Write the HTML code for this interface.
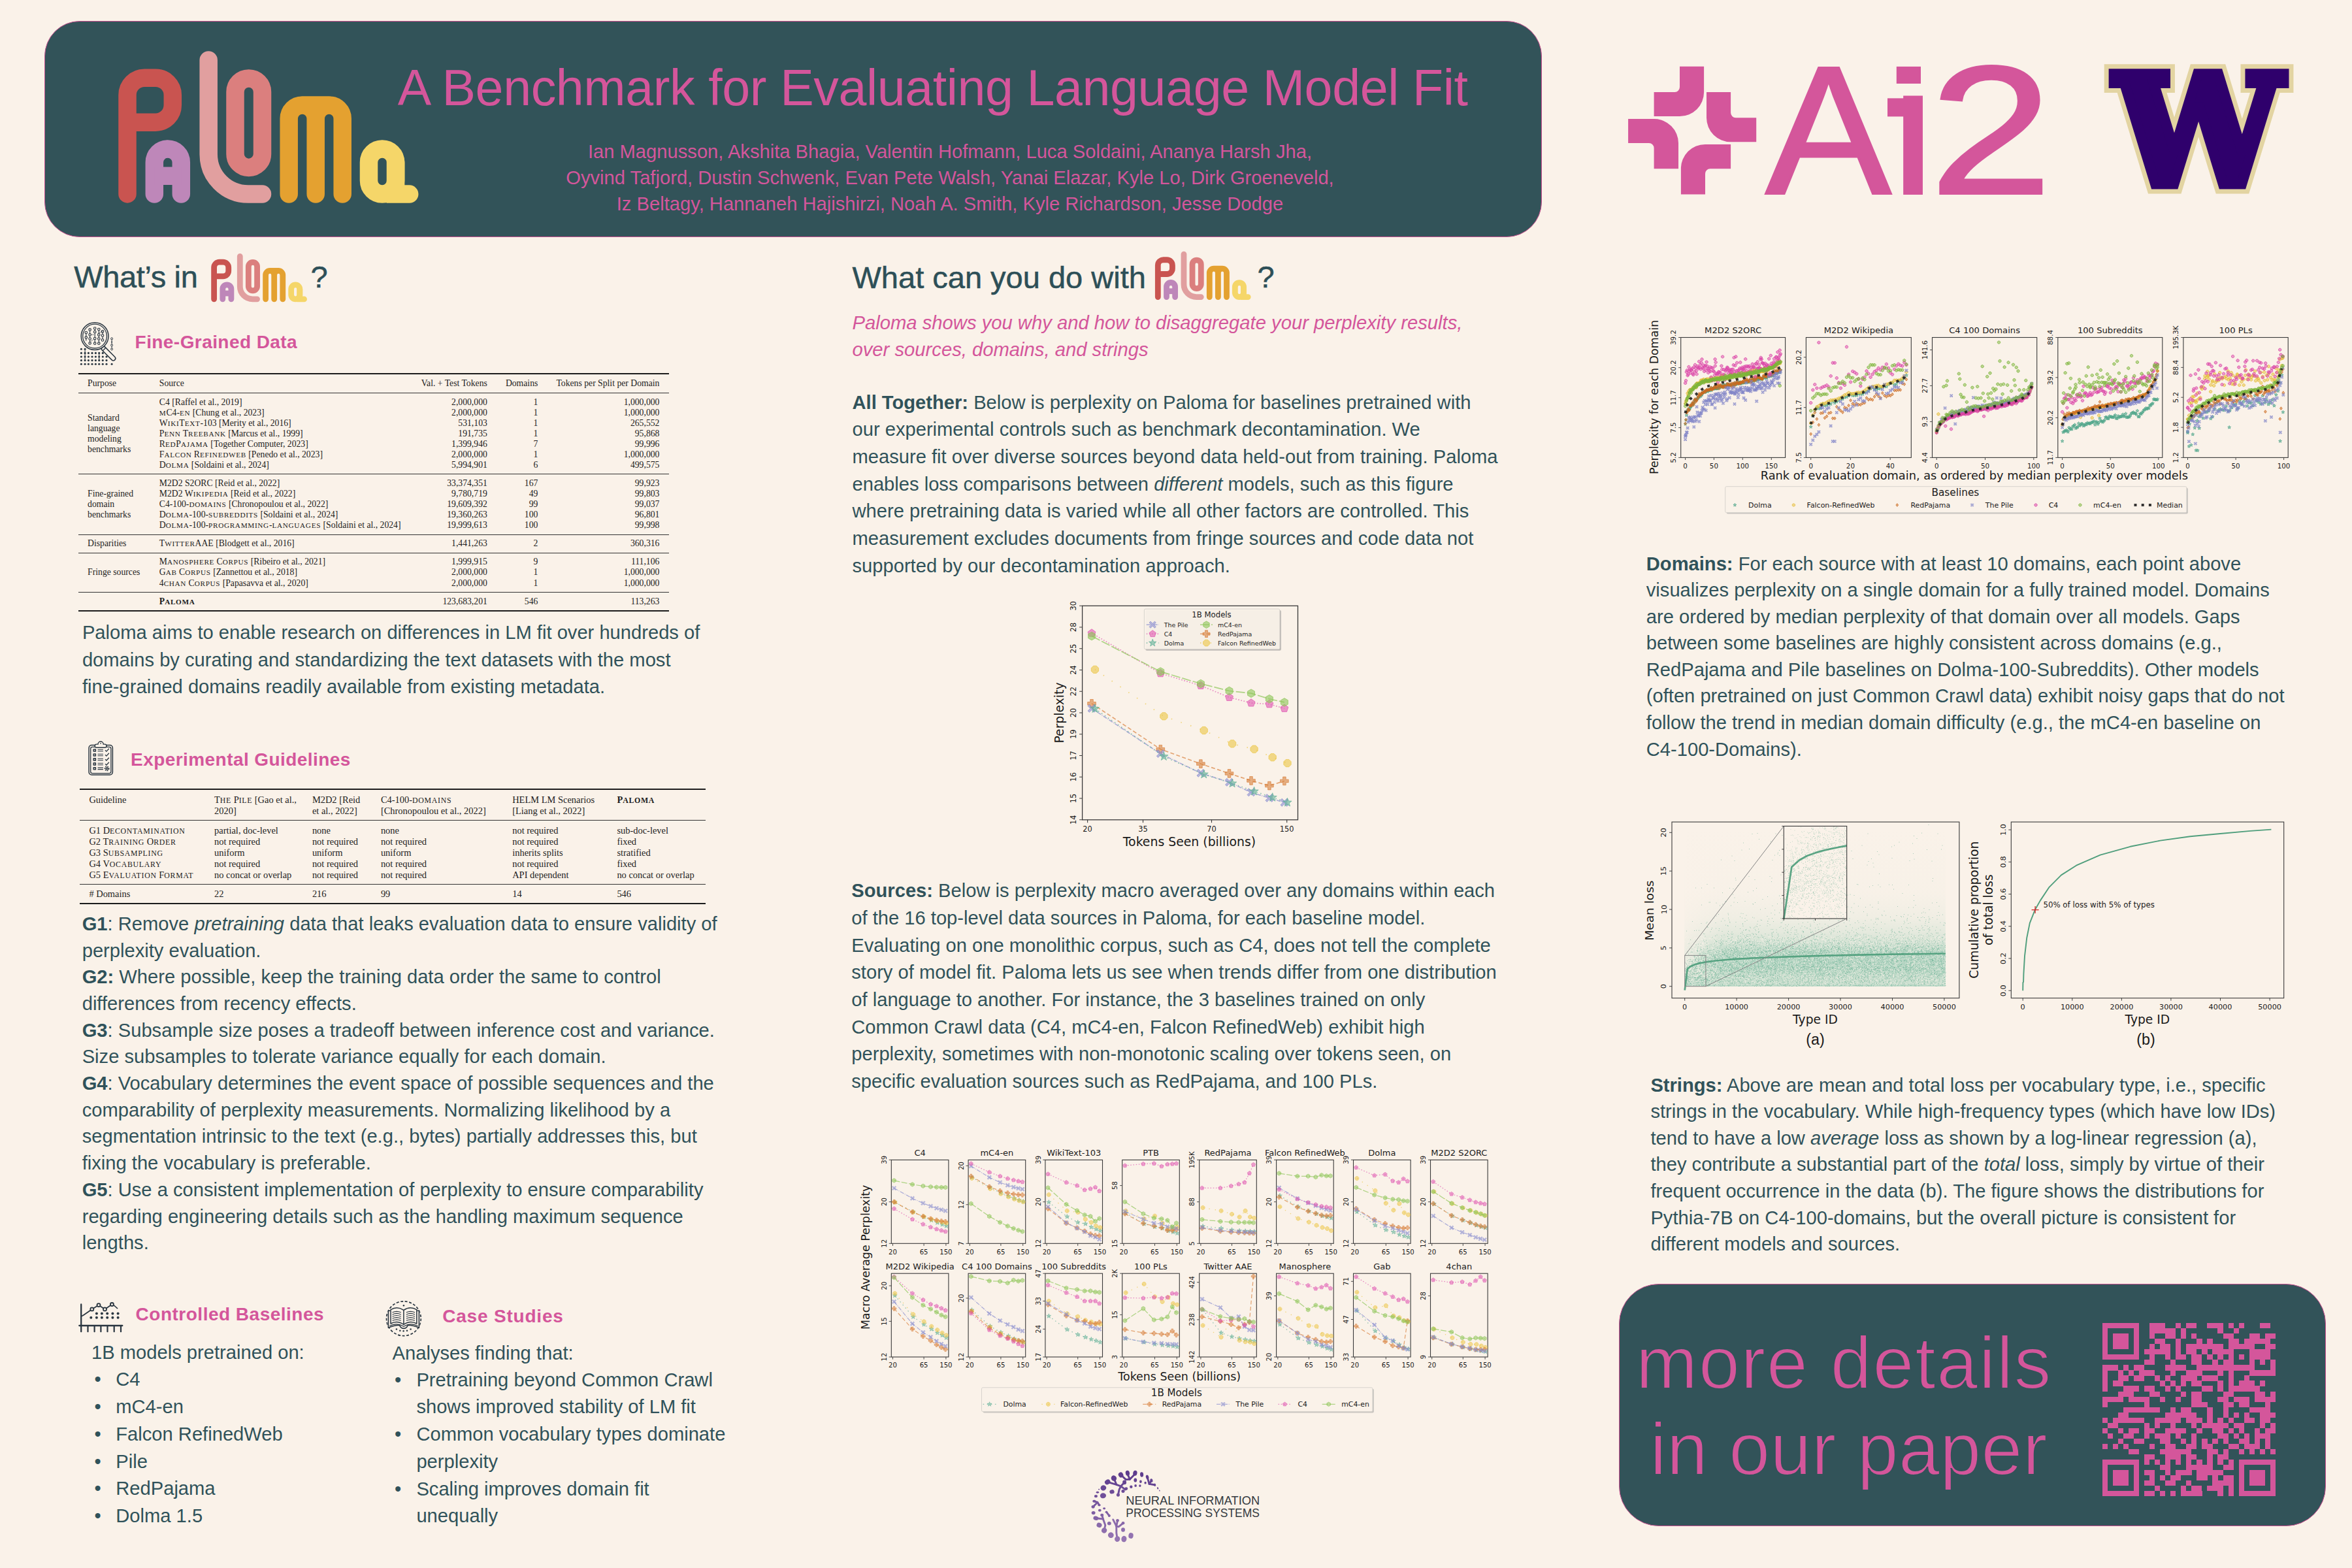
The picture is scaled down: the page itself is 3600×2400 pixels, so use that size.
<!DOCTYPE html>
<html lang="en">
<head>
<meta charset="utf-8">
<title>Paloma: A Benchmark for Evaluating Language Model Fit</title>
<style>
html,body{margin:0;padding:0;}
body{width:3600px;height:2400px;background:#faf2e9;position:relative;overflow:hidden;font-family:"Liberation Sans",Arial,sans-serif;color:#2f4f57;}
.abs{position:absolute;white-space:nowrap;}
.hdr{position:absolute;left:68px;top:32px;width:2290px;height:329px;background:#325359;border:1px solid #c9508f;border-radius:54px;}
.title{left:608.7px;top:79.15px;font-size:77.2px;letter-spacing:-0.41px;line-height:110px;color:#d4569b;}
.authors{left:854px;width:1200px;top:0;text-align:center;font-size:29.17px;line-height:40.4px;color:#d4569b;}
.h1{font-size:47px;line-height:60px;color:#2d4f57;letter-spacing:-0.35px;-webkit-text-stroke:0.5px #2d4f57;}
.h2{font-size:28px;font-weight:bold;letter-spacing:0.43px;line-height:40px;color:#d4569b;}
.p{font-size:29.15px;line-height:41.67px;color:#30525a;}
.p b{font-weight:bold;}
.pi{font-size:29.22px;line-height:40.8px;color:#d4569b;font-style:italic;}
.rule{position:absolute;background:#222;height:2px;}
.t{position:absolute;white-space:nowrap;font-family:"Liberation Serif","Times New Roman",serif;color:#1c1c1c;font-size:13.6px;line-height:16px;}
.sc{font-variant:small-caps;}
.ftr{position:absolute;left:2478.2px;top:1964.8px;width:1080px;height:369.5px;background:#325359;border:1px solid #c9508f;border-radius:61px;}
.big{font-size:113px;line-height:132px;color:#d4569b;-webkit-text-stroke:2px #325359;}
</style>
</head>
<body>
<!-- HEADER -->
<div class="hdr"></div>
<div class="abs title" id="title">A Benchmark for Evaluating Language Model Fit</div>
<div class="abs authors" id="authors" style="top:211.5px">Ian Magnusson, Akshita Bhagia, Valentin Hofmann, Luca Soldaini, Ananya Harsh Jha,<br>Oyvind Tafjord, Dustin Schwenk, Evan Pete Walsh, Yanai Elazar, Kyle Lo, Dirk Groeneveld,<br>Iz Beltagy, Hannaneh Hajishirzi, Noah A. Smith, Kyle Richardson, Jesse Dodge</div>
<svg style="position:absolute;left:170px;top:60px;overflow:visible" width="490" height="270" viewBox="170 60 490 270" ><g fill="none" stroke-width="27.5" stroke-linecap="round" stroke-linejoin="round"><path stroke="#c95450" d="M195,296.9V145.4A26.2,26.2 0 0 1 221.2,119.2H238.1A26.2,26.2 0 0 1 264.3,145.4V161A26.2,26.2 0 0 1 238.1,187.2H195"/><path stroke="#be87b9" d="M236.3,297V248.4A20.5,20.5 0 0 1 277.3,248.4V297"/><path stroke="#be87b9" stroke-linecap="butt" d="M236.3,269.3H277.3"/><path stroke="#e19f9f" d="M319.2,92V236.3A60.7,60.7 0 0 0 379.9,297H401.5"/><rect stroke="#db7f7e" x="360" y="120" width="41.5" height="136.4" rx="20.75"/><path stroke="#e4a130" d="M442.2,297V181.5A20.5,20.5 0 0 1 483.2,181.5V297M483.2,181.5A20.5,20.5 0 0 1 524.2,181.5V297M462.7,161H503.7"/><rect stroke="#f5d669" x="564.5" y="228" width="41.1" height="69.1" rx="20.5"/><path stroke="#f5d669" stroke-linejoin="miter" d="M605.6,248.5V297.1H626.7"/></g></svg>
<svg style="position:absolute;left:2480px;top:60px;overflow:visible" width="680" height="260" viewBox="2480 60 680 260"><path fill="#d4569b" d="M2571,101.8H2608.1V141A37,37 0 0 1 2571.1,178H2531.6V140.9H2563.4A7.6,7.6 0 0 0 2571,133.3ZM2612,140.9H2649.1V172.6A7.6,7.6 0 0 0 2656.7,180.2H2688.2V217.3H2649A37,37 0 0 1 2612,180.3ZM2492.1,182.1H2532A37,37 0 0 1 2569,219.1V258.3H2531.6V226.7A7.6,7.6 0 0 0 2524.0,219.1H2492.1ZM2572.9,297.6V258A37,37 0 0 1 2609.9,221H2649.1V258.3H2617.6A7.6,7.6 0 0 0 2610,265.90000000000003V297.6Z"/><g font-family="Liberation Sans, Arial, sans-serif" font-size="279.8" fill="#d4569b" stroke="#d4569b" stroke-width="3.5" stroke-linejoin="miter"><text id="ai2A" transform="translate(2702.4,296.15) scale(1.03,1)">A</text><text id="ai2i" transform="translate(2895.2,296.15) scale(1.06,1)">i</text><text id="ai22" transform="translate(2953.5,296.15) scale(1.205,1.0)">2</text></g><rect x="2885" y="80" width="66" height="62" fill="#faf2e9"/><rect x="2902.8" y="101.9" width="37.2" height="26.1" fill="#d4569b"/><rect x="2889" y="150.4" width="30" height="28" fill="#d4569b"/></svg>
<svg style="position:absolute;left:3200px;top:70px;overflow:visible" width="340" height="260" viewBox="3200 70 340 260"><text transform="translate(3237.5,282.2) scale(0.985,1.0)" font-family="DejaVu Serif, Liberation Serif, serif" font-weight="bold" font-size="231" fill="#e3d4a2" stroke="#e3d4a2" stroke-width="30" stroke-linejoin="miter" stroke-miterlimit="2.5">W</text><text transform="translate(3237.5,282.2) scale(0.985,1.0)" font-family="DejaVu Serif, Liberation Serif, serif" font-weight="bold" font-size="231" fill="#2f006c" stroke="#2f006c" stroke-width="16" stroke-linejoin="miter" stroke-miterlimit="2.5">W</text></svg>

<!-- LEFT COLUMN -->
<div class="abs h1" id="h1a" style="left:113.2px;top:394px">What’s in</div>
<div class="abs h1" id="h1aq" style="left:475.5px;top:394px">?</div>
<svg style="position:absolute;left:315px;top:380px;overflow:visible" width="165" height="90" viewBox="315 380 165 90" ><g fill="none" stroke-width="27.5" stroke-linecap="round" stroke-linejoin="round" transform="translate(265.31,362.98) scale(0.3195)"><path stroke="#c95450" d="M195,296.9V145.4A26.2,26.2 0 0 1 221.2,119.2H238.1A26.2,26.2 0 0 1 264.3,145.4V161A26.2,26.2 0 0 1 238.1,187.2H195"/><path stroke="#be87b9" d="M236.3,297V248.4A20.5,20.5 0 0 1 277.3,248.4V297"/><path stroke="#be87b9" stroke-linecap="butt" d="M236.3,269.3H277.3"/><path stroke="#e19f9f" d="M319.2,92V236.3A60.7,60.7 0 0 0 379.9,297H401.5"/><rect stroke="#db7f7e" x="360" y="120" width="41.5" height="136.4" rx="20.75"/><path stroke="#e4a130" d="M442.2,297V181.5A20.5,20.5 0 0 1 483.2,181.5V297M483.2,181.5A20.5,20.5 0 0 1 524.2,181.5V297M462.7,161H503.7"/><rect stroke="#f5d669" x="564.5" y="228" width="41.1" height="69.1" rx="20.5"/><path stroke="#f5d669" stroke-linejoin="miter" d="M605.6,248.5V297.1H626.7"/></g></svg>
<svg style="position:absolute;left:118px;top:490px;overflow:visible" width="64" height="72" viewBox="118 490 64 72"><circle cx="124.4" cy="534.2" r="1.55" fill="#2a3640"/><circle cx="130.1" cy="534.2" r="1.55" fill="#2a3640"/><circle cx="124.4" cy="540.4" r="1.55" fill="#2a3640"/><circle cx="130.1" cy="540.4" r="1.55" fill="#2a3640"/><circle cx="135.4" cy="540.4" r="1.55" fill="#2a3640"/><circle cx="141" cy="540.4" r="1.55" fill="#2a3640"/><circle cx="146.4" cy="540.4" r="1.55" fill="#2a3640"/><circle cx="151.7" cy="540.4" r="1.55" fill="#2a3640"/><circle cx="157.3" cy="540.4" r="1.55" fill="#2a3640"/><circle cx="124.4" cy="546" r="1.55" fill="#2a3640"/><circle cx="130.1" cy="546" r="1.55" fill="#2a3640"/><circle cx="135.4" cy="546" r="1.55" fill="#2a3640"/><circle cx="141" cy="546" r="1.55" fill="#2a3640"/><circle cx="146.4" cy="546" r="1.55" fill="#2a3640"/><circle cx="151.7" cy="546" r="1.55" fill="#2a3640"/><circle cx="157.3" cy="546" r="1.55" fill="#2a3640"/><circle cx="163" cy="546" r="1.55" fill="#2a3640"/><circle cx="124.4" cy="551.6" r="1.55" fill="#2a3640"/><circle cx="130.1" cy="551.6" r="1.55" fill="#2a3640"/><circle cx="135.4" cy="551.6" r="1.55" fill="#2a3640"/><circle cx="141" cy="551.6" r="1.55" fill="#2a3640"/><circle cx="146.4" cy="551.6" r="1.55" fill="#2a3640"/><circle cx="151.7" cy="551.6" r="1.55" fill="#2a3640"/><circle cx="157.3" cy="551.6" r="1.55" fill="#2a3640"/><circle cx="163" cy="551.6" r="1.55" fill="#2a3640"/><circle cx="124.4" cy="557.2" r="1.55" fill="#2a3640"/><circle cx="130.1" cy="557.2" r="1.55" fill="#2a3640"/><circle cx="135.4" cy="557.2" r="1.55" fill="#2a3640"/><circle cx="141" cy="557.2" r="1.55" fill="#2a3640"/><circle cx="146.4" cy="557.2" r="1.55" fill="#2a3640"/><circle cx="151.7" cy="557.2" r="1.55" fill="#2a3640"/><circle cx="157.3" cy="557.2" r="1.55" fill="#2a3640"/><circle cx="163" cy="557.2" r="1.55" fill="#2a3640"/><circle cx="171.1" cy="557.2" r="1.5" fill="#2a3640"/><path d="M130.1,534.2V551.6M151.7,540.4V551.6" stroke="#2a3640" stroke-width="1" fill="none"/><path d="M171.1,518.4V534.4" stroke="#2a3640" stroke-width="0.9" fill="none"/><circle cx="171.1" cy="518.4" r="1.5" fill="#faf2e9" stroke="#2a3640" stroke-width="1"/><circle cx="171.1" cy="528.4" r="1.5" fill="#faf2e9" stroke="#2a3640" stroke-width="1"/><circle cx="171.1" cy="534.4" r="1.5" fill="#faf2e9" stroke="#2a3640" stroke-width="1"/><circle cx="171.1" cy="523.5" r="1" fill="#2a3640"/><g transform="rotate(45 156.3 531.4)"><rect x="156.3" y="528.1" width="27.5" height="6.6" rx="3.3" fill="#faf2e9" stroke="#2a3640" stroke-width="1.5"/><path d="M160.8,528.1V534.7" stroke="#2a3640" stroke-width="1.3"/></g><circle cx="145.1" cy="514.6" r="20.9" fill="#faf2e9" stroke="#2a3640" stroke-width="1.5"/><circle cx="145.1" cy="514.6" r="18.4" fill="none" stroke="#2a3640" stroke-width="1.3"/><path d="M131.8,509V521.5" stroke="#2a3640" stroke-width="1.1"/><circle cx="131.8" cy="509" r="1.75" fill="#faf2e9" stroke="#2a3640" stroke-width="1.15"/><circle cx="131.8" cy="516.6" r="1.75" fill="#faf2e9" stroke="#2a3640" stroke-width="1.15"/><path d="M137.6,504.6V525.3" stroke="#2a3640" stroke-width="1.1"/><circle cx="137.6" cy="504.6" r="1.75" fill="#faf2e9" stroke="#2a3640" stroke-width="1.15"/><circle cx="137.6" cy="512.3" r="1.75" fill="#faf2e9" stroke="#2a3640" stroke-width="1.15"/><circle cx="137.6" cy="518.5" r="1.75" fill="#faf2e9" stroke="#2a3640" stroke-width="1.15"/><circle cx="137.6" cy="525.3" r="1.75" fill="#faf2e9" stroke="#2a3640" stroke-width="1.15"/><path d="M145.2,502.5V525.6" stroke="#2a3640" stroke-width="1.1"/><circle cx="145.2" cy="502.5" r="1.75" fill="#faf2e9" stroke="#2a3640" stroke-width="1.15"/><circle cx="145.2" cy="508" r="1.75" fill="#faf2e9" stroke="#2a3640" stroke-width="1.15"/><circle cx="145.2" cy="518" r="1.75" fill="#faf2e9" stroke="#2a3640" stroke-width="1.15"/><circle cx="145.2" cy="525.6" r="1.75" fill="#faf2e9" stroke="#2a3640" stroke-width="1.15"/><path d="M151.3,504V525.6" stroke="#2a3640" stroke-width="1.1"/><circle cx="151.3" cy="504" r="1.75" fill="#faf2e9" stroke="#2a3640" stroke-width="1.15"/><circle cx="151.3" cy="512.4" r="1.75" fill="#faf2e9" stroke="#2a3640" stroke-width="1.15"/><circle cx="151.3" cy="518.5" r="1.75" fill="#faf2e9" stroke="#2a3640" stroke-width="1.15"/><circle cx="151.3" cy="525.6" r="1.75" fill="#faf2e9" stroke="#2a3640" stroke-width="1.15"/><path d="M157,507.3V520.5" stroke="#2a3640" stroke-width="1.1"/><circle cx="157" cy="507.3" r="1.75" fill="#faf2e9" stroke="#2a3640" stroke-width="1.15"/><circle cx="157" cy="513.5" r="1.75" fill="#faf2e9" stroke="#2a3640" stroke-width="1.15"/><circle cx="157" cy="520.5" r="1.75" fill="#faf2e9" stroke="#2a3640" stroke-width="1.15"/><path d="M151.3,509.5L157,507.3M139,512.3H144M139,522.5L144,519" stroke="#2a3640" stroke-width="0.8" opacity="0.7"/></svg>
<div class="abs h2" id="h2a" style="left:206.6px;top:503.5px">Fine-Grained Data</div>
<div class="rule" style="left:120.4px;top:571.30px;width:903.4px;height:2.0px;background:#1c1c1c"></div><div class="rule" style="left:120.4px;top:600.90px;width:903.4px;height:1.2px;background:#333"></div><div class="t" style="left:134.1px;top:579.08px;font-size:13.7px;line-height:16px">Purpose</div><div class="t" style="left:243.8px;top:579.08px;font-size:13.7px;line-height:16px">Source</div><div class="t" style="right:2854.2px;top:579.08px;font-size:13.7px;line-height:16px">Val. + Test Tokens</div><div class="t" style="right:2776.7px;top:579.08px;font-size:13.7px;line-height:16px">Domains</div><div class="t" style="right:2590.6px;top:579.08px;font-size:13.7px;line-height:16px">Tokens per Split per Domain</div><div class="t" style="left:243.8px;top:607.58px;font-size:13.7px;line-height:16px">C4 [Raffel et al., 2019]</div><div class="t" style="right:2854.2px;top:607.58px;font-size:13.7px;line-height:16px">2,000,000</div><div class="t" style="right:2776.7px;top:607.58px;font-size:13.7px;line-height:16px">1</div><div class="t" style="right:2590.6px;top:607.58px;font-size:13.7px;line-height:16px">1,000,000</div><div class="t" style="left:243.8px;top:623.68px;font-size:13.7px;line-height:16px"><span style="font-size:82%;letter-spacing:0.06em">M</span>C4-<span style="font-size:82%;letter-spacing:0.06em">EN</span> [Chung et al., 2023]</div><div class="t" style="right:2854.2px;top:623.68px;font-size:13.7px;line-height:16px">2,000,000</div><div class="t" style="right:2776.7px;top:623.68px;font-size:13.7px;line-height:16px">1</div><div class="t" style="right:2590.6px;top:623.68px;font-size:13.7px;line-height:16px">1,000,000</div><div class="t" style="left:243.8px;top:639.78px;font-size:13.7px;line-height:16px">W<span style="font-size:82%;letter-spacing:0.06em">IKI</span>T<span style="font-size:82%;letter-spacing:0.06em">EXT</span>-103 [Merity et al., 2016]</div><div class="t" style="right:2854.2px;top:639.78px;font-size:13.7px;line-height:16px">531,103</div><div class="t" style="right:2776.7px;top:639.78px;font-size:13.7px;line-height:16px">1</div><div class="t" style="right:2590.6px;top:639.78px;font-size:13.7px;line-height:16px">265,552</div><div class="t" style="left:243.8px;top:655.88px;font-size:13.7px;line-height:16px">P<span style="font-size:82%;letter-spacing:0.06em">ENN</span> T<span style="font-size:82%;letter-spacing:0.06em">REEBANK</span> [Marcus et al., 1999]</div><div class="t" style="right:2854.2px;top:655.88px;font-size:13.7px;line-height:16px">191,735</div><div class="t" style="right:2776.7px;top:655.88px;font-size:13.7px;line-height:16px">1</div><div class="t" style="right:2590.6px;top:655.88px;font-size:13.7px;line-height:16px">95,868</div><div class="t" style="left:243.8px;top:671.98px;font-size:13.7px;line-height:16px">R<span style="font-size:82%;letter-spacing:0.06em">ED</span>P<span style="font-size:82%;letter-spacing:0.06em">AJAMA</span> [Together Computer, 2023]</div><div class="t" style="right:2854.2px;top:671.98px;font-size:13.7px;line-height:16px">1,399,946</div><div class="t" style="right:2776.7px;top:671.98px;font-size:13.7px;line-height:16px">7</div><div class="t" style="right:2590.6px;top:671.98px;font-size:13.7px;line-height:16px">99,996</div><div class="t" style="left:243.8px;top:688.08px;font-size:13.7px;line-height:16px">F<span style="font-size:82%;letter-spacing:0.06em">ALCON</span> R<span style="font-size:82%;letter-spacing:0.06em">EFINEDWEB</span> [Penedo et al., 2023]</div><div class="t" style="right:2854.2px;top:688.08px;font-size:13.7px;line-height:16px">2,000,000</div><div class="t" style="right:2776.7px;top:688.08px;font-size:13.7px;line-height:16px">1</div><div class="t" style="right:2590.6px;top:688.08px;font-size:13.7px;line-height:16px">1,000,000</div><div class="t" style="left:243.8px;top:704.18px;font-size:13.7px;line-height:16px">D<span style="font-size:82%;letter-spacing:0.06em">OLMA</span> [Soldaini et al., 2024]</div><div class="t" style="right:2854.2px;top:704.18px;font-size:13.7px;line-height:16px">5,994,901</div><div class="t" style="right:2776.7px;top:704.18px;font-size:13.7px;line-height:16px">6</div><div class="t" style="right:2590.6px;top:704.18px;font-size:13.7px;line-height:16px">499,575</div><div class="t" style="left:134.1px;top:631.68px;font-size:13.7px;line-height:16px">Standard</div><div class="t" style="left:134.1px;top:647.81px;font-size:13.7px;line-height:16px">language</div><div class="t" style="left:134.1px;top:663.94px;font-size:13.7px;line-height:16px">modeling</div><div class="t" style="left:134.1px;top:680.07px;font-size:13.7px;line-height:16px">benchmarks</div><div class="rule" style="left:120.4px;top:725.20px;width:903.4px;height:1.2px;background:#333"></div><div class="t" style="left:243.8px;top:731.78px;font-size:13.7px;line-height:16px">M2D2 S2ORC [Reid et al., 2022]</div><div class="t" style="right:2854.2px;top:731.78px;font-size:13.7px;line-height:16px">33,374,351</div><div class="t" style="right:2776.7px;top:731.78px;font-size:13.7px;line-height:16px">167</div><div class="t" style="right:2590.6px;top:731.78px;font-size:13.7px;line-height:16px">99,923</div><div class="t" style="left:243.8px;top:747.88px;font-size:13.7px;line-height:16px">M2D2 W<span style="font-size:82%;letter-spacing:0.06em">IKIPEDIA</span> [Reid et al., 2022]</div><div class="t" style="right:2854.2px;top:747.88px;font-size:13.7px;line-height:16px">9,780,719</div><div class="t" style="right:2776.7px;top:747.88px;font-size:13.7px;line-height:16px">49</div><div class="t" style="right:2590.6px;top:747.88px;font-size:13.7px;line-height:16px">99,803</div><div class="t" style="left:243.8px;top:763.98px;font-size:13.7px;line-height:16px">C4-100-<span style="font-size:82%;letter-spacing:0.06em">DOMAINS</span> [Chronopoulou et al., 2022]</div><div class="t" style="right:2854.2px;top:763.98px;font-size:13.7px;line-height:16px">19,609,392</div><div class="t" style="right:2776.7px;top:763.98px;font-size:13.7px;line-height:16px">99</div><div class="t" style="right:2590.6px;top:763.98px;font-size:13.7px;line-height:16px">99,037</div><div class="t" style="left:243.8px;top:780.08px;font-size:13.7px;line-height:16px">D<span style="font-size:82%;letter-spacing:0.06em">OLMA</span>-100-<span style="font-size:82%;letter-spacing:0.06em">SUBREDDITS</span> [Soldaini et al., 2024]</div><div class="t" style="right:2854.2px;top:780.08px;font-size:13.7px;line-height:16px">19,360,263</div><div class="t" style="right:2776.7px;top:780.08px;font-size:13.7px;line-height:16px">100</div><div class="t" style="right:2590.6px;top:780.08px;font-size:13.7px;line-height:16px">96,801</div><div class="t" style="left:243.8px;top:796.18px;font-size:13.7px;line-height:16px">D<span style="font-size:82%;letter-spacing:0.06em">OLMA</span>-100-<span style="font-size:82%;letter-spacing:0.06em">PROGRAMMING</span>-<span style="font-size:82%;letter-spacing:0.06em">LANGUAGES</span> [Soldaini et al., 2024]</div><div class="t" style="right:2854.2px;top:796.18px;font-size:13.7px;line-height:16px">19,999,613</div><div class="t" style="right:2776.7px;top:796.18px;font-size:13.7px;line-height:16px">100</div><div class="t" style="right:2590.6px;top:796.18px;font-size:13.7px;line-height:16px">99,998</div><div class="t" style="left:134.1px;top:747.88px;font-size:13.7px;line-height:16px">Fine-grained</div><div class="t" style="left:134.1px;top:763.98px;font-size:13.7px;line-height:16px">domain</div><div class="t" style="left:134.1px;top:780.08px;font-size:13.7px;line-height:16px">benchmarks</div><div class="rule" style="left:120.4px;top:817.50px;width:903.4px;height:1.2px;background:#333"></div><div class="t" style="left:243.8px;top:824.18px;font-size:13.7px;line-height:16px">T<span style="font-size:82%;letter-spacing:0.06em">WITTER</span>AAE [Blodgett et al., 2016]</div><div class="t" style="right:2854.2px;top:824.18px;font-size:13.7px;line-height:16px">1,441,263</div><div class="t" style="right:2776.7px;top:824.18px;font-size:13.7px;line-height:16px">2</div><div class="t" style="right:2590.6px;top:824.18px;font-size:13.7px;line-height:16px">360,316</div><div class="t" style="left:134.1px;top:824.18px;font-size:13.7px;line-height:16px">Disparities</div><div class="rule" style="left:120.4px;top:845.60px;width:903.4px;height:1.2px;background:#333"></div><div class="t" style="left:243.8px;top:852.38px;font-size:13.7px;line-height:16px">M<span style="font-size:82%;letter-spacing:0.06em">ANOSPHERE</span> C<span style="font-size:82%;letter-spacing:0.06em">ORPUS</span> [Ribeiro et al., 2021]</div><div class="t" style="right:2854.2px;top:852.38px;font-size:13.7px;line-height:16px">1,999,915</div><div class="t" style="right:2776.7px;top:852.38px;font-size:13.7px;line-height:16px">9</div><div class="t" style="right:2590.6px;top:852.38px;font-size:13.7px;line-height:16px">111,106</div><div class="t" style="left:243.8px;top:868.48px;font-size:13.7px;line-height:16px">G<span style="font-size:82%;letter-spacing:0.06em">AB</span> C<span style="font-size:82%;letter-spacing:0.06em">ORPUS</span> [Zannettou et al., 2018]</div><div class="t" style="right:2854.2px;top:868.48px;font-size:13.7px;line-height:16px">2,000,000</div><div class="t" style="right:2776.7px;top:868.48px;font-size:13.7px;line-height:16px">1</div><div class="t" style="right:2590.6px;top:868.48px;font-size:13.7px;line-height:16px">1,000,000</div><div class="t" style="left:243.8px;top:884.58px;font-size:13.7px;line-height:16px">4<span style="font-size:82%;letter-spacing:0.06em">CHAN</span> C<span style="font-size:82%;letter-spacing:0.06em">ORPUS</span> [Papasavva et al., 2020]</div><div class="t" style="right:2854.2px;top:884.58px;font-size:13.7px;line-height:16px">2,000,000</div><div class="t" style="right:2776.7px;top:884.58px;font-size:13.7px;line-height:16px">1</div><div class="t" style="right:2590.6px;top:884.58px;font-size:13.7px;line-height:16px">1,000,000</div><div class="t" style="left:134.1px;top:868.48px;font-size:13.7px;line-height:16px">Fringe sources</div><div class="rule" style="left:120.4px;top:905.80px;width:903.4px;height:1.2px;background:#333"></div><div class="t" style="left:243.8px;top:912.58px;font-size:13.7px;line-height:16px;font-weight:bold">P<span style="font-size:82%;letter-spacing:0.06em">ALOMA</span></div><div class="t" style="right:2854.2px;top:912.58px;font-size:13.7px;line-height:16px">123,683,201</div><div class="t" style="right:2776.7px;top:912.58px;font-size:13.7px;line-height:16px">546</div><div class="t" style="right:2590.6px;top:912.58px;font-size:13.7px;line-height:16px">113,263</div><div class="rule" style="left:120.4px;top:933.90px;width:903.4px;height:2.0px;background:#1c1c1c"></div>
<div class="abs p" id="p1" style="left:125.9px;top:948.40px;line-height:41.55px">Paloma aims to enable research on differences in LM fit over hundreds of<br>domains by curating and standardizing the text datasets with the most<br>fine-grained domains readily available from existing metadata.</div>
<svg style="position:absolute;left:132px;top:1130px;overflow:visible" width="46" height="60" viewBox="132 1130 46 60"><rect x="136.1" y="1140.6" width="36.3" height="45.4" rx="4.2" fill="none" stroke="#2a3640" stroke-width="1.5"/><rect x="138.7" y="1143.4" width="31.2" height="40.2" rx="2.6" fill="none" stroke="#2a3640" stroke-width="1.3"/><rect x="134.8" y="1183.6" width="0" height="0"/><path d="M147.8,1144.3h12.6a2.6,2.6 0 0 0 0,-5.2h-2.2a4,4 0 0 0 -8.2,0h-2.2a2.6,2.6 0 0 0 0,5.2z" fill="#faf2e9" stroke="#2a3640" stroke-width="1.4"/><circle cx="154.1" cy="1137.8" r="0.9" fill="#2a3640"/><rect x="142.5" y="1146.2" width="4.6" height="4.6" rx="0.8" fill="#2a3640"/><rect x="143.9" y="1147.6" width="1.8" height="1.8" fill="#faf2e9" opacity="0.75"/><path d="M149.6,1147.3H157.9M149.6,1149.8H157.9" stroke="#2a3640" stroke-width="1.05"/><path d="M161,1148.2l1.9,1.9l4,-4.3" fill="none" stroke="#2a3640" stroke-width="1.3"/><rect x="142.5" y="1153.2" width="4.6" height="4.6" rx="0.8" fill="#2a3640"/><rect x="143.9" y="1154.6" width="1.8" height="1.8" fill="#faf2e9" opacity="0.75"/><path d="M149.6,1154.3H157.9M149.6,1156.8H157.9" stroke="#2a3640" stroke-width="1.05"/><path d="M161,1155.2l1.9,1.9l4,-4.3" fill="none" stroke="#2a3640" stroke-width="1.3"/><rect x="142.5" y="1160.1000000000001" width="4.6" height="4.6" rx="0.8" fill="#2a3640"/><rect x="143.9" y="1161.5" width="1.8" height="1.8" fill="#faf2e9" opacity="0.75"/><path d="M149.6,1161.2H157.9M149.6,1163.7H157.9" stroke="#2a3640" stroke-width="1.05"/><path d="M161,1162.1000000000001l1.9,1.9l4,-4.3" fill="none" stroke="#2a3640" stroke-width="1.3"/><rect x="142.5" y="1167.1000000000001" width="4.6" height="4.6" rx="0.8" fill="#2a3640"/><rect x="143.9" y="1168.5" width="1.8" height="1.8" fill="#faf2e9" opacity="0.75"/><path d="M149.6,1168.2H157.9M149.6,1170.7H157.9" stroke="#2a3640" stroke-width="1.05"/><path d="M161,1169.1000000000001l1.9,1.9l4,-4.3" fill="none" stroke="#2a3640" stroke-width="1.3"/><rect x="142.5" y="1174.0" width="4.6" height="4.6" rx="0.8" fill="#2a3640"/><rect x="143.9" y="1175.3999999999999" width="1.8" height="1.8" fill="#faf2e9" opacity="0.75"/><path d="M149.6,1175.1H157.9M149.6,1177.6H157.9" stroke="#2a3640" stroke-width="1.05"/><circle cx="163.6" cy="1176.4" r="2.7" fill="none" stroke="#2a3640" stroke-width="2.4" stroke-dasharray="1.5 1.1"/><circle cx="163.6" cy="1176.4" r="1.6" fill="#2a3640" opacity="0.8"/></svg>
<div class="abs h2" id="h2b" style="left:200.1px;top:1143.3px">Experimental Guidelines</div>
<div class="rule" style="left:122.2px;top:1207.40px;width:957.4px;height:2.0px;background:#1c1c1c"></div><div class="t" style="left:136.4px;top:1216.12px;font-size:14.45px;line-height:16px">Guideline</div><div class="t" style="left:328.0px;top:1216.12px;font-size:14.45px;line-height:16px">T<span style="font-size:82%;letter-spacing:0.06em">HE</span> P<span style="font-size:82%;letter-spacing:0.06em">ILE</span> [Gao et al.,</div><div class="t" style="left:328.0px;top:1233.22px;font-size:14.45px;line-height:16px">2020]</div><div class="t" style="left:477.9px;top:1216.12px;font-size:14.45px;line-height:16px">M2D2 [Reid</div><div class="t" style="left:477.9px;top:1233.22px;font-size:14.45px;line-height:16px">et al., 2022]</div><div class="t" style="left:582.9px;top:1216.12px;font-size:14.45px;line-height:16px">C4-100-<span style="font-size:82%;letter-spacing:0.06em">DOMAINS</span></div><div class="t" style="left:582.9px;top:1233.22px;font-size:14.45px;line-height:16px">[Chronopoulou et al., 2022]</div><div class="t" style="left:784.2px;top:1216.12px;font-size:14.45px;line-height:16px">HELM LM Scenarios</div><div class="t" style="left:784.2px;top:1233.22px;font-size:14.45px;line-height:16px">[Liang et al., 2022]</div><div class="t" style="left:944.4px;top:1216.12px;font-size:14.45px;line-height:16px;font-weight:bold">P<span style="font-size:82%;letter-spacing:0.06em">ALOMA</span></div><div class="rule" style="left:122.2px;top:1255.20px;width:957.4px;height:1.2px;background:#333"></div><div class="t" style="left:136.4px;top:1262.92px;font-size:14.45px;line-height:16px">G1 D<span style="font-size:82%;letter-spacing:0.06em">ECONTAMINATION</span></div><div class="t" style="left:328.0px;top:1262.92px;font-size:14.45px;line-height:16px">partial, doc-level</div><div class="t" style="left:477.9px;top:1262.92px;font-size:14.45px;line-height:16px">none</div><div class="t" style="left:582.9px;top:1262.92px;font-size:14.45px;line-height:16px">none</div><div class="t" style="left:784.2px;top:1262.92px;font-size:14.45px;line-height:16px">not required</div><div class="t" style="left:944.4px;top:1262.92px;font-size:14.45px;line-height:16px">sub-doc-level</div><div class="t" style="left:136.4px;top:1279.87px;font-size:14.45px;line-height:16px">G2 T<span style="font-size:82%;letter-spacing:0.06em">RAINING</span> O<span style="font-size:82%;letter-spacing:0.06em">RDER</span></div><div class="t" style="left:328.0px;top:1279.87px;font-size:14.45px;line-height:16px">not required</div><div class="t" style="left:477.9px;top:1279.87px;font-size:14.45px;line-height:16px">not required</div><div class="t" style="left:582.9px;top:1279.87px;font-size:14.45px;line-height:16px">not required</div><div class="t" style="left:784.2px;top:1279.87px;font-size:14.45px;line-height:16px">not required</div><div class="t" style="left:944.4px;top:1279.87px;font-size:14.45px;line-height:16px">fixed</div><div class="t" style="left:136.4px;top:1296.82px;font-size:14.45px;line-height:16px">G3 S<span style="font-size:82%;letter-spacing:0.06em">UBSAMPLING</span></div><div class="t" style="left:328.0px;top:1296.82px;font-size:14.45px;line-height:16px">uniform</div><div class="t" style="left:477.9px;top:1296.82px;font-size:14.45px;line-height:16px">uniform</div><div class="t" style="left:582.9px;top:1296.82px;font-size:14.45px;line-height:16px">uniform</div><div class="t" style="left:784.2px;top:1296.82px;font-size:14.45px;line-height:16px">inherits splits</div><div class="t" style="left:944.4px;top:1296.82px;font-size:14.45px;line-height:16px">stratified</div><div class="t" style="left:136.4px;top:1313.77px;font-size:14.45px;line-height:16px">G4 V<span style="font-size:82%;letter-spacing:0.06em">OCABULARY</span></div><div class="t" style="left:328.0px;top:1313.77px;font-size:14.45px;line-height:16px">not required</div><div class="t" style="left:477.9px;top:1313.77px;font-size:14.45px;line-height:16px">not required</div><div class="t" style="left:582.9px;top:1313.77px;font-size:14.45px;line-height:16px">not required</div><div class="t" style="left:784.2px;top:1313.77px;font-size:14.45px;line-height:16px">not required</div><div class="t" style="left:944.4px;top:1313.77px;font-size:14.45px;line-height:16px">fixed</div><div class="t" style="left:136.4px;top:1330.72px;font-size:14.45px;line-height:16px">G5 E<span style="font-size:82%;letter-spacing:0.06em">VALUATION</span> F<span style="font-size:82%;letter-spacing:0.06em">ORMAT</span></div><div class="t" style="left:328.0px;top:1330.72px;font-size:14.45px;line-height:16px">no concat or overlap</div><div class="t" style="left:477.9px;top:1330.72px;font-size:14.45px;line-height:16px">not required</div><div class="t" style="left:582.9px;top:1330.72px;font-size:14.45px;line-height:16px">not required</div><div class="t" style="left:784.2px;top:1330.72px;font-size:14.45px;line-height:16px">API dependent</div><div class="t" style="left:944.4px;top:1330.72px;font-size:14.45px;line-height:16px">no concat or overlap</div><div class="rule" style="left:122.2px;top:1352.70px;width:957.4px;height:1.2px;background:#333"></div><div class="t" style="left:136.4px;top:1360.42px;font-size:14.45px;line-height:16px"># Domains</div><div class="t" style="left:328.0px;top:1360.42px;font-size:14.45px;line-height:16px">22</div><div class="t" style="left:477.9px;top:1360.42px;font-size:14.45px;line-height:16px">216</div><div class="t" style="left:582.9px;top:1360.42px;font-size:14.45px;line-height:16px">99</div><div class="t" style="left:784.2px;top:1360.42px;font-size:14.45px;line-height:16px">14</div><div class="t" style="left:944.4px;top:1360.42px;font-size:14.45px;line-height:16px">546</div><div class="rule" style="left:122.2px;top:1381.80px;width:957.4px;height:2.0px;background:#1c1c1c"></div>
<div class="abs p" id="p2" style="left:125.7px;top:1393.85px;line-height:40.7px"><b>G1</b>: Remove <i>pretraining</i> data that leaks evaluation data to ensure validity of<br>perplexity evaluation.<br><b>G2:</b> Where possible, keep the training data order the same to control<br>differences from recency effects.<br><b>G3</b>: Subsample size poses a tradeoff between inference cost and variance.<br>Size subsamples to tolerate variance equally for each domain.<br><b>G4</b>: Vocabulary determines the event space of possible sequences and the<br>comparability of perplexity measurements. Normalizing likelihood by a<br>segmentation intrinsic to the text (e.g., bytes) partially addresses this, but<br>fixing the vocabulary is preferable.<br><b>G5</b>: Use a consistent implementation of perplexity to ensure comparability<br>regarding engineering details such as the handling maximum sequence<br>lengths.</div>
<svg style="position:absolute;left:118px;top:1990px;overflow:visible" width="74" height="52" viewBox="118 1990 74 52"><path d="M124.2,1996.5V2038.2M121.3,2029H187.3" stroke="#2a3640" stroke-width="2.3" stroke-linecap="round" fill="none"/><path d="M134.5,2029V2038.2M144.6,2029V2038.2M154.4,2029V2038.2M164.5,2029V2038.2M174.7,2029V2038.2M185,2029V2038.2" stroke="#2a3640" stroke-width="2.2" stroke-linecap="round" fill="none"/><path d="M124.6,2014.5Q126,2014.2 127,2013.4L140.8,2003.9L151,1997.6L160.5,2003.9L171.4,1996.5Q176,1998.5 180,2003" stroke="#2a3640" stroke-width="1.8" fill="none" stroke-linejoin="round"/><circle cx="140.8" cy="2003.9" r="2.5" fill="#faf2e9" stroke="#2a3640" stroke-width="1.8"/><circle cx="151" cy="1997.6" r="2.5" fill="#faf2e9" stroke="#2a3640" stroke-width="1.8"/><circle cx="160.5" cy="2003.9" r="2.5" fill="#faf2e9" stroke="#2a3640" stroke-width="1.8"/><circle cx="171.4" cy="1996.5" r="2.5" fill="#faf2e9" stroke="#2a3640" stroke-width="1.8"/><circle cx="147.9" cy="2010.4" r="2" fill="#2a3640"/><circle cx="155.9" cy="2010.4" r="2" fill="#2a3640"/><circle cx="164.2" cy="2010.4" r="2" fill="#2a3640"/><circle cx="172.4" cy="2010.4" r="2" fill="#2a3640"/><circle cx="180.6" cy="2010.4" r="2" fill="#2a3640"/><circle cx="139.3" cy="2016.8" r="2" fill="#2a3640"/><circle cx="147.9" cy="2016.8" r="2" fill="#2a3640"/><circle cx="155.9" cy="2016.8" r="2" fill="#2a3640"/><circle cx="164.2" cy="2016.8" r="2" fill="#2a3640"/><circle cx="172.4" cy="2016.8" r="2" fill="#2a3640"/><circle cx="180.6" cy="2016.8" r="2" fill="#2a3640"/></svg>
<div class="abs h2" id="h2c" style="left:207.6px;top:1992.4px;letter-spacing:0.5px">Controlled Baselines</div>
<svg style="position:absolute;left:588px;top:1988px;overflow:visible" width="62" height="60" viewBox="588 1988 62 60"><circle cx="617.9" cy="2018.2" r="26.4" fill="none" stroke="#2a3640" stroke-width="1.7" stroke-dasharray="4 2.6"/><path d="M593.4,2006.3L617.9,2003.5L642.4,2006.3V2032.5L626,2029L617.9,2034L610,2029L593.4,2032.5Z" fill="#faf2e9"/><path d="M597.5,2006.3H594.4V2032.2Q604,2028.5 611.5,2028.3Q613.5,2033.4 617.9,2033.4Q622.3,2033.4 624.3,2028.3Q632,2028.5 641.4,2032.2V2006.3H638.3" fill="none" stroke="#2a3640" stroke-width="1.6" stroke-linejoin="round"/><path d="M617.9,2005.3Q608,1998.5 598,2004.6V2026Q608,2020.5 617.9,2027.5Q627.8,2020.5 637.8,2026V2004.6Q627.8,1998.5 617.9,2005.3V2027.5" fill="none" stroke="#2a3640" stroke-width="1.5" stroke-linejoin="round"/><path d="M596.2,2029.5Q607,2024 617.9,2030.2Q628.8,2024 639.6,2029.5" fill="none" stroke="#2a3640" stroke-width="1.2"/><path d="M600.6,2008.8000000000002Q607,2005.8000000000002 613.7,2008.8000000000002M621.9,2008.8000000000002Q628.4,2005.8000000000002 635,2008.8000000000002" fill="none" stroke="#2a3640" stroke-width="1.15"/><path d="M600.6,2011.9Q607,2008.9 613.7,2011.9M621.9,2011.9Q628.4,2008.9 635,2011.9" fill="none" stroke="#2a3640" stroke-width="1.15"/><path d="M600.6,2015.0Q607,2012.0 613.7,2015.0M621.9,2015.0Q628.4,2012.0 635,2015.0" fill="none" stroke="#2a3640" stroke-width="1.15"/><path d="M600.6,2018.1000000000001Q607,2015.1000000000001 613.7,2018.1000000000001M621.9,2018.1000000000001Q628.4,2015.1000000000001 635,2018.1000000000001" fill="none" stroke="#2a3640" stroke-width="1.15"/><path d="M600.6,2021.3000000000002Q607,2018.3000000000002 613.7,2021.3000000000002M621.9,2021.3000000000002Q628.4,2018.3000000000002 635,2021.3000000000002" fill="none" stroke="#2a3640" stroke-width="1.15"/><circle cx="617.9" cy="1998.3" r="1.25" fill="#2a3640"/><circle cx="606.9" cy="2034.5" r="1.25" fill="#2a3640"/><circle cx="612.3" cy="2036.8" r="1.25" fill="#2a3640"/><circle cx="617.6" cy="2037.2" r="1.25" fill="#2a3640"/><circle cx="623" cy="2036.8" r="1.25" fill="#2a3640"/><circle cx="628.6" cy="2034.5" r="1.25" fill="#2a3640"/></svg>
<div class="abs h2" id="h2d" style="left:677.2px;top:1995.1px;letter-spacing:0.8px">Case Studies</div>
<div class="abs p" id="p3" style="left:140.1px;top:2050.26px">1B models pretrained on:</div>
<div class="abs p" id="p3l" style="left:177.3px;top:2091.30px;line-height:41.8px">C4<br>mC4-en<br>Falcon RefinedWeb<br>Pile<br>RedPajama<br>Dolma 1.5</div>
<div class="abs p" id="p3b" style="left:144.5px;top:2091.30px;line-height:41.8px">•<br>•<br>•<br>•<br>•<br>•</div>
<div class="abs p" id="p4" style="left:600.6px;top:2050.67px">Analyses finding that:</div>
<div class="abs p" id="p4l" style="left:637.4px;top:2091.51px;line-height:41.78px">Pretraining beyond Common Crawl<br>shows improved stability of LM fit<br>Common vocabulary types dominate<br>perplexity<br>Scaling improves domain fit<br>unequally</div>
<div class="abs p" id="p4b" style="left:603.9px;top:2091.51px;line-height:41.78px">•<br><br>•<br><br>•<br><br></div>

<!-- MIDDLE COLUMN -->
<div class="abs h1" id="h1b" style="left:1304.5px;top:395px;letter-spacing:0px">What can you do with</div>
<div class="abs h1" id="h1bq" style="left:1924.5px;top:394px">?</div>
<svg style="position:absolute;left:1760px;top:378px;overflow:visible" width="165" height="90" viewBox="1760 378 165 90" ><g fill="none" stroke-width="27.5" stroke-linecap="round" stroke-linejoin="round" transform="translate(1710.01,359.68) scale(0.3195)"><path stroke="#c95450" d="M195,296.9V145.4A26.2,26.2 0 0 1 221.2,119.2H238.1A26.2,26.2 0 0 1 264.3,145.4V161A26.2,26.2 0 0 1 238.1,187.2H195"/><path stroke="#be87b9" d="M236.3,297V248.4A20.5,20.5 0 0 1 277.3,248.4V297"/><path stroke="#be87b9" stroke-linecap="butt" d="M236.3,269.3H277.3"/><path stroke="#e19f9f" d="M319.2,92V236.3A60.7,60.7 0 0 0 379.9,297H401.5"/><rect stroke="#db7f7e" x="360" y="120" width="41.5" height="136.4" rx="20.75"/><path stroke="#e4a130" d="M442.2,297V181.5A20.5,20.5 0 0 1 483.2,181.5V297M483.2,181.5A20.5,20.5 0 0 1 524.2,181.5V297M462.7,161H503.7"/><rect stroke="#f5d669" x="564.5" y="228" width="41.1" height="69.1" rx="20.5"/><path stroke="#f5d669" stroke-linejoin="miter" d="M605.6,248.5V297.1H626.7"/></g></svg>
<div class="abs pi" id="pi" style="left:1304.5px;top:474.30px">Paloma shows you why and how to disaggregate your perplexity results,<br>over sources, domains, and strings</div>
<div class="abs p" id="p5" style="left:1304.5px;top:595.60px"><b>All Together:</b> Below is perplexity on Paloma for baselines pretrained with<br>our experimental controls such as benchmark decontamination. We<br>measure fit over diverse sources beyond data held-out from training. Paloma<br>enables loss comparisons between <i>different</i> models, such as this figure<br>where pretraining data is varied while all other factors are controlled. This<br>measurement excludes documents from fringe sources and code data not<br>supported by our decontamination approach.</div>
<svg style="position:absolute;left:1600px;top:910px;overflow:visible" width="420" height="400" viewBox="1600 910 420 400" font-family="DejaVu Sans, Liberation Sans, sans-serif" text-anchor="middle" fill="#1a1a1a"><rect x="1656.6" y="927.3" width="329.9000000000001" height="327.5" fill="none" stroke="#3a3a3a" stroke-width="1.3"/><text x="1647.1" y="1254.8" font-size="11.4" transform="rotate(-90 1647.1 1254.8)">14</text><text x="1647.1" y="1222.0" font-size="11.4" transform="rotate(-90 1647.1 1222.0)">15</text><text x="1647.1" y="1189.3" font-size="11.4" transform="rotate(-90 1647.1 1189.3)">16</text><text x="1647.1" y="1156.5" font-size="11.4" transform="rotate(-90 1647.1 1156.5)">17</text><text x="1647.1" y="1123.8" font-size="11.4" transform="rotate(-90 1647.1 1123.8)">19</text><text x="1647.1" y="1091.0" font-size="11.4" transform="rotate(-90 1647.1 1091.0)">20</text><text x="1647.1" y="1058.3" font-size="11.4" transform="rotate(-90 1647.1 1058.3)">22</text><text x="1647.1" y="1025.5" font-size="11.4" transform="rotate(-90 1647.1 1025.5)">24</text><text x="1647.1" y="992.8" font-size="11.4" transform="rotate(-90 1647.1 992.8)">25</text><text x="1647.1" y="960.0" font-size="11.4" transform="rotate(-90 1647.1 960.0)">28</text><text x="1647.1" y="927.3" font-size="11.4" transform="rotate(-90 1647.1 927.3)">30</text><text x="1664.6" y="1273.3" font-size="11.4">20</text><text x="1749.5" y="1273.3" font-size="11.4">35</text><text x="1854.5" y="1273.3" font-size="11.4">70</text><text x="1969.7" y="1273.3" font-size="11.4">150</text><path d="M1656.6,1254.8h-4.5M1656.6,1222.0h-4.5M1656.6,1189.3h-4.5M1656.6,1156.5h-4.5M1656.6,1123.8h-4.5M1656.6,1091.0h-4.5M1656.6,1058.3h-4.5M1656.6,1025.5h-4.5M1656.6,992.8h-4.5M1656.6,960.0h-4.5M1656.6,927.3h-4.5M1664.6,1254.8v4.5M1749.5,1254.8v4.5M1854.5,1254.8v4.5M1969.7,1254.8v4.5" stroke="#3a3a3a" stroke-width="1.1"/><text x="1820.5" y="1294.5" font-size="18.85">Tokens Seen (billions)</text><text x="1627.5" y="1091.0" font-size="18.8" transform="rotate(-90 1627.5 1091.0)">Perplexity</text><defs><marker id="apile" markerUnits="userSpaceOnUse" markerWidth="18.4" markerHeight="18.4" viewBox="-9.2 -9.2 18.4 18.4" refX="0" refY="0" overflow="visible"><polygon points="-5.98,-3.72 -3.72,-5.98 0.00,-2.27 3.72,-5.98 5.98,-3.72 2.27,0.00 5.98,3.72 3.72,5.98 0.00,2.27 -3.72,5.98 -5.98,3.72 -2.27,0.00" fill="#8c90d0" fill-opacity="0.62" stroke="#8c90d0" stroke-opacity="0.9" stroke-width="0.8"/></marker><marker id="ac4" markerUnits="userSpaceOnUse" markerWidth="18.4" markerHeight="18.4" viewBox="-9.2 -9.2 18.4 18.4" refX="0" refY="0" overflow="visible"><polygon points="0.00,-6.30 5.99,-1.95 3.70,5.10 -3.70,5.10 -5.99,-1.95" fill="#e05ab2" fill-opacity="0.62" stroke="#e05ab2" stroke-opacity="0.9" stroke-width="0.8"/></marker><marker id="adolma" markerUnits="userSpaceOnUse" markerWidth="18.4" markerHeight="18.4" viewBox="-9.2 -9.2 18.4 18.4" refX="0" refY="0" overflow="visible"><polygon points="0.00,-6.93 1.67,-2.29 6.59,-2.14 2.70,0.88 4.07,5.61 0.00,2.83 -4.07,5.61 -2.70,0.88 -6.59,-2.14 -1.67,-2.29" fill="#62b198" fill-opacity="0.62" stroke="#62b198" stroke-opacity="0.9" stroke-width="0.8"/></marker><marker id="amc4" markerUnits="userSpaceOnUse" markerWidth="18.4" markerHeight="18.4" viewBox="-9.2 -9.2 18.4 18.4" refX="0" refY="0" overflow="visible"><polygon points="0.00,-6.30 5.46,-3.15 5.46,3.15 0.00,6.30 -5.46,3.15 -5.46,-3.15" fill="#8fc65a" fill-opacity="0.62" stroke="#8fc65a" stroke-opacity="0.9" stroke-width="0.8"/></marker><marker id="arp" markerUnits="userSpaceOnUse" markerWidth="18.4" markerHeight="18.4" viewBox="-9.2 -9.2 18.4 18.4" refX="0" refY="0" overflow="visible"><polygon points="-2.27,-6.30 2.27,-6.30 2.27,-2.27 6.30,-2.27 6.30,2.27 2.27,2.27 2.27,6.30 -2.27,6.30 -2.27,2.27 -6.30,2.27 -6.30,-2.27 -2.27,-2.27" fill="#d9823f" fill-opacity="0.62" stroke="#d9823f" stroke-opacity="0.9" stroke-width="0.8"/></marker><marker id="afalcon" markerUnits="userSpaceOnUse" markerWidth="18.4" markerHeight="18.4" viewBox="-9.2 -9.2 18.4 18.4" refX="0" refY="0" overflow="visible"><polygon points="2.34,-5.65 5.65,-2.34 5.65,2.34 2.34,5.65 -2.34,5.65 -5.65,2.34 -5.65,-2.34 -2.34,-5.65" fill="#ecc748" fill-opacity="0.62" stroke="#ecc748" stroke-opacity="0.9" stroke-width="0.8"/></marker></defs><defs><marker id="bpile" markerUnits="userSpaceOnUse" markerWidth="16.0" markerHeight="16.0" viewBox="-8.0 -8.0 16.0 16.0" refX="0" refY="0" overflow="visible"><polygon points="-5.13,-3.19 -3.19,-5.13 0.00,-1.94 3.19,-5.13 5.13,-3.19 1.94,0.00 5.13,3.19 3.19,5.13 0.00,1.94 -3.19,5.13 -5.13,3.19 -1.94,0.00" fill="#8c90d0" fill-opacity="0.62" stroke="#8c90d0" stroke-opacity="0.9" stroke-width="0.8"/></marker><marker id="bc4" markerUnits="userSpaceOnUse" markerWidth="16.0" markerHeight="16.0" viewBox="-8.0 -8.0 16.0 16.0" refX="0" refY="0" overflow="visible"><polygon points="0.00,-5.40 5.14,-1.67 3.17,4.37 -3.17,4.37 -5.14,-1.67" fill="#e05ab2" fill-opacity="0.62" stroke="#e05ab2" stroke-opacity="0.9" stroke-width="0.8"/></marker><marker id="bdolma" markerUnits="userSpaceOnUse" markerWidth="16.0" markerHeight="16.0" viewBox="-8.0 -8.0 16.0 16.0" refX="0" refY="0" overflow="visible"><polygon points="0.00,-5.94 1.43,-1.97 5.65,-1.84 2.31,0.75 3.49,4.81 0.00,2.43 -3.49,4.81 -2.31,0.75 -5.65,-1.84 -1.43,-1.97" fill="#62b198" fill-opacity="0.62" stroke="#62b198" stroke-opacity="0.9" stroke-width="0.8"/></marker><marker id="bmc4" markerUnits="userSpaceOnUse" markerWidth="16.0" markerHeight="16.0" viewBox="-8.0 -8.0 16.0 16.0" refX="0" refY="0" overflow="visible"><polygon points="0.00,-5.40 4.68,-2.70 4.68,2.70 0.00,5.40 -4.68,2.70 -4.68,-2.70" fill="#8fc65a" fill-opacity="0.62" stroke="#8fc65a" stroke-opacity="0.9" stroke-width="0.8"/></marker><marker id="brp" markerUnits="userSpaceOnUse" markerWidth="16.0" markerHeight="16.0" viewBox="-8.0 -8.0 16.0 16.0" refX="0" refY="0" overflow="visible"><polygon points="-1.94,-5.40 1.94,-5.40 1.94,-1.94 5.40,-1.94 5.40,1.94 1.94,1.94 1.94,5.40 -1.94,5.40 -1.94,1.94 -5.40,1.94 -5.40,-1.94 -1.94,-1.94" fill="#d9823f" fill-opacity="0.62" stroke="#d9823f" stroke-opacity="0.9" stroke-width="0.8"/></marker><marker id="bfalcon" markerUnits="userSpaceOnUse" markerWidth="16.0" markerHeight="16.0" viewBox="-8.0 -8.0 16.0 16.0" refX="0" refY="0" overflow="visible"><polygon points="2.00,-4.84 4.84,-2.00 4.84,2.00 2.00,4.84 -2.00,4.84 -4.84,2.00 -4.84,-2.00 -2.00,-4.84" fill="#ecc748" fill-opacity="0.62" stroke="#ecc748" stroke-opacity="0.9" stroke-width="0.8"/></marker></defs><path d="M1671,969.1L1776.3,1030.7L1837.9,1049.4L1881.5,1067.4L1915,1076L1942.9,1077.8L1965.9,1084.3" fill="none" stroke="#e05ab2" stroke-width="1.7" stroke-opacity="0.7" stroke-dasharray="1.6 2.6" marker-start="url(#ac4)" marker-mid="url(#ac4)" marker-end="url(#ac4)"/><path d="M1671,973.6L1776.3,1028L1837.9,1046.5L1881.5,1057.5L1915,1061.2L1942.9,1069.8L1965.9,1074.9" fill="none" stroke="#8fc65a" stroke-width="1.7" stroke-opacity="0.7" stroke-dasharray="14 3" marker-start="url(#amc4)" marker-mid="url(#amc4)" marker-end="url(#amc4)"/><path d="M1675.9,1024.8L1781.4,1096.3L1842.7,1118L1886.1,1138.4L1919.6,1146.7L1947.7,1159.2L1970.5,1168.1" fill="none" stroke="#ecc748" stroke-width="1.7" stroke-opacity="0.7" stroke-dasharray="1.5 14" marker-start="url(#afalcon)" marker-mid="url(#afalcon)" marker-end="url(#afalcon)"/><path d="M1671,1076.8L1776.3,1146.7L1837.9,1169.1L1881.5,1183.9L1915,1194.9L1942.9,1202.6L1965.9,1195.4" fill="none" stroke="#d9823f" stroke-width="1.7" stroke-opacity="0.7" stroke-dasharray="6 3.5" marker-start="url(#arp)" marker-mid="url(#arp)" marker-end="url(#arp)"/><path d="M1671,1084.3L1776.3,1153.6L1837.9,1183.3L1881.5,1197.3L1915,1212.8L1942.9,1221.4L1965.9,1228.3" fill="none" stroke="#8c90d0" stroke-width="1.7" stroke-opacity="0.7" stroke-dasharray="6.4 1.6 1 1.6" marker-start="url(#apile)" marker-mid="url(#apile)" marker-end="url(#apile)"/><path d="M1675.9,1084.8L1781.4,1157.9L1842.7,1185.2L1886.1,1199.1L1919.6,1211.2L1947.7,1220.6L1970.5,1228.3" fill="none" stroke="#62b198" stroke-width="1.7" stroke-opacity="0.7" stroke-dasharray="1.6 4.5" marker-start="url(#adolma)" marker-mid="url(#adolma)" marker-end="url(#adolma)"/><rect x="1753.4" y="934.1" width="207.5" height="61.60000000000002" rx="2" fill="#8a8a8a" opacity="0.55"/><rect x="1751.4" y="932.1" width="207.5" height="61.60000000000002" rx="2" fill="#faf2e9" fill-opacity="0.94" stroke="#d4d0ca" stroke-width="0.9"/><text x="1854.5" y="945.2" font-size="11.7">1B Models</text><path d="M1754.7,956.2L1764.2,956.2L1773.7,956.2" fill="none" stroke="#8c90d0" stroke-width="1.6" stroke-opacity="0.7" stroke-dasharray="6.4 1.6 1 1.6" marker-mid="url(#bpile)"/><text x="1781.7" y="959.6" font-size="9.41" text-anchor="start">The Pile</text><path d="M1754.7,970.2L1764.2,970.2L1773.7,970.2" fill="none" stroke="#e05ab2" stroke-width="1.6" stroke-opacity="0.7" stroke-dasharray="1.6 2.6" marker-mid="url(#bc4)"/><text x="1781.7" y="973.6" font-size="9.41" text-anchor="start">C4</text><path d="M1754.7,984.1L1764.2,984.1L1773.7,984.1" fill="none" stroke="#62b198" stroke-width="1.6" stroke-opacity="0.7" stroke-dasharray="1.6 4.5" marker-mid="url(#bdolma)"/><text x="1781.7" y="987.5" font-size="9.41" text-anchor="start">Dolma</text><path d="M1837,956.2L1846.5,956.2L1856,956.2" fill="none" stroke="#8fc65a" stroke-width="1.6" stroke-opacity="0.7" stroke-dasharray="14 3" marker-mid="url(#bmc4)"/><text x="1864.1" y="959.6" font-size="9.41" text-anchor="start">mC4-en</text><path d="M1837,970.2L1846.5,970.2L1856,970.2" fill="none" stroke="#d9823f" stroke-width="1.6" stroke-opacity="0.7" stroke-dasharray="6 3.5" marker-mid="url(#brp)"/><text x="1864.1" y="973.6" font-size="9.41" text-anchor="start">RedPajama</text><path d="M1837,984.1L1846.5,984.1L1856,984.1" fill="none" stroke="#ecc748" stroke-width="1.6" stroke-opacity="0.7" stroke-dasharray="1.5 14" marker-mid="url(#bfalcon)"/><text x="1864.1" y="987.5" font-size="9.41" text-anchor="start">Falcon RefinedWeb</text></svg>
<div class="abs p" id="p6" style="left:1303.3px;top:1343.25px;line-height:41.69px"><b>Sources:</b> Below is perplexity macro averaged over any domains within each<br>of the 16 top-level data sources in Paloma, for each baseline model.<br>Evaluating on one monolithic corpus, such as C4, does not tell the complete<br>story of model fit. Paloma lets us see when trends differ from one distribution<br>of language to another. For instance, the 3 baselines trained on only<br>Common Crawl data (C4, mC4-en, Falcon RefinedWeb) exhibit high<br>perplexity, sometimes with non-monotonic scaling over tokens seen, on<br>specific evaluation sources such as RedPajama, and 100 PLs.</div>
<svg style="position:absolute;left:1300px;top:1745px;overflow:visible" width="1010" height="430" viewBox="1300 1745 1010 430" font-family="DejaVu Sans, Liberation Sans, sans-serif" text-anchor="middle" fill="#1a1a1a"><defs><marker id="cpile" markerUnits="userSpaceOnUse" markerWidth="10.6" markerHeight="10.6" viewBox="-5.3 -5.3 10.6 10.6" refX="0" refY="0" overflow="visible"><polygon points="-3.13,-1.95 -1.95,-3.13 0.00,-1.19 1.95,-3.13 3.13,-1.95 1.19,0.00 3.13,1.95 1.95,3.13 0.00,1.19 -1.95,3.13 -3.13,1.95 -1.19,0.00" fill="#8c90d0" fill-opacity="0.55" stroke="#8c90d0" stroke-opacity="0.7" stroke-width="0.7"/></marker><marker id="cc4" markerUnits="userSpaceOnUse" markerWidth="10.6" markerHeight="10.6" viewBox="-5.3 -5.3 10.6 10.6" refX="0" refY="0" overflow="visible"><polygon points="0.00,-3.30 3.14,-1.02 1.94,2.67 -1.94,2.67 -3.14,-1.02" fill="#e05ab2" fill-opacity="0.55" stroke="#e05ab2" stroke-opacity="0.7" stroke-width="0.7"/></marker><marker id="cdolma" markerUnits="userSpaceOnUse" markerWidth="10.6" markerHeight="10.6" viewBox="-5.3 -5.3 10.6 10.6" refX="0" refY="0" overflow="visible"><polygon points="0.00,-3.63 0.87,-1.20 3.45,-1.12 1.41,0.46 2.13,2.94 0.00,1.48 -2.13,2.94 -1.41,0.46 -3.45,-1.12 -0.87,-1.20" fill="#62b198" fill-opacity="0.55" stroke="#62b198" stroke-opacity="0.7" stroke-width="0.7"/></marker><marker id="cmc4" markerUnits="userSpaceOnUse" markerWidth="10.6" markerHeight="10.6" viewBox="-5.3 -5.3 10.6 10.6" refX="0" refY="0" overflow="visible"><polygon points="0.00,-3.30 2.86,-1.65 2.86,1.65 0.00,3.30 -2.86,1.65 -2.86,-1.65" fill="#8fc65a" fill-opacity="0.55" stroke="#8fc65a" stroke-opacity="0.7" stroke-width="0.7"/></marker><marker id="crp" markerUnits="userSpaceOnUse" markerWidth="10.6" markerHeight="10.6" viewBox="-5.3 -5.3 10.6 10.6" refX="0" refY="0" overflow="visible"><polygon points="-1.19,-3.30 1.19,-3.30 1.19,-1.19 3.30,-1.19 3.30,1.19 1.19,1.19 1.19,3.30 -1.19,3.30 -1.19,1.19 -3.30,1.19 -3.30,-1.19 -1.19,-1.19" fill="#d9823f" fill-opacity="0.55" stroke="#d9823f" stroke-opacity="0.7" stroke-width="0.7"/></marker><marker id="cfalcon" markerUnits="userSpaceOnUse" markerWidth="10.6" markerHeight="10.6" viewBox="-5.3 -5.3 10.6 10.6" refX="0" refY="0" overflow="visible"><polygon points="1.22,-2.96 2.96,-1.22 2.96,1.22 1.22,2.96 -1.22,2.96 -2.96,1.22 -2.96,-1.22 -1.22,-2.96" fill="#ecc748" fill-opacity="0.55" stroke="#ecc748" stroke-opacity="0.7" stroke-width="0.7"/></marker></defs><rect x="1364.3" y="1775.4" width="87.6" height="127.9" fill="none" stroke="#3a3a3a" stroke-width="1.1"/><text x="1408.1" y="1768.9" font-size="13">C4</text><text x="1366.5" y="1919.6" font-size="10.1">20</text><text x="1414.1" y="1919.6" font-size="10.1">65</text><text x="1447.9" y="1919.6" font-size="10.1">150</text><text x="1357.0" y="1775.3" font-size="10.1" transform="rotate(-90 1357.0 1775.3)">39</text><text x="1357.0" y="1839.6" font-size="10.1" transform="rotate(-90 1357.0 1839.6)">20</text><text x="1357.0" y="1903.3" font-size="10.1" transform="rotate(-90 1357.0 1903.3)">12</text><path d="M1369.7,1840.1L1397.7,1854.9L1414.1,1862.6L1425.7,1867.7L1434.7,1871.4L1442.1,1874.2L1448.3,1876.5" fill="none" stroke="#62b198" stroke-width="1.25" stroke-opacity="0.7" stroke-dasharray="1.6 4.5" marker-start="url(#cdolma)" marker-mid="url(#cdolma)" marker-end="url(#cdolma)"/><path d="M1369.7,1840.1L1397.7,1855.2L1414.1,1862.2L1425.7,1866.3L1434.7,1868.9L1442.1,1870.8L1448.3,1872.1" fill="none" stroke="#ecc748" stroke-width="1.25" stroke-opacity="0.7" stroke-dasharray="1.4 8" marker-start="url(#cfalcon)" marker-mid="url(#cfalcon)" marker-end="url(#cfalcon)"/><path d="M1368.5,1839.6L1396.5,1855.1L1412.9,1861.7L1424.5,1865.4L1433.5,1867.6L1440.9,1869L1447.1,1869.9" fill="none" stroke="#d9823f" stroke-width="1.25" stroke-opacity="0.7" stroke-dasharray="6 3.5" marker-start="url(#crp)" marker-mid="url(#crp)" marker-end="url(#crp)"/><path d="M1368.5,1818.6L1396.5,1834.2L1412.9,1841.6L1424.5,1846.2L1433.5,1849.3L1440.9,1851.6L1447.1,1853.3" fill="none" stroke="#8c90d0" stroke-width="1.25" stroke-opacity="0.7" stroke-dasharray="6.4 1.6 1 1.6" marker-start="url(#cpile)" marker-mid="url(#cpile)" marker-end="url(#cpile)"/><path d="M1368.5,1850L1396.5,1866.3L1412.9,1873.9L1424.5,1878.4L1433.5,1881.3L1440.9,1883.4L1447.1,1885" fill="none" stroke="#e05ab2" stroke-width="1.25" stroke-opacity="0.7" stroke-dasharray="1.6 2.6" marker-start="url(#cc4)" marker-mid="url(#cc4)" marker-end="url(#cc4)"/><path d="M1368.5,1806.9L1396.5,1812.9L1412.9,1815.3L1424.5,1816.5L1433.5,1817.1L1440.9,1817.4L1447.1,1817.5" fill="none" stroke="#8fc65a" stroke-width="1.25" stroke-opacity="0.7" stroke-dasharray="9 2.5" marker-start="url(#cmc4)" marker-mid="url(#cmc4)" marker-end="url(#cmc4)"/><rect x="1482.1" y="1775.4" width="87.6" height="127.9" fill="none" stroke="#3a3a3a" stroke-width="1.1"/><text x="1525.9" y="1768.9" font-size="13">mC4-en</text><text x="1484.3" y="1919.6" font-size="10.1">20</text><text x="1531.9" y="1919.6" font-size="10.1">65</text><text x="1565.7" y="1919.6" font-size="10.1">150</text><text x="1474.8" y="1784.4" font-size="10.1" transform="rotate(-90 1474.8 1784.4)">20</text><text x="1474.8" y="1843.8" font-size="10.1" transform="rotate(-90 1474.8 1843.8)">12</text><text x="1474.8" y="1903.3" font-size="10.1" transform="rotate(-90 1474.8 1903.3)">7</text><path d="M1487.5,1802L1515.5,1817.8L1531.9,1825.7L1543.5,1830.7L1552.5,1834.2L1559.9,1836.9L1566.1,1839" fill="none" stroke="#62b198" stroke-width="1.25" stroke-opacity="0.7" stroke-dasharray="1.6 4.5" marker-start="url(#cdolma)" marker-mid="url(#cdolma)" marker-end="url(#cdolma)"/><path d="M1487.5,1803.6L1515.5,1819.5L1531.9,1827.2L1543.5,1832L1552.5,1835.3L1559.9,1837.8L1566.1,1839.6" fill="none" stroke="#ecc748" stroke-width="1.25" stroke-opacity="0.7" stroke-dasharray="1.4 8" marker-start="url(#cfalcon)" marker-mid="url(#cfalcon)" marker-end="url(#cfalcon)"/><path d="M1486.3,1800.3L1514.3,1816.4L1530.7,1822.8L1542.3,1826L1551.3,1827.7L1558.7,1828.6L1564.9,1829" fill="none" stroke="#d9823f" stroke-width="1.25" stroke-opacity="0.7" stroke-dasharray="6 3.5" marker-start="url(#crp)" marker-mid="url(#crp)" marker-end="url(#crp)"/><path d="M1486.3,1784.8L1514.3,1802.1L1530.7,1809.8L1542.3,1814.2L1551.3,1817L1558.7,1818.9L1564.9,1820.2" fill="none" stroke="#8c90d0" stroke-width="1.25" stroke-opacity="0.7" stroke-dasharray="6.4 1.6 1 1.6" marker-start="url(#cpile)" marker-mid="url(#cpile)" marker-end="url(#cpile)"/><path d="M1486.3,1781L1514.3,1794.2L1530.7,1800.3L1542.3,1803.9L1551.3,1806.2L1558.7,1807.9L1564.9,1809.1" fill="none" stroke="#e05ab2" stroke-width="1.25" stroke-opacity="0.7" stroke-dasharray="1.6 2.6" marker-start="url(#cc4)" marker-mid="url(#cc4)" marker-end="url(#cc4)"/><path d="M1486.3,1842.3L1514.3,1861.8L1530.7,1871L1542.3,1876.6L1551.3,1880.3L1558.7,1883L1564.9,1885" fill="none" stroke="#8fc65a" stroke-width="1.25" stroke-opacity="0.7" stroke-dasharray="9 2.5" marker-start="url(#cmc4)" marker-mid="url(#cmc4)" marker-end="url(#cmc4)"/><rect x="1599.9" y="1775.4" width="87.6" height="127.9" fill="none" stroke="#3a3a3a" stroke-width="1.1"/><text x="1643.7" y="1768.9" font-size="13">WikiText-103</text><text x="1602.1" y="1919.6" font-size="10.1">20</text><text x="1649.7" y="1919.6" font-size="10.1">65</text><text x="1683.5" y="1919.6" font-size="10.1">150</text><text x="1592.6" y="1775.3" font-size="10.1" transform="rotate(-90 1592.6 1775.3)">39</text><text x="1592.6" y="1839.6" font-size="10.1" transform="rotate(-90 1592.6 1839.6)">20</text><text x="1592.6" y="1903.3" font-size="10.1" transform="rotate(-90 1592.6 1903.3)">12</text><path d="M1605.3,1840.1L1633.3,1862.2L1649.7,1871L1661.3,1873.2L1670.3,1878.3L1677.7,1881.4L1683.9,1883.8" fill="none" stroke="#62b198" stroke-width="1.25" stroke-opacity="0.7" stroke-dasharray="1.6 4.5" marker-start="url(#cdolma)" marker-mid="url(#cdolma)" marker-end="url(#cdolma)"/><path d="M1605.3,1828.6L1633.3,1853.3L1649.7,1855.5L1661.3,1866.2L1670.3,1871L1677.7,1876.5L1683.9,1878.8" fill="none" stroke="#ecc748" stroke-width="1.25" stroke-opacity="0.7" stroke-dasharray="1.4 8" marker-start="url(#cfalcon)" marker-mid="url(#cfalcon)" marker-end="url(#cfalcon)"/><path d="M1604.1,1850L1632.1,1872.1L1648.5,1879.4L1660.1,1884.3L1669.1,1888.7L1676.5,1890.9L1682.7,1891.4" fill="none" stroke="#d9823f" stroke-width="1.25" stroke-opacity="0.7" stroke-dasharray="6 3.5" marker-start="url(#crp)" marker-mid="url(#crp)" marker-end="url(#crp)"/><path d="M1604.1,1847.1L1632.1,1871.5L1648.5,1879.9L1660.1,1885.4L1669.1,1891.4L1676.5,1893.6L1682.7,1896.9" fill="none" stroke="#8c90d0" stroke-width="1.25" stroke-opacity="0.7" stroke-dasharray="6.4 1.6 1 1.6" marker-start="url(#cpile)" marker-mid="url(#cpile)" marker-end="url(#cpile)"/><path d="M1604.1,1797L1632.1,1809.8L1648.5,1814.6L1660.1,1821.3L1669.1,1819.5L1676.5,1817.3L1682.7,1823" fill="none" stroke="#e05ab2" stroke-width="1.25" stroke-opacity="0.7" stroke-dasharray="1.6 2.6" marker-start="url(#cc4)" marker-mid="url(#cc4)" marker-end="url(#cc4)"/><path d="M1604.1,1818L1632.1,1843.4L1648.5,1852.9L1660.1,1859.5L1669.1,1861.7L1676.5,1869.3L1682.7,1865.1" fill="none" stroke="#8fc65a" stroke-width="1.25" stroke-opacity="0.7" stroke-dasharray="9 2.5" marker-start="url(#cmc4)" marker-mid="url(#cmc4)" marker-end="url(#cmc4)"/><rect x="1717.7" y="1775.4" width="87.6" height="127.9" fill="none" stroke="#3a3a3a" stroke-width="1.1"/><text x="1761.5" y="1768.9" font-size="13">PTB</text><text x="1719.9" y="1919.6" font-size="10.1">20</text><text x="1767.5" y="1919.6" font-size="10.1">65</text><text x="1801.3" y="1919.6" font-size="10.1">150</text><text x="1710.4" y="1814.6" font-size="10.1" transform="rotate(-90 1710.4 1814.6)">58</text><text x="1710.4" y="1903.3" font-size="10.1" transform="rotate(-90 1710.4 1903.3)">15</text><path d="M1723.1,1856.7L1751.1,1873.2L1767.5,1877.7L1779.1,1879.9L1788.1,1883.8L1795.5,1885.8L1801.7,1887.6" fill="none" stroke="#62b198" stroke-width="1.25" stroke-opacity="0.7" stroke-dasharray="1.6 4.5" marker-start="url(#cdolma)" marker-mid="url(#cdolma)" marker-end="url(#cdolma)"/><path d="M1723.1,1853.3L1751.1,1865.5L1767.5,1861.1L1779.1,1872.1L1788.1,1879.9L1795.5,1881L1801.7,1877.7" fill="none" stroke="#ecc748" stroke-width="1.25" stroke-opacity="0.7" stroke-dasharray="1.4 8" marker-start="url(#cfalcon)" marker-mid="url(#cfalcon)" marker-end="url(#cfalcon)"/><path d="M1721.9,1857.8L1749.9,1872.6L1766.3,1876.5L1777.9,1879.2L1786.9,1883.2L1794.3,1883.2L1800.5,1882.1" fill="none" stroke="#d9823f" stroke-width="1.25" stroke-opacity="0.7" stroke-dasharray="6 3.5" marker-start="url(#crp)" marker-mid="url(#crp)" marker-end="url(#crp)"/><path d="M1721.9,1854.4L1749.9,1866.2L1766.3,1872.1L1777.9,1873.2L1786.9,1877.7L1794.3,1878.8L1800.5,1880.3" fill="none" stroke="#8c90d0" stroke-width="1.25" stroke-opacity="0.7" stroke-dasharray="6.4 1.6 1 1.6" marker-start="url(#cpile)" marker-mid="url(#cpile)" marker-end="url(#cpile)"/><path d="M1721.9,1784.1L1749.9,1781.5L1766.3,1780.8L1777.9,1785.2L1786.9,1782.1L1794.3,1781.5L1800.5,1780.8" fill="none" stroke="#e05ab2" stroke-width="1.25" stroke-opacity="0.7" stroke-dasharray="1.6 2.6" marker-start="url(#cc4)" marker-mid="url(#cc4)" marker-end="url(#cc4)"/><path d="M1721.9,1839.6L1749.9,1857.8L1766.3,1864.4L1777.9,1865.5L1786.9,1867.9L1794.3,1877.7L1800.5,1872.1" fill="none" stroke="#8fc65a" stroke-width="1.25" stroke-opacity="0.7" stroke-dasharray="9 2.5" marker-start="url(#cmc4)" marker-mid="url(#cmc4)" marker-end="url(#cmc4)"/><rect x="1835.7" y="1775.4" width="87.6" height="127.9" fill="none" stroke="#3a3a3a" stroke-width="1.1"/><text x="1879.5" y="1768.9" font-size="13">RedPajama</text><text x="1837.9" y="1919.6" font-size="10.1">20</text><text x="1885.5" y="1919.6" font-size="10.1">65</text><text x="1919.3" y="1919.6" font-size="10.1">150</text><text x="1828.4" y="1775.3" font-size="10.1" transform="rotate(-90 1828.4 1775.3)">195K</text><text x="1828.4" y="1839.6" font-size="10.1" transform="rotate(-90 1828.4 1839.6)">88</text><text x="1828.4" y="1903.3" font-size="10.1" transform="rotate(-90 1828.4 1903.3)">5</text><path d="M1841.1,1877L1869.1,1879.9L1885.5,1882.5L1897.1,1883.8L1906.1,1884.3L1913.5,1884.7L1919.7,1885" fill="none" stroke="#62b198" stroke-width="1.25" stroke-opacity="0.7" stroke-dasharray="1.6 4.5" marker-start="url(#cdolma)" marker-mid="url(#cdolma)" marker-end="url(#cdolma)"/><path d="M1841.1,1848.5L1869.1,1853.3L1885.5,1858.4L1897.1,1862.8L1906.1,1853.3L1913.5,1862.8L1919.7,1864.4" fill="none" stroke="#ecc748" stroke-width="1.25" stroke-opacity="0.7" stroke-dasharray="1.4 8" marker-start="url(#cfalcon)" marker-mid="url(#cfalcon)" marker-end="url(#cfalcon)"/><path d="M1839.9,1879.9L1867.9,1884.3L1884.3,1885.8L1895.9,1886.5L1904.9,1886.9L1912.3,1887.2L1918.5,1887.6" fill="none" stroke="#d9823f" stroke-width="1.25" stroke-opacity="0.7" stroke-dasharray="6 3.5" marker-start="url(#crp)" marker-mid="url(#crp)" marker-end="url(#crp)"/><path d="M1839.9,1878.8L1867.9,1883.2L1884.3,1884.7L1895.9,1885.4L1904.9,1885.8L1912.3,1886.1L1918.5,1886.5" fill="none" stroke="#8c90d0" stroke-width="1.25" stroke-opacity="0.7" stroke-dasharray="6.4 1.6 1 1.6" marker-start="url(#cpile)" marker-mid="url(#cpile)" marker-end="url(#cpile)"/><path d="M1839.9,1818.4L1867.9,1818.4L1884.3,1815.3L1895.9,1812.4L1904.9,1809.8L1912.3,1795.9L1918.5,1782.6" fill="none" stroke="#e05ab2" stroke-width="1.25" stroke-opacity="0.7" stroke-dasharray="1.6 2.6" marker-start="url(#cc4)" marker-mid="url(#cc4)" marker-end="url(#cc4)"/><path d="M1839.9,1866.6L1867.9,1869.5L1884.3,1870.6L1895.9,1871L1904.9,1871L1912.3,1871L1918.5,1871.5" fill="none" stroke="#8fc65a" stroke-width="1.25" stroke-opacity="0.7" stroke-dasharray="9 2.5" marker-start="url(#cmc4)" marker-mid="url(#cmc4)" marker-end="url(#cmc4)"/><rect x="1953.6" y="1775.4" width="87.6" height="127.9" fill="none" stroke="#3a3a3a" stroke-width="1.1"/><text x="1997.4" y="1768.9" font-size="13">Falcon RefinedWeb</text><text x="1955.8" y="1919.6" font-size="10.1">20</text><text x="2003.4" y="1919.6" font-size="10.1">65</text><text x="2037.2" y="1919.6" font-size="10.1">150</text><text x="1946.3" y="1775.3" font-size="10.1" transform="rotate(-90 1946.3 1775.3)">39</text><text x="1946.3" y="1839.6" font-size="10.1" transform="rotate(-90 1946.3 1839.6)">20</text><text x="1946.3" y="1903.3" font-size="10.1" transform="rotate(-90 1946.3 1903.3)">12</text><path d="M1959,1830.1L1987,1847.1L2003.4,1853.8L2015,1857.8L2024,1861.1L2031.4,1862.8L2037.6,1864.4" fill="none" stroke="#62b198" stroke-width="1.25" stroke-opacity="0.7" stroke-dasharray="1.6 4.5" marker-start="url(#cdolma)" marker-mid="url(#cdolma)" marker-end="url(#cdolma)"/><path d="M1959,1847.1L1987,1865.1L2003.4,1870.6L2015,1875.4L2024,1878.8L2031.4,1880.5L2037.6,1883.6" fill="none" stroke="#ecc748" stroke-width="1.25" stroke-opacity="0.7" stroke-dasharray="1.4 8" marker-start="url(#cfalcon)" marker-mid="url(#cfalcon)" marker-end="url(#cfalcon)"/><path d="M1957.8,1832.3L1985.8,1847.8L2002.2,1853.8L2013.8,1857.3L2022.8,1860L2030.2,1861.1L2036.4,1860.4" fill="none" stroke="#d9823f" stroke-width="1.25" stroke-opacity="0.7" stroke-dasharray="6 3.5" marker-start="url(#crp)" marker-mid="url(#crp)" marker-end="url(#crp)"/><path d="M1957.8,1818L1985.8,1834.5L2002.2,1841.2L2013.8,1845.6L2022.8,1848.9L2030.2,1851.1L2036.4,1852.7" fill="none" stroke="#8c90d0" stroke-width="1.25" stroke-opacity="0.7" stroke-dasharray="6.4 1.6 1 1.6" marker-start="url(#cpile)" marker-mid="url(#cpile)" marker-end="url(#cpile)"/><path d="M1957.8,1820.6L1985.8,1835.2L2002.2,1840.5L2013.8,1843.8L2022.8,1846.3L2030.2,1847.4L2036.4,1848.5" fill="none" stroke="#e05ab2" stroke-width="1.25" stroke-opacity="0.7" stroke-dasharray="1.6 2.6" marker-start="url(#cc4)" marker-mid="url(#cc4)" marker-end="url(#cc4)"/><path d="M1957.8,1795.9L1985.8,1800.3L2002.2,1800.3L2013.8,1801.6L2022.8,1798.7L2030.2,1799.8L2036.4,1799.8" fill="none" stroke="#8fc65a" stroke-width="1.25" stroke-opacity="0.7" stroke-dasharray="9 2.5" marker-start="url(#cmc4)" marker-mid="url(#cmc4)" marker-end="url(#cmc4)"/><rect x="2071.5" y="1775.4" width="87.6" height="127.9" fill="none" stroke="#3a3a3a" stroke-width="1.1"/><text x="2115.3" y="1768.9" font-size="13">Dolma</text><text x="2073.7" y="1919.6" font-size="10.1">20</text><text x="2121.3" y="1919.6" font-size="10.1">65</text><text x="2155.1" y="1919.6" font-size="10.1">150</text><text x="2064.2" y="1775.3" font-size="10.1" transform="rotate(-90 2064.2 1775.3)">39</text><text x="2064.2" y="1839.6" font-size="10.1" transform="rotate(-90 2064.2 1839.6)">20</text><text x="2064.2" y="1903.3" font-size="10.1" transform="rotate(-90 2064.2 1903.3)">12</text><path d="M2076.9,1854.9L2104.9,1875.4L2121.3,1882.5L2132.9,1885.8L2141.9,1889.8L2149.3,1892L2155.5,1893.6" fill="none" stroke="#62b198" stroke-width="1.25" stroke-opacity="0.7" stroke-dasharray="1.6 4.5" marker-start="url(#cdolma)" marker-mid="url(#cdolma)" marker-end="url(#cdolma)"/><path d="M2076.9,1803.6L2104.9,1822.4L2121.3,1841.8L2132.9,1852.2L2141.9,1842.3L2149.3,1856.2L2155.5,1859.3" fill="none" stroke="#ecc748" stroke-width="1.25" stroke-opacity="0.7" stroke-dasharray="1.4 8" marker-start="url(#cfalcon)" marker-mid="url(#cfalcon)" marker-end="url(#cfalcon)"/><path d="M2075.7,1850L2103.7,1867L2120.1,1872.8L2131.7,1876.5L2140.7,1878.8L2148.1,1879.9L2154.3,1879.2" fill="none" stroke="#d9823f" stroke-width="1.25" stroke-opacity="0.7" stroke-dasharray="6 3.5" marker-start="url(#crp)" marker-mid="url(#crp)" marker-end="url(#crp)"/><path d="M2075.7,1851.1L2103.7,1868.4L2120.1,1876.5L2131.7,1879.9L2140.7,1883.2L2148.1,1885.4L2154.3,1887.6" fill="none" stroke="#8c90d0" stroke-width="1.25" stroke-opacity="0.7" stroke-dasharray="6.4 1.6 1 1.6" marker-start="url(#cpile)" marker-mid="url(#cpile)" marker-end="url(#cpile)"/><path d="M2075.7,1787L2103.7,1799.2L2120.1,1797.6L2131.7,1807.6L2140.7,1809.8L2148.1,1804.3L2154.3,1808" fill="none" stroke="#e05ab2" stroke-width="1.25" stroke-opacity="0.7" stroke-dasharray="1.6 2.6" marker-start="url(#cc4)" marker-mid="url(#cc4)" marker-end="url(#cc4)"/><path d="M2075.7,1817.5L2103.7,1829L2120.1,1833.4L2131.7,1835.6L2140.7,1836.1L2148.1,1837.9L2154.3,1838.5" fill="none" stroke="#8fc65a" stroke-width="1.25" stroke-opacity="0.7" stroke-dasharray="9 2.5" marker-start="url(#cmc4)" marker-mid="url(#cmc4)" marker-end="url(#cmc4)"/><rect x="2189.5" y="1775.4" width="87.6" height="127.9" fill="none" stroke="#3a3a3a" stroke-width="1.1"/><text x="2233.3" y="1768.9" font-size="13">M2D2 S2ORC</text><text x="2191.7" y="1919.6" font-size="10.1">20</text><text x="2239.3" y="1919.6" font-size="10.1">65</text><text x="2273.1" y="1919.6" font-size="10.1">150</text><text x="2182.2" y="1775.3" font-size="10.1" transform="rotate(-90 2182.2 1775.3)">39</text><text x="2182.2" y="1839.6" font-size="10.1" transform="rotate(-90 2182.2 1839.6)">20</text><text x="2182.2" y="1903.3" font-size="10.1" transform="rotate(-90 2182.2 1903.3)">12</text><path d="M2194.9,1842.7L2222.9,1861.1L2239.3,1867.7L2250.9,1871.7L2259.9,1875.4L2267.3,1877.7L2273.5,1879.2" fill="none" stroke="#62b198" stroke-width="1.25" stroke-opacity="0.7" stroke-dasharray="1.6 4.5" marker-start="url(#cdolma)" marker-mid="url(#cdolma)" marker-end="url(#cdolma)"/><path d="M2194.9,1823.9L2222.9,1842.3L2239.3,1848.9L2250.9,1852.7L2259.9,1856L2267.3,1858.2L2273.5,1860.6" fill="none" stroke="#ecc748" stroke-width="1.25" stroke-opacity="0.7" stroke-dasharray="1.4 8" marker-start="url(#cfalcon)" marker-mid="url(#cfalcon)" marker-end="url(#cfalcon)"/><path d="M2193.7,1842.3L2221.7,1860.6L2238.1,1867L2249.7,1871L2258.7,1874.3L2266.1,1876.5L2272.3,1877.7" fill="none" stroke="#d9823f" stroke-width="1.25" stroke-opacity="0.7" stroke-dasharray="6 3.5" marker-start="url(#crp)" marker-mid="url(#crp)" marker-end="url(#crp)"/><path d="M2193.7,1861.1L2221.7,1879.2L2238.1,1886.1L2249.7,1890.3L2258.7,1893.8L2266.1,1896L2272.3,1897.6" fill="none" stroke="#8c90d0" stroke-width="1.25" stroke-opacity="0.7" stroke-dasharray="6.4 1.6 1 1.6" marker-start="url(#cpile)" marker-mid="url(#cpile)" marker-end="url(#cpile)"/><path d="M2193.7,1808.7L2221.7,1827.5L2238.1,1832.8L2249.7,1836.8L2258.7,1840.1L2266.1,1841.6L2272.3,1842.9" fill="none" stroke="#e05ab2" stroke-width="1.25" stroke-opacity="0.7" stroke-dasharray="1.6 2.6" marker-start="url(#cc4)" marker-mid="url(#cc4)" marker-end="url(#cc4)"/><path d="M2193.7,1823.9L2221.7,1841.8L2238.1,1848.5L2249.7,1852.7L2258.7,1855.5L2266.1,1857.8L2272.3,1860.4" fill="none" stroke="#8fc65a" stroke-width="1.25" stroke-opacity="0.7" stroke-dasharray="9 2.5" marker-start="url(#cmc4)" marker-mid="url(#cmc4)" marker-end="url(#cmc4)"/><rect x="1364.3" y="1949.2" width="87.6" height="127.8" fill="none" stroke="#3a3a3a" stroke-width="1.1"/><text x="1408.1" y="1942.7" font-size="13">M2D2 Wikipedia</text><text x="1366.5" y="2093.3" font-size="10.1">20</text><text x="1414.1" y="2093.3" font-size="10.1">65</text><text x="1447.9" y="2093.3" font-size="10.1">150</text><text x="1357.0" y="1968.0" font-size="10.1" transform="rotate(-90 1357.0 1968.0)">20</text><text x="1357.0" y="2022.4" font-size="10.1" transform="rotate(-90 1357.0 2022.4)">15</text><text x="1357.0" y="2077.0" font-size="10.1" transform="rotate(-90 1357.0 2077.0)">12</text><path d="M1369.7,1983L1397.7,2015.5L1414.1,2027.2L1425.7,2034.3L1434.7,2040.1L1442.1,2043.8L1448.3,2047.6" fill="none" stroke="#62b198" stroke-width="1.25" stroke-opacity="0.7" stroke-dasharray="1.6 4.5" marker-start="url(#cdolma)" marker-mid="url(#cdolma)" marker-end="url(#cdolma)"/><path d="M1369.7,1979.7L1397.7,2011.8L1414.1,2022.8L1425.7,2030.1L1434.7,2035.6L1442.1,2040.1L1448.3,2043.8" fill="none" stroke="#ecc748" stroke-width="1.25" stroke-opacity="0.7" stroke-dasharray="1.4 8" marker-start="url(#cfalcon)" marker-mid="url(#cfalcon)" marker-end="url(#cfalcon)"/><path d="M1368.5,2002.9L1396.5,2034.3L1412.9,2045.4L1424.5,2052L1433.5,2058.2L1440.9,2062.2L1447.1,2065.3" fill="none" stroke="#d9823f" stroke-width="1.25" stroke-opacity="0.7" stroke-dasharray="6 3.5" marker-start="url(#crp)" marker-mid="url(#crp)" marker-end="url(#crp)"/><path d="M1368.5,1992.3L1396.5,2026.1L1412.9,2039.4L1424.5,2046.5L1433.5,2052.7L1440.9,2057.1L1447.1,2060.4" fill="none" stroke="#8c90d0" stroke-width="1.25" stroke-opacity="0.7" stroke-dasharray="6.4 1.6 1 1.6" marker-start="url(#cpile)" marker-mid="url(#cpile)" marker-end="url(#cpile)"/><path d="M1368.5,1954.3L1396.5,1979.7L1412.9,1989.6L1424.5,1996.3L1433.5,1999.2L1440.9,2002.5L1447.1,2005.6" fill="none" stroke="#e05ab2" stroke-width="1.25" stroke-opacity="0.7" stroke-dasharray="1.6 2.6" marker-start="url(#cc4)" marker-mid="url(#cc4)" marker-end="url(#cc4)"/><path d="M1368.5,1955.4L1396.5,1985.9L1412.9,1997.8L1424.5,2003.6L1433.5,2008.4L1440.9,2012.9L1447.1,2015.5" fill="none" stroke="#8fc65a" stroke-width="1.25" stroke-opacity="0.7" stroke-dasharray="9 2.5" marker-start="url(#cmc4)" marker-mid="url(#cmc4)" marker-end="url(#cmc4)"/><rect x="1482.1" y="1949.2" width="87.6" height="127.8" fill="none" stroke="#3a3a3a" stroke-width="1.1"/><text x="1525.9" y="1942.7" font-size="13">C4 100 Domains</text><text x="1484.3" y="2093.3" font-size="10.1">20</text><text x="1531.9" y="2093.3" font-size="10.1">65</text><text x="1565.7" y="2093.3" font-size="10.1">150</text><text x="1474.8" y="1987.0" font-size="10.1" transform="rotate(-90 1474.8 1987.0)">20</text><text x="1474.8" y="2077.0" font-size="10.1" transform="rotate(-90 1474.8 2077.0)">12</text><path d="M1487.5,2005.1L1515.5,2029.9L1531.9,2039.4L1543.5,2044.9L1552.5,2049.3L1559.9,2052L1566.1,2054.2" fill="none" stroke="#62b198" stroke-width="1.25" stroke-opacity="0.7" stroke-dasharray="1.6 4.5" marker-start="url(#cdolma)" marker-mid="url(#cdolma)" marker-end="url(#cdolma)"/><path d="M1487.5,2006.9L1515.5,2031.2L1531.9,2041.2L1543.5,2047.1L1552.5,2050.9L1559.9,2053.3L1566.1,2054.9" fill="none" stroke="#ecc748" stroke-width="1.25" stroke-opacity="0.7" stroke-dasharray="1.4 8" marker-start="url(#cfalcon)" marker-mid="url(#cfalcon)" marker-end="url(#cfalcon)"/><path d="M1486.3,2007.3L1514.3,2032.8L1530.7,2042.3L1542.3,2047.8L1551.3,2050.4L1558.7,2052L1564.9,2052.7" fill="none" stroke="#d9823f" stroke-width="1.25" stroke-opacity="0.7" stroke-dasharray="6 3.5" marker-start="url(#crp)" marker-mid="url(#crp)" marker-end="url(#crp)"/><path d="M1486.3,1985.9L1514.3,2010.6L1530.7,2021.3L1542.3,2027.2L1551.3,2031.2L1558.7,2035L1564.9,2037.2" fill="none" stroke="#8c90d0" stroke-width="1.25" stroke-opacity="0.7" stroke-dasharray="6.4 1.6 1 1.6" marker-start="url(#cpile)" marker-mid="url(#cpile)" marker-end="url(#cpile)"/><path d="M1486.3,2010.2L1514.3,2035.6L1530.7,2044.5L1542.3,2048.9L1551.3,2053.3L1558.7,2057.1L1564.9,2060" fill="none" stroke="#e05ab2" stroke-width="1.25" stroke-opacity="0.7" stroke-dasharray="1.6 2.6" marker-start="url(#cc4)" marker-mid="url(#cc4)" marker-end="url(#cc4)"/><path d="M1486.3,1953.8L1514.3,1960.5L1530.7,1961.3L1542.3,1963.8L1551.3,1959.4L1558.7,1960.9L1564.9,1959.8" fill="none" stroke="#8fc65a" stroke-width="1.25" stroke-opacity="0.7" stroke-dasharray="9 2.5" marker-start="url(#cmc4)" marker-mid="url(#cmc4)" marker-end="url(#cmc4)"/><rect x="1599.9" y="1949.2" width="87.6" height="127.8" fill="none" stroke="#3a3a3a" stroke-width="1.1"/><text x="1643.7" y="1942.7" font-size="13">100 Subreddits</text><text x="1602.1" y="2093.3" font-size="10.1">20</text><text x="1649.7" y="2093.3" font-size="10.1">65</text><text x="1683.5" y="2093.3" font-size="10.1">150</text><text x="1592.6" y="1949.2" font-size="10.1" transform="rotate(-90 1592.6 1949.2)">47</text><text x="1592.6" y="1991.4" font-size="10.1" transform="rotate(-90 1592.6 1991.4)">33</text><text x="1592.6" y="2034.3" font-size="10.1" transform="rotate(-90 1592.6 2034.3)">24</text><text x="1592.6" y="2077.0" font-size="10.1" transform="rotate(-90 1592.6 2077.0)">17</text><path d="M1605.3,2014.4L1633.3,2035L1649.7,2042.7L1661.3,2046.7L1670.3,2050L1677.7,2052.2L1683.9,2054.4" fill="none" stroke="#62b198" stroke-width="1.25" stroke-opacity="0.7" stroke-dasharray="1.6 4.5" marker-start="url(#cdolma)" marker-mid="url(#cdolma)" marker-end="url(#cdolma)"/><path d="M1605.3,1991.4L1633.3,2010.6L1649.7,2015.1L1661.3,2020.6L1670.3,2023.3L1677.7,2026.1L1683.9,2026.8" fill="none" stroke="#ecc748" stroke-width="1.25" stroke-opacity="0.7" stroke-dasharray="1.4 8" marker-start="url(#cfalcon)" marker-mid="url(#cfalcon)" marker-end="url(#cfalcon)"/><path d="M1604.1,1996.9L1632.1,2014L1648.5,2020.6L1660.1,2022.4L1669.1,2025.7L1676.5,2026.1L1682.7,2023.9" fill="none" stroke="#d9823f" stroke-width="1.25" stroke-opacity="0.7" stroke-dasharray="6 3.5" marker-start="url(#crp)" marker-mid="url(#crp)" marker-end="url(#crp)"/><path d="M1604.1,1995.2L1632.1,2011.8L1648.5,2021L1660.1,2025.7L1669.1,2030.5L1676.5,2032.8L1682.7,2034.3" fill="none" stroke="#8c90d0" stroke-width="1.25" stroke-opacity="0.7" stroke-dasharray="6.4 1.6 1 1.6" marker-start="url(#cpile)" marker-mid="url(#cpile)" marker-end="url(#cpile)"/><path d="M1604.1,1967.1L1632.1,1978.6L1648.5,1984.8L1660.1,1991.4L1669.1,1991.4L1676.5,1991.4L1682.7,1995.2" fill="none" stroke="#e05ab2" stroke-width="1.25" stroke-opacity="0.7" stroke-dasharray="1.6 2.6" marker-start="url(#cc4)" marker-mid="url(#cc4)" marker-end="url(#cc4)"/><path d="M1604.1,1960.5L1632.1,1971.5L1648.5,1973.7L1660.1,1975.9L1669.1,1975.9L1676.5,1977.5L1682.7,1978.1" fill="none" stroke="#8fc65a" stroke-width="1.25" stroke-opacity="0.7" stroke-dasharray="9 2.5" marker-start="url(#cmc4)" marker-mid="url(#cmc4)" marker-end="url(#cmc4)"/><rect x="1717.7" y="1949.2" width="87.6" height="127.8" fill="none" stroke="#3a3a3a" stroke-width="1.1"/><text x="1761.5" y="1942.7" font-size="13">100 PLs</text><text x="1719.9" y="2093.3" font-size="10.1">20</text><text x="1767.5" y="2093.3" font-size="10.1">65</text><text x="1801.3" y="2093.3" font-size="10.1">150</text><text x="1710.4" y="1949.2" font-size="10.1" transform="rotate(-90 1710.4 1949.2)">2K</text><text x="1710.4" y="2012.4" font-size="10.1" transform="rotate(-90 1710.4 2012.4)">15</text><text x="1710.4" y="2077.0" font-size="10.1" transform="rotate(-90 1710.4 2077.0)">3</text><path d="M1723.1,2048.7L1751.1,2054.4L1767.5,2057.5L1779.1,2058.8L1788.1,2059.7L1795.5,2060.4L1801.7,2061.5" fill="none" stroke="#62b198" stroke-width="1.25" stroke-opacity="0.7" stroke-dasharray="1.6 4.5" marker-start="url(#cdolma)" marker-mid="url(#cdolma)" marker-end="url(#cdolma)"/><path d="M1723.1,1978.6L1751.1,1965.3L1767.5,1984.8L1779.1,1992.5L1788.1,1985.7L1795.5,1995.2L1801.7,1996.9" fill="none" stroke="#ecc748" stroke-width="1.25" stroke-opacity="0.7" stroke-dasharray="1.4 8" marker-start="url(#cfalcon)" marker-mid="url(#cfalcon)" marker-end="url(#cfalcon)"/><path d="M1721.9,2035L1749.9,2040.1L1766.3,2040.9L1777.9,2042L1786.9,2042.7L1794.3,2037.2L1800.5,2043.4" fill="none" stroke="#d9823f" stroke-width="1.25" stroke-opacity="0.7" stroke-dasharray="6 3.5" marker-start="url(#crp)" marker-mid="url(#crp)" marker-end="url(#crp)"/><path d="M1721.9,2048.2L1749.9,2053.8L1766.3,2055.5L1777.9,2056L1786.9,2057.1L1794.3,2057.5L1800.5,2057.7" fill="none" stroke="#8c90d0" stroke-width="1.25" stroke-opacity="0.7" stroke-dasharray="6.4 1.6 1 1.6" marker-start="url(#cpile)" marker-mid="url(#cpile)" marker-end="url(#cpile)"/><path d="M1721.9,1986.3L1749.9,1987L1766.3,1985.7L1777.9,1987L1786.9,1985.7L1794.3,1979.7L1800.5,1980.1" fill="none" stroke="#e05ab2" stroke-width="1.25" stroke-opacity="0.7" stroke-dasharray="1.6 2.6" marker-start="url(#cc4)" marker-mid="url(#cc4)" marker-end="url(#cc4)"/><path d="M1721.9,2021.3L1749.9,2002.9L1766.3,2020.2L1777.9,2018.8L1786.9,2015.7L1794.3,2000.3L1800.5,2009.1" fill="none" stroke="#8fc65a" stroke-width="1.25" stroke-opacity="0.7" stroke-dasharray="9 2.5" marker-start="url(#cmc4)" marker-mid="url(#cmc4)" marker-end="url(#cmc4)"/><rect x="1835.7" y="1949.2" width="87.6" height="127.8" fill="none" stroke="#3a3a3a" stroke-width="1.1"/><text x="1879.5" y="1942.7" font-size="13">Twitter AAE</text><text x="1837.9" y="2093.3" font-size="10.1">20</text><text x="1885.5" y="2093.3" font-size="10.1">65</text><text x="1919.3" y="2093.3" font-size="10.1">150</text><text x="1828.4" y="1962.7" font-size="10.1" transform="rotate(-90 1828.4 1962.7)">424</text><text x="1828.4" y="2019.9" font-size="10.1" transform="rotate(-90 1828.4 2019.9)">238</text><text x="1828.4" y="2077.0" font-size="10.1" transform="rotate(-90 1828.4 2077.0)">142</text><path d="M1841.1,2005.1L1869.1,2040.1L1885.5,2046L1897.1,2048.9L1906.1,2050.4L1913.5,2052L1919.7,2052.7" fill="none" stroke="#62b198" stroke-width="1.25" stroke-opacity="0.7" stroke-dasharray="1.6 4.5" marker-start="url(#cdolma)" marker-mid="url(#cdolma)" marker-end="url(#cdolma)"/><path d="M1841.1,2028.8L1869.1,2046.7L1885.5,2018.8L1897.1,2051.5L1906.1,2053.8L1913.5,2054.2L1919.7,2056.6" fill="none" stroke="#ecc748" stroke-width="1.25" stroke-opacity="0.7" stroke-dasharray="1.4 8" marker-start="url(#cfalcon)" marker-mid="url(#cfalcon)" marker-end="url(#cfalcon)"/><path d="M1839.9,2015.5L1867.9,2022.4L1884.3,2027.2L1895.9,2032.3L1904.9,2027.2L1912.3,2023.9L1918.5,1953.6" fill="none" stroke="#d9823f" stroke-width="1.25" stroke-opacity="0.7" stroke-dasharray="6 3.5" marker-start="url(#crp)" marker-mid="url(#crp)" marker-end="url(#crp)"/><path d="M1839.9,1988.5L1867.9,2001.4L1884.3,2017.3L1895.9,2015.1L1904.9,2030.5L1912.3,2035.6L1918.5,2036.1" fill="none" stroke="#8c90d0" stroke-width="1.25" stroke-opacity="0.7" stroke-dasharray="6.4 1.6 1 1.6" marker-start="url(#cpile)" marker-mid="url(#cpile)" marker-end="url(#cpile)"/><path d="M1839.9,2004L1867.9,2021.7L1884.3,2020.6L1895.9,2019.5L1904.9,2028.3L1912.3,2022.8L1918.5,2030.5" fill="none" stroke="#e05ab2" stroke-width="1.25" stroke-opacity="0.7" stroke-dasharray="1.6 2.6" marker-start="url(#cc4)" marker-mid="url(#cc4)" marker-end="url(#cc4)"/><path d="M1839.9,2004L1867.9,2015.1L1884.3,2017.9L1895.9,2019.5L1904.9,2018.4L1912.3,2022.8L1918.5,2023.5" fill="none" stroke="#8fc65a" stroke-width="1.25" stroke-opacity="0.7" stroke-dasharray="9 2.5" marker-start="url(#cmc4)" marker-mid="url(#cmc4)" marker-end="url(#cmc4)"/><rect x="1953.6" y="1949.2" width="87.6" height="127.8" fill="none" stroke="#3a3a3a" stroke-width="1.1"/><text x="1997.4" y="1942.7" font-size="13">Manosphere</text><text x="1955.8" y="2093.3" font-size="10.1">20</text><text x="2003.4" y="2093.3" font-size="10.1">65</text><text x="2037.2" y="2093.3" font-size="10.1">150</text><text x="1946.3" y="1983.5" font-size="10.1" transform="rotate(-90 1946.3 1983.5)">39</text><text x="1946.3" y="2077.0" font-size="10.1" transform="rotate(-90 1946.3 2077.0)">20</text><path d="M1959,2027.2L1987,2048.2L2003.4,2054.9L2015,2058.2L2024,2060.8L2031.4,2063.7L2037.6,2065.5" fill="none" stroke="#62b198" stroke-width="1.25" stroke-opacity="0.7" stroke-dasharray="1.6 4.5" marker-start="url(#cdolma)" marker-mid="url(#cdolma)" marker-end="url(#cdolma)"/><path d="M1959,2003.6L1987,2017.9L2003.4,2029L2015,2030.1L2024,2042.3L2031.4,2044.3L2037.6,2044.9" fill="none" stroke="#ecc748" stroke-width="1.25" stroke-opacity="0.7" stroke-dasharray="1.4 8" marker-start="url(#cfalcon)" marker-mid="url(#cfalcon)" marker-end="url(#cfalcon)"/><path d="M1957.8,2021.7L1985.8,2040.5L2002.2,2046.7L2013.8,2050.4L2022.8,2053.3L2030.2,2054.2L2036.4,2053.3" fill="none" stroke="#d9823f" stroke-width="1.25" stroke-opacity="0.7" stroke-dasharray="6 3.5" marker-start="url(#crp)" marker-mid="url(#crp)" marker-end="url(#crp)"/><path d="M1957.8,2021.3L1985.8,2040.5L2002.2,2050L2013.8,2053.3L2022.8,2058.2L2030.2,2060L2036.4,2062.2" fill="none" stroke="#8c90d0" stroke-width="1.25" stroke-opacity="0.7" stroke-dasharray="6.4 1.6 1 1.6" marker-start="url(#cpile)" marker-mid="url(#cpile)" marker-end="url(#cpile)"/><path d="M1957.8,1954.3L1985.8,1964.2L2002.2,1967.5L2013.8,1972.4L2022.8,1970.2L2030.2,1967.1L2036.4,1972" fill="none" stroke="#e05ab2" stroke-width="1.25" stroke-opacity="0.7" stroke-dasharray="1.6 2.6" marker-start="url(#cc4)" marker-mid="url(#cc4)" marker-end="url(#cc4)"/><path d="M1957.8,1980.1L1985.8,1991.9L2002.2,2004.7L2013.8,1997.8L2022.8,2000.3L2030.2,2003.6L2036.4,2002.2" fill="none" stroke="#8fc65a" stroke-width="1.25" stroke-opacity="0.7" stroke-dasharray="9 2.5" marker-start="url(#cmc4)" marker-mid="url(#cmc4)" marker-end="url(#cmc4)"/><rect x="2071.5" y="1949.2" width="87.6" height="127.8" fill="none" stroke="#3a3a3a" stroke-width="1.1"/><text x="2115.3" y="1942.7" font-size="13">Gab</text><text x="2073.7" y="2093.3" font-size="10.1">20</text><text x="2121.3" y="2093.3" font-size="10.1">65</text><text x="2155.1" y="2093.3" font-size="10.1">150</text><text x="2064.2" y="1961.3" font-size="10.1" transform="rotate(-90 2064.2 1961.3)">71</text><text x="2064.2" y="2019.5" font-size="10.1" transform="rotate(-90 2064.2 2019.5)">47</text><text x="2064.2" y="2077.0" font-size="10.1" transform="rotate(-90 2064.2 2077.0)">33</text><path d="M2076.9,2006.2L2104.9,2037.2L2121.3,2048.2L2132.9,2052.7L2141.9,2058.2L2149.3,2062.6L2155.5,2064.8" fill="none" stroke="#62b198" stroke-width="1.25" stroke-opacity="0.7" stroke-dasharray="1.6 4.5" marker-start="url(#cdolma)" marker-mid="url(#cdolma)" marker-end="url(#cdolma)"/><path d="M2076.9,1977.9L2104.9,2001.4L2121.3,1998.5L2132.9,2014L2141.9,2016.6L2149.3,2021.3L2155.5,2022.8" fill="none" stroke="#ecc748" stroke-width="1.25" stroke-opacity="0.7" stroke-dasharray="1.4 8" marker-start="url(#cfalcon)" marker-mid="url(#cfalcon)" marker-end="url(#cfalcon)"/><path d="M2075.7,2029.9L2103.7,2046.7L2120.1,2053.3L2131.7,2059.7L2140.7,2061.5L2148.1,2063.3L2154.3,2021.7" fill="none" stroke="#d9823f" stroke-width="1.25" stroke-opacity="0.7" stroke-dasharray="6 3.5" marker-start="url(#crp)" marker-mid="url(#crp)" marker-end="url(#crp)"/><path d="M2075.7,2005.1L2103.7,2027.9L2120.1,2047.1L2131.7,2052L2140.7,2060L2148.1,2063.7L2154.3,2065.3" fill="none" stroke="#8c90d0" stroke-width="1.25" stroke-opacity="0.7" stroke-dasharray="6.4 1.6 1 1.6" marker-start="url(#cpile)" marker-mid="url(#cpile)" marker-end="url(#cpile)"/><path d="M2075.7,1954.3L2103.7,1972.4L2120.1,1979.7L2131.7,1984.8L2140.7,1989.6L2148.1,1988.1L2154.3,1992.3" fill="none" stroke="#e05ab2" stroke-width="1.25" stroke-opacity="0.7" stroke-dasharray="1.6 2.6" marker-start="url(#cc4)" marker-mid="url(#cc4)" marker-end="url(#cc4)"/><path d="M2075.7,1985.9L2103.7,2006.9L2120.1,2013.5L2131.7,2015.5L2140.7,2018.4L2148.1,2021.7L2154.3,2023.5" fill="none" stroke="#8fc65a" stroke-width="1.25" stroke-opacity="0.7" stroke-dasharray="9 2.5" marker-start="url(#cmc4)" marker-mid="url(#cmc4)" marker-end="url(#cmc4)"/><rect x="2189.5" y="1949.2" width="87.6" height="127.8" fill="none" stroke="#3a3a3a" stroke-width="1.1"/><text x="2233.3" y="1942.7" font-size="13">4chan</text><text x="2191.7" y="2093.3" font-size="10.1">20</text><text x="2239.3" y="2093.3" font-size="10.1">65</text><text x="2273.1" y="2093.3" font-size="10.1">150</text><text x="2182.2" y="1983.5" font-size="10.1" transform="rotate(-90 2182.2 1983.5)">28</text><text x="2182.2" y="2077.0" font-size="10.1" transform="rotate(-90 2182.2 2077.0)">9</text><path d="M2194.9,2047.1L2222.9,2057.5L2239.3,2061.9L2250.9,2064.4L2259.9,2066.4L2267.3,2067.7L2273.5,2068.8" fill="none" stroke="#62b198" stroke-width="1.25" stroke-opacity="0.7" stroke-dasharray="1.6 4.5" marker-start="url(#cdolma)" marker-mid="url(#cdolma)" marker-end="url(#cdolma)"/><path d="M2194.9,2034.3L2222.9,2047.6L2239.3,2054.4L2250.9,2057.5L2259.9,2057.7L2267.3,2060L2273.5,2062.2" fill="none" stroke="#ecc748" stroke-width="1.25" stroke-opacity="0.7" stroke-dasharray="1.4 8" marker-start="url(#cfalcon)" marker-mid="url(#cfalcon)" marker-end="url(#cfalcon)"/><path d="M2193.7,2047.6L2221.7,2057.5L2238.1,2061.5L2249.7,2064.2L2258.7,2065.5L2266.1,2065.9L2272.3,2065.3" fill="none" stroke="#d9823f" stroke-width="1.25" stroke-opacity="0.7" stroke-dasharray="6 3.5" marker-start="url(#crp)" marker-mid="url(#crp)" marker-end="url(#crp)"/><path d="M2193.7,2046.7L2221.7,2057.1L2238.1,2061.5L2249.7,2063.7L2258.7,2065.9L2266.1,2066.6L2272.3,2067.7" fill="none" stroke="#8c90d0" stroke-width="1.25" stroke-opacity="0.7" stroke-dasharray="6.4 1.6 1 1.6" marker-start="url(#cpile)" marker-mid="url(#cpile)" marker-end="url(#cpile)"/><path d="M2193.7,1959.1L2221.7,1963.1L2238.1,1962L2249.7,1966L2258.7,1960.2L2266.1,1954.3L2272.3,1959.8" fill="none" stroke="#e05ab2" stroke-width="1.25" stroke-opacity="0.7" stroke-dasharray="1.6 2.6" marker-start="url(#cc4)" marker-mid="url(#cc4)" marker-end="url(#cc4)"/><path d="M2193.7,2033.9L2221.7,2038.7L2238.1,2047.6L2249.7,2049.3L2258.7,2047.8L2266.1,2048.2L2272.3,2048.7" fill="none" stroke="#8fc65a" stroke-width="1.25" stroke-opacity="0.7" stroke-dasharray="9 2.5" marker-start="url(#cmc4)" marker-mid="url(#cmc4)" marker-end="url(#cmc4)"/><path d="M1366.5,1903.3v3.6M1414.1,1903.3v3.6M1447.9,1903.3v3.6M1364.3,1775.3h-3.6M1364.3,1839.6h-3.6M1364.3,1903.3h-3.6M1484.3,1903.3v3.6M1531.9,1903.3v3.6M1565.7,1903.3v3.6M1482.1,1784.4h-3.6M1482.1,1843.8h-3.6M1482.1,1903.3h-3.6M1602.1,1903.3v3.6M1649.7,1903.3v3.6M1683.5,1903.3v3.6M1599.9,1775.3h-3.6M1599.9,1839.6h-3.6M1599.9,1903.3h-3.6M1719.9,1903.3v3.6M1767.5,1903.3v3.6M1801.3,1903.3v3.6M1717.7,1814.6h-3.6M1717.7,1903.3h-3.6M1837.9,1903.3v3.6M1885.5,1903.3v3.6M1919.3,1903.3v3.6M1835.7,1775.3h-3.6M1835.7,1839.6h-3.6M1835.7,1903.3h-3.6M1955.8,1903.3v3.6M2003.4,1903.3v3.6M2037.2,1903.3v3.6M1953.6,1775.3h-3.6M1953.6,1839.6h-3.6M1953.6,1903.3h-3.6M2073.7,1903.3v3.6M2121.3,1903.3v3.6M2155.1,1903.3v3.6M2071.5,1775.3h-3.6M2071.5,1839.6h-3.6M2071.5,1903.3h-3.6M2191.7,1903.3v3.6M2239.3,1903.3v3.6M2273.1,1903.3v3.6M2189.5,1775.3h-3.6M2189.5,1839.6h-3.6M2189.5,1903.3h-3.6M1366.5,2077.0v3.6M1414.1,2077.0v3.6M1447.9,2077.0v3.6M1364.3,1968.0h-3.6M1364.3,2022.4h-3.6M1364.3,2077.0h-3.6M1484.3,2077.0v3.6M1531.9,2077.0v3.6M1565.7,2077.0v3.6M1482.1,1987.0h-3.6M1482.1,2077.0h-3.6M1602.1,2077.0v3.6M1649.7,2077.0v3.6M1683.5,2077.0v3.6M1599.9,1949.2h-3.6M1599.9,1991.4h-3.6M1599.9,2034.3h-3.6M1599.9,2077.0h-3.6M1719.9,2077.0v3.6M1767.5,2077.0v3.6M1801.3,2077.0v3.6M1717.7,1949.2h-3.6M1717.7,2012.4h-3.6M1717.7,2077.0h-3.6M1837.9,2077.0v3.6M1885.5,2077.0v3.6M1919.3,2077.0v3.6M1835.7,1962.7h-3.6M1835.7,2019.9h-3.6M1835.7,2077.0h-3.6M1955.8,2077.0v3.6M2003.4,2077.0v3.6M2037.2,2077.0v3.6M1953.6,1983.5h-3.6M1953.6,2077.0h-3.6M2073.7,2077.0v3.6M2121.3,2077.0v3.6M2155.1,2077.0v3.6M2071.5,1961.3h-3.6M2071.5,2019.5h-3.6M2071.5,2077.0h-3.6M2191.7,2077.0v3.6M2239.3,2077.0v3.6M2273.1,2077.0v3.6M2189.5,1983.5h-3.6M2189.5,2077.0h-3.6" stroke="#3a3a3a" stroke-width="0.9"/><text x="1805.2" y="2112.9" font-size="17.4">Tokens Seen (billions)</text><text x="1331.5" y="1924.3" font-size="17.4" transform="rotate(-90 1331.5 1924.3)">Macro Average Perplexity</text><rect x="1504.5" y="2125.8" width="598.4000000000001" height="36.79999999999973" rx="2" fill="#9a9a9a" opacity="0.5"/><rect x="1502.5" y="2123.8" width="598.4000000000001" height="36.79999999999973" rx="2" fill="#faf2e9" stroke="#d4d0ca" stroke-width="0.9"/><text x="1800.8" y="2136.8" font-size="15.1">1B Models</text><path d="M1504.6,2149.3L1514.6,2149.3L1524.6,2149.3" fill="none" stroke="#62b198" stroke-width="1.25" stroke-opacity="0.7" stroke-dasharray="1.6 4.5" marker-mid="url(#cdolma)"/><text x="1535.4" y="2153.3" font-size="10.9" text-anchor="start">Dolma</text><path d="M1594.4,2149.3L1604.4,2149.3L1614.4,2149.3" fill="none" stroke="#ecc748" stroke-width="1.25" stroke-opacity="0.7" stroke-dasharray="1.4 8" marker-mid="url(#cfalcon)"/><text x="1623.0" y="2153.3" font-size="10.9" text-anchor="start">Falcon-RefinedWeb</text><path d="M1749.2,2149.3L1759.2,2149.3L1769.2,2149.3" fill="none" stroke="#d9823f" stroke-width="1.25" stroke-opacity="0.7" stroke-dasharray="6 3.5" marker-mid="url(#crp)"/><text x="1778.7" y="2153.3" font-size="10.9" text-anchor="start">RedPajama</text><path d="M1862,2149.3L1872,2149.3L1882,2149.3" fill="none" stroke="#8c90d0" stroke-width="1.25" stroke-opacity="0.7" stroke-dasharray="6.4 1.6 1 1.6" marker-mid="url(#cpile)"/><text x="1891.5" y="2153.3" font-size="10.9" text-anchor="start">The Pile</text><path d="M1956.5,2149.3L1966.5,2149.3L1976.5,2149.3" fill="none" stroke="#e05ab2" stroke-width="1.25" stroke-opacity="0.7" stroke-dasharray="1.6 2.6" marker-mid="url(#cc4)"/><text x="1986.4" y="2153.3" font-size="10.9" text-anchor="start">C4</text><path d="M2023.7,2149.3L2033.7,2149.3L2043.7,2149.3" fill="none" stroke="#8fc65a" stroke-width="1.25" stroke-opacity="0.7" stroke-dasharray="9 2.5" marker-mid="url(#cmc4)"/><text x="2053.2" y="2153.3" font-size="10.9" text-anchor="start">mC4-en</text></svg>
<svg style="position:absolute;left:1660px;top:2240px;overflow:visible" width="280" height="130" viewBox="1660 2240 280 130"><path d="M1715.6,2257.5L1723.3,2264.6L1729.3,2264.3L1737.4,2256.1" fill="none" stroke="#603f8f" stroke-width="2.9" stroke-linecap="round" stroke-linejoin="round"/><path d="M1725.9,2256.1L1729.3,2264.3" fill="none" stroke="#603f8f" stroke-width="2.9" stroke-linecap="round" stroke-linejoin="round"/><path d="M1695.2,2268.4L1708.8,2272.3L1715.6,2274.8L1721.1,2268.9" fill="none" stroke="#664593" stroke-width="2.9" stroke-linecap="round" stroke-linejoin="round"/><path d="M1704.9,2262.6L1708.8,2272.3" fill="none" stroke="#644392" stroke-width="2.9" stroke-linecap="round" stroke-linejoin="round"/><path d="M1715.6,2274.8L1722.4,2279.9L1723.8,2278.6" fill="none" stroke="#694995" stroke-width="2.9" stroke-linecap="round" stroke-linejoin="round"/><path d="M1711.4,2288.1L1713.1,2279.9L1715.6,2274.8" fill="none" stroke="#6b4b97" stroke-width="2.9" stroke-linecap="round" stroke-linejoin="round"/><path d="M1756.1,2260.9L1759.0,2271.4L1767.5,2272.8" fill="none" stroke="#644392" stroke-width="2.9" stroke-linecap="round" stroke-linejoin="round"/><path d="M1762.4,2266.0L1759.0,2271.4" fill="none" stroke="#644492" stroke-width="2.9" stroke-linecap="round" stroke-linejoin="round"/><path d="M1674.8,2297.8L1679.9,2299.5L1682.5,2303.7" fill="none" stroke="#76569e" stroke-width="2.9" stroke-linecap="round" stroke-linejoin="round"/><path d="M1673.1,2306.3L1679.9,2299.5" fill="none" stroke="#78579f" stroke-width="2.9" stroke-linecap="round" stroke-linejoin="round"/><path d="M1677.4,2323.8L1688.4,2325.0L1691.8,2334.4L1690.1,2342.5" fill="none" stroke="#8867a9" stroke-width="2.9" stroke-linecap="round" stroke-linejoin="round"/><path d="M1686.7,2319.0L1688.4,2325.0" fill="none" stroke="#8262a6" stroke-width="2.9" stroke-linecap="round" stroke-linejoin="round"/><path d="M1697.8,2319.9L1693.5,2314.3" fill="none" stroke="#805fa4" stroke-width="2.9" stroke-linecap="round" stroke-linejoin="round"/><path d="M1703.7,2325.9L1708.8,2336.1L1708.8,2346.3L1710.2,2355.6" fill="none" stroke="#8d6dad" stroke-width="2.9" stroke-linecap="round" stroke-linejoin="round"/><path d="M1710.5,2327.2L1708.8,2336.1" fill="none" stroke="#8867a9" stroke-width="2.9" stroke-linecap="round" stroke-linejoin="round"/><path d="M1719.0,2331.3L1712.2,2336.9L1708.8,2336.1" fill="none" stroke="#8969aa" stroke-width="2.9" stroke-linecap="round" stroke-linejoin="round"/><ellipse cx="1725.9" cy="2254.8" rx="3.12" ry="4.04" fill="#5d3c8d" transform="rotate(-10 1725.9 2254.8)"/><ellipse cx="1737.4" cy="2254.8" rx="3.12" ry="4.04" fill="#5d3c8d" transform="rotate(10 1737.4 2254.8)"/><ellipse cx="1747.6" cy="2257.0" rx="2.57" ry="3.67" fill="#5e3d8e" transform="rotate(-5 1747.6 2257.0)"/><ellipse cx="1756.1" cy="2260.9" rx="2.20" ry="3.31" fill="#603f8f" transform="rotate(-15 1756.1 2260.9)"/><ellipse cx="1762.4" cy="2266.0" rx="2.02" ry="2.76" fill="#634291" transform="rotate(-15 1762.4 2266.0)"/><ellipse cx="1767.5" cy="2272.8" rx="1.65" ry="2.20" fill="#674694" transform="rotate(-20 1767.5 2272.8)"/><ellipse cx="1772.1" cy="2277.9" rx="1.10" ry="1.65" fill="#6a4995" transform="rotate(-20 1772.1 2277.9)"/><ellipse cx="1774.8" cy="2281.6" rx="0.73" ry="1.10" fill="#6c4b97" transform="rotate(-20 1774.8 2281.6)"/><ellipse cx="1715.6" cy="2257.5" rx="3.67" ry="4.04" fill="#5e3d8e" transform="rotate(-30 1715.6 2257.5)"/><ellipse cx="1704.9" cy="2262.6" rx="4.04" ry="4.41" fill="#614090" transform="rotate(-35 1704.9 2262.6)"/><ellipse cx="1695.2" cy="2268.4" rx="4.41" ry="3.67" fill="#644392" transform="rotate(-30 1695.2 2268.4)"/><ellipse cx="1688.9" cy="2277.4" rx="4.41" ry="4.04" fill="#694995" transform="rotate(-20 1688.9 2277.4)"/><ellipse cx="1688.4" cy="2289.3" rx="4.59" ry="4.04" fill="#704f9a" transform="rotate(-10 1688.4 2289.3)"/><ellipse cx="1721.1" cy="2268.9" rx="2.94" ry="3.31" fill="#654492" transform="rotate(0 1721.1 2268.9)"/><ellipse cx="1737.8" cy="2265.5" rx="2.39" ry="3.12" fill="#634291" transform="rotate(0 1737.8 2265.5)"/><ellipse cx="1745.9" cy="2267.7" rx="1.84" ry="2.20" fill="#644392" transform="rotate(0 1745.9 2267.7)"/><ellipse cx="1753.1" cy="2269.7" rx="1.65" ry="1.84" fill="#654492" transform="rotate(0 1753.1 2269.7)"/><ellipse cx="1744.9" cy="2274.1" rx="1.65" ry="1.84" fill="#674794" transform="rotate(0 1744.9 2274.1)"/><ellipse cx="1738.1" cy="2274.0" rx="1.84" ry="2.02" fill="#674794" transform="rotate(0 1738.1 2274.0)"/><ellipse cx="1731.3" cy="2275.7" rx="2.20" ry="2.20" fill="#684895" transform="rotate(0 1731.3 2275.7)"/><ellipse cx="1723.8" cy="2278.6" rx="2.39" ry="2.39" fill="#6a4996" transform="rotate(0 1723.8 2278.6)"/><ellipse cx="1719.0" cy="2282.5" rx="2.57" ry="2.39" fill="#6c4b97" transform="rotate(0 1719.0 2282.5)"/><ellipse cx="1702.0" cy="2283.3" rx="3.67" ry="3.12" fill="#6d4c97" transform="rotate(-10 1702.0 2283.3)"/><ellipse cx="1711.4" cy="2288.1" rx="2.57" ry="2.57" fill="#6f4f99" transform="rotate(0 1711.4 2288.1)"/><ellipse cx="1679.9" cy="2284.2" rx="2.20" ry="1.47" fill="#6d4c98" transform="rotate(0 1679.9 2284.2)"/><ellipse cx="1682.1" cy="2279.6" rx="1.10" ry="0.92" fill="#6b4a96" transform="rotate(0 1682.1 2279.6)"/><ellipse cx="1677.4" cy="2290.1" rx="2.57" ry="2.20" fill="#70509a" transform="rotate(0 1677.4 2290.1)"/><ellipse cx="1674.8" cy="2297.8" rx="2.57" ry="2.02" fill="#75549d" transform="rotate(0 1674.8 2297.8)"/><ellipse cx="1682.5" cy="2303.7" rx="2.20" ry="1.65" fill="#78589f" transform="rotate(0 1682.5 2303.7)"/><ellipse cx="1673.1" cy="2306.3" rx="2.57" ry="2.39" fill="#7959a0" transform="rotate(0 1673.1 2306.3)"/><ellipse cx="1673.6" cy="2315.6" rx="2.94" ry="2.57" fill="#7f5ea3" transform="rotate(0 1673.6 2315.6)"/><ellipse cx="1683.3" cy="2311.7" rx="2.39" ry="2.02" fill="#7d5ca2" transform="rotate(0 1683.3 2311.7)"/><ellipse cx="1690.1" cy="2308.8" rx="2.02" ry="1.65" fill="#7b5aa1" transform="rotate(0 1690.1 2308.8)"/><ellipse cx="1693.5" cy="2314.3" rx="1.84" ry="1.65" fill="#7e5ea3" transform="rotate(0 1693.5 2314.3)"/><ellipse cx="1677.4" cy="2323.8" rx="4.04" ry="3.12" fill="#8363a6" transform="rotate(15 1677.4 2323.8)"/><ellipse cx="1686.7" cy="2319.0" rx="2.57" ry="2.20" fill="#8160a5" transform="rotate(0 1686.7 2319.0)"/><ellipse cx="1697.8" cy="2319.9" rx="2.02" ry="2.02" fill="#8161a5" transform="rotate(0 1697.8 2319.9)"/><ellipse cx="1710.5" cy="2327.2" rx="2.39" ry="2.20" fill="#8565a8" transform="rotate(0 1710.5 2327.2)"/><ellipse cx="1719.0" cy="2331.3" rx="2.39" ry="2.20" fill="#8767a9" transform="rotate(0 1719.0 2331.3)"/><ellipse cx="1697.8" cy="2331.8" rx="2.94" ry="2.76" fill="#8868a9" transform="rotate(0 1697.8 2331.8)"/><ellipse cx="1682.5" cy="2334.4" rx="4.04" ry="3.67" fill="#8969aa" transform="rotate(20 1682.5 2334.4)"/><ellipse cx="1690.1" cy="2342.5" rx="4.04" ry="4.04" fill="#8e6ead" transform="rotate(25 1690.1 2342.5)"/><ellipse cx="1700.3" cy="2349.7" rx="4.41" ry="4.41" fill="#9272b0" transform="rotate(30 1700.3 2349.7)"/><ellipse cx="1710.2" cy="2355.6" rx="4.04" ry="4.41" fill="#9575b2" transform="rotate(20 1710.2 2355.6)"/><ellipse cx="1720.4" cy="2355.6" rx="4.04" ry="4.78" fill="#9575b2" transform="rotate(10 1720.4 2355.6)"/><ellipse cx="1731.0" cy="2350.5" rx="3.67" ry="4.41" fill="#9272b0" transform="rotate(10 1731.0 2350.5)"/><ellipse cx="1719.0" cy="2341.5" rx="2.94" ry="3.31" fill="#8d6dad" transform="rotate(0 1719.0 2341.5)"/><text x="1723.3" y="2302.9" font-family="Liberation Sans, Arial, sans-serif" font-size="18.6" fill="#343a40" textLength="204.9" lengthAdjust="spacingAndGlyphs">NEURAL INFORMATION</text><text x="1723.3" y="2321.6" font-family="Liberation Sans, Arial, sans-serif" font-size="18.6" fill="#343a40" textLength="204.6" lengthAdjust="spacingAndGlyphs">PROCESSING SYSTEMS</text></svg>

<!-- RIGHT COLUMN -->
<svg style="position:absolute;left:2510px;top:480px;overflow:visible" width="1010" height="320" viewBox="2510 480 1010 320" font-family="DejaVu Sans, Liberation Sans, sans-serif" text-anchor="middle" fill="#1a1a1a"><defs><marker id="spile" markerUnits="userSpaceOnUse" markerWidth="8.1" markerHeight="8.1" viewBox="-4.1 -4.1 8.1 8.1" refX="0" refY="0" overflow="visible"><polygon points="-2.23,-1.39 -1.39,-2.23 0.00,-0.85 1.39,-2.23 2.23,-1.39 0.85,0.00 2.23,1.39 1.39,2.23 0.00,0.85 -1.39,2.23 -2.23,1.39 -0.85,0.00" fill="#7f84c8" fill-opacity="0.5" stroke="#7f84c8" stroke-opacity="0.9" stroke-width="0.85"/></marker><marker id="sc4" markerUnits="userSpaceOnUse" markerWidth="8.1" markerHeight="8.1" viewBox="-4.1 -4.1 8.1 8.1" refX="0" refY="0" overflow="visible"><polygon points="0.87,-2.11 2.11,-0.87 2.11,0.87 0.87,2.11 -0.87,2.11 -2.11,0.87 -2.11,-0.87 -0.87,-2.11" fill="#db46a8" fill-opacity="0.5" stroke="#db46a8" stroke-opacity="0.9" stroke-width="0.85"/></marker><marker id="sdolma" markerUnits="userSpaceOnUse" markerWidth="8.1" markerHeight="8.1" viewBox="-4.1 -4.1 8.1 8.1" refX="0" refY="0" overflow="visible"><polygon points="0.00,-2.59 0.62,-0.86 2.46,-0.80 1.01,0.33 1.52,2.09 0.00,1.06 -1.52,2.09 -1.01,0.33 -2.46,-0.80 -0.62,-0.86" fill="#4fa58a" fill-opacity="0.5" stroke="#4fa58a" stroke-opacity="0.9" stroke-width="0.85"/></marker><marker id="smc4" markerUnits="userSpaceOnUse" markerWidth="8.1" markerHeight="8.1" viewBox="-4.1 -4.1 8.1 8.1" refX="0" refY="0" overflow="visible"><polygon points="0.87,-2.11 2.11,-0.87 2.11,0.87 0.87,2.11 -0.87,2.11 -2.11,0.87 -2.11,-0.87 -0.87,-2.11" fill="#7db63c" fill-opacity="0.5" stroke="#7db63c" stroke-opacity="0.9" stroke-width="0.85"/></marker><marker id="srp" markerUnits="userSpaceOnUse" markerWidth="8.1" markerHeight="8.1" viewBox="-4.1 -4.1 8.1 8.1" refX="0" refY="0" overflow="visible"><polygon points="0.00,-2.35 1.88,0.00 0.00,2.35 -1.88,0.00" fill="#cc6a20" fill-opacity="0.5" stroke="#cc6a20" stroke-opacity="0.9" stroke-width="0.85"/></marker><marker id="sfalcon" markerUnits="userSpaceOnUse" markerWidth="8.1" markerHeight="8.1" viewBox="-4.1 -4.1 8.1 8.1" refX="0" refY="0" overflow="visible"><polygon points="0.87,-2.11 2.11,-0.87 2.11,0.87 0.87,2.11 -0.87,2.11 -2.11,0.87 -2.11,-0.87 -0.87,-2.11" fill="#e6bd38" fill-opacity="0.5" stroke="#e6bd38" stroke-opacity="0.9" stroke-width="0.85"/></marker></defs><rect x="2572.7" y="516.5" width="159.9" height="183.9" fill="none" stroke="#3a3a3a" stroke-width="1.1"/><text x="2652.6" y="509.6" font-size="13.15">M2D2 S2ORC</text><text x="2579.6" y="717.3" font-size="10.3">0</text><text x="2623.4" y="717.3" font-size="10.3">50</text><text x="2667.3" y="717.3" font-size="10.3">100</text><text x="2711.3" y="717.3" font-size="10.3">150</text><text x="2565.2" y="516.5" font-size="10.3" transform="rotate(-90 2565.2 516.5)">39.2</text><text x="2565.2" y="562.7" font-size="10.3" transform="rotate(-90 2565.2 562.7)">20.2</text><text x="2565.2" y="608.7" font-size="10.3" transform="rotate(-90 2565.2 608.7)">11.7</text><text x="2565.2" y="654.6" font-size="10.3" transform="rotate(-90 2565.2 654.6)">7.5</text><text x="2565.2" y="700.4" font-size="10.3" transform="rotate(-90 2565.2 700.4)">5.2</text><path d="M2579.6,649.1L2580.5,643L2581.4,635.6L2582.2,630L2583.1,628.2L2584,627.6L2584.9,627.6L2585.7,625.7L2586.6,625L2587.5,623L2588.4,621.9L2589.2,620.6L2590.1,617.8L2591,619.1L2591.9,617.8L2592.8,616.7L2593.6,613.6L2594.5,612.5L2595.4,612.2L2596.3,611.6L2597.1,611.3L2598,609.9L2598.9,609.5L2599.8,607.6L2600.7,607.6L2601.5,606.8L2602.4,604.9L2603.3,606.3L2604.2,604.3L2605,604L2605.9,601.5L2606.8,600.5L2607.7,600.2L2608.6,600.1L2609.4,600.5L2610.3,599.8L2611.2,598.8L2612.1,598L2612.9,598.1L2613.8,599.4L2614.7,597.1L2615.6,597.8L2616.5,597.6L2617.3,595.5L2618.2,596.6L2619.1,597.5L2620,594L2620.8,595.3L2621.7,595.2L2622.6,594.2L2623.5,595.2L2624.3,594.5L2625.2,593L2626.1,594.9L2627,594.6L2627.9,594.6L2628.7,594.9L2629.6,593.7L2630.5,593.3L2631.4,591.7L2632.2,593.3L2633.1,592L2634,591.9L2634.9,590.9L2635.8,591L2636.6,591.2L2637.5,592.7L2638.4,589.4L2639.3,589.7L2640.1,591.1L2641,592L2641.9,591L2642.8,588.5L2643.7,587.7L2644.5,590.2L2645.4,589L2646.3,588.4L2647.2,590.2L2648,590.1L2648.9,589L2649.8,588.9L2650.7,588.9L2651.5,589.8L2652.4,588.7L2653.3,588.5L2654.2,588.3L2655.1,586.2L2655.9,588.7L2656.8,588.2L2657.7,587.7L2658.6,585.2L2659.4,586.3L2660.3,587.5L2661.2,584.9L2662.1,586.2L2663,587.2L2663.8,584.9L2664.7,587.4L2665.6,586.3L2666.5,585.5L2667.3,585.8L2668.2,585.9L2669.1,585.2L2670,586L2670.9,584.2L2671.7,584.3L2672.6,585.5L2673.5,584.4L2674.4,583.4L2675.2,584.9L2676.1,585.2L2677,583.3L2677.9,582.3L2678.8,583.2L2679.6,583L2680.5,582.6L2681.4,584L2682.3,581.5L2683.1,583.4L2684,580.8L2684.9,581.1L2685.8,582.2L2686.6,582.4L2687.5,581.9L2688.4,581.2L2689.3,580.8L2690.2,580.6L2691,580.8L2691.9,579.9L2692.8,580.1L2693.7,580.1L2694.5,579.4L2695.4,579.9L2696.3,579.5L2697.2,580.6L2698.1,578.8L2698.9,577.9L2699.8,577.7L2700.7,577.8L2701.6,578.5L2702.4,577.1L2703.3,577.5L2704.2,578.6L2705.1,574.3L2706,575.4L2706.8,576.4L2707.7,576.1L2708.6,575.6L2709.5,574.6L2710.3,575.2L2711.2,574.4L2712.1,573.3L2713,575.6L2713.8,573.3L2714.7,572L2715.6,572L2716.5,571.5L2717.4,571.3L2718.2,568.4L2719.1,570.1L2720,571.1L2720.9,568.7L2721.7,569.4L2722.6,569.9L2723.5,569.5L2724.4,569.7L2725.3,566.3" fill="none" stroke="none" marker-start="url(#sdolma)" marker-mid="url(#sdolma)" marker-end="url(#sdolma)"/><path d="M2579.6,617.9L2580.5,614.6L2581.4,612.6L2582.2,610.1L2583.1,601.8L2584,604.9L2584.9,598.5L2585.7,600.7L2586.6,596.4L2587.5,597.9L2588.4,598.5L2589.2,595.5L2590.1,595L2591,594.9L2591.9,593L2592.8,591.8L2593.6,593.5L2594.5,592.1L2595.4,589.4L2596.3,593.2L2597.1,586.7L2598,589.1L2598.9,586.6L2599.8,586.5L2600.7,586.9L2601.5,585.8L2602.4,586L2603.3,582.4L2604.2,582L2605,584.8L2605.9,582.1L2606.8,581.6L2607.7,580.6L2608.6,584.6L2609.4,583.6L2610.3,584.5L2611.2,580.8L2612.1,582L2612.9,580.1L2613.8,582.8L2614.7,583.9L2615.6,580L2616.5,583.5L2617.3,582.5L2618.2,580.6L2619.1,577.7L2620,582.6L2620.8,580.2L2621.7,579.3L2622.6,580.6L2623.5,580.5L2624.3,582L2625.2,578.1L2626.1,581.2L2627,581.6L2627.9,581.4L2628.7,578.8L2629.6,577.9L2630.5,580.4L2631.4,578.9L2632.2,578.7L2633.1,580.6L2634,577.9L2634.9,574.7L2635.8,577.4L2636.6,575.1L2637.5,579L2638.4,578.1L2639.3,576.6L2640.1,577.3L2641,578.5L2641.9,577.2L2642.8,578.9L2643.7,576.7L2644.5,578.2L2645.4,578.8L2646.3,578.8L2647.2,575.3L2648,577.5L2648.9,573.2L2649.8,574.2L2650.7,572.8L2651.5,577.2L2652.4,573.6L2653.3,575.3L2654.2,574.9L2655.1,575L2655.9,574L2656.8,575.1L2657.7,577.3L2658.6,574.5L2659.4,575.1L2660.3,575.7L2661.2,573.8L2662.1,572L2663,572.9L2663.8,575.2L2664.7,571L2665.6,572.5L2666.5,574.7L2667.3,574.3L2668.2,572.9L2669.1,574L2670,572.9L2670.9,570.7L2671.7,570L2672.6,571.3L2673.5,573.5L2674.4,571.1L2675.2,570.5L2676.1,570.5L2677,569.2L2677.9,571.2L2678.8,569.4L2679.6,571.5L2680.5,567.3L2681.4,571.1L2682.3,569.4L2683.1,567.3L2684,571L2684.9,569.3L2685.8,566.2L2686.6,568L2687.5,569.5L2688.4,568.2L2689.3,569.9L2690.2,569.6L2691,569.3L2691.9,568.5L2692.8,569.8L2693.7,568.6L2694.5,568.1L2695.4,564.1L2696.3,568.3L2697.2,568.7L2698.1,566.1L2698.9,565.7L2699.8,569.1L2700.7,563.3L2701.6,566.4L2702.4,569.2L2703.3,563.9L2704.2,566.1L2705.1,567.7L2706,564.5L2706.8,565.2L2707.7,565.3L2708.6,562.2L2709.5,563L2710.3,563.1L2711.2,563.5L2712.1,561.8L2713,561.1L2713.8,559.5L2714.7,560.1L2715.6,561.5L2716.5,559.7L2717.4,557.7L2718.2,557.1L2719.1,561.7L2720,558.8L2720.9,557.4L2721.7,551.9L2722.6,556.1L2723.5,555.2L2724.4,556.4L2725.3,554" fill="none" stroke="none" marker-start="url(#sfalcon)" marker-mid="url(#sfalcon)" marker-end="url(#sfalcon)"/><path d="M2579.6,648.3L2580.5,642.5L2581.4,631.6L2582.2,631.1L2583.1,628.7L2584,625.7L2584.9,627.9L2585.7,627.4L2586.6,620.8L2587.5,620.7L2588.4,621.1L2589.2,619.8L2590.1,617.8L2591,615.8L2591.9,619.9L2592.8,617L2593.6,612.2L2594.5,610.9L2595.4,615L2596.3,612.8L2597.1,613.1L2598,610.4L2598.9,606.7L2599.8,607.7L2600.7,602.7L2601.5,604.2L2602.4,604.5L2603.3,604.6L2604.2,601.6L2605,601.8L2605.9,601.9L2606.8,600.9L2607.7,600.7L2608.6,599.6L2609.4,598.4L2610.3,599.9L2611.2,598.4L2612.1,596.6L2612.9,596.6L2613.8,597.3L2614.7,596.8L2615.6,596.9L2616.5,596.3L2617.3,596.3L2618.2,595.4L2619.1,593.2L2620,595.7L2620.8,596.4L2621.7,595.1L2622.6,593.7L2623.5,594.6L2624.3,592L2625.2,590.2L2626.1,593.3L2627,591.5L2627.9,594.1L2628.7,590.8L2629.6,588L2630.5,590.5L2631.4,594.7L2632.2,591.2L2633.1,589.3L2634,590.1L2634.9,592.1L2635.8,591.8L2636.6,591.1L2637.5,593.1L2638.4,591.6L2639.3,590.1L2640.1,591L2641,592.5L2641.9,591.2L2642.8,591.1L2643.7,587.3L2644.5,588.7L2645.4,590L2646.3,588L2647.2,590.1L2648,589.1L2648.9,589.4L2649.8,587.3L2650.7,591.8L2651.5,589.4L2652.4,586.8L2653.3,587.2L2654.2,591.3L2655.1,586.1L2655.9,588L2656.8,588.1L2657.7,586.3L2658.6,584.1L2659.4,586.2L2660.3,586.4L2661.2,587.5L2662.1,586.8L2663,585.3L2663.8,586.6L2664.7,585.9L2665.6,585.2L2666.5,584.8L2667.3,584.1L2668.2,585.5L2669.1,582.4L2670,583L2670.9,583.9L2671.7,581.3L2672.6,582.8L2673.5,580L2674.4,582.1L2675.2,584L2676.1,583.9L2677,582.7L2677.9,582.2L2678.8,580L2679.6,585.3L2680.5,582.9L2681.4,583.6L2682.3,580.1L2683.1,581L2684,578L2684.9,582.2L2685.8,582.2L2686.6,577.2L2687.5,580.1L2688.4,581L2689.3,576.8L2690.2,576.5L2691,577.5L2691.9,578L2692.8,576.5L2693.7,578.7L2694.5,578.9L2695.4,579.3L2696.3,579.2L2697.2,580.3L2698.1,579.5L2698.9,575.1L2699.8,576.2L2700.7,575.1L2701.6,574.8L2702.4,576.3L2703.3,576.2L2704.2,576.8L2705.1,573.1L2706,573.5L2706.8,575.2L2707.7,574.6L2708.6,574L2709.5,574.1L2710.3,572.6L2711.2,574.7L2712.1,573.8L2713,572.7L2713.8,571.3L2714.7,571.8L2715.6,567.2L2716.5,569.6L2717.4,570.9L2718.2,567.8L2719.1,570.2L2720,569.6L2720.9,566.5L2721.7,567.9L2722.6,567.3L2723.5,568.1L2724.4,567.9L2725.3,566.4" fill="none" stroke="none" marker-start="url(#srp)" marker-mid="url(#srp)" marker-end="url(#srp)"/><path d="M2579.6,667.9L2580.5,666L2581.4,661.7L2582.2,661.8L2583.1,655.1L2584,645.9L2584.9,638.9L2585.7,643.8L2586.6,641.2L2587.5,638.5L2588.4,643.5L2589.2,640.8L2590.1,643.6L2591,645.2L2591.9,639L2592.8,653.5L2593.6,637.8L2594.5,644.9L2595.4,638.5L2596.3,643.2L2597.1,622.7L2598,631L2598.9,635.7L2599.8,636.8L2600.7,645.2L2601.5,632.6L2602.4,636.7L2603.3,632.5L2604.2,632.2L2605,628.4L2605.9,623.4L2606.8,625.8L2607.7,615.6L2608.6,626.9L2609.4,613.3L2610.3,619.1L2611.2,628.2L2612.1,613.8L2612.9,613.8L2613.8,618.9L2614.7,611.2L2615.6,606.2L2616.5,611.9L2617.3,613.4L2618.2,613.8L2619.1,605.2L2620,619.1L2620.8,618.3L2621.7,608.8L2622.6,609.9L2623.5,605.7L2624.3,615.7L2625.2,603.5L2626.1,611L2627,604.3L2627.9,602.9L2628.7,610.6L2629.6,613.8L2630.5,606L2631.4,602.1L2632.2,610.2L2633.1,605.2L2634,607L2634.9,613.5L2635.8,611.1L2636.6,601.6L2637.5,617.2L2638.4,604.1L2639.3,608.3L2640.1,600.1L2641,603.2L2641.9,593.5L2642.8,613.1L2643.7,610.6L2644.5,595.9L2645.4,594.1L2646.3,593.3L2647.2,608.8L2648,599.5L2648.9,601.5L2649.8,600L2650.7,600.9L2651.5,595.3L2652.4,601.3L2653.3,592.9L2654.2,600.4L2655.1,602.4L2655.9,603.1L2656.8,599L2657.7,595.1L2658.6,600.9L2659.4,597.1L2660.3,608.4L2661.2,603.7L2662.1,598.5L2663,596.3L2663.8,594.8L2664.7,593.2L2665.6,596.3L2666.5,599.7L2667.3,600.7L2668.2,600.8L2669.1,609.2L2670,593.2L2670.9,597L2671.7,612.4L2672.6,586L2673.5,593.4L2674.4,597L2675.2,596.7L2676.1,597.9L2677,594.1L2677.9,597.2L2678.8,595.3L2679.6,599.1L2680.5,583.9L2681.4,589.3L2682.3,594.1L2683.1,588.1L2684,587.8L2684.9,597L2685.8,589.6L2686.6,596.6L2687.5,597L2688.4,594.3L2689.3,595.2L2690.2,591.5L2691,584L2691.9,591.5L2692.8,594L2693.7,588.3L2694.5,590.5L2695.4,595L2696.3,585.7L2697.2,593.9L2698.1,600.4L2698.9,586.4L2699.8,590L2700.7,587.9L2701.6,597L2702.4,589.8L2703.3,592.6L2704.2,583.3L2705.1,586.7L2706,586.3L2706.8,576L2707.7,593.7L2708.6,590.3L2709.5,575L2710.3,588.6L2711.2,583.3L2712.1,586.1L2713,585.3L2713.8,574.4L2714.7,581.3L2715.6,590.4L2716.5,578.1L2717.4,574.7L2718.2,571.9L2719.1,571.8L2720,579.7L2720.9,586.4L2721.7,578.4L2722.6,576.5L2723.5,586.8L2724.4,570.5L2725.3,568.8L2625.1,624.4L2655,618.4L2688.7,614.1L2579.6,672.7L2580.2,666.2" fill="none" stroke="none" marker-start="url(#spile)" marker-mid="url(#spile)" marker-end="url(#spile)"/><path d="M2579.6,586.3L2580.5,582.6L2581.4,569.4L2582.2,566.9L2583.1,574.7L2584,572.9L2584.9,561.5L2585.7,567.9L2586.6,565.1L2587.5,570.9L2588.4,566.6L2589.2,566.2L2590.1,563.9L2591,572.2L2591.9,573.7L2592.8,561.9L2593.6,569L2594.5,558.4L2595.4,563.6L2596.3,567.9L2597.1,572.7L2598,560.5L2598.9,562.4L2599.8,564.1L2600.7,553.3L2601.5,562.8L2602.4,558.4L2603.3,565L2604.2,555.4L2605,549.9L2605.9,562.7L2606.8,564L2607.7,559L2608.6,568.4L2609.4,561.4L2610.3,559.6L2611.2,566.8L2612.1,554.1L2612.9,560.1L2613.8,564.6L2614.7,570.5L2615.6,564.4L2616.5,567.7L2617.3,561.9L2618.2,568.3L2619.1,577.3L2620,562.7L2620.8,582.5L2621.7,563.6L2622.6,568L2623.5,569L2624.3,574.4L2625.2,560.1L2626.1,554.6L2627,571.8L2627.9,573L2628.7,571.9L2629.6,584.7L2630.5,569.2L2631.4,569.5L2632.2,573.8L2633.1,570.3L2634,578.5L2634.9,560.1L2635.8,565.5L2636.6,546L2637.5,573.1L2638.4,565.6L2639.3,573.8L2640.1,581.6L2641,567.9L2641.9,566.2L2642.8,564.5L2643.7,562.2L2644.5,563.4L2645.4,571.3L2646.3,567.4L2647.2,567.4L2648,565.8L2648.9,572.6L2649.8,569.8L2650.7,565.6L2651.5,570.6L2652.4,565.2L2653.3,558.7L2654.2,575.2L2655.1,568.8L2655.9,559.6L2656.8,572.4L2657.7,567.6L2658.6,555.3L2659.4,575.4L2660.3,567.1L2661.2,570.6L2662.1,566L2663,563.7L2663.8,554.7L2664.7,570.6L2665.6,564.4L2666.5,562.3L2667.3,566.2L2668.2,564.3L2669.1,568L2670,561.2L2670.9,563.2L2671.7,549.7L2672.6,560.5L2673.5,567.4L2674.4,571.4L2675.2,560.5L2676.1,561.9L2677,572.6L2677.9,560.3L2678.8,566.9L2679.6,572.8L2680.5,562.3L2681.4,569.7L2682.3,557.2L2683.1,562.9L2684,561L2684.9,562.1L2685.8,568.4L2686.6,576.3L2687.5,556.7L2688.4,557.2L2689.3,563.8L2690.2,553.8L2691,563.6L2691.9,563.9L2692.8,558.4L2693.7,563.4L2694.5,550L2695.4,564.6L2696.3,549.8L2697.2,555.1L2698.1,555.8L2698.9,556.6L2699.8,564.4L2700.7,559.3L2701.6,556.1L2702.4,561.9L2703.3,568.3L2704.2,558.1L2705.1,560.2L2706,565.6L2706.8,559.3L2707.7,549.2L2708.6,573.1L2709.5,571.1L2710.3,544.2L2711.2,556.4L2712.1,559.2L2713,562.5L2713.8,560.4L2714.7,554.3L2715.6,549.1L2716.5,555.8L2717.4,560.9L2718.2,546.6L2719.1,546.3L2720,551.8L2720.9,538.9L2721.7,548.8L2722.6,546.9L2723.5,551.7L2724.4,543.6L2725.3,541.7L2724.2,536.1L2654.1,547.4L2656.9,545.9L2625.1,549.8L2695.2,547.4" fill="none" stroke="none" marker-start="url(#sc4)" marker-mid="url(#sc4)" marker-end="url(#sc4)"/><path d="M2579.6,621.7L2580.5,618.1L2581.4,613.2L2582.2,610.4L2583.1,609.1L2584,607.3L2584.9,605.7L2585.7,601.3L2586.6,600.7L2587.5,596.9L2588.4,601.5L2589.2,597L2590.1,596.8L2591,596.5L2591.9,592.9L2592.8,594.3L2593.6,592.9L2594.5,589.8L2595.4,591.8L2596.3,592.2L2597.1,587.5L2598,590.2L2598.9,588.6L2599.8,588.2L2600.7,587.7L2601.5,588.4L2602.4,586L2603.3,587L2604.2,584.9L2605,585.9L2605.9,583.5L2606.8,583.9L2607.7,586L2608.6,584.2L2609.4,583.2L2610.3,581.8L2611.2,582.1L2612.1,583.2L2612.9,584L2613.8,583.2L2614.7,583.1L2615.6,582.2L2616.5,583.9L2617.3,581.4L2618.2,581.1L2619.1,582.8L2620,581.5L2620.8,580.9L2621.7,580.4L2622.6,580.6L2623.5,581.6L2624.3,581.1L2625.2,578.9L2626.1,580.9L2627,580.5L2627.9,578.8L2628.7,581L2629.6,579.4L2630.5,579.2L2631.4,580.6L2632.2,581.1L2633.1,578.3L2634,579.6L2634.9,577.8L2635.8,581.8L2636.6,578L2637.5,580.1L2638.4,577.5L2639.3,579.3L2640.1,581L2641,574.6L2641.9,577.2L2642.8,578.3L2643.7,577.3L2644.5,576.4L2645.4,580L2646.3,577.1L2647.2,574.7L2648,577.9L2648.9,574.3L2649.8,577.9L2650.7,575.5L2651.5,576.3L2652.4,577.7L2653.3,576L2654.2,573.9L2655.1,573.3L2655.9,577L2656.8,576.2L2657.7,574.1L2658.6,576.1L2659.4,575.5L2660.3,575.5L2661.2,571.6L2662.1,574L2663,575.4L2663.8,575.1L2664.7,575.1L2665.6,570.6L2666.5,573.9L2667.3,574.2L2668.2,576.7L2669.1,572L2670,572.6L2670.9,573L2671.7,573.9L2672.6,572.1L2673.5,574L2674.4,571.3L2675.2,572.5L2676.1,571.4L2677,572.1L2677.9,570.9L2678.8,569.5L2679.6,572.8L2680.5,571.6L2681.4,570.2L2682.3,571L2683.1,571.9L2684,569.1L2684.9,570L2685.8,570.7L2686.6,570.4L2687.5,569.1L2688.4,566.6L2689.3,570.8L2690.2,569.4L2691,568.7L2691.9,568.2L2692.8,568.7L2693.7,567.6L2694.5,566.6L2695.4,566.7L2696.3,566.7L2697.2,566.5L2698.1,565.6L2698.9,567.7L2699.8,565L2700.7,567.3L2701.6,564.9L2702.4,566.5L2703.3,567.7L2704.2,565.9L2705.1,564.5L2706,565.3L2706.8,565.1L2707.7,562.2L2708.6,563.3L2709.5,563.8L2710.3,562.6L2711.2,562.8L2712.1,563.3L2713,562.9L2713.8,562.6L2714.7,561.8L2715.6,560.2L2716.5,559.9L2717.4,559L2718.2,558.3L2719.1,557.9L2720,555.3L2720.9,556.5L2721.7,556.3L2722.6,554.4L2723.5,555L2724.4,555.1L2725.3,553.7L2724.2,590.4" fill="none" stroke="none" marker-start="url(#smc4)" marker-mid="url(#smc4)" marker-end="url(#smc4)"/><path d="M2579.6,632.5L2581.4,623.7L2583.1,618.2L2584.9,614.7L2586.6,611.1L2588.4,609.7L2590.1,608.3L2591.9,606.9L2593.6,605.6L2595.4,604.2L2597.1,602.6L2598.9,601.1L2600.7,599.5L2602.4,597.9L2604.2,596.6L2605.9,595.5L2607.7,594.5L2609.4,593.4L2611.2,592.3L2612.9,591.3L2614.7,590.9L2616.5,590.4L2618.2,590L2620,589.6L2621.7,589.1L2623.5,588.7L2625.2,588.2L2627,587.8L2628.7,587.4L2630.5,586.9L2632.2,586.5L2634,586L2635.8,585.6L2637.5,585.2L2639.3,584.7L2641,584.3L2642.8,583.9L2644.5,583.4L2646.3,583L2648,582.6L2649.8,582.3L2651.5,581.9L2653.3,581.6L2655.1,581.3L2656.8,580.9L2658.6,580.6L2660.3,580.3L2662.1,579.9L2663.8,579.6L2665.6,579.3L2667.3,578.9L2669.1,578.6L2670.9,578.3L2672.6,577.9L2674.4,577.6L2676.1,577.3L2677.9,577L2679.6,576.7L2681.4,576.3L2683.1,576L2684.9,575.7L2686.6,575.4L2688.4,575L2690.2,574.7L2691.9,574.4L2693.7,574.1L2695.4,573.8L2697.2,573.5L2698.9,573.2L2700.7,572.9L2702.4,572.7L2704.2,572.4L2706,572.1L2707.7,571.8L2709.5,571.1L2711.2,570.2L2713,569.3L2714.7,568.5L2716.5,567.6L2718.2,566.6L2720,565.3L2721.7,564.1L2723.5,562.8L2725.3,562.3" fill="none" stroke="#1f1f1f" stroke-width="4" stroke-dasharray="4 7.2" stroke-opacity="0.9"/><rect x="2764.4" y="516.5" width="160.9" height="183.9" fill="none" stroke="#3a3a3a" stroke-width="1.1"/><text x="2844.9" y="509.6" font-size="13.15">M2D2 Wikipedia</text><text x="2771.7" y="717.3" font-size="10.3">0</text><text x="2832.4" y="717.3" font-size="10.3">20</text><text x="2893.2" y="717.3" font-size="10.3">40</text><text x="2756.9" y="546.8" font-size="10.3" transform="rotate(-90 2756.9 546.8)">20.2</text><text x="2756.9" y="623.7" font-size="10.3" transform="rotate(-90 2756.9 623.7)">11.7</text><text x="2756.9" y="700.4" font-size="10.3" transform="rotate(-90 2756.9 700.4)">7.5</text><path d="M2771.7,653.3L2774.8,636.7L2777.8,628.6L2780.9,624.3L2783.9,625.3L2787,625L2790,618.4L2793,620.6L2796.1,620.3L2799.1,618.5L2802.2,618.5L2805.2,614.3L2808.3,616.8L2811.3,614.9L2814.4,613L2817.4,610.8L2820.4,610.7L2823.5,608.1L2826.5,607.6L2829.6,605.8L2832.6,603.4L2835.7,605.4L2838.7,605.1L2841.8,605.2L2844.8,602.9L2847.8,603.3L2850.9,603.3L2853.9,600.6L2857,599.7L2860,598.4L2863.1,594.7L2866.1,593.1L2869.1,595.8L2872.2,596.1L2875.2,595L2878.3,594.5L2881.3,592.4L2884.4,591.3L2887.4,591.9L2890.5,588.6L2893.5,586.3L2896.5,586.4L2899.6,589.4L2902.6,587.9L2905.7,584L2908.7,582.5L2911.8,582.2L2914.8,578.6L2917.9,574.5" fill="none" stroke="none" marker-start="url(#sdolma)" marker-mid="url(#sdolma)" marker-end="url(#sdolma)"/><path d="M2771.7,647.7L2774.8,635.4L2777.8,626.9L2780.9,622.7L2783.9,621.2L2787,618.8L2790,617.7L2793,617.6L2796.1,615.9L2799.1,614L2802.2,612.6L2805.2,612.5L2808.3,611.9L2811.3,611.3L2814.4,609.8L2817.4,608.8L2820.4,606.9L2823.5,604.7L2826.5,603.5L2829.6,601.2L2832.6,602.6L2835.7,602.7L2838.7,602.2L2841.8,601.1L2844.8,600.5L2847.8,601.1L2850.9,599.5L2853.9,598L2857,595.6L2860,593.2L2863.1,593.7L2866.1,591.5L2869.1,591.3L2872.2,590.4L2875.2,590L2878.3,591.8L2881.3,591.6L2884.4,589L2887.4,588.2L2890.5,587.5L2893.5,585.9L2896.5,585.4L2899.6,582.2L2902.6,582L2905.7,582L2908.7,581.5L2911.8,578.8L2914.8,575.4L2917.9,569.5" fill="none" stroke="none" marker-start="url(#sfalcon)" marker-mid="url(#sfalcon)" marker-end="url(#sfalcon)"/><path d="M2771.7,664.3L2774.8,646.4L2777.8,631.5L2780.9,641.3L2783.9,650.3L2787,632.5L2790,631.9L2793,639.7L2796.1,637.2L2799.1,632.4L2802.2,631.5L2805.2,640.3L2808.3,640.3L2811.3,622.6L2814.4,626.1L2817.4,628.7L2820.4,631.1L2823.5,623.7L2826.5,625L2829.6,620.7L2832.6,612.8L2835.7,617.9L2838.7,619.9L2841.8,618L2844.8,619.4L2847.8,619.5L2850.9,617.5L2853.9,616.6L2857,609.1L2860,611.8L2863.1,611L2866.1,612L2869.1,607.2L2872.2,603.5L2875.2,606.5L2878.3,609.1L2881.3,601.6L2884.4,605.4L2887.4,607.2L2890.5,605.3L2893.5,605.7L2896.5,603.5L2899.6,597.5L2902.6,597.5L2905.7,596.9L2908.7,596.8L2911.8,586.9L2914.8,588.1L2917.9,580.7" fill="none" stroke="none" marker-start="url(#srp)" marker-mid="url(#srp)" marker-end="url(#srp)"/><path d="M2771.7,680.2L2774.8,673.8L2777.8,667.7L2780.9,665L2783.9,661.1L2787,624.1L2790,624.1L2793,629.7L2796.1,625.5L2799.1,624.1L2802.2,651.9L2805.2,675.5L2808.3,675.5L2811.3,631.5L2814.4,624.2L2817.4,614.7L2820.4,618.4L2823.5,627.3L2826.5,627.4L2829.6,628.7L2832.6,626L2835.7,622.2L2838.7,614.4L2841.8,620L2844.8,611.6L2847.8,609.1L2850.9,613.8L2853.9,613.8L2857,601.6L2860,599L2863.1,592.3L2866.1,592.3L2869.1,596.8L2872.2,600.7L2875.2,603.2L2878.3,610L2881.3,596.1L2884.4,588.5L2887.4,602.5L2890.5,601.7L2893.5,597.9L2896.5,595.7L2899.6,592.3L2902.6,592.3L2905.7,593.2L2908.7,585.7L2911.8,585.7L2914.8,575.4L2917.9,567" fill="none" stroke="none" marker-start="url(#spile)" marker-mid="url(#spile)" marker-end="url(#spile)"/><path d="M2771.7,616.6L2774.8,596.9L2777.8,588.5L2780.9,594.1L2783.9,524.3L2787,594.1L2790,592.3L2793,591.3L2796.1,589.6L2799.1,592.3L2802.2,575.5L2805.2,555.4L2808.3,555.4L2811.3,578.6L2814.4,585.6L2817.4,594.1L2820.4,586.8L2823.5,589.4L2826.5,530.9L2829.6,573L2832.6,584.8L2835.7,568.3L2838.7,569.9L2841.8,572.2L2844.8,580.1L2847.8,590.9L2850.9,580.6L2853.9,577.3L2857,567.9L2860,571.9L2863.1,577.3L2866.1,572.9L2869.1,568.9L2872.2,567L2875.2,563.4L2878.3,566.1L2881.3,562.2L2884.4,563.5L2887.4,557.3L2890.5,563.3L2893.5,570.7L2896.5,573.2L2899.6,565.1L2902.6,560L2905.7,557.1L2908.7,559.2L2911.8,560.1L2914.8,554.8L2917.9,558.6" fill="none" stroke="none" marker-start="url(#sc4)" marker-mid="url(#sc4)" marker-end="url(#sc4)"/><path d="M2771.7,628.7L2774.8,609.1L2777.8,606.3L2780.9,602.5L2783.9,602.7L2787,605L2790,603.5L2793,603.2L2796.1,603.5L2799.1,594.7L2802.2,598.3L2805.2,593.5L2808.3,592.3L2811.3,592.5L2814.4,586.9L2817.4,586.6L2820.4,583.8L2823.5,586.1L2826.5,577.3L2829.6,575.1L2832.6,578.2L2835.7,578.2L2838.7,583.8L2841.8,581.1L2844.8,579.6L2847.8,586.6L2850.9,578.6L2853.9,581L2857,572.9L2860,562.3L2863.1,558.5L2866.1,558.6L2869.1,558.6L2872.2,571.7L2875.2,573.5L2878.3,573.5L2881.3,567L2884.4,562.3L2887.4,563.6L2890.5,567.9L2893.5,567.3L2896.5,559.8L2899.6,558.6L2902.6,567L2905.7,565.8L2908.7,566.4L2911.8,566.4L2914.8,551.7L2917.9,557.6" fill="none" stroke="none" marker-start="url(#smc4)" marker-mid="url(#smc4)" marker-end="url(#smc4)"/><path d="M2771.7,649.3L2774.8,637.9L2777.8,627.2L2780.9,624.7L2783.9,622.5L2787,620.3L2790,619.5L2793,618.8L2796.1,618L2799.1,617.2L2802.2,616.2L2805.2,615.1L2808.3,614.1L2811.3,612.8L2814.4,611.3L2817.4,609.7L2820.4,608.3L2823.5,607L2826.5,605.6L2829.6,604.7L2832.6,604.2L2835.7,603.7L2838.7,603.2L2841.8,602.7L2844.8,602.2L2847.8,601.7L2850.9,601L2853.9,598.8L2857,596.6L2860,594.5L2863.1,594L2866.1,593.6L2869.1,593.1L2872.2,592.7L2875.2,592.3L2878.3,591.9L2881.3,591.5L2884.4,590.5L2887.4,589.2L2890.5,587.9L2893.5,586.7L2896.5,585.8L2899.6,584.9L2902.6,584.1L2905.7,583L2908.7,581.6L2911.8,580.2L2914.8,577.7L2917.9,571.3" fill="none" stroke="#1f1f1f" stroke-width="4" stroke-dasharray="4 7.2" stroke-opacity="0.9"/><rect x="2957.5" y="516.5" width="160.2" height="183.9" fill="none" stroke="#3a3a3a" stroke-width="1.1"/><text x="3037.6" y="509.6" font-size="13.15">C4 100 Domains</text><text x="2964.2" y="717.3" font-size="10.3">0</text><text x="3038.5" y="717.3" font-size="10.3">50</text><text x="3112.8" y="717.3" font-size="10.3">100</text><text x="2950.0" y="535.6" font-size="10.3" transform="rotate(-90 2950.0 535.6)">141.6</text><text x="2950.0" y="590.4" font-size="10.3" transform="rotate(-90 2950.0 590.4)">27.7</text><text x="2950.0" y="645.4" font-size="10.3" transform="rotate(-90 2950.0 645.4)">9.3</text><text x="2950.0" y="700.4" font-size="10.3" transform="rotate(-90 2950.0 700.4)">4.4</text><path d="M2964.2,661.5L2965.7,658.1L2967.2,654.3L2968.7,651.3L2970.2,648.5L2971.7,646.5L2973.2,646.2L2974.6,644.7L2976.1,642.2L2977.6,641.6L2979.1,640.7L2980.6,639.8L2982.1,638.7L2983.5,637.3L2985,637.2L2986.5,635.8L2988,637.5L2989.5,636.7L2991,635L2992.5,636.6L2993.9,635.8L2995.4,633.3L2996.9,635.7L2998.4,634.6L2999.9,635.1L3001.4,632.3L3002.9,633.2L3004.3,632.7L3005.8,632.2L3007.3,631.8L3008.8,632L3010.3,629.7L3011.8,629.5L3013.3,629L3014.7,629.2L3016.2,628.8L3017.7,629.1L3019.2,628.6L3020.7,628L3022.2,627.1L3023.7,626.9L3025.1,627.7L3026.6,627.3L3028.1,626.6L3029.6,626.1L3031.1,627.3L3032.6,625.4L3034.1,626.1L3035.5,626.3L3037,625L3038.5,625.6L3040,623.9L3041.5,625.3L3043,624.4L3044.5,622.8L3045.9,624.2L3047.4,622.7L3048.9,624.1L3050.4,622.3L3051.9,622.4L3053.4,622.4L3054.9,621.7L3056.3,621.8L3057.8,620.9L3059.3,621.5L3060.8,620.7L3062.3,620.5L3063.8,617.9L3065.3,620.5L3066.7,619.3L3068.2,617.5L3069.7,618.6L3071.2,618.5L3072.7,618.6L3074.2,616.6L3075.7,618.2L3077.1,616.5L3078.6,618.1L3080.1,615.8L3081.6,615.8L3083.1,614.5L3084.6,613.4L3086,614.6L3087.5,613.9L3089,613.8L3090.5,612.8L3092,611.2L3093.5,609.7L3095,609.8L3096.4,609L3097.9,608.1L3099.4,608.4L3100.9,607.5L3102.4,606.1L3103.9,604.3L3105.4,602L3106.8,600.1L3108.3,596.2L3109.8,592" fill="none" stroke="none" marker-start="url(#sdolma)" marker-mid="url(#sdolma)" marker-end="url(#sdolma)"/><path d="M2964.2,660.3L2965.7,655.4L2967.2,653.9L2968.7,650.3L2970.2,649.1L2971.7,644.5L2973.2,644.2L2974.6,643.3L2976.1,640.6L2977.6,640.3L2979.1,640.6L2980.6,640.2L2982.1,640L2983.5,636.9L2985,635.7L2986.5,636.8L2988,636.8L2989.5,635.7L2991,633.9L2992.5,635.5L2993.9,635.1L2995.4,634.5L2996.9,633.1L2998.4,633.5L2999.9,633.6L3001.4,631.9L3002.9,630.3L3004.3,632L3005.8,631.7L3007.3,630.9L3008.8,631.3L3010.3,629.5L3011.8,629.6L3013.3,629L3014.7,629.4L3016.2,630L3017.7,627.8L3019.2,629.6L3020.7,628.7L3022.2,627.6L3023.7,627L3025.1,627.9L3026.6,625.9L3028.1,625.7L3029.6,624.6L3031.1,625.8L3032.6,626.4L3034.1,625.4L3035.5,625.1L3037,624.3L3038.5,624.4L3040,622.7L3041.5,624.8L3043,623.2L3044.5,622.2L3045.9,622.2L3047.4,621.9L3048.9,623.2L3050.4,623L3051.9,620.5L3053.4,622.3L3054.9,622L3056.3,620.3L3057.8,619.2L3059.3,619.6L3060.8,619.4L3062.3,619.9L3063.8,618.9L3065.3,617L3066.7,618.7L3068.2,616.7L3069.7,618.6L3071.2,616.3L3072.7,616.4L3074.2,615.8L3075.7,615.8L3077.1,617.1L3078.6,616.3L3080.1,615.7L3081.6,614.9L3083.1,612.6L3084.6,613L3086,612.5L3087.5,611.5L3089,612.4L3090.5,610.7L3092,610.2L3093.5,609.3L3095,607.6L3096.4,609.3L3097.9,609.3L3099.4,607.4L3100.9,605.6L3102.4,603L3103.9,603.6L3105.4,602.5L3106.8,599.5L3108.3,595.7L3109.8,591.9L2966.9,633.8" fill="none" stroke="none" marker-start="url(#sfalcon)" marker-mid="url(#sfalcon)" marker-end="url(#sfalcon)"/><path d="M2964.2,662.1L2965.7,656.8L2967.2,653.7L2968.7,651.1L2970.2,647.4L2971.7,646.1L2973.2,643.9L2974.6,643.7L2976.1,643L2977.6,640.5L2979.1,639.1L2980.6,640.9L2982.1,639.5L2983.5,639.6L2985,636.8L2986.5,638L2988,638.3L2989.5,637.9L2991,635.9L2992.5,635.9L2993.9,635.2L2995.4,635.7L2996.9,635.3L2998.4,634.2L2999.9,632.7L3001.4,633.9L3002.9,632.6L3004.3,633.1L3005.8,632.4L3007.3,633L3008.8,632.3L3010.3,630.7L3011.8,630.9L3013.3,631.5L3014.7,629.4L3016.2,629.7L3017.7,629.9L3019.2,629.5L3020.7,628.6L3022.2,626.8L3023.7,626.5L3025.1,627.4L3026.6,627.3L3028.1,628.6L3029.6,625.9L3031.1,627.1L3032.6,626.7L3034.1,624.6L3035.5,625L3037,625.5L3038.5,624.8L3040,624.8L3041.5,625.1L3043,623.9L3044.5,624.5L3045.9,623.4L3047.4,623.2L3048.9,623.7L3050.4,622.6L3051.9,622.9L3053.4,623.6L3054.9,622.1L3056.3,621.7L3057.8,622.1L3059.3,620.9L3060.8,621.7L3062.3,619.6L3063.8,620.6L3065.3,619.4L3066.7,618.8L3068.2,620.4L3069.7,618.1L3071.2,619.6L3072.7,618.4L3074.2,618.7L3075.7,616.5L3077.1,617.7L3078.6,617.6L3080.1,616L3081.6,615.4L3083.1,616.8L3084.6,614.6L3086,613.6L3087.5,612.9L3089,613.2L3090.5,612.6L3092,611.9L3093.5,612.5L3095,610.2L3096.4,610L3097.9,610L3099.4,607.4L3100.9,608.2L3102.4,607.8L3103.9,603.4L3105.4,601.5L3106.8,599.4L3108.3,594.4L3109.8,591.8" fill="none" stroke="none" marker-start="url(#srp)" marker-mid="url(#srp)" marker-end="url(#srp)"/><path d="M2964.2,657.5L2965.7,656.8L2967.2,653.9L2968.7,646.8L2970.2,646.6L2971.7,642L2973.2,644.5L2974.6,640.9L2976.1,640.3L2977.6,639.4L2979.1,639.3L2980.6,637.1L2982.1,636.8L2983.5,635.2L2985,635.3L2986.5,632.7L2988,634.1L2989.5,630.6L2991,632.3L2992.5,635.4L2993.9,632.2L2995.4,629.9L2996.9,631.7L2998.4,629.5L2999.9,628.1L3001.4,629.1L3002.9,630.9L3004.3,630L3005.8,628.9L3007.3,627.2L3008.8,626.6L3010.3,629.8L3011.8,627.8L3013.3,625.6L3014.7,623.5L3016.2,624.2L3017.7,629.5L3019.2,623.7L3020.7,624.9L3022.2,624.9L3023.7,624L3025.1,623.6L3026.6,621.7L3028.1,622L3029.6,625.9L3031.1,622L3032.6,624.2L3034.1,620.1L3035.5,622L3037,622.6L3038.5,623.6L3040,620.1L3041.5,622.4L3043,621.9L3044.5,619.9L3045.9,621.4L3047.4,619.1L3048.9,618.9L3050.4,619.8L3051.9,615.5L3053.4,619.1L3054.9,617.4L3056.3,616.4L3057.8,617.7L3059.3,619.2L3060.8,617.1L3062.3,619.3L3063.8,615.3L3065.3,614.7L3066.7,618.6L3068.2,616.5L3069.7,616.9L3071.2,613.9L3072.7,616L3074.2,614.8L3075.7,615L3077.1,613.7L3078.6,615.1L3080.1,611.9L3081.6,610.9L3083.1,609.6L3084.6,613L3086,609.6L3087.5,608.7L3089,608.3L3090.5,608.5L3092,606.7L3093.5,607.6L3095,606.3L3096.4,605.7L3097.9,604.3L3099.4,605.1L3100.9,603.6L3102.4,603.5L3103.9,601.6L3105.4,599.6L3106.8,593.7L3108.3,591.8L3109.8,587.1L2986.7,605.7L2977.1,624.6L3020.4,608.5L3056.3,609.1L3062.8,609.5L2992.7,648.9" fill="none" stroke="none" marker-start="url(#spile)" marker-mid="url(#spile)" marker-end="url(#spile)"/><path d="M2964.2,662.4L2965.7,656.1L2967.2,652.7L2968.7,650.8L2970.2,648.8L2971.7,648L2973.2,645.3L2974.6,645.4L2976.1,642L2977.6,640.5L2979.1,642.6L2980.6,641.2L2982.1,640.6L2983.5,639.6L2985,639.3L2986.5,637.1L2988,638.9L2989.5,637.1L2991,638.3L2992.5,637.1L2993.9,634.8L2995.4,635L2996.9,636.9L2998.4,635.3L2999.9,634.7L3001.4,634.9L3002.9,633.9L3004.3,633.4L3005.8,633.6L3007.3,633.3L3008.8,634.1L3010.3,632.4L3011.8,633.7L3013.3,633.2L3014.7,632.7L3016.2,631.7L3017.7,630.4L3019.2,630L3020.7,629.4L3022.2,628.4L3023.7,628.7L3025.1,627.9L3026.6,629.8L3028.1,628.6L3029.6,627.4L3031.1,625.8L3032.6,627.3L3034.1,626.8L3035.5,625.9L3037,625.7L3038.5,624.4L3040,626.8L3041.5,626L3043,628.2L3044.5,625.5L3045.9,625.1L3047.4,626.2L3048.9,624.7L3050.4,624.5L3051.9,623.7L3053.4,623.1L3054.9,624.8L3056.3,624L3057.8,624.4L3059.3,622.2L3060.8,622.3L3062.3,621L3063.8,622.4L3065.3,619.8L3066.7,621.3L3068.2,621.4L3069.7,621.3L3071.2,618.8L3072.7,620.3L3074.2,618.2L3075.7,617.8L3077.1,616.9L3078.6,618.9L3080.1,618.9L3081.6,616.3L3083.1,615.6L3084.6,615.4L3086,617.6L3087.5,615.6L3089,613.7L3090.5,612L3092,612.5L3093.5,613.6L3095,613.5L3096.4,610.7L3097.9,609.6L3099.4,609L3100.9,607L3102.4,608.6L3103.9,604.7L3105.4,604.6L3106.8,599.9L3108.3,595.9L3109.8,593L2986.5,656.8L3036.6,637.2L2977.7,652.1" fill="none" stroke="none" marker-start="url(#sc4)" marker-mid="url(#sc4)" marker-end="url(#sc4)"/><path d="M2964.2,658.6L2965.7,656.8L2967.2,651.2L2968.7,646.7L2970.2,647.5L2971.7,645.6L2973.2,639.3L2974.6,644.2L2976.1,640.6L2977.6,639.7L2979.1,634.3L2980.6,635.4L2982.1,635.1L2985,631.5L2988,629.2L2991,632.1L2993.9,629.6L2996.9,632.5L2999.9,628.6L3002.9,626.7L3005.8,627.8L3008.8,629.5L3011.8,624.1L3014.7,626.7L3017.7,623.1L3020.7,621.8L3023.7,621.4L3026.6,622.6L3029.6,622.9L3032.6,623.8L3035.5,622.6L3038.5,621.7L3041.5,620.5L3044.5,619.5L3047.4,620.4L3050.4,617.4L3053.4,616.8L3056.3,617.1L3059.3,617.6L3062.3,614.4L3065.3,614.6L3068.2,612.6L3071.2,612.7L3074.2,609L3077.1,612.6L3080.1,612.4L3083.1,610.6L3086,608L3089,609.2L3092,606.8L3095,604.8L3097.9,607.2L3100.9,604.9L3103.9,596.5L3106.8,594L3109.8,587.1L2974.9,591.9L2979,590L2980.5,582.9L2998.3,572L2999.8,580.1L3001.1,603.9L3003,607.8L3005.8,608.2L3007.3,589.1L3010.4,615.3L3018.9,593.2L3026.7,591.7L3024.5,609.1L3028.2,609.7L3032,609.1L3034.2,560.8L3035.3,602L3037.6,613.8L3041.7,576.4L3042.8,603.1L3044.1,609.1L3046,571.1L3047.5,601.6L3049.7,611L3050.7,594.5L3052.5,597.9L3055,595.6L3057.8,588L3059.5,524L3061,552.6L3062.5,589.1L3065.1,603.1L3066.6,588L3068.1,561.9L3072.6,589.4L3074.1,554.8L3078.7,598.4L3081.5,558.2L3083,581.6L3084.3,590L3086.2,562.3L3089,567.9L3090.9,596.9L3094.3,603.5L3097.8,596.6L3100.8,582.3L3105.9,592.3L3108.7,589.4" fill="none" stroke="none" marker-start="url(#smc4)" marker-mid="url(#smc4)" marker-end="url(#smc4)"/><path d="M2964.2,661.1L2967.2,652.7L2970.2,648.3L2973.2,644.7L2976.1,642.2L2979.1,640.2L2982.1,638.8L2985,637.3L2988,636.3L2991,635.5L2993.9,634.7L2996.9,634L2999.9,633.2L3002.9,632.4L3005.8,631.6L3008.8,630.8L3011.8,630L3014.7,629.2L3017.7,628.4L3020.7,627.6L3023.7,626.8L3026.6,626.4L3029.6,626L3032.6,625.5L3035.5,625.1L3038.5,624.6L3041.5,624.2L3044.5,623.6L3047.4,623L3050.4,622.4L3053.4,621.8L3056.3,621.2L3059.3,620.6L3062.3,620L3065.3,619.2L3068.2,618.5L3071.2,617.8L3074.2,617L3077.1,616.3L3080.1,615.5L3083.1,614.4L3086,613.4L3089,612.3L3092,611.2L3095,609.9L3097.9,608.4L3100.9,606.9L3103.9,603.8L3106.8,599.6L3109.8,590.9" fill="none" stroke="#1f1f1f" stroke-width="4" stroke-dasharray="4 7.2" stroke-opacity="0.9"/><rect x="3149.8" y="516.5" width="160.0" height="183.9" fill="none" stroke="#3a3a3a" stroke-width="1.1"/><text x="3229.8" y="509.6" font-size="13.15">100 Subreddits</text><text x="3156.6" y="717.3" font-size="10.3">0</text><text x="3230.3" y="717.3" font-size="10.3">50</text><text x="3303.8" y="717.3" font-size="10.3">100</text><text x="3142.3" y="516.5" font-size="10.3" transform="rotate(-90 3142.3 516.5)">88.4</text><text x="3142.3" y="577.8" font-size="10.3" transform="rotate(-90 3142.3 577.8)">39.2</text><text x="3142.3" y="639.4" font-size="10.3" transform="rotate(-90 3142.3 639.4)">20.2</text><text x="3142.3" y="700.4" font-size="10.3" transform="rotate(-90 3142.3 700.4)">11.7</text><path d="M3156.6,675.2L3158,661.6L3159.5,660.2L3161,659.8L3162.5,658.4L3163.9,659.6L3165.4,661.1L3166.9,654.6L3168.3,657.2L3169.8,656L3171.3,657L3172.8,652.8L3174.2,651.9L3175.7,650.2L3177.2,655.6L3178.7,654.4L3180.1,653.6L3181.6,648.1L3183.1,651.6L3184.5,650.3L3186,648.5L3187.5,649L3189,651.8L3190.4,651L3191.9,649.3L3193.4,650L3194.8,647.3L3196.3,648.4L3197.8,647.9L3199.3,648.6L3200.7,647L3202.2,646.5L3203.7,646.1L3205.2,644.7L3206.6,650.2L3208.1,646.3L3209.6,645.8L3211,649.2L3212.5,647L3214,640.4L3215.5,644.6L3216.9,644.5L3218.4,646.2L3219.9,644.6L3221.4,643L3222.8,638.6L3224.3,638.7L3225.8,640.7L3227.2,640.7L3228.7,637.1L3230.2,638.1L3231.7,637.9L3233.1,638.6L3234.6,638.9L3236.1,637.4L3237.5,635.3L3239,640.1L3240.5,640.6L3242,636.9L3243.4,639L3244.9,637.6L3246.4,637.8L3247.9,637.2L3249.3,634.4L3250.8,636.9L3252.3,637.5L3253.7,633.2L3255.2,638.8L3256.7,638.8L3258.2,638L3259.6,638L3261.1,635.1L3262.6,632.6L3264.1,631.8L3265.5,631.1L3267,632.7L3268.5,632.6L3269.9,634.2L3271.4,628.8L3272.9,637.8L3274.4,637.9L3275.8,633.3L3277.3,633.6L3278.8,631.7L3280.2,629.8L3281.7,627.4L3283.2,626.8L3284.7,624.6L3286.1,626L3287.6,624.8L3289.1,624.8L3290.6,620.5L3292,620.4L3293.5,618.4L3295,617.5L3296.4,611.2L3297.9,611.3L3299.4,611.7L3300.9,612L3302.3,611.1" fill="none" stroke="none" marker-start="url(#sdolma)" marker-mid="url(#sdolma)" marker-end="url(#sdolma)"/><path d="M3156.6,650L3158,641.9L3159.5,639.2L3161,639.4L3162.5,637.2L3163.9,636.1L3165.4,636.5L3166.9,635.8L3168.3,634.1L3169.8,633.8L3171.3,634L3172.8,634.3L3174.2,632.2L3175.7,632L3177.2,633.1L3178.7,631.1L3180.1,632L3181.6,631.8L3183.1,631L3184.5,629.8L3186,630.3L3187.5,629.7L3189,630L3190.4,628.5L3191.9,630L3193.4,627L3194.8,628L3196.3,627.8L3197.8,628.4L3199.3,626.5L3200.7,627.2L3202.2,625.8L3203.7,626.7L3205.2,627.2L3206.6,624.9L3208.1,625.3L3209.6,623.6L3211,625.1L3212.5,624.9L3214,623.4L3215.5,622L3216.9,623.2L3218.4,623.5L3219.9,623.2L3221.4,622.6L3222.8,619.8L3224.3,620.6L3225.8,622.3L3227.2,619.5L3228.7,621.4L3230.2,621.8L3231.7,620.4L3233.1,620.5L3234.6,618.8L3236.1,617.6L3237.5,618.4L3239,617.9L3240.5,617.7L3242,618L3243.4,616.8L3244.9,616.8L3246.4,616.6L3247.9,615.9L3249.3,617.2L3250.8,615.6L3252.3,614.9L3253.7,614.2L3255.2,613.5L3256.7,614.9L3258.2,613.4L3259.6,611.9L3261.1,612L3262.6,612L3264.1,611.3L3265.5,612.3L3267,609.8L3268.5,610.9L3269.9,610.2L3271.4,608.5L3272.9,609.3L3274.4,608.7L3275.8,608.9L3277.3,607.3L3278.8,607.3L3280.2,604.7L3281.7,604.5L3283.2,605.5L3284.7,605L3286.1,602.7L3287.6,599.9L3289.1,599.3L3290.6,594.1L3292,592.8L3293.5,591.5L3295,588.9L3296.4,584.5L3297.9,580.8L3299.4,580.9L3300.9,574.3L3302.3,567.8L3184.4,638.7L3202.2,639.6L3212.5,635.8" fill="none" stroke="none" marker-start="url(#sfalcon)" marker-mid="url(#sfalcon)" marker-end="url(#sfalcon)"/><path d="M3156.6,648.8L3158,641.5L3159.5,633.9L3161,637.5L3162.5,636.5L3163.9,632.7L3165.4,635.3L3166.9,631.9L3168.3,634.6L3169.8,633.2L3171.3,634.9L3172.8,631.3L3174.2,631.7L3175.7,632.5L3177.2,630.2L3178.7,629.8L3180.1,629.8L3181.6,629.7L3183.1,628.2L3184.5,629.6L3186,629.3L3187.5,628.4L3189,629.9L3190.4,627.2L3191.9,628.7L3193.4,626.3L3194.8,627.4L3196.3,624L3197.8,626L3199.3,625.2L3200.7,624.5L3202.2,624L3203.7,623.9L3205.2,623.1L3206.6,621.1L3208.1,622.5L3209.6,622.2L3211,621.9L3212.5,620.9L3214,621.6L3215.5,622.3L3216.9,620.8L3218.4,620.2L3219.9,622L3221.4,621.3L3222.8,620.9L3224.3,620.9L3225.8,618.9L3227.2,618.8L3228.7,619.9L3230.2,617.7L3231.7,617.9L3233.1,618.1L3234.6,617.8L3236.1,616.8L3237.5,617.9L3239,616.2L3240.5,616.8L3242,616.9L3243.4,616L3244.9,615.8L3246.4,613.3L3247.9,612.7L3249.3,613.1L3250.8,614L3252.3,614.8L3253.7,611.3L3255.2,612.7L3256.7,611L3258.2,610.8L3259.6,610.9L3261.1,611.6L3262.6,610.7L3264.1,611.3L3265.5,608.5L3267,610.2L3268.5,609.8L3269.9,608.5L3271.4,608.5L3272.9,606.9L3274.4,605.9L3275.8,606.3L3277.3,605.3L3278.8,608.6L3280.2,604.1L3281.7,605.7L3283.2,603.3L3284.7,602.7L3286.1,601.8L3287.6,597.9L3289.1,597.6L3290.6,594.8L3292,590.2L3293.5,589.9L3295,587.2L3296.4,584.3L3297.9,582.6L3299.4,577.4L3300.9,573.1L3302.3,567.8L3214,615.1" fill="none" stroke="none" marker-start="url(#srp)" marker-mid="url(#srp)" marker-end="url(#srp)"/><path d="M3156.6,654.3L3158,649.2L3159.5,641.6L3161,641.2L3162.5,643.3L3163.9,640.3L3165.4,641.2L3166.9,638.3L3168.3,640.3L3169.8,638L3171.3,639.8L3172.8,636.7L3174.2,639.3L3175.7,637.8L3177.2,637.9L3178.7,637.4L3180.1,637.3L3181.6,634.8L3183.1,632.5L3184.5,636.1L3186,634.2L3187.5,634.6L3189,635.5L3190.4,631.6L3191.9,633L3193.4,632.9L3194.8,631.8L3196.3,633.6L3197.8,632.5L3199.3,631.1L3200.7,630.5L3202.2,632.8L3203.7,630.2L3205.2,631.7L3206.6,631.2L3208.1,627.3L3209.6,628.1L3211,629.4L3212.5,629.5L3214,629.8L3215.5,629.5L3216.9,629.6L3218.4,627.2L3219.9,627.1L3221.4,628.3L3222.8,626.2L3224.3,628.1L3225.8,623.8L3227.2,626.8L3228.7,625.3L3230.2,622.3L3231.7,626.4L3233.1,625.1L3234.6,624.4L3236.1,622.4L3237.5,623L3239,625.6L3240.5,621.7L3242,617.4L3243.4,620.9L3244.9,620.1L3246.4,621.3L3247.9,620.5L3249.3,619.4L3250.8,619.1L3252.3,621.6L3253.7,617.5L3255.2,622.2L3256.7,618.1L3258.2,616.9L3259.6,619.3L3261.1,618.6L3262.6,615.8L3264.1,618.1L3265.5,613.8L3267,614.7L3268.5,617.4L3269.9,614.9L3271.4,612.9L3272.9,615.2L3274.4,615.4L3275.8,613.6L3277.3,610.3L3278.8,611.7L3280.2,612.1L3281.7,611.9L3283.2,612.8L3284.7,608.9L3286.1,607.2L3287.6,605.6L3289.1,605.3L3290.6,599.9L3292,600.7L3293.5,592L3295,594.7L3296.4,589.7L3297.9,588.4L3299.4,585.8L3300.9,577.7L3302.3,573.8L3301.4,594.1" fill="none" stroke="none" marker-start="url(#spile)" marker-mid="url(#spile)" marker-end="url(#spile)"/><path d="M3156.6,630.4L3158,617.1L3159.5,609.9L3161,609.2L3162.5,604.6L3163.9,624.2L3165.4,611.7L3166.9,611.2L3168.3,605.2L3169.8,615.8L3171.3,608.9L3172.8,617.5L3174.2,614.5L3175.7,610.3L3177.2,613L3178.7,604.3L3180.1,607.4L3181.6,605.9L3183.1,602.3L3184.5,607.6L3186,606.5L3187.5,613.1L3189,591.2L3190.4,602.8L3191.9,601.2L3193.4,602.8L3194.8,606.4L3196.3,605.8L3197.8,603.7L3199.3,601L3200.7,604.9L3202.2,603.9L3203.7,593.5L3205.2,600.2L3206.6,594.8L3208.1,595.2L3209.6,600.7L3211,599.8L3212.5,599.5L3214,594.5L3215.5,596.9L3216.9,593.1L3218.4,598.3L3219.9,599.1L3221.4,603.3L3222.8,600.5L3224.3,590.7L3225.8,591.6L3227.2,588.9L3228.7,593.9L3230.2,601.1L3231.7,595.3L3233.1,582.1L3234.6,586.3L3236.1,586L3237.5,594L3239,591.6L3240.5,592.9L3242,599.4L3243.4,587.6L3244.9,587.4L3246.4,599.9L3247.9,592.6L3249.3,587.4L3250.8,581.7L3252.3,583.9L3253.7,579.7L3255.2,590.8L3256.7,590.6L3258.2,594.5L3259.6,588.6L3261.1,585.4L3262.6,584.5L3264.1,595.6L3265.5,578.4L3267,586.4L3268.5,585L3269.9,586.9L3271.4,581.6L3272.9,584.9L3274.4,585.6L3275.8,580.5L3277.3,578.5L3278.8,579.2L3280.2,575.1L3281.7,578L3283.2,577L3284.7,578.8L3286.1,583.3L3287.6,582.6L3289.1,574.2L3290.6,578.3L3292,575.1L3293.5,574.7L3295,568.8L3296.4,567.4L3297.9,561.3L3299.4,556L3300.9,559.5L3302.3,557.5" fill="none" stroke="none" marker-start="url(#sc4)" marker-mid="url(#sc4)" marker-end="url(#sc4)"/><path d="M3158,617.1L3161,613.2L3162.5,610.9L3165.4,604.2L3168.3,594.1L3169.8,606.5L3172.8,601.3L3175.7,595.6L3177.2,592.7L3180.1,604.1L3183.1,585.7L3184.5,605.1L3187.5,597.6L3190.4,606.2L3191.9,588.2L3194.8,591.5L3197.8,588.2L3199.3,591.7L3202.2,589L3205.2,585.4L3206.6,595.3L3209.6,584.3L3212.5,585.6L3214,591.5L3216.9,585.2L3219.9,585.6L3221.4,590L3224.3,585.8L3227.2,580.7L3228.7,587L3231.7,586.9L3234.6,598.5L3236.1,583.1L3239,595.4L3242,586.3L3243.4,589.1L3246.4,590L3249.3,593.4L3250.8,596.3L3253.7,600.4L3256.7,586.1L3258.2,596.7L3261.1,593.9L3264.1,592L3265.5,582.8L3268.5,591.2L3271.4,584.6L3272.9,586.8L3275.8,582.4L3278.8,586.8L3280.2,588.9L3283.2,588.1L3286.1,579.1L3287.6,584.1L3290.6,583.2L3293.5,566.4L3295,578.2L3297.9,558.4L3300.9,564L3302.3,561.9L3156.6,614.7L3158.6,601.6L3161.1,570.7L3163.9,556.7L3166.7,555.8L3169.5,579.2L3173.2,599.7L3177,588.5L3182.6,581L3188.2,584.8L3193.2,575.4L3196.2,561.9L3199.4,593.2L3202.2,574.5L3206.9,592.3L3209.7,573L3212.5,578.2L3215.3,566.4L3218.1,577.3L3221.9,585.7L3225.6,572.6L3229.3,577.3L3233.1,588.5L3235.9,557.1L3237.4,581L3240.6,552.6L3243.4,571.1L3246.2,599.7L3249.9,587.6L3253.7,576.4L3257.8,563.6L3262.5,544.5L3266.8,575.4L3271.4,554.3L3275.2,599.2L3278,572L3285.5,590.4L3288.3,571.1L3293.9,573.5L3297.6,560.4L3302.3,558.6" fill="none" stroke="none" marker-start="url(#smc4)" marker-mid="url(#smc4)" marker-end="url(#smc4)"/><path d="M3156.6,651.2L3159.5,639.2L3162.5,638.1L3165.4,636.9L3168.3,635.7L3171.3,634.8L3174.2,634.1L3177.2,633.4L3180.1,632.6L3183.1,631.9L3186,631.2L3189,630.4L3191.9,629.7L3194.8,628.9L3197.8,628.2L3200.7,627.5L3203.7,626.7L3206.6,626L3209.6,625.3L3212.5,624.5L3215.5,623.8L3218.4,623.2L3221.4,622.6L3224.3,622L3227.2,621.4L3230.2,620.8L3233.1,620.2L3236.1,619.5L3239,618.8L3242,618.1L3244.9,617.4L3247.9,616.6L3250.8,615.9L3253.7,615.2L3256.7,614.4L3259.6,613.7L3262.6,612.9L3265.5,612L3268.5,611.2L3271.4,610.4L3274.4,609.6L3277.3,608.5L3280.2,607L3283.2,605.6L3286.1,603.4L3289.1,599L3292,594.3L3295,589L3297.9,583.3L3300.9,574.9" fill="none" stroke="#1f1f1f" stroke-width="4" stroke-dasharray="4 7.2" stroke-opacity="0.9"/><rect x="3341.9" y="516.5" width="160.3" height="183.9" fill="none" stroke="#3a3a3a" stroke-width="1.1"/><text x="3422.1" y="509.6" font-size="13.15">100 PLs</text><text x="3348.5" y="717.3" font-size="10.3">0</text><text x="3422.1" y="717.3" font-size="10.3">50</text><text x="3495.6" y="717.3" font-size="10.3">100</text><text x="3334.4" y="516.5" font-size="10.3" transform="rotate(-90 3334.4 516.5)">195.3K</text><text x="3334.4" y="562.4" font-size="10.3" transform="rotate(-90 3334.4 562.4)">88.4</text><text x="3334.4" y="608.2" font-size="10.3" transform="rotate(-90 3334.4 608.2)">5.2</text><text x="3334.4" y="654.1" font-size="10.3" transform="rotate(-90 3334.4 654.1)">1.8</text><text x="3334.4" y="700.4" font-size="10.3" transform="rotate(-90 3334.4 700.4)">1.2</text><path d="M3348.5,661.1L3351.4,649L3354.4,640.2L3357.3,636.4L3360.3,631.9L3363.2,644L3366.1,637.6L3369.1,633.8L3372,640L3375,630.2L3377.9,630.7L3380.9,628.9L3383.8,640.7L3386.7,637.8L3389.7,626.4L3392.6,616.9L3395.6,628L3398.5,626.1L3401.4,627.2L3404.4,628L3407.3,621.8L3410.3,629.1L3413.2,628.1L3416.2,623.9L3419.1,619.6L3422,618.8L3425,625.6L3427.9,613.7L3430.9,619L3433.8,614.7L3436.7,609.8L3439.7,621.5L3442.6,616.7L3445.6,616.3L3448.5,621L3451.5,605.5L3454.4,614L3457.3,615.7L3460.3,618.5L3463.2,605.8L3466.2,616.5L3469.1,612.7L3472.1,618.9L3475,616.7L3477.9,612L3480.9,621L3483.8,604.3L3486.8,598.5L3489.7,585.4L3492.6,573.9L3348.5,662.4L3350.5,683.2L3353.8,681.2L3356.3,664.9L3359.3,655L3361.3,689.3L3363.7,689.5L3366.2,655.5L3412.2,654.1L3490.1,675.2L3494.4,630.9" fill="none" stroke="none" marker-start="url(#sdolma)" marker-mid="url(#sdolma)" marker-end="url(#sdolma)"/><path d="M3348.5,641.5L3351.4,617L3354.4,616.6L3357.3,613.4L3360.3,613.9L3363.2,601.8L3366.1,610L3369.1,593.2L3372,592.2L3375,575.3L3377.9,577.3L3380.9,574.3L3383.8,589.2L3386.7,582.9L3389.7,572.3L3392.6,583L3395.6,582.6L3398.5,578L3401.4,579.7L3404.4,577.5L3407.3,576L3410.3,568L3413.2,578.9L3416.2,587.6L3419.1,588.5L3422,577.2L3425,574L3427.9,577.4L3430.9,584.4L3433.8,580.7L3436.7,574.5L3439.7,580.5L3442.6,576.7L3445.6,581.2L3448.5,575.1L3451.5,568L3454.4,577.8L3457.3,582.2L3460.3,570L3463.2,576.3L3466.2,582.5L3469.1,574.3L3472.1,572.3L3475,589.5L3477.9,581.6L3480.9,580.3L3483.8,563.7L3486.8,576.4L3489.7,550L3492.6,548.5L3348.5,641.7L3350.5,635.9L3355.5,607.4L3357.9,606.9L3361.3,616L3362.9,612.7L3367.9,608.5L3370.4,595.3L3374.5,579.5L3378.7,568.7L3379.5,575.4L3381.2,580.3L3383.6,599.4L3386.1,584.5L3388.6,590.3L3391.1,585.3L3394.4,579.5L3397.7,570.4L3401.1,577.8L3404.4,589.5L3407.7,579.5L3411,581.2L3415.2,570.4L3417.6,574.5L3421,584.5L3424.3,572.9L3427.6,589.5L3430.9,579.5L3434.2,589.5L3437.5,566.2L3441.7,572.9L3445.8,577.8L3449.2,574.5L3452.5,582.8L3456.6,579.5L3460.8,586.1L3465.7,569.6L3470.7,581.2L3472.4,560.8L3475.7,577.8L3479,572.9L3482.3,582.8L3485.6,569.6L3488.1,566.2L3492.3,559.6L3493.9,548" fill="none" stroke="none" marker-start="url(#sfalcon)" marker-mid="url(#sfalcon)" marker-end="url(#sfalcon)"/><path d="M3348.5,654.6L3350,653.5L3351.4,642.2L3352.9,640L3354.4,640.4L3355.8,631L3357.3,638.3L3358.8,636.3L3360.3,630.9L3361.7,632.9L3363.2,632.8L3364.7,630.2L3366.1,630L3367.6,632.5L3369.1,624.5L3370.6,626L3372,622.7L3373.5,627.4L3375,621.5L3376.4,623.8L3377.9,621.8L3379.4,620.8L3380.9,625.8L3382.3,618.6L3383.8,623.1L3385.3,620.2L3386.7,621.2L3388.2,615.1L3389.7,618.6L3391.1,617.7L3392.6,612.5L3394.1,615.3L3395.6,613.6L3397,613.7L3398.5,618.1L3400,610.7L3401.4,607L3402.9,606.5L3404.4,610.7L3405.9,609.8L3407.3,611.8L3408.8,613.4L3410.3,617.4L3411.7,612L3413.2,612.4L3414.7,608L3416.2,612.5L3417.6,615L3419.1,614.8L3420.6,603L3422,612.9L3423.5,615.1L3425,612.1L3426.5,603.6L3427.9,607.5L3429.4,610.3L3430.9,609.4L3432.3,604.7L3433.8,604.2L3435.3,610.3L3436.7,601.8L3438.2,611.1L3439.7,605.7L3441.2,606.3L3442.6,600.1L3444.1,602.3L3445.6,606.4L3447,598.5L3448.5,610.7L3450,598.2L3451.5,598.5L3452.9,602.7L3454.4,604L3455.9,604.6L3457.3,600.4L3458.8,600.7L3460.3,600.3L3461.8,598.8L3463.2,591.4L3464.7,603.5L3466.2,600.7L3467.6,600.1L3469.1,597L3470.6,599.6L3472.1,598.2L3473.5,597.6L3475,601.2L3476.5,590.9L3477.9,597.3L3479.4,592.2L3480.9,594.2L3482.3,599L3483.8,588.4L3485.3,590.3L3486.8,587L3488.2,585.5L3489.7,572L3491.2,565.7L3492.6,569.5L3494.1,565.3L3494.8,601.1L3491.4,625.1L3489.8,641.2L3467.4,630.1" fill="none" stroke="none" marker-start="url(#srp)" marker-mid="url(#srp)" marker-end="url(#srp)"/><path d="M3348.5,649.6L3350,655.1L3351.4,641.7L3352.9,642.2L3354.4,643.3L3355.8,643.8L3357.3,637.6L3358.8,645.3L3360.3,651.1L3361.7,635.6L3363.2,648.2L3364.7,625.9L3366.1,645.4L3367.6,635.5L3369.1,637.4L3370.6,633.9L3372,631.5L3373.5,627.1L3375,631.2L3376.4,639.8L3377.9,638.1L3379.4,629L3380.9,627.2L3382.3,625.5L3383.8,621.9L3385.3,637.8L3386.7,630.7L3388.2,626.8L3389.7,623L3391.1,619.7L3392.6,632.5L3394.1,629.2L3395.6,619.2L3397,629.8L3398.5,617.8L3400,627.2L3401.4,618L3402.9,620.8L3404.4,625.5L3405.9,624.9L3407.3,627.8L3408.8,617.2L3410.3,630.4L3411.7,628.9L3413.2,621.2L3414.7,623.6L3416.2,616.5L3417.6,619.9L3419.1,613.2L3420.6,620.9L3422,621.3L3423.5,627.4L3425,624.9L3426.5,623.9L3427.9,617L3429.4,617.4L3430.9,616.5L3432.3,619.3L3433.8,607L3435.3,621.6L3436.7,608.2L3438.2,613.6L3439.7,616.2L3441.2,612.8L3442.6,624.5L3444.1,614.3L3445.6,623.2L3447,620.6L3448.5,611.1L3450,615.8L3451.5,620.5L3452.9,611.2L3454.4,613.2L3455.9,609.4L3457.3,612.5L3458.8,609.9L3460.3,612L3461.8,616.8L3463.2,618.7L3464.7,611.4L3466.2,611.4L3467.6,614.8L3469.1,608.1L3470.6,603.3L3472.1,614.9L3473.5,603.1L3475,613L3476.5,602L3477.9,617.1L3479.4,600.6L3480.9,610.5L3482.3,612.6L3483.8,597.3L3485.3,609.3L3486.8,594.9L3488.2,582.8L3489.7,589.9L3491.2,585.9L3492.6,577.1L3494.1,562.9L3348.5,660.3L3350.5,675.7L3360.4,679L3365.4,652.5L3467.4,644.2L3476.5,638.4L3490.3,661.9L3494.8,604.4" fill="none" stroke="none" marker-start="url(#spile)" marker-mid="url(#spile)" marker-end="url(#spile)"/><path d="M3348.5,623.9L3352.9,610.5L3357.3,598.3L3361.7,594L3366.1,579.3L3370.6,584.1L3375,594.8L3379.4,584.2L3383.8,570.3L3388.2,567.8L3392.6,575.7L3397,580.5L3401.4,578L3405.9,564.5L3410.3,574L3414.7,573.7L3419.1,582.5L3423.5,580.4L3427.9,575.1L3432.3,579.6L3436.7,567.6L3441.2,581L3445.6,566.5L3450,572.2L3454.4,575.7L3458.8,562.4L3463.2,563.7L3467.6,555.9L3472.1,569.4L3476.5,567.6L3480.9,562.4L3485.3,561L3489.7,535.3L3494.1,545.3L3348.5,624.3L3349.7,613.5L3351.3,627.6L3353,574.5L3354.6,621L3356.3,612.7L3357.9,595.3L3360.4,572.4L3361.3,604.4L3364.9,566.2L3366.2,601.1L3367.9,611L3369.6,591.9L3372.9,586.1L3376.2,582.8L3377,571.2L3379.5,557.1L3382,557.4L3383.6,573.7L3385.3,560.8L3387,567.1L3388.6,575.4L3391.4,555.1L3393.6,581.2L3396.1,573.7L3398.6,559.3L3401.1,588.6L3403.5,572L3407.7,563.7L3410.2,570.4L3412.7,587L3415.2,582.8L3417.6,545.5L3421,587.8L3422.6,577.8L3425.1,551.8L3426.8,562.1L3430.1,573.7L3432.6,578.7L3435.9,560.8L3436.7,554.1L3438.7,551.6L3440.9,573.7L3443.3,574.5L3447.5,565.4L3448.7,552.1L3450.8,575.4L3454.6,552.1L3456.6,566.2L3458.3,554.6L3459.1,570.4L3460.8,555.5L3463.3,577.8L3465.7,564.6L3468.2,560.4L3470.7,575.4L3473.2,570.4L3477.3,563.7L3480.7,561.3L3482.3,576.2L3484.8,570.4L3487.3,554.6L3488.6,548.8L3491.1,543L3493.9,545.5" fill="none" stroke="none" marker-start="url(#sc4)" marker-mid="url(#sc4)" marker-end="url(#sc4)"/><path d="M3348.5,645.8L3350,642.2L3351.4,640.1L3352.9,638L3354.4,632.9L3355.8,630.5L3357.3,629.1L3358.8,628.1L3360.3,626.8L3361.7,623.7L3363.2,624.8L3364.7,621.6L3366.1,622.7L3367.6,621.4L3369.1,620.5L3370.6,621.5L3372,618L3373.5,617.3L3375,617.2L3376.4,616.8L3377.9,613.5L3379.4,614.5L3380.9,612.6L3382.3,613.3L3383.8,613.3L3385.3,611.1L3386.7,610.1L3388.2,609.6L3389.7,605.7L3391.1,609.5L3392.6,609L3394.1,608.3L3395.6,607.4L3397,606.7L3398.5,607L3400,608.3L3401.4,606.5L3402.9,607.8L3404.4,603.2L3405.9,605.2L3407.3,605.8L3408.8,605.1L3410.3,603L3411.7,603.9L3413.2,605.9L3414.7,602.9L3416.2,603L3417.6,602.7L3419.1,603.2L3420.6,604.3L3422,604.1L3423.5,600.9L3425,604.5L3426.5,601.9L3427.9,601.6L3429.4,603.8L3430.9,601.5L3432.3,599.9L3433.8,600.3L3435.3,599.8L3436.7,599.1L3438.2,599.4L3439.7,600.3L3441.2,599.3L3442.6,597L3444.1,601.2L3445.6,596.6L3447,597.5L3448.5,597.1L3450,597.7L3451.5,596.2L3452.9,596.8L3454.4,598.3L3455.9,595.8L3457.3,594.2L3458.8,595.5L3460.3,593.9L3461.8,594.1L3463.2,594.4L3464.7,594.2L3466.2,593.2L3467.6,594.2L3469.1,592.7L3470.6,591L3472.1,593L3473.5,591.1L3475,592.4L3476.5,589.9L3477.9,590.8L3479.4,590L3480.9,586L3482.3,585.8L3483.8,584.6L3485.3,585.9L3486.8,580.6L3488.2,576.9L3489.7,570.3L3491.2,565.8L3492.6,562.2L3494.1,559.7L3493.9,545.5" fill="none" stroke="none" marker-start="url(#smc4)" marker-mid="url(#smc4)" marker-end="url(#smc4)"/><path d="M3348.5,648.3L3351.4,641.9L3354.4,636L3357.3,632.4L3360.3,628.8L3363.2,626.4L3366.1,624.5L3369.1,622.6L3372,620.9L3375,619.3L3377.9,617.7L3380.9,616.1L3383.8,614.5L3386.7,612.9L3389.7,611.6L3392.6,611L3395.6,610.5L3398.5,609.9L3401.4,609.3L3404.4,608.7L3407.3,608.1L3410.3,607.5L3413.2,607.1L3416.2,606.8L3419.1,606.4L3422,606.1L3425,605.5L3427.9,604.9L3430.9,604.3L3433.8,603.6L3436.7,602.8L3439.7,602L3442.6,601.1L3445.6,600.3L3448.5,599.7L3451.5,599.2L3454.4,598.6L3457.3,598.1L3460.3,597.5L3463.2,596.8L3466.2,596.2L3469.1,595.6L3472.1,594.6L3475,593.7L3477.9,592.8L3480.9,591.7L3483.8,588.5L3486.8,585.4L3489.7,571.7L3492.6,564.1" fill="none" stroke="#1f1f1f" stroke-width="4" stroke-dasharray="4 7.2" stroke-opacity="0.9"/><path d="M2579.6,700.4v3.6M2623.4,700.4v3.6M2667.3,700.4v3.6M2711.3,700.4v3.6M2572.7,516.5h-3.6M2572.7,562.7h-3.6M2572.7,608.7h-3.6M2572.7,654.6h-3.6M2572.7,700.4h-3.6M2771.7,700.4v3.6M2832.4,700.4v3.6M2893.2,700.4v3.6M2764.4,546.8h-3.6M2764.4,623.7h-3.6M2764.4,700.4h-3.6M2964.2,700.4v3.6M3038.5,700.4v3.6M3112.8,700.4v3.6M2957.5,535.6h-3.6M2957.5,590.4h-3.6M2957.5,645.4h-3.6M2957.5,700.4h-3.6M3156.6,700.4v3.6M3230.3,700.4v3.6M3303.8,700.4v3.6M3149.8,516.5h-3.6M3149.8,577.8h-3.6M3149.8,639.4h-3.6M3149.8,700.4h-3.6M3348.5,700.4v3.6M3422.1,700.4v3.6M3495.6,700.4v3.6M3341.9,516.5h-3.6M3341.9,562.4h-3.6M3341.9,608.2h-3.6M3341.9,654.1h-3.6M3341.9,700.4h-3.6" stroke="#3a3a3a" stroke-width="0.9"/><text x="2537.6" y="607.9" font-size="17.4" transform="rotate(-90 2537.6 607.9)">Perplexity for each Domain</text><text x="3021.8" y="734.1" font-size="17.75">Rank of evaluation domain, as ordered by median perplexity over models</text><rect x="2642.7" y="746.7" width="706.2" height="39.9" rx="2" fill="#9a9a9a" opacity="0.5"/><rect x="2640.7" y="744.7" width="706.2" height="39.9" rx="2" fill="#faf2e9" stroke="#d4d0ca" stroke-width="0.9"/><text x="2992.9" y="758.5" font-size="15.3">Baselines</text><path d="M2655.4,773h0.01" fill="none" marker-start="url(#sdolma)"/><text x="2676.1" y="776.8" font-size="10.95" text-anchor="start">Dolma</text><path d="M2745.4,773h0.01" fill="none" marker-start="url(#sfalcon)"/><text x="2765.6" y="776.8" font-size="10.95" text-anchor="start">Falcon-RefinedWeb</text><path d="M2903.8,773h0.01" fill="none" marker-start="url(#srp)"/><text x="2924.5" y="776.8" font-size="10.95" text-anchor="start">RedPajama</text><path d="M3018.6,773h0.01" fill="none" marker-start="url(#spile)"/><text x="3038.8" y="776.8" font-size="10.95" text-anchor="start">The Pile</text><path d="M3116,773h0.01" fill="none" marker-start="url(#sc4)"/><text x="3135.7" y="776.8" font-size="10.95" text-anchor="start">C4</text><path d="M3183.9,773h0.01" fill="none" marker-start="url(#smc4)"/><text x="3204.1" y="776.8" font-size="10.95" text-anchor="start">mC4-en</text><path d="M3266.5,773H3292.9" stroke="#1f1f1f" stroke-width="4" stroke-dasharray="4 7.2" stroke-opacity="0.9"/><text x="3301.0" y="776.8" font-size="10.95" text-anchor="start">Median</text></svg>
<div class="abs p" id="p7" style="left:2519.8px;top:842.5px;line-height:40.59px"><b>Domains:</b> For each source with at least 10 domains, each point above<br>visualizes perplexity on a single domain for a fully trained model. Domains<br>are ordered by median perplexity of that domain over all models. Gaps<br>between some baselines are highly consistent across domains (e.g.,<br>RedPajama and Pile baselines on Dolma-100-Subreddits). Other models<br>(often pretrained on just Common Crawl data) exhibit noisy gaps that do not<br>follow the trend in median domain difficulty (e.g., the mC4-en baseline on<br>C4-100-Domains).</div>
<svg style="position:absolute;left:2500px;top:1240px;overflow:visible" width="1020" height="380" viewBox="2500 1240 1020 380" font-family="DejaVu Sans, Liberation Sans, sans-serif" text-anchor="middle" fill="#1a1a1a"><defs><linearGradient id="dens" x1="0" y1="0" x2="0" y2="1"><stop offset="0.000" stop-color="#72bb9f" stop-opacity="0"/><stop offset="0.429" stop-color="#72bb9f" stop-opacity="0.02"/><stop offset="0.571" stop-color="#72bb9f" stop-opacity="0.07"/><stop offset="0.667" stop-color="#72bb9f" stop-opacity="0.16"/><stop offset="0.738" stop-color="#72bb9f" stop-opacity="0.3"/><stop offset="0.786" stop-color="#72bb9f" stop-opacity="0.42"/><stop offset="0.857" stop-color="#72bb9f" stop-opacity="0.47"/><stop offset="0.905" stop-color="#72bb9f" stop-opacity="0.41"/><stop offset="0.952" stop-color="#72bb9f" stop-opacity="0.33"/><stop offset="0.988" stop-color="#72bb9f" stop-opacity="0.33"/><stop offset="0.995" stop-color="#72bb9f" stop-opacity="0.48"/><stop offset="1.000" stop-color="#72bb9f" stop-opacity="0.55"/></linearGradient><linearGradient id="fadeL" x1="0" y1="0" x2="1" y2="0"><stop offset="0" stop-color="#faf2e9" stop-opacity="0.75"/><stop offset="1" stop-color="#faf2e9" stop-opacity="0"/></linearGradient></defs><rect x="2578.7" y="1262.5" width="399.2" height="247.2" fill="url(#dens)"/><rect x="2578.7" y="1262.5" width="60" height="233.0" fill="url(#fadeL)"/><path transform="scale(.5)" d="M0 0m5157 2972h0m0 14h0m0 2h0m1 -42h0m0 20h0m0 1h0m0 3h0m0 1h0m0 3h0m0 7h0m0 7h0m0 2h0m0 11h0m0 7h0m0 9h0m1 -51h0m0 5h0m0 2h0m0 9h0m0 0h0m0 8h0m0 1h0m0 9h0m0 8h0m1 -60h0m0 17h0m0 5h0m0 0h0m0 10h0m0 3h0m0 3h0m0 8h0m0 0h0m0 3h0m0 2h0m0 4h0m0 1h0m0 1h0m0 6h0m0 2h0m1 -69h0m0 48h0m0 3h0m0 0h0m0 3h0m1 -37h0m0 5h0m0 0h0m0 7h0m0 2h0m0 1h0m0 9h0m0 8h0m0 0h0m0 17h0m1 -160h0m0 100h0m0 11h0m0 5h0m0 2h0m0 13h0m0 2h0m0 12h0m0 12h0m1 -54h0m0 20h0m0 2h0m0 4h0m0 14h0m0 9h0m1 -43h0m0 1h0m0 2h0m0 2h0m0 2h0m0 3h0m0 3h0m0 17h0m0 1h0m0 3h0m0 3h0m1 -82h0m0 27h0m0 15h0m0 4h0m0 7h0m0 5h0m0 7h0m0 0h0m0 8h0m0 9h0m0 4h0m0 9h0m0 3h0m0 1h0m1 -56h0m0 4h0m0 1h0m0 4h0m0 3h0m0 20h0m0 0h0m0 3h0m0 5h0m0 15h0m1 -41h0m0 11h0m0 5h0m0 8h0m0 1h0m0 8h0m0 9h0m0 5h0m1 -97h0m0 35h0m0 1h0m0 13h0m0 3h0m0 17h0m0 1h0m0 9h0m0 2h0m1 -114h0m0 49h0m0 13h0m0 2h0m0 10h0m0 0h0m0 20h0m0 7h0m0 0h0m0 2h0m0 15h0m1 -59h0m0 10h0m0 5h0m0 11h0m0 10h0m0 4h0m0 1h0m0 4h0m0 7h0m0 6h0m0 13h0m1 -75h0m0 23h0m0 10h0m0 2h0m0 27h0m1 -33h0m0 10h0m0 5h0m0 12h0m0 9h0m0 4h0m0 3h0m1 -79h0m0 4h0m0 2h0m0 15h0m0 4h0m0 11h0m0 2h0m0 8h0m0 5h0m0 4h0m0 1h0m0 2h0m1 -117h0m0 60h0m0 36h0m0 3h0m0 2h0m0 2h0m0 8h0m0 11h0m0 10h0m0 2h0m1 -96h0m0 17h0m0 39h0m0 10h0m0 4h0m0 10h0m0 16h0m1 -48h0m0 7h0m0 10h0m0 10h0m0 7h0m0 0h0m1 -54h0m0 7h0m0 32h0m0 8h0m0 0h0m0 3h0m0 1h0m0 19h0m1 -99h0m0 29h0m0 11h0m0 1h0m0 4h0m0 9h0m0 5h0m0 1h0m0 31h0m0 0h0m1 -101h0m0 11h0m0 38h0m0 6h0m0 8h0m0 10h0m0 5h0m0 2h0m0 1h0m0 9h0m0 3h0m0 20h0m1 -196h0m0 121h0m0 3h0m0 12h0m0 1h0m0 1h0m0 2h0m0 4h0m0 16h0m0 2h0m0 8h0m0 4h0m1 -52h0m0 1h0m0 2h0m0 1h0m0 1h0m0 2h0m0 5h0m0 6h0m0 16h0m0 10h0m0 2h0m1 -40h0m0 30h0m0 15h0m0 0h0m1 -56h0m0 18h0m0 4h0m0 2h0m0 8h0m0 16h0m0 4h0m0 27h0m0 1h0m1 -79h0m0 15h0m0 1h0m0 13h0m0 5h0m0 6h0m0 2h0m0 2h0m0 11h0m0 15h0m0 1h0m0 4h0m1 -86h0m0 9h0m0 18h0m0 11h0m0 15h0m1 -132h0m0 78h0m0 25h0m0 6h0m0 7h0m0 1h0m0 3h0m0 23h0m0 1h0m0 8h0m0 3h0m1 -104h0m0 31h0m0 2h0m0 18h0m0 22h0m0 3h0m0 3h0m0 1h0m0 2h0m0 3h0m0 7h0m0 16h0m1 -79h0m0 5h0m0 3h0m0 1h0m0 2h0m0 4h0m0 5h0m0 14h0m0 8h0m0 4h0m0 5h0m0 4h0m0 10h0m0 5h0m1 -57h0m0 9h0m0 8h0m0 2h0m0 1h0m0 0h0m0 4h0m0 7h0m0 7h0m0 12h0m0 0h0m1 -274h0m0 218h0m0 3h0m0 9h0m0 10h0m0 5h0m0 4h0m0 17h0m0 9h0m0 10h0m0 5h0m1 -116h0m0 44h0m0 14h0m0 1h0m0 1h0m0 10h0m0 3h0m0 1h0m0 1h0m0 30h0m0 1h0m0 2h0m1 -152h0m0 84h0m0 0h0m0 1h0m0 2h0m0 1h0m0 8h0m0 12h0m0 2h0m0 14h0m0 2h0m0 4h0m0 1h0m0 5h0m0 3h0m0 11h0m0 2h0m0 9h0m0 5h0m0 1h0m1 -72h0m0 1h0m0 6h0m0 0h0m0 1h0m0 5h0m0 9h0m0 0h0m0 5h0m0 1h0m0 10h0m0 3h0m0 30h0m0 4h0m1 -109h0m0 43h0m0 7h0m0 6h0m0 5h0m0 9h0m0 0h0m0 1h0m0 21h0m0 8h0m1 -106h0m0 8h0m0 40h0m0 1h0m0 10h0m0 29h0m0 3h0m0 19h0m0 0h0m0 1h0m0 0h0m1 -106h0m0 5h0m0 23h0m0 8h0m0 3h0m0 17h0m0 14h0m0 2h0m0 12h0m0 4h0m0 2h0m0 1h0m1 -101h0m0 28h0m0 2h0m0 20h0m0 4h0m0 19h0m0 23h0m0 12h0m0 2h0m0 2h0m1 -120h0m0 45h0m0 6h0m0 3h0m0 4h0m0 27h0m0 1h0m0 6h0m0 1h0m0 4h0m0 4h0m0 2h0m0 1h0m0 3h0m1 -67h0m0 8h0m0 50h0m0 3h0m0 24h0m1 -167h0m0 85h0m0 7h0m0 5h0m0 2h0m0 1h0m0 28h0m0 4h0m0 9h0m0 7h0m0 11h0m1 -93h0m0 5h0m0 3h0m0 13h0m0 2h0m0 1h0m0 20h0m0 7h0m0 13h0m0 9h0m0 2h0m0 3h0m0 12h0m0 11h0m1 -91h0m0 21h0m0 5h0m0 14h0m0 4h0m0 12h0m0 1h0m0 7h0m0 13h0m0 16h0m0 0h0m1 -108h0m0 28h0m0 9h0m0 10h0m0 1h0m0 0h0m0 7h0m0 13h0m0 10h0m0 3h0m0 3h0m0 1h0m1 -90h0m0 3h0m0 13h0m0 23h0m0 14h0m0 3h0m0 7h0m0 9h0m0 9h0m0 1h0m0 1h0m0 1h0m0 3h0m0 5h0m0 13h0m0 3h0m1 -104h0m0 13h0m0 24h0m0 0h0m0 8h0m0 0h0m0 2h0m0 22h0m0 1h0m0 17h0m0 3h0m1 -108h0m0 9h0m0 26h0m0 2h0m0 5h0m0 7h0m0 15h0m0 6h0m0 3h0m0 8h0m0 19h0m0 1h0m0 9h0m0 2h0m1 -175h0m0 79h0m0 22h0m0 1h0m0 4h0m0 4h0m0 11h0m0 3h0m0 3h0m0 16h0m0 14h0m0 3h0m0 6h0m0 7h0m0 2h0m0 0h0m1 -284h0m0 52h0m0 137h0m0 29h0m0 12h0m0 19h0m0 4h0m0 1h0m0 1h0m0 4h0m0 10h0m0 19h0m0 4h0m0 4h0m0 1h0m1 -101h0m0 14h0m0 4h0m0 15h0m0 38h0m0 3h0m0 11h0m0 2h0m0 8h0m1 -86h0m0 44h0m0 1h0m0 8h0m0 19h0m0 24h0m1 -103h0m0 30h0m0 4h0m0 7h0m0 4h0m0 26h0m0 5h0m0 16h0m0 7h0m1 -90h0m0 2h0m0 6h0m0 6h0m0 2h0m0 5h0m0 5h0m0 7h0m0 1h0m0 0h0m0 12h0m0 7h0m0 21h0m0 1h0m0 1h0m0 6h0m0 3h0m1 -90h0m0 18h0m0 3h0m0 2h0m0 9h0m0 5h0m0 6h0m0 1h0m0 1h0m0 8h0m0 4h0m0 1h0m0 3h0m0 1h0m0 16h0m0 16h0m1 -156h0m0 20h0m0 26h0m0 8h0m0 21h0m0 43h0m0 19h0m0 7h0m0 15h0m1 -100h0m0 13h0m0 11h0m0 11h0m0 21h0m0 4h0m0 16h0m0 5h0m0 6h0m0 2h0m1 -84h0m0 12h0m0 13h0m0 7h0m0 1h0m0 8h0m0 9h0m0 4h0m0 4h0m0 4h0m0 15h0m0 16h0m1 -156h0m0 24h0m0 47h0m0 13h0m0 15h0m0 17h0m0 23h0m1 -72h0m0 2h0m0 18h0m0 5h0m0 2h0m0 5h0m0 9h0m0 27h0m0 5h0m1 -133h0m0 41h0m0 12h0m0 11h0m0 0h0m0 9h0m0 11h0m0 11h0m0 7h0m0 0h0m0 27h0m0 1h0m0 10h0m0 2h0m0 5h0m1 -88h0m0 13h0m0 2h0m0 1h0m0 6h0m0 7h0m0 0h0m0 9h0m0 10h0m0 9h0m0 10h0m0 14h0m0 4h0m1 -114h0m0 24h0m0 12h0m0 2h0m0 22h0m0 0h0m0 1h0m0 14h0m0 4h0m0 9h0m0 5h0m0 7h0m1 -170h0m0 52h0m0 48h0m0 16h0m0 8h0m0 10h0m0 3h0m0 10h0m0 3h0m0 0h0m0 14h0m0 8h0m0 8h0m0 9h0m1 -109h0m0 12h0m0 7h0m0 1h0m0 14h0m0 5h0m0 25h0m0 10h0m0 10h0m0 6h0m0 2h0m0 4h0m0 11h0m1 -126h0m0 39h0m0 5h0m0 0h0m0 6h0m0 14h0m0 16h0m0 30h0m0 0h0m0 4h0m0 3h0m0 3h0m0 5h0m0 5h0m1 -310h0m0 116h0m0 73h0m0 15h0m0 18h0m0 4h0m0 1h0m0 13h0m0 3h0m0 1h0m0 0h0m0 2h0m0 2h0m0 15h0m0 29h0m0 3h0m0 0h0m1 -165h0m0 65h0m0 3h0m0 10h0m0 3h0m0 13h0m0 22h0m0 2h0m0 0h0m0 8h0m0 16h0m0 19h0m1 -159h0m0 58h0m0 39h0m0 3h0m0 21h0m0 2h0m0 10h0m0 16h0m0 6h0m0 5h0m0 2h0m0 18h0m1 -108h0m0 2h0m0 42h0m0 1h0m0 0h0m0 15h0m0 8h0m0 8h0m0 15h0m0 6h0m0 9h0m0 1h0m1 -124h0m0 35h0m0 10h0m0 8h0m0 1h0m0 8h0m0 6h0m0 4h0m0 1h0m0 41h0m0 8h0m1 -107h0m0 7h0m0 17h0m0 6h0m0 19h0m0 25h0m0 5h0m0 1h0m0 3h0m0 21h0m1 -251h0m0 131h0m0 25h0m0 15h0m0 6h0m0 5h0m0 2h0m0 8h0m0 2h0m0 8h0m0 4h0m0 14h0m0 19h0m0 1h0m0 12h0m1 -104h0m0 13h0m0 34h0m0 2h0m0 0h0m0 18h0m0 6h0m0 6h0m0 11h0m0 1h0m0 0h0m0 2h0m0 1h0m0 8h0m0 3h0m0 2h0m1 -118h0m0 26h0m0 16h0m0 2h0m0 4h0m0 10h0m0 59h0m1 -254h0m0 153h0m0 6h0m0 12h0m0 23h0m0 8h0m0 4h0m0 2h0m0 20h0m0 21h0m1 -159h0m0 57h0m0 22h0m0 9h0m0 5h0m0 4h0m0 16h0m0 4h0m0 3h0m0 4h0m0 2h0m0 4h0m1 -37h0m0 23h0m0 1h0m0 3h0m0 13h0m0 14h0m1 -107h0m0 17h0m0 13h0m0 13h0m0 12h0m0 2h0m0 1h0m0 6h0m0 1h0m0 22h0m0 6h0m0 4h0m0 6h0m1 -150h0m0 76h0m0 14h0m0 4h0m0 0h0m0 0h0m0 8h0m0 8h0m0 2h0m0 5h0m0 2h0m0 6h0m0 2h0m0 6h0m0 21h0m0 1h0m0 4h0m0 4h0m1 -83h0m0 9h0m0 20h0m0 4h0m0 14h0m0 9h0m0 2h0m0 2h0m0 7h0m0 4h0m1 -155h0m0 75h0m0 17h0m0 11h0m0 29h0m0 9h0m0 9h0m1 -122h0m0 18h0m0 24h0m0 14h0m0 4h0m0 11h0m0 15h0m0 3h0m0 11h0m0 1h0m0 2h0m0 15h0m0 6h0m0 10h0m1 -68h0m0 3h0m0 52h0m0 1h0m0 12h0m1 -105h0m0 20h0m0 3h0m0 1h0m0 4h0m0 3h0m0 7h0m0 13h0m0 3h0m0 1h0m0 4h0m0 1h0m0 10h0m0 5h0m0 22h0m0 8h0m0 13h0m1 -109h0m0 0h0m0 13h0m0 4h0m0 29h0m0 7h0m0 9h0m0 19h0m1 -73h0m0 24h0m0 2h0m0 2h0m0 5h0m0 4h0m0 7h0m0 0h0m0 2h0m0 7h0m0 8h0m0 1h0m0 35h0m1 -294h0m0 92h0m0 104h0m0 9h0m0 1h0m0 2h0m0 7h0m0 1h0m0 1h0m0 12h0m0 23h0m0 2h0m0 22h0m0 3h0m0 21h0m1 -130h0m0 19h0m0 20h0m0 4h0m0 2h0m0 2h0m0 18h0m0 5h0m0 8h0m0 1h0m0 6h0m0 1h0m0 1h0m0 2h0m0 7h0m0 22h0m0 10h0m0 2h0m1 -142h0m0 53h0m0 1h0m0 1h0m0 7h0m0 4h0m0 3h0m0 8h0m0 4h0m0 4h0m0 17h0m0 4h0m0 12h0m1 -98h0m0 32h0m0 22h0m0 3h0m0 25h0m0 4h0m0 3h0m0 4h0m1 -124h0m0 56h0m0 3h0m0 6h0m0 4h0m0 3h0m0 13h0m0 0h0m0 1h0m0 11h0m0 15h0m0 12h0m0 0h0m0 13h0m0 11h0m1 -188h0m0 54h0m0 32h0m0 21h0m0 10h0m0 1h0m0 11h0m0 8h0m0 16h0m0 3h0m0 6h0m0 5h0m0 1h0m0 11h0m1 -162h0m0 39h0m0 19h0m0 12h0m0 14h0m0 4h0m0 11h0m0 12h0m0 14h0m0 13h0m0 3h0m0 17h0m1 -236h0m0 40h0m0 79h0m0 65h0m0 5h0m0 9h0m0 17h0m0 5h0m0 2h0m1 -72h0m0 2h0m0 5h0m0 13h0m0 39h0m0 11h0m1 -122h0m0 20h0m0 32h0m0 9h0m0 1h0m0 12h0m0 3h0m0 14h0m0 41h0m1 -91h0m0 16h0m0 4h0m0 3h0m0 4h0m0 8h0m0 0h0m0 3h0m0 15h0m0 7h0m0 19h0m0 8h0m0 16h0m1 -107h0m0 0h0m0 15h0m0 11h0m0 10h0m0 9h0m0 15h0m0 9h0m0 22h0m0 2h0m0 3h0m0 12h0m1 -98h0m0 36h0m0 11h0m0 5h0m0 8h0m0 11h0m0 0h0m0 10h0m0 11h0m0 3h0m0 0h0m0 4h0m0 0h0m0 8h0m1 -132h0m0 26h0m0 8h0m0 11h0m0 1h0m0 5h0m0 9h0m0 3h0m0 0h0m0 0h0m0 2h0m0 36h0m0 1h0m0 8h0m1 -195h0m0 118h0m0 5h0m0 22h0m0 11h0m0 1h0m0 6h0m0 0h0m0 5h0m0 18h0m0 15h0m0 13h0m1 -164h0m0 30h0m0 23h0m0 25h0m0 6h0m0 19h0m0 12h0m0 9h0m0 7h0m0 2h0m0 3h0m0 8h0m0 14h0m0 11h0m0 0h0m1 -175h0m0 45h0m0 24h0m0 8h0m0 10h0m0 2h0m0 42h0m0 16h0m0 12h0m1 -114h0m0 24h0m0 14h0m0 9h0m0 11h0m0 50h0m0 13h0m1 -237h0m0 126h0m0 4h0m0 17h0m0 36h0m0 7h0m0 5h0m0 2h0m0 1h0m0 0h0m0 8h0m0 13h0m0 16h0m1 -113h0m0 19h0m0 6h0m0 1h0m0 43h0m0 2h0m0 1h0m0 4h0m0 0h0m0 6h0m0 29h0m0 3h0m0 2h0m0 4h0m1 -126h0m0 1h0m0 30h0m0 6h0m0 17h0m0 18h0m0 0h0m0 2h0m0 2h0m0 2h0m0 4h0m0 2h0m0 2h0m0 6h0m0 16h0m0 9h0m0 14h0m1 -140h0m0 17h0m0 2h0m0 6h0m0 5h0m0 19h0m0 7h0m0 9h0m0 14h0m0 6h0m0 0h0m0 35h0m1 -367h0m0 188h0m0 55h0m0 8h0m0 9h0m0 1h0m0 13h0m0 6h0m0 27h0m0 2h0m0 11h0m0 0h0m0 11h0m0 1h0m0 2h0m0 3h0m0 4h0m0 1h0m0 7h0m0 8h0m0 9h0m1 -133h0m0 20h0m0 18h0m0 20h0m0 45h0m0 11h0m0 24h0m1 -100h0m0 21h0m0 0h0m0 5h0m0 13h0m0 5h0m0 2h0m0 55h0m0 5h0m0 10h0m1 -168h0m0 37h0m0 17h0m0 5h0m0 6h0m0 5h0m0 26h0m0 8h0m0 6h0m0 9h0m0 1h0m0 1h0m0 3h0m0 7h0m0 14h0m0 8h0m0 9h0m1 -280h0m0 35h0m0 139h0m0 6h0m0 2h0m0 5h0m0 4h0m0 8h0m0 1h0m0 3h0m0 7h0m0 2h0m0 16h0m0 15h0m0 2h0m0 15h0m0 1h0m0 19h0m0 1h0m1 -202h0m0 68h0m0 10h0m0 21h0m0 5h0m0 6h0m0 5h0m0 16h0m0 5h0m0 9h0m0 12h0m0 12h0m0 14h0m0 22h0m1 -111h0m0 16h0m0 15h0m0 9h0m0 1h0m0 5h0m0 10h0m0 6h0m0 10h0m0 5h0m0 22h0m0 1h0m0 3h0m1 -102h0m0 7h0m0 1h0m0 32h0m0 9h0m0 6h0m0 2h0m0 7h0m0 28h0m1 -85h0m0 24h0m0 10h0m0 5h0m0 2h0m0 17h0m0 9h0m0 17h0m1 -136h0m0 14h0m0 7h0m0 37h0m0 21h0m0 24h0m0 7h0m0 14h0m0 33h0m1 -104h0m0 2h0m0 1h0m0 3h0m0 2h0m0 13h0m0 34h0m0 4h0m0 2h0m0 23h0m0 19h0m1 -200h0m0 86h0m0 8h0m0 7h0m0 0h0m0 3h0m0 24h0m0 5h0m0 9h0m0 13h0m0 17h0m0 13h0m1 -116h0m0 22h0m0 9h0m0 9h0m0 2h0m0 12h0m0 17h0m0 12h0m0 13h0m0 4h0m1 -228h0m0 155h0m0 11h0m0 13h0m0 6h0m0 15h0m0 30h0m1 -157h0m0 52h0m0 22h0m0 27h0m0 2h0m0 14h0m0 18h0m0 3h0m0 14h0m0 9h0m0 10h0m1 -243h0m0 130h0m0 51h0m0 5h0m0 1h0m0 4h0m0 0h0m0 5h0m0 10h0m0 25h0m1 -110h0m0 15h0m0 5h0m0 10h0m0 2h0m0 1h0m0 11h0m0 3h0m0 15h0m0 5h0m0 20h0m0 2h0m0 12h0m0 8h0m0 13h0m1 -88h0m0 2h0m0 0h0m0 11h0m0 14h0m0 28h0m0 4h0m0 1h0m0 25h0m1 -86h0m0 5h0m0 2h0m0 5h0m0 41h0m0 3h0m0 10h0m0 3h0m0 6h0m0 4h0m1 -72h0m0 9h0m0 22h0m0 50h0m0 9h0m1 -178h0m0 24h0m0 10h0m0 37h0m0 22h0m0 1h0m0 13h0m0 9h0m0 3h0m0 5h0m0 4h0m0 14h0m0 4h0m1 -183h0m0 39h0m0 73h0m0 14h0m0 8h0m0 8h0m0 11h0m0 51h0m0 17h0m1 -217h0m0 10h0m0 41h0m0 108h0m0 5h0m0 18h0m0 3h0m0 13h0m0 7h0m1 -144h0m0 12h0m0 30h0m0 4h0m0 2h0m0 1h0m0 6h0m0 7h0m0 8h0m0 0h0m0 25h0m0 14h0m0 3h0m0 1h0m0 5h0m0 5h0m0 9h0m0 2h0m0 21h0m0 3h0m1 -203h0m0 57h0m0 18h0m0 8h0m0 12h0m0 5h0m0 15h0m0 2h0m0 30h0m0 1h0m0 38h0m0 12h0m1 -107h0m0 5h0m0 17h0m0 33h0m0 10h0m0 8h0m0 12h0m0 3h0m0 10h0m0 5h0m1 -291h0m0 103h0m0 101h0m0 1h0m0 7h0m0 4h0m0 2h0m0 15h0m0 2h0m0 1h0m0 15h0m0 3h0m0 10h0m1 -159h0m0 69h0m0 28h0m0 7h0m0 6h0m0 4h0m0 15h0m0 0h0m0 19h0m0 9h0m0 0h0m0 9h0m0 4h0m0 6h0m0 6h0m0 10h0m1 -111h0m0 9h0m0 6h0m0 3h0m0 16h0m0 11h0m0 13h0m0 0h0m0 2h0m0 4h0m0 14h0m0 2h0m0 7h0m0 1h0m0 10h0m0 7h0m1 -108h0m0 1h0m0 17h0m0 6h0m0 8h0m0 2h0m0 2h0m0 7h0m0 2h0m0 4h0m0 3h0m0 1h0m0 11h0m0 1h0m0 22h0m1 -217h0m0 106h0m0 1h0m0 10h0m0 4h0m0 6h0m0 1h0m0 11h0m0 4h0m0 1h0m0 6h0m0 1h0m0 8h0m0 16h0m0 11h0m0 56h0m1 -156h0m0 12h0m0 7h0m0 26h0m0 17h0m0 2h0m0 20h0m0 2h0m0 20h0m0 5h0m0 2h0m0 23h0m0 15h0m0 1h0m1 -114h0m0 11h0m0 1h0m0 1h0m0 20h0m0 1h0m0 25h0m0 3h0m0 1h0m0 1h0m0 7h0m0 3h0m0 4h0m0 1h0m0 5h0m0 2h0m0 5h0m0 0h0m1 -367h0m0 233h0m0 8h0m0 14h0m0 36h0m0 5h0m0 5h0m0 25h0m0 2h0m0 3h0m0 4h0m0 1h0m0 13h0m0 1h0m0 6h0m0 5h0m0 29h0m1 -142h0m0 41h0m0 51h0m0 11h0m0 16h0m0 11h0m0 8h0m0 6h0m1 -127h0m0 38h0m0 1h0m0 27h0m0 10h0m0 1h0m0 16h0m0 6h0m0 26h0m1 -272h0m0 121h0m0 24h0m0 12h0m0 7h0m0 1h0m0 8h0m0 15h0m0 6h0m0 1h0m0 21h0m0 5h0m0 5h0m0 16h0m0 17h0m0 4h0m1 -280h0m0 171h0m0 1h0m0 23h0m0 4h0m0 6h0m0 5h0m0 2h0m0 14h0m0 4h0m0 15h0m0 7h0m0 2h0m0 8h0m0 4h0m0 10h0m0 10h0m1 -125h0m0 10h0m0 14h0m0 14h0m0 14h0m0 3h0m0 8h0m0 10h0m0 6h0m0 4h0m0 33h0m0 4h0m1 -240h0m0 120h0m0 25h0m0 12h0m0 6h0m0 7h0m0 7h0m0 1h0m0 1h0m0 7h0m0 0h0m0 9h0m0 11h0m0 3h0m0 3h0m0 39h0m1 -123h0m0 22h0m0 5h0m0 0h0m0 21h0m0 1h0m0 16h0m0 7h0m0 5h0m0 9h0m0 2h0m0 1h0m0 11h0m0 17h0m0 0h0m0 9h0m1 -381h0m0 113h0m0 139h0m0 16h0m0 6h0m0 5h0m0 35h0m0 3h0m0 8h0m0 17h0m0 33h0m0 1h0m1 -117h0m0 13h0m0 24h0m0 1h0m0 17h0m0 8h0m0 8h0m0 1h0m0 20h0m0 11h0m0 8h0m1 -117h0m0 10h0m0 1h0m0 11h0m0 13h0m0 8h0m0 13h0m0 3h0m0 7h0m0 11h0m0 1h0m0 3h0m0 3h0m0 5h0m0 1h0m0 9h0m0 8h0m1 -307h0m0 148h0m0 47h0m0 3h0m0 24h0m0 3h0m0 1h0m0 9h0m0 8h0m0 1h0m0 1h0m0 1h0m0 24h0m0 27h0m0 2h0m0 4h0m1 -297h0m0 129h0m0 70h0m0 6h0m0 2h0m0 14h0m0 34h0m0 12h0m0 3h0m0 12h0m0 6h0m0 16h0m0 11h0m1 -135h0m0 21h0m0 9h0m0 27h0m0 12h0m0 0h0m0 1h0m0 24h0m0 21h0m0 5h0m0 12h0m0 3h0m0 6h0m1 -112h0m0 4h0m0 6h0m0 27h0m0 3h0m0 11h0m0 3h0m0 1h0m0 5h0m0 6h0m1 -70h0m0 3h0m0 4h0m0 7h0m0 13h0m0 7h0m0 11h0m0 12h0m0 6h0m0 27h0m0 10h0m0 0h0m1 -89h0m0 7h0m0 41h0m0 6h0m0 6h0m0 10h0m0 15h0m1 -232h0m0 117h0m0 7h0m0 14h0m0 22h0m0 1h0m0 2h0m0 2h0m0 8h0m0 0h0m0 7h0m0 7h0m0 54h0m0 4h0m1 -297h0m0 157h0m0 17h0m0 23h0m0 10h0m0 45h0m0 3h0m0 2h0m0 17h0m0 1h0m0 12h0m1 -133h0m0 5h0m0 15h0m0 8h0m0 17h0m0 3h0m0 10h0m0 10h0m0 16h0m0 15h0m0 9h0m0 15h0m0 1h0m0 9h0m0 3h0m1 -127h0m0 14h0m0 14h0m0 15h0m0 6h0m0 17h0m0 6h0m0 20h0m0 24h0m0 1h0m0 0h0m0 14h0m1 -125h0m0 61h0m0 7h0m0 14h0m0 26h0m0 15h0m0 6h0m0 10h0m1 -134h0m0 11h0m0 30h0m0 24h0m0 33h0m0 2h0m0 1h0m0 1h0m0 18h0m0 13h0m1 -137h0m0 4h0m0 14h0m0 1h0m0 8h0m0 11h0m0 6h0m0 6h0m0 20h0m0 17h0m0 5h0m0 31h0m1 -113h0m0 5h0m0 8h0m0 12h0m0 7h0m0 3h0m0 7h0m0 4h0m0 13h0m0 3h0m0 7h0m0 1h0m0 4h0m0 0h0m0 41h0m0 3h0m1 -203h0m0 37h0m0 31h0m0 8h0m0 28h0m0 2h0m0 1h0m0 38h0m0 21h0m0 9h0m0 2h0m0 6h0m0 7h0m0 12h0m0 9h0m1 -151h0m0 12h0m0 2h0m0 36h0m0 20h0m0 1h0m0 24h0m0 12h0m0 15h0m0 26h0m1 -157h0m0 24h0m0 39h0m0 49h0m0 15h0m0 11h0m0 15h0m1 -214h0m0 74h0m0 27h0m0 19h0m0 38h0m0 1h0m0 13h0m0 7h0m0 4h0m0 0h0m1 -105h0m0 2h0m0 11h0m0 10h0m0 4h0m0 2h0m0 5h0m0 5h0m0 0h0m0 2h0m0 4h0m0 15h0m0 35h0m0 2h0m0 3h0m0 35h0m1 -407h0m0 290h0m0 31h0m0 11h0m0 11h0m0 8h0m0 11h0m0 0h0m0 7h0m0 4h0m0 30h0m1 -195h0m0 43h0m0 64h0m0 3h0m0 1h0m0 3h0m0 1h0m0 11h0m0 28h0m0 12h0m0 11h0m0 2h0m0 8h0m0 5h0m0 4h0m1 -150h0m0 17h0m0 78h0m0 8h0m0 4h0m0 1h0m0 1h0m0 7h0m0 3h0m0 34h0m1 -182h0m0 3h0m0 60h0m0 35h0m0 31h0m0 5h0m0 3h0m0 10h0m0 5h0m0 10h0m0 21h0m0 1h0m1 -214h0m0 38h0m0 26h0m0 44h0m0 17h0m0 12h0m0 8h0m0 4h0m0 0h0m0 0h0m0 11h0m0 9h0m0 1h0m0 7h0m0 2h0m0 1h0m0 1h0m0 8h0m1 -406h0m0 268h0m0 29h0m0 8h0m0 19h0m0 8h0m0 2h0m0 4h0m0 10h0m0 4h0m0 6h0m0 9h0m0 1h0m0 7h0m0 2h0m0 27h0m0 3h0m0 2h0m0 2h0m0 2h0m0 26h0m1 -139h0m0 3h0m0 16h0m0 3h0m0 43h0m0 24h0m0 32h0m0 5h0m0 1h0m0 1h0m1 -123h0m0 42h0m0 28h0m0 3h0m0 19h0m0 7h0m0 26h0m1 -123h0m0 22h0m0 16h0m0 0h0m0 10h0m0 0h0m0 27h0m0 2h0m0 2h0m0 6h0m0 17h0m0 3h0m0 1h0m0 4h0m0 5h0m1 -137h0m0 71h0m0 2h0m0 14h0m0 5h0m0 6h0m0 9h0m0 1h0m0 1h0m0 2h0m0 1h0m0 1h0m0 12h0m1 -231h0m0 52h0m0 10h0m0 76h0m0 27h0m0 55h0m0 8h0m0 11h0m0 15h0m0 4h0m1 -170h0m0 22h0m0 14h0m0 25h0m0 5h0m0 2h0m0 1h0m0 2h0m0 0h0m0 4h0m0 3h0m0 17h0m0 9h0m0 15h0m0 0h0m0 4h0m0 17h0m0 25h0m1 -141h0m0 31h0m0 2h0m0 2h0m0 14h0m0 8h0m0 26h0m1 -107h0m0 45h0m0 18h0m0 15h0m0 1h0m0 7h0m0 16h0m0 2h0m0 8h0m0 16h0m0 15h0m0 0h0m0 9h0m0 16h0m1 -213h0m0 43h0m0 34h0m0 16h0m0 0h0m0 7h0m0 5h0m0 44h0m0 10h0m0 24h0m1 -123h0m0 4h0m0 8h0m0 20h0m0 20h0m0 12h0m0 6h0m0 6h0m0 8h0m0 0h0m0 2h0m0 3h0m0 14h0m0 5h0m0 23h0m0 5h0m1 -181h0m0 61h0m0 29h0m0 24h0m0 5h0m0 3h0m0 5h0m0 12h0m0 24h0m0 29h0m0 1h0m0 8h0m1 -151h0m0 17h0m0 9h0m0 12h0m0 3h0m0 53h0m0 2h0m0 10h0m0 1h0m0 7h0m0 17h0m1 -77h0m0 7h0m0 9h0m0 1h0m0 19h0m0 6h0m0 4h0m0 2h0m0 6h0m0 15h0m1 -259h0m0 130h0m0 16h0m0 26h0m0 13h0m0 48h0m0 14h0m0 1h0m0 9h0m0 14h0m0 7h0m1 -134h0m0 25h0m0 0h0m0 8h0m0 4h0m0 5h0m0 25h0m0 1h0m0 8h0m0 2h0m0 7h0m0 12h0m0 15h0m0 6h0m0 14h0m0 0h0m1 -103h0m0 14h0m0 18h0m0 1h0m0 1h0m0 10h0m0 3h0m0 6h0m0 6h0m0 13h0m0 1h0m0 4h0m0 2h0m0 24h0m0 3h0m1 -327h0m0 165h0m0 19h0m0 15h0m0 31h0m0 7h0m0 2h0m0 1h0m0 11h0m0 78h0m1 -413h0m0 274h0m0 10h0m0 26h0m0 10h0m0 17h0m0 26h0m0 12h0m0 19h0m0 17h0m1 -160h0m0 35h0m0 4h0m0 10h0m0 25h0m0 0h0m0 41h0m0 0h0m0 4h0m0 2h0m0 5h0m0 35h0m1 -173h0m0 23h0m0 20h0m0 2h0m0 8h0m0 13h0m0 27h0m0 20h0m0 12h0m0 13h0m0 9h0m0 9h0m0 2h0m0 7h0m1 -139h0m0 10h0m0 3h0m0 4h0m0 13h0m0 16h0m0 19h0m0 67h0m0 1h0m1 -157h0m0 51h0m0 26h0m0 2h0m0 27h0m0 4h0m0 8h0m0 41h0m0 9h0m0 4h0m0 1h0m1 -129h0m0 31h0m0 14h0m0 3h0m0 0h0m0 1h0m0 32h0m0 37h0m1 -115h0m0 3h0m0 2h0m0 4h0m0 5h0m0 1h0m0 7h0m0 2h0m0 4h0m0 1h0m0 33h0m0 7h0m0 10h0m0 6h0m0 3h0m0 5h0m0 7h0m0 9h0m1 -108h0m0 5h0m0 9h0m0 6h0m0 9h0m0 3h0m0 9h0m0 11h0m0 3h0m0 14h0m0 12h0m0 12h0m1 -90h0m0 24h0m0 13h0m0 4h0m0 13h0m0 20h0m0 35h0m1 -447h0m0 304h0m0 24h0m0 28h0m0 3h0m0 20h0m0 1h0m0 6h0m0 6h0m0 54h0m0 9h0m1 -200h0m0 76h0m0 4h0m0 20h0m0 2h0m0 8h0m0 7h0m0 11h0m0 2h0m0 39h0m0 1h0m0 19h0m1 -230h0m0 141h0m0 4h0m0 5h0m0 18h0m0 6h0m0 1h0m0 1h0m0 17h0m0 24h0m0 14h0m0 18h0m1 -289h0m0 41h0m0 93h0m0 46h0m0 101h0m1 -149h0m0 23h0m0 13h0m0 4h0m0 18h0m0 24h0m0 28h0m0 1h0m0 11h0m0 4h0m0 11h0m1 -155h0m0 29h0m0 13h0m0 4h0m0 5h0m0 24h0m0 34h0m0 11h0m0 28h0m1 -179h0m0 68h0m0 8h0m0 8h0m0 14h0m0 3h0m0 4h0m0 6h0m0 9h0m0 6h0m0 1h0m0 19h0m0 7h0m0 5h0m0 2h0m0 14h0m0 4h0m1 -102h0m0 6h0m0 23h0m0 16h0m0 7h0m0 6h0m0 9h0m0 5h0m0 0h0m0 6h0m0 7h0m0 6h0m0 10h0m0 4h0m0 4h0m0 24h0m1 -326h0m0 145h0m0 29h0m0 35h0m0 3h0m0 2h0m0 49h0m0 9h0m0 21h0m0 1h0m1 -224h0m0 82h0m0 64h0m0 22h0m0 7h0m0 11h0m0 20h0m0 9h0m0 6h0m0 2h0m0 1h0m0 6h0m1 -97h0m0 39h0m0 21h0m0 1h0m0 3h0m0 6h0m0 9h0m0 3h0m0 11h0m0 27h0m1 -167h0m0 10h0m0 23h0m0 24h0m0 3h0m0 36h0m0 1h0m0 0h0m0 8h0m0 1h0m0 6h0m0 2h0m0 12h0m0 5h0m0 29h0m1 -174h0m0 43h0m0 17h0m0 4h0m0 9h0m0 12h0m0 25h0m0 68h0m1 -294h0m0 142h0m0 30h0m0 1h0m0 43h0m0 25h0m0 4h0m0 3h0m0 3h0m0 3h0m0 7h0m0 2h0m0 19h0m0 18h0m1 -104h0m0 3h0m0 1h0m0 4h0m0 23h0m0 33h0m0 12h0m0 13h0m0 10h0m1 -185h0m0 8h0m0 49h0m0 28h0m0 2h0m0 0h0m0 9h0m0 22h0m0 28h0m0 11h0m0 21h0m0 8h0m1 -464h0m0 317h0m0 25h0m0 8h0m0 6h0m0 14h0m0 4h0m0 12h0m0 1h0m0 4h0m0 8h0m0 5h0m0 18h0m0 1h0m0 8h0m1 -162h0m0 73h0m0 16h0m0 3h0m0 4h0m0 9h0m0 6h0m0 2h0m0 12h0m0 2h0m0 2h0m0 9h0m0 13h0m0 1h0m0 5h0m0 6h0m0 15h0m0 7h0m0 1h0m0 9h0m1 -138h0m0 28h0m0 3h0m0 4h0m0 3h0m0 4h0m0 2h0m0 15h0m0 12h0m0 6h0m0 5h0m0 1h0m0 17h0m0 1h0m0 8h0m0 6h0m0 11h0m1 -159h0m0 10h0m0 16h0m0 14h0m0 24h0m0 9h0m0 7h0m0 0h0m0 3h0m0 6h0m0 4h0m0 20h0m0 6h0m0 19h0m1 -130h0m0 41h0m0 12h0m0 28h0m0 9h0m0 1h0m0 7h0m0 2h0m0 6h0m0 4h0m0 21h0m0 3h0m0 15h0m0 3h0m0 10h0m1 -445h0m0 283h0m0 83h0m0 2h0m0 5h0m0 3h0m0 5h0m0 3h0m0 10h0m0 9h0m0 6h0m0 4h0m0 2h0m0 4h0m0 16h0m0 11h0m1 -144h0m0 28h0m0 19h0m0 8h0m0 2h0m0 2h0m0 3h0m0 4h0m0 3h0m0 20h0m0 4h0m0 10h0m0 1h0m0 5h0m0 7h0m0 2h0m0 6h0m1 -100h0m0 8h0m0 25h0m0 0h0m0 10h0m0 6h0m0 24h0m0 28h0m0 4h0m1 -167h0m0 46h0m0 15h0m0 8h0m0 13h0m0 12h0m0 17h0m0 15h0m0 10h0m0 20h0m0 6h0m0 16h0m1 -227h0m0 124h0m0 15h0m0 14h0m0 7h0m0 14h0m0 1h0m0 4h0m0 11h0m0 1h0m0 5h0m0 3h0m0 36h0m1 -203h0m0 53h0m0 0h0m0 16h0m0 7h0m0 11h0m0 25h0m0 7h0m0 8h0m0 8h0m0 4h0m0 1h0m0 21h0m0 9h0m0 2h0m0 13h0m1 -112h0m0 25h0m0 5h0m0 23h0m0 5h0m0 1h0m0 18h0m0 7h0m0 33h0m1 -144h0m0 36h0m0 11h0m0 6h0m0 9h0m0 4h0m0 16h0m0 6h0m0 27h0m0 3h0m0 21h0m0 3h0m0 4h0m0 5h0m1 -196h0m0 96h0m0 2h0m0 1h0m0 0h0m0 3h0m0 6h0m0 0h0m0 17h0m0 5h0m0 5h0m0 6h0m0 1h0m0 9h0m0 6h0m0 38h0m1 -147h0m0 22h0m0 28h0m0 9h0m0 3h0m0 4h0m0 7h0m0 1h0m0 16h0m0 1h0m0 3h0m0 2h0m0 24h0m0 26h0m0 3h0m1 -145h0m0 37h0m0 16h0m0 12h0m0 0h0m0 16h0m0 0h0m0 4h0m0 3h0m0 6h0m0 2h0m0 12h0m0 16h0m0 12h0m1 -252h0m0 161h0m0 16h0m0 1h0m0 2h0m0 2h0m0 21h0m0 4h0m0 6h0m0 8h0m0 30h0m0 11h0m1 -115h0m0 7h0m0 6h0m0 2h0m0 2h0m0 27h0m0 17h0m0 1h0m0 25h0m0 0h0m0 5h0m0 1h0m0 13h0m1 -137h0m0 3h0m0 25h0m0 1h0m0 1h0m0 9h0m0 2h0m0 16h0m0 3h0m0 6h0m0 4h0m0 20h0m0 6h0m0 15h0m0 27h0m1 -85h0m0 9h0m0 23h0m0 3h0m0 6h0m0 1h0m0 6h0m0 14h0m0 5h0m0 4h0m0 17h0m1 -143h0m0 36h0m0 5h0m0 2h0m0 8h0m0 12h0m0 7h0m0 6h0m0 17h0m0 12h0m0 5h0m0 15h0m0 15h0m0 4h0m1 -128h0m0 42h0m0 22h0m1 -30h0m0 21h0m0 3h0m0 3h0m0 18h0m0 18h0m0 4h0m0 23h0m1 -95h0m0 5h0m0 4h0m0 17h0m0 1h0m0 9h0m0 26h0m1 -193h0m0 78h0m0 14h0m0 25h0m0 14h0m0 1h0m0 20h0m0 8h0m0 21h0m0 4h0m0 3h0m0 16h0m0 2h0m0 2h0m0 29h0m1 -144h0m0 10h0m0 17h0m0 15h0m0 19h0m0 37h0m0 6h0m0 4h0m0 14h0m1 -96h0m0 3h0m0 7h0m0 4h0m0 8h0m0 6h0m0 26h0m0 12h0m0 8h0m0 6h0m0 35h0m0 1h0m0 0h0m1 -127h0m0 15h0m0 8h0m0 1h0m0 8h0m0 0h0m0 4h0m0 6h0m0 31h0m0 11h0m0 5h0m0 13h0m0 17h0m1 -105h0m0 11h0m0 10h0m0 39h0m0 16h0m0 0h0m0 21h0m0 9h0m0 1h0m0 5h0m1 -139h0m0 7h0m0 5h0m0 6h0m0 26h0m0 4h0m0 1h0m0 22h0m0 11h0m0 2h0m0 1h0m0 6h0m0 5h0m0 1h0m0 1h0m0 1h0m0 27h0m0 12h0m1 -209h0m0 29h0m0 48h0m0 24h0m0 6h0m0 3h0m0 9h0m0 24h0m0 3h0m0 20h0m0 11h0m0 24h0m1 -261h0m0 75h0m0 60h0m0 35h0m0 18h0m0 3h0m0 4h0m0 10h0m0 6h0m0 7h0m0 4h0m0 4h0m0 1h0m0 7h0m0 3h0m0 7h0m0 13h0m0 13h0m0 1h0m1 -196h0m0 7h0m0 69h0m0 16h0m0 5h0m0 26h0m0 14h0m0 2h0m0 4h0m0 5h0m0 15h0m0 6h0m0 11h0m0 4h0m0 1h0m1 -121h0m0 18h0m0 1h0m0 7h0m0 3h0m0 29h0m0 4h0m0 9h0m0 5h0m0 6h0m0 0h0m0 1h0m0 41h0m0 8h0m1 -154h0m0 40h0m0 22h0m0 31h0m0 7h0m0 1h0m0 0h0m0 34h0m1 -184h0m0 69h0m0 6h0m0 5h0m0 7h0m0 3h0m0 27h0m0 5h0m0 9h0m0 12h0m0 1h0m0 9h0m0 35h0m0 12h0m1 -140h0m0 4h0m0 11h0m0 21h0m0 16h0m0 33h0m0 5h0m0 2h0m0 12h0m0 20h0m0 19h0m0 1h0m1 -138h0m0 34h0m0 19h0m0 4h0m0 16h0m1 -269h0m0 148h0m0 47h0m0 13h0m0 17h0m0 1h0m0 2h0m0 7h0m0 9h0m0 3h0m0 38h0m0 14h0m0 9h0m0 15h0m1 -423h0m0 312h0m0 18h0m0 11h0m0 5h0m0 1h0m0 24h0m0 9h0m0 4h0m0 17h0m0 14h0m0 7h0m0 14h0m1 -116h0m0 9h0m0 4h0m0 8h0m0 20h0m0 22h0m0 12h0m0 1h0m0 5h0m0 1h0m0 2h0m0 29h0m1 -440h0m0 320h0m0 15h0m0 2h0m0 18h0m0 13h0m0 1h0m0 18h0m0 9h0m0 5h0m0 24h0m0 0h0m0 3h0m0 1h0m1 -210h0m0 50h0m0 28h0m0 4h0m0 20h0m0 10h0m0 3h0m0 28h0m0 1h0m0 2h0m0 22h0m0 4h0m0 5h0m0 46h0m1 -319h0m0 157h0m0 32h0m0 5h0m0 28h0m0 13h0m0 5h0m0 16h0m0 10h0m0 0h0m0 17h0m0 15h0m1 -309h0m0 174h0m0 32h0m0 13h0m0 4h0m0 22h0m0 5h0m0 10h0m0 23h0m0 4h0m0 7h0m0 10h0m0 10h0m0 13h0m0 1h0m1 -205h0m0 48h0m0 7h0m0 2h0m0 57h0m0 11h0m0 15h0m0 7h0m0 4h0m0 4h0m0 6h0m0 12h0m0 8h0m0 8h0m1 -367h0m0 140h0m0 103h0m0 34h0m0 48h0m0 1h0m0 28h0m0 3h0m0 19h0m0 3h0m0 3h0m1 -170h0m0 10h0m0 13h0m0 12h0m0 6h0m0 16h0m0 26h0m0 20h0m0 17h0m0 20h0m0 11h0m0 5h0m0 12h0m1 -111h0m0 2h0m0 34h0m0 27h0m0 30h0m0 7h0m1 -181h0m0 32h0m0 35h0m0 0h0m0 2h0m0 5h0m0 16h0m0 7h0m0 9h0m0 27h0m0 1h0m0 6h0m0 7h0m0 11h0m0 5h0m0 1h0m0 7h0m0 4h0m0 9h0m0 7h0m1 -117h0m0 14h0m0 2h0m0 25h0m0 18h0m0 3h0m0 6h0m0 3h0m0 21h0m0 25h0m1 -141h0m0 18h0m0 18h0m0 5h0m0 17h0m0 12h0m0 4h0m0 19h0m0 2h0m1 -96h0m0 7h0m0 12h0m0 18h0m0 11h0m0 29h0m0 19h0m0 2h0m0 15h0m0 16h0m0 12h0m1 -393h0m0 168h0m0 14h0m0 79h0m0 28h0m0 17h0m0 13h0m0 0h0m0 1h0m0 0h0m0 1h0m0 12h0m0 2h0m0 5h0m0 3h0m0 1h0m0 4h0m0 4h0m0 5h0m0 4h0m0 16h0m1 -108h0m0 7h0m0 7h0m0 13h0m0 5h0m0 16h0m0 4h0m0 25h0m0 3h0m0 7h0m0 27h0m1 -89h0m0 1h0m0 1h0m0 1h0m0 19h0m0 6h0m0 9h0m0 2h0m0 7h0m0 4h0m0 3h0m0 5h0m0 8h0m0 3h0m0 6h0m0 2h0m0 5h0m0 10h0m1 -452h0m0 364h0m0 0h0m0 0h0m0 8h0m0 9h0m0 12h0m0 1h0m0 11h0m0 4h0m0 5h0m0 5h0m0 3h0m0 1h0m0 5h0m0 3h0m1 -84h0m0 6h0m0 4h0m0 22h0m0 6h0m0 5h0m0 2h0m0 56h0m1 -154h0m0 38h0m0 53h0m0 20h0m0 9h0m0 5h0m0 4h0m0 2h0m0 13h0m1 -136h0m0 21h0m0 3h0m0 19h0m0 17h0m0 9h0m0 13h0m0 3h0m0 0h0m0 14h0m0 9h0m0 10h0m1 -66h0m0 4h0m0 0h0m0 2h0m0 16h0m0 2h0m0 3h0m0 10h0m0 7h0m0 18h0m0 33h0m0 14h0m1 -248h0m0 104h0m0 22h0m0 6h0m0 18h0m0 1h0m0 15h0m0 2h0m0 3h0m0 8h0m0 8h0m0 5h0m0 16h0m0 17h0m0 1h0m0 2h0m0 11h0m0 7h0m0 4h0m1 -403h0m0 265h0m0 19h0m0 17h0m0 40h0m0 10h0m0 3h0m0 10h0m0 2h0m0 5h0m0 0h0m0 7h0m0 9h0m1 -391h0m0 249h0m0 3h0m0 15h0m0 11h0m0 8h0m0 13h0m0 6h0m0 26h0m0 45h0m0 11h0m0 1h0m0 4h0m1 -102h0m0 3h0m0 16h0m0 2h0m0 5h0m0 32h0m1 -409h0m0 317h0m0 44h0m0 1h0m0 0h0m0 5h0m0 37h0m0 10h0m0 9h0m0 32h0m1 -125h0m0 13h0m0 3h0m0 19h0m0 16h0m0 16h0m0 47h0m0 3h0m0 22h0m1 -415h0m0 139h0m0 52h0m0 88h0m0 5h0m0 4h0m0 61h0m0 2h0m0 0h0m0 3h0m0 5h0m0 12h0m0 10h0m0 0h0m0 5h0m0 22h0m1 -392h0m0 220h0m0 69h0m0 16h0m0 9h0m0 11h0m0 6h0m0 5h0m0 3h0m0 31h0m0 22h0m1 -137h0m0 26h0m0 8h0m0 6h0m0 16h0m0 37h0m0 1h0m0 4h0m0 30h0m0 5h0m0 1h0m0 5h0m1 -110h0m0 0h0m0 1h0m0 12h0m0 1h0m0 5h0m0 16h0m0 25h0m0 1h0m0 8h0m0 39h0m1 -260h0m0 60h0m0 90h0m0 6h0m0 2h0m0 13h0m0 11h0m0 6h0m0 12h0m0 0h0m0 0h0m0 58h0m0 6h0m1 -337h0m0 108h0m0 39h0m0 11h0m0 34h0m0 8h0m0 21h0m0 17h0m0 45h0m0 2h0m0 1h0m0 4h0m0 21h0m0 4h0m0 4h0m1 -114h0m0 23h0m0 10h0m0 27h0m0 12h0m0 5h0m0 10h0m0 15h0m0 30h0m1 -116h0m0 19h0m0 1h0m0 17h0m0 1h0m0 16h0m0 16h0m0 3h0m1 -208h0m0 60h0m0 50h0m0 4h0m0 18h0m0 6h0m0 1h0m0 34h0m0 2h0m0 8h0m0 4h0m0 2h0m0 12h0m0 13h0m0 1h0m0 0h0m0 17h0m0 6h0m0 6h0m1 -451h0m0 348h0m0 6h0m0 2h0m0 9h0m0 6h0m0 8h0m0 3h0m0 9h0m0 3h0m0 28h0m0 7h0m1 -115h0m0 39h0m0 6h0m0 9h0m0 5h0m0 13h0m0 12h0m0 10h0m0 6h0m0 29h0m1 -249h0m0 68h0m0 67h0m0 3h0m0 4h0m0 1h0m0 1h0m0 5h0m0 11h0m0 10h0m0 4h0m0 8h0m0 39h0m0 3h0m0 3h0m0 27h0m0 2h0m0 6h0m1 -171h0m0 46h0m0 4h0m0 12h0m0 3h0m0 12h0m0 4h0m0 9h0m0 7h0m0 11h0m0 3h0m0 10h0m0 53h0m0 1h0m1 -123h0m0 12h0m0 1h0m0 1h0m0 5h0m0 26h0m0 18h0m0 9h0m0 1h0m1 -72h0m0 11h0m0 16h0m0 3h0m0 4h0m0 33h0m0 47h0m1 -153h0m0 56h0m0 26h0m0 16h0m0 8h0m0 10h0m0 3h0m0 2h0m0 29h0m1 -446h0m0 312h0m0 23h0m0 24h0m0 13h0m0 7h0m0 3h0m0 6h0m0 5h0m0 14h0m0 22h0m0 26h0m1 -101h0m0 18h0m0 3h0m0 12h0m0 50h0m0 18h0m0 2h0m1 -169h0m0 34h0m0 4h0m0 3h0m0 17h0m0 1h0m0 2h0m0 16h0m0 13h0m0 2h0m0 16h0m0 6h0m0 30h0m0 20h0m0 2h0m0 0h0m0 4h0m1 -187h0m0 9h0m0 67h0m0 23h0m0 2h0m0 57h0m0 18h0m0 12h0m1 -134h0m0 6h0m0 8h0m0 14h0m0 29h0m0 1h0m0 1h0m1 -157h0m0 110h0m0 8h0m0 4h0m0 8h0m0 2h0m0 76h0m0 5h0m0 2h0m1 -136h0m0 27h0m0 35h0m0 5h0m0 6h0m0 1h0m0 14h0m0 26h0m0 33h0m0 5h0m1 -138h0m0 1h0m0 17h0m0 20h0m0 22h0m0 26h0m0 1h0m0 3h0m0 3h0m0 12h0m1 -150h0m0 18h0m0 44h0m0 22h0m0 4h0m0 4h0m0 7h0m0 22h0m0 28h0m0 13h0m0 3h0m0 4h0m1 -158h0m0 9h0m0 17h0m0 27h0m0 11h0m0 33h0m0 12h0m0 20h0m1 -104h0m0 24h0m0 62h0m0 8h0m0 1h0m0 3h0m0 38h0m0 4h0m0 2h0m0 1h0m1 -224h0m0 62h0m0 4h0m0 40h0m0 20h0m0 7h0m0 5h0m0 1h0m0 10h0m0 20h0m0 3h0m0 42h0m1 -204h0m0 30h0m0 40h0m0 23h0m0 34h0m0 19h0m0 2h0m0 2h0m0 7h0m0 2h0m0 27h0m0 6h0m0 5h0m0 7h0m0 6h0m1 -133h0m0 21h0m0 13h0m0 4h0m0 6h0m0 1h0m0 13h0m0 4h0m0 10h0m0 8h0m0 10h0m0 6h0m0 8h0m0 4h0m0 0h0m0 6h0m1 -80h0m0 3h0m0 3h0m0 4h0m0 1h0m0 2h0m0 5h0m0 21h0m0 7h0m0 13h0m0 8h0m0 0h0m1 -95h0m0 9h0m0 16h0m0 2h0m0 5h0m0 7h0m0 9h0m0 22h0m0 4h0m0 7h0m0 5h0m0 12h0m1 -202h0m0 22h0m0 136h0m0 2h0m0 28h0m0 2h0m0 5h0m0 19h0m0 5h0m0 18h0m0 2h0m1 -243h0m0 86h0m0 38h0m0 15h0m0 1h0m0 15h0m0 4h0m0 14h0m0 3h0m0 9h0m0 16h0m0 1h0m0 27h0m1 -125h0m0 11h0m0 13h0m0 20h0m0 10h0m0 14h0m0 11h0m0 8h0m0 14h0m0 3h0m1 -136h0m0 58h0m0 7h0m0 7h0m0 32h0m0 9h0m0 4h0m0 3h0m0 4h0m0 18h0m1 -134h0m0 17h0m0 26h0m0 16h0m0 6h0m0 39h0m0 18h0m0 5h0m0 13h0m1 -153h0m0 44h0m0 28h0m0 5h0m0 4h0m0 15h0m0 7h0m0 11h0m0 1h0m0 27h0m0 14h0m0 10h0m0 6h0m1 -114h0m0 23h0m0 23h0m0 7h0m0 7h0m0 7h0m0 3h0m0 1h0m0 12h0m0 3h0m0 33h0m1 -121h0m0 7h0m0 10h0m0 8h0m0 0h0m0 21h0m0 15h0m0 9h0m0 5h0m0 4h0m0 0h0m0 5h0m0 25h0m1 -168h0m0 44h0m0 1h0m0 5h0m0 14h0m0 11h0m0 7h0m0 7h0m0 18h0m0 12h0m0 3h0m0 2h0m0 9h0m0 21h0m1 -97h0m0 2h0m0 10h0m0 6h0m0 5h0m0 11h0m0 5h0m0 1h0m0 14h0m0 3h0m0 3h0m0 6h0m0 3h0m0 0h0m0 2h0m0 5h0m0 4h0m0 4h0m0 24h0m0 3h0m0 2h0m0 10h0m1 -151h0m0 18h0m0 17h0m0 5h0m0 24h0m0 29h0m0 3h0m0 0h0m0 31h0m1 -122h0m0 4h0m0 20h0m0 8h0m0 7h0m0 6h0m0 7h0m0 21h0m0 19h0m0 2h0m0 2h0m0 29h0m0 6h0m1 -79h0m0 2h0m0 1h0m0 7h0m0 24h0m0 3h0m0 12h0m0 12h0m0 15h0m0 15h0m1 -142h0m0 29h0m0 19h0m0 8h0m0 1h0m0 8h0m0 12h0m0 17h0m1 -131h0m0 36h0m0 7h0m0 12h0m0 5h0m0 22h0m0 28h0m0 10h0m0 1h0m0 3h0m0 1h0m0 16h0m0 3h0m1 -125h0m0 5h0m0 39h0m0 5h0m0 19h0m0 37h0m0 17h0m0 1h0m0 24h0m0 9h0m1 -165h0m0 65h0m0 5h0m0 23h0m0 16h0m0 13h0m0 16h0m0 2h0m0 2h0m1 -118h0m0 20h0m0 23h0m0 1h0m0 7h0m0 9h0m0 5h0m0 53h0m0 14h0m1 -107h0m0 10h0m0 44h0m0 0h0m1 -89h0m0 32h0m0 9h0m0 11h0m0 6h0m0 31h0m0 19h0m0 3h0m0 8h0m1 -184h0m0 51h0m0 66h0m0 6h0m0 2h0m0 21h0m0 11h0m0 3h0m0 14h0m0 28h0m0 9h0m0 11h0m1 -171h0m0 6h0m0 37h0m0 9h0m0 1h0m0 26h0m0 19h0m0 8h0m0 9h0m0 13h0m0 18h0m1 -127h0m0 37h0m0 4h0m0 6h0m0 10h0m0 4h0m0 5h0m0 22h0m0 2h0m0 7h0m0 12h0m0 0h0m0 25h0m0 10h0m0 9h0m1 -306h0m0 50h0m0 153h0m0 19h0m0 4h0m0 22h0m0 3h0m0 8h0m0 7h0m0 3h0m0 2h0m0 1h0m0 6h0m0 8h0m0 3h0m0 4h0m0 2h0m1 -107h0m0 15h0m0 26h0m0 28h0m0 3h0m0 40h0m0 2h0m1 -351h0m0 151h0m0 44h0m0 10h0m0 27h0m0 2h0m0 20h0m0 37h0m0 19h0m0 10h0m1 -209h0m0 103h0m0 60h0m0 19h0m0 8h0m1 -137h0m0 89h0m0 3h0m0 31h0m0 24h0m0 14h0m0 26h0m1 -132h0m0 12h0m0 7h0m0 1h0m0 3h0m0 10h0m0 20h0m0 25h0m0 8h0m0 2h0m0 29h0m1 -104h0m0 12h0m0 10h0m0 13h0m0 9h0m0 9h0m0 10h0m0 30h0m0 23h0m0 5h0m1 -132h0m0 10h0m0 14h0m0 5h0m0 8h0m0 4h0m0 7h0m0 5h0m0 24h0m0 10h0m0 4h0m0 29h0m0 12h0m1 -211h0m0 73h0m0 1h0m0 19h0m0 1h0m0 3h0m0 2h0m0 8h0m0 7h0m0 1h0m0 17h0m0 5h0m0 4h0m0 8h0m0 9h0m0 0h0m0 1h0m0 3h0m0 28h0m0 0h0m0 10h0m0 4h0m1 -128h0m0 54h0m0 10h0m0 30h0m0 11h0m0 5h0m0 2h0m0 6h0m0 5h0m1 -164h0m0 49h0m0 17h0m0 9h0m0 32h0m0 14h0m0 16h0m1 -104h0m0 26h0m0 17h0m0 8h0m0 3h0m0 9h0m0 3h0m0 22h0m0 21h0m0 14h0m0 19h0m1 -316h0m0 167h0m0 39h0m0 7h0m0 15h0m0 4h0m0 12h0m0 1h0m0 14h0m0 4h0m0 8h0m0 11h0m0 18h0m1 -137h0m0 60h0m0 0h0m0 13h0m0 1h0m0 7h0m0 17h0m0 15h0m0 2h0m1 -143h0m0 34h0m0 39h0m0 4h0m0 6h0m0 18h0m0 17h0m0 8h0m0 10h0m0 7h0m0 0h0m1 -283h0m0 94h0m0 61h0m0 29h0m0 21h0m0 3h0m0 6h0m0 6h0m0 2h0m0 2h0m0 1h0m0 21h0m0 0h0m0 18h0m0 5h0m0 18h0m0 14h0m0 4h0m1 -265h0m0 14h0m0 25h0m0 117h0m0 8h0m0 17h0m0 1h0m0 10h0m0 21h0m0 21h0m0 8h0m0 23h0m0 3h0m0 4h0m0 10h0m1 -243h0m0 51h0m0 62h0m0 23h0m0 15h0m0 5h0m0 7h0m0 9h0m0 7h0m0 6h0m0 4h0m0 6h0m1 -327h0m0 209h0m0 4h0m0 40h0m0 2h0m0 4h0m0 20h0m0 17h0m0 0h0m0 5h0m0 10h0m0 1h0m0 3h0m0 6h0m0 1h0m0 6h0m0 25h0m0 17h0m0 5h0m1 -204h0m0 38h0m0 2h0m0 32h0m0 8h0m0 15h0m0 14h0m0 2h0m0 1h0m0 8h0m0 8h0m0 1h0m0 1h0m0 9h0m0 5h0m0 2h0m0 10h0m0 24h0m1 -335h0m0 213h0m0 1h0m0 23h0m0 14h0m0 4h0m0 1h0m0 2h0m0 10h0m0 15h0m0 18h0m0 1h0m0 6h0m1 -230h0m0 147h0m0 6h0m0 53h0m0 19h0m0 4h0m0 20h0m0 28h0m0 3h0m1 -281h0m0 75h0m0 57h0m0 37h0m0 9h0m0 2h0m0 4h0m0 5h0m0 9h0m0 20h0m0 5h0m0 2h0m0 29h0m0 5h0m0 3h0m0 1h0m1 -161h0m0 52h0m0 3h0m0 20h0m0 31h0m0 9h0m0 13h0m0 4h0m0 16h0m0 6h0m0 13h0m0 3h0m1 -108h0m0 3h0m0 4h0m0 9h0m0 7h0m0 2h0m0 1h0m0 4h0m0 3h0m0 1h0m0 12h0m0 8h0m0 4h0m0 7h0m0 13h0m1 -103h0m0 9h0m0 13h0m0 7h0m0 7h0m0 15h0m0 24h0m0 4h0m0 34h0m0 23h0m1 -393h0m0 184h0m0 92h0m0 8h0m0 12h0m0 21h0m0 12h0m0 37h0m0 7h0m0 5h0m0 12h0m1 -211h0m0 76h0m0 25h0m0 6h0m0 13h0m0 14h0m0 21h0m0 1h0m0 7h0m0 6h0m0 3h0m0 6h0m1 -203h0m0 70h0m0 56h0m0 16h0m0 8h0m0 23h0m0 2h0m0 12h0m1 -323h0m0 279h0m0 8h0m0 7h0m0 9h0m0 5h0m0 11h0m0 15h0m0 35h0m0 4h0m1 -283h0m0 168h0m0 6h0m0 8h0m0 3h0m0 2h0m0 12h0m0 13h0m0 2h0m0 6h0m0 7h0m0 9h0m0 4h0m0 0h0m0 12h0m0 3h0m0 10h0m0 18h0m1 -167h0m0 58h0m0 0h0m0 41h0m0 8h0m0 19h0m0 9h0m0 18h0m0 21h0m1 -215h0m0 23h0m0 74h0m0 20h0m0 9h0m0 33h0m0 12h0m0 13h0m0 21h0m1 -139h0m0 40h0m0 0h0m0 4h0m0 22h0m0 12h0m0 3h0m0 3h0m0 9h0m0 3h0m0 0h0m0 13h0m0 9h0m0 10h0m0 6h0m0 4h0m0 14h0m1 -127h0m0 25h0m0 3h0m0 4h0m0 6h0m0 15h0m0 6h0m0 3h0m0 9h0m0 2h0m0 0h0m0 1h0m0 10h0m0 8h0m0 4h0m0 11h0m0 9h0m1 -101h0m0 11h0m0 7h0m0 6h0m0 2h0m0 1h0m0 29h0m0 2h0m0 2h0m0 24h0m0 6h0m0 6h0m1 -270h0m0 137h0m0 44h0m0 13h0m0 11h0m0 8h0m0 18h0m0 10h0m0 38h0m1 -124h0m0 19h0m0 25h0m0 1h0m0 4h0m0 23h0m0 2h0m0 14h0m0 21h0m0 13h0m0 5h0m1 -170h0m0 73h0m0 8h0m0 20h0m0 10h0m0 21h0m0 13h0m0 19h0m1 -454h0m0 361h0m0 5h0m0 11h0m0 5h0m0 4h0m0 9h0m0 7h0m0 7h0m0 14h0m1 -148h0m0 6h0m0 44h0m0 34h0m0 16h0m0 18h0m0 3h0m0 10h0m0 5h0m0 2h0m1 -133h0m0 12h0m0 9h0m0 35h0m0 15h0m0 14h0m0 5h0m0 1h0m0 1h0m0 19h0m0 17h0m0 7h0m0 14h0m0 22h0m1 -153h0m0 49h0m0 12h0m0 26h0m0 21h0m0 20h0m0 4h0m0 19h0m1 -282h0m0 156h0m0 4h0m0 8h0m0 23h0m0 4h0m0 16h0m0 34h0m0 34h0m0 1h0m0 7h0m0 3h0m0 2h0m1 -158h0m0 7h0m0 17h0m0 7h0m0 6h0m0 10h0m0 3h0m0 19h0m0 3h0m0 6h0m0 24h0m0 2h0m0 1h0m0 9h0m0 14h0m0 13h0m1 -114h0m0 7h0m0 5h0m0 13h0m0 39h0m0 4h0m0 2h0m0 3h0m0 2h0m0 6h0m0 10h0m0 13h0m1 -89h0m0 13h0m0 4h0m0 3h0m0 2h0m0 3h0m0 1h0m0 20h0m0 9h0m0 0h0m0 7h0m0 0h0m0 0h0m0 5h0m0 4h0m0 6h0m0 15h0m0 29h0m1 -167h0m0 11h0m0 60h0m0 15h0m0 0h0m0 10h0m0 35h0m1 -82h0m0 2h0m0 53h0m0 1h0m0 2h0m0 2h0m0 7h0m0 10h0m0 7h0m1 -252h0m0 86h0m0 38h0m0 53h0m0 5h0m0 5h0m0 11h0m0 43h0m1 -110h0m0 11h0m0 12h0m0 23h0m0 3h0m0 1h0m0 3h0m0 1h0m0 2h0m0 12h0m0 7h0m0 2h0m0 11h0m0 4h0m0 3h0m0 38h0m0 5h0m1 -274h0m0 141h0m0 38h0m0 6h0m0 5h0m0 35h0m0 48h0m0 4h0m0 12h0m1 -193h0m0 41h0m0 22h0m0 25h0m0 14h0m0 11h0m0 1h0m0 21h0m0 3h0m0 2h0m0 38h0m0 0h0m1 -252h0m0 45h0m0 83h0m0 24h0m0 22h0m0 3h0m0 7h0m0 2h0m0 6h0m0 22h0m0 4h0m0 9h0m0 38h0m0 1h0m1 -199h0m0 61h0m0 12h0m0 4h0m0 6h0m0 13h0m0 11h0m0 7h0m0 40h0m0 15h0m0 7h0m0 3h0m0 7h0m1 -161h0m0 55h0m0 2h0m0 2h0m0 8h0m0 27h0m0 11h0m0 17h0m0 10h0m0 3h0m0 2h0m0 11h0m0 23h0m1 -162h0m0 61h0m0 4h0m0 2h0m0 49h0m0 0h0m0 24h0m0 12h0m1 -127h0m0 1h0m0 19h0m0 5h0m0 10h0m0 14h0m0 36h0m0 10h0m0 4h0m0 1h0m0 10h0m0 3h0m0 13h0m1 -361h0m0 108h0m0 164h0m0 4h0m0 5h0m0 38h0m0 17h0m0 5h0m1 -302h0m0 188h0m0 25h0m0 13h0m0 4h0m0 17h0m0 3h0m0 6h0m0 32h0m0 7h0m0 10h0m0 5h0m1 -380h0m0 43h0m0 214h0m0 20h0m0 2h0m0 2h0m0 16h0m0 3h0m0 7h0m0 4h0m0 13h0m0 7h0m0 17h0m0 50h0m0 8h0m1 -184h0m0 46h0m0 17h0m0 28h0m0 7h0m0 0h0m0 3h0m0 3h0m0 0h0m0 23h0m0 0h0m0 27h0m0 12h0m1 -113h0m0 18h0m0 45h0m0 2h0m0 4h0m0 4h0m0 4h0m0 0h0m0 1h0m0 13h0m0 15h0m0 1h0m0 16h0m0 10h0m1 -162h0m0 23h0m0 31h0m0 29h0m0 2h0m0 6h0m0 4h0m0 7h0m0 23h0m0 13h0m0 18h0m0 6h0m1 -179h0m0 8h0m0 55h0m0 5h0m0 0h0m0 5h0m0 19h0m0 7h0m0 17h0m0 18h0m0 0h0m0 7h0m0 3h0m0 1h0m0 6h0m0 8h0m0 11h0m1 -204h0m0 1h0m0 92h0m0 26h0m0 4h0m0 1h0m0 0h0m0 0h0m0 22h0m0 54h0m1 -253h0m0 94h0m0 45h0m0 27h0m0 7h0m0 5h0m0 28h0m0 28h0m0 24h0m1 -121h0m0 0h0m0 3h0m0 20h0m0 8h0m0 8h0m0 11h0m0 3h0m0 25h0m0 2h0m0 0h0m0 1h0m0 2h0m0 25h0m0 1h0m0 17h0m0 3h0m1 -462h0m0 273h0m0 89h0m0 16h0m0 4h0m0 5h0m0 8h0m0 9h0m0 1h0m0 8h0m0 4h0m0 0h0m0 0h0m0 1h0m0 5h0m0 25h0m0 11h0m1 -121h0m0 26h0m0 7h0m0 11h0m0 11h0m0 5h0m0 13h0m0 4h0m0 16h0m0 2h0m0 15h0m1 -231h0m0 36h0m0 59h0m0 4h0m0 42h0m0 4h0m0 25h0m0 2h0m0 16h0m0 5h0m0 2h0m0 9h0m0 4h0m0 18h0m0 10h0m1 -120h0m0 0h0m0 17h0m0 2h0m0 1h0m0 2h0m0 0h0m0 3h0m0 3h0m0 7h0m0 32h0m0 9h0m0 8h0m0 11h0m1 -129h0m0 65h0m0 6h0m0 7h0m0 0h0m0 12h0m0 1h0m0 17h0m0 1h0m0 5h0m0 3h0m0 9h0m0 17h0m1 -216h0m0 80h0m0 20h0m0 0h0m0 22h0m0 5h0m0 2h0m0 2h0m0 23h0m0 8h0m0 6h0m0 3h0m0 7h0m0 25h0m1 -115h0m0 39h0m0 11h0m0 6h0m0 5h0m0 3h0m0 12h0m0 2h0m0 1h0m0 3h0m0 31h0m0 16h0m0 12h0m1 -143h0m0 52h0m0 4h0m0 44h0m0 3h0m0 12h0m0 2h0m0 1h0m0 21h0m0 0h0m0 7h0m0 4h0m1 -440h0m0 230h0m0 33h0m0 18h0m0 46h0m0 5h0m0 4h0m0 4h0m0 4h0m0 5h0m0 9h0m0 5h0m0 1h0m0 2h0m0 7h0m0 9h0m0 0h0m0 2h0m0 1h0m0 18h0m0 2h0m0 2h0m0 1h0m0 5h0m0 4h0m0 10h0m0 5h0m1 -213h0m0 64h0m0 40h0m0 27h0m0 6h0m0 24h0m0 29h0m1 -259h0m0 24h0m0 163h0m0 0h0m0 0h0m0 3h0m0 47h0m0 9h0m0 22h0m0 5h0m0 10h0m1 -283h0m0 61h0m0 105h0m0 3h0m0 7h0m0 23h0m0 5h0m0 4h0m0 5h0m0 14h0m0 8h0m0 16h0m0 4h0m0 5h0m0 0h0m0 5h0m0 16h0m0 0h0m1 -115h0m0 17h0m0 6h0m0 16h0m0 0h0m0 3h0m0 6h0m0 12h0m0 3h0m0 22h0m0 16h0m0 2h0m0 11h0m0 8h0m0 0h0m1 -167h0m0 40h0m0 15h0m0 9h0m0 1h0m0 25h0m0 15h0m0 4h0m0 1h0m0 4h0m0 2h0m0 1h0m0 15h0m0 19h0m0 1h0m1 -119h0m0 18h0m0 3h0m0 7h0m0 8h0m0 12h0m0 12h0m0 4h0m0 2h0m0 9h0m0 5h0m0 20h0m0 0h0m0 7h0m0 24h0m1 -167h0m0 54h0m0 9h0m0 9h0m0 32h0m0 12h0m0 10h0m0 11h0m0 6h0m0 27h0m1 -155h0m0 11h0m0 28h0m0 9h0m0 5h0m0 30h0m0 2h0m0 1h0m0 12h0m0 14h0m0 3h0m0 1h0m1 -147h0m0 58h0m0 2h0m0 22h0m0 10h0m0 6h0m0 10h0m0 24h0m0 0h0m0 5h0m0 10h0m0 5h0m0 13h0m1 -104h0m0 1h0m0 15h0m0 3h0m0 7h0m0 8h0m0 4h0m0 5h0m0 6h0m0 22h0m0 17h0m0 38h0m1 -77h0m0 26h0m0 3h0m0 2h0m0 1h0m0 1h0m0 17h0m0 30h0m1 -248h0m0 102h0m0 28h0m0 20h0m0 6h0m0 47h0m0 3h0m0 9h0m0 2h0m0 2h0m0 0h0m0 5h0m0 6h0m1 -85h0m0 10h0m0 14h0m0 11h0m0 4h0m0 6h0m0 11h0m0 18h0m0 15h0m1 -138h0m0 23h0m0 19h0m0 5h0m0 4h0m0 34h0m0 3h0m0 0h0m0 4h0m0 17h0m0 7h0m0 0h0m0 8h0m1 -104h0m0 17h0m0 27h0m0 4h0m0 2h0m0 6h0m0 9h0m0 12h0m0 13h0m0 1h0m0 12h0m0 28h0m1 -123h0m0 17h0m0 3h0m0 13h0m0 25h0m0 9h0m0 7h0m0 33h0m0 1h0m0 8h0m0 0h0m0 3h0m0 5h0m1 -228h0m0 91h0m0 5h0m0 2h0m0 8h0m0 12h0m0 2h0m0 4h0m0 7h0m0 5h0m0 34h0m0 2h0m0 1h0m0 5h0m0 0h0m0 6h0m0 11h0m0 7h0m0 7h0m1 -288h0m0 94h0m0 28h0m0 44h0m0 19h0m0 14h0m0 3h0m0 11h0m0 7h0m0 27h0m0 2h0m0 1h0m0 21h0m0 2h0m1 -111h0m0 12h0m0 13h0m0 9h0m0 2h0m0 4h0m0 1h0m0 9h0m0 19h0m0 1h0m0 1h0m0 30h0m0 6h0m0 16h0m1 -160h0m0 65h0m0 8h0m0 1h0m0 29h0m0 3h0m0 4h0m0 3h0m0 12h0m0 51h0m0 2h0m1 -138h0m0 40h0m0 12h0m0 8h0m0 2h0m0 1h0m0 39h0m0 4h0m0 2h0m0 17h0m0 10h0m0 2h0m0 4h0m1 -273h0m0 135h0m0 4h0m0 7h0m0 4h0m0 20h0m0 45h0m0 8h0m0 13h0m0 28h0m0 9h0m0 1h0m1 -203h0m0 98h0m0 17h0m0 21h0m0 10h0m0 0h0m0 17h0m0 10h0m0 7h0m0 2h0m1 -145h0m0 33h0m0 28h0m0 14h0m0 18h0m0 17h0m0 2h0m0 2h0m0 2h0m0 19h0m1 -103h0m0 14h0m0 9h0m0 0h0m0 12h0m0 8h0m0 1h0m0 40h0m0 4h0m0 10h0m0 10h0m0 12h0m1 -77h0m0 21h0m0 2h0m0 10h0m0 24h0m0 1h0m0 5h0m1 -134h0m0 3h0m0 48h0m0 20h0m0 10h0m0 5h0m0 5h0m0 62h0m1 -198h0m0 81h0m0 11h0m0 4h0m0 6h0m0 13h0m0 13h0m0 1h0m0 7h0m0 27h0m0 27h0m1 -156h0m0 8h0m0 49h0m0 1h0m0 1h0m0 3h0m0 5h0m0 0h0m0 10h0m0 3h0m0 15h0m0 22h0m0 19h0m0 2h0m0 4h0m1 -101h0m0 3h0m0 1h0m0 22h0m0 7h0m0 3h0m0 29h0m0 38h0m1 -286h0m0 48h0m0 124h0m0 9h0m0 12h0m0 4h0m0 32h0m0 6h0m0 6h0m0 14h0m0 4h0m0 3h0m0 11h0m0 4h0m0 7h0m0 13h0m0 3h0m0 1h0m1 -298h0m0 182h0m0 10h0m0 9h0m0 8h0m0 45h0m0 1h0m0 2h0m0 6h0m0 12h0m0 18h0m0 0h0m0 6h0m1 -287h0m0 210h0m0 9h0m0 1h0m0 6h0m0 4h0m0 6h0m0 9h0m0 1h0m0 21h0m0 22h0m1 -248h0m0 89h0m0 47h0m0 6h0m0 7h0m0 14h0m0 14h0m0 25h0m0 4h0m0 2h0m0 14h0m0 0h0m0 10h0m0 14h0m1 -154h0m0 95h0m0 15h0m0 44h0m0 9h0m0 0h0m1 -136h0m0 17h0m0 18h0m0 34h0m0 12h0m0 14h0m0 5h0m0 4h0m0 2h0m0 8h0m0 16h0m0 9h0m1 -175h0m0 29h0m0 10h0m0 27h0m0 26h0m0 5h0m0 3h0m0 4h0m0 4h0m0 13h0m0 3h0m0 11h0m0 17h0m0 1h0m1 -146h0m0 28h0m0 20h0m0 2h0m0 17h0m0 1h0m0 7h0m0 6h0m0 40h0m0 12h0m0 2h0m0 0h0m0 6h0m1 -208h0m0 114h0m0 1h0m0 0h0m0 1h0m0 12h0m0 50h0m0 27h0m1 -378h0m0 62h0m0 234h0m0 38h0m0 2h0m0 19h0m0 6h0m0 3h0m0 2h0m0 0h0m0 10h0m1 -84h0m0 10h0m0 2h0m0 12h0m0 24h0m0 9h0m0 1h0m0 7h0m0 4h0m0 7h0m0 20h0m0 0h0m0 18h0m1 -247h0m0 112h0m0 26h0m0 17h0m0 5h0m0 14h0m0 7h0m0 3h0m0 10h0m0 2h0m1 -70h0m0 5h0m0 0h0m0 1h0m0 23h0m0 4h0m0 18h0m0 3h0m0 2h0m0 19h0m0 10h0m0 2h0m0 15h0m1 -129h0m0 11h0m0 31h0m0 25h0m0 15h0m0 3h0m0 17h0m0 7h0m0 21h0m0 10h0m1 -171h0m0 81h0m0 24h0m0 0h0m0 2h0m0 13h0m0 57h0m1 -213h0m0 106h0m0 7h0m0 8h0m0 4h0m0 32h0m0 18h0m0 5h0m0 32h0m1 -252h0m0 93h0m0 34h0m0 1h0m0 6h0m0 4h0m0 13h0m0 1h0m0 5h0m0 11h0m0 19h0m0 5h0m0 4h0m0 4h0m0 0h0m0 5h0m0 10h0m0 23h0m1 -235h0m0 150h0m0 3h0m0 18h0m0 3h0m0 25h0m0 2h0m0 47h0m1 -193h0m0 48h0m0 36h0m0 1h0m0 6h0m0 16h0m0 18h0m0 14h0m0 8h0m0 18h0m0 6h0m0 12h0m1 -168h0m0 52h0m0 2h0m0 2h0m0 10h0m0 5h0m0 7h0m0 14h0m0 1h0m0 1h0m0 6h0m0 18h0m0 0h0m0 5h0m0 33h0m0 2h0m0 12h0m1 -127h0m0 9h0m0 1h0m0 3h0m0 2h0m0 5h0m0 5h0m0 2h0m0 3h0m0 12h0m0 4h0m0 5h0m0 7h0m0 0h0m0 3h0m0 28h0m0 10h0m0 15h0m0 3h0m0 11h0m1 -218h0m0 31h0m0 53h0m0 7h0m0 38h0m0 23h0m0 2h0m0 21h0m0 3h0m0 8h0m0 10h0m0 6h0m0 8h0m0 4h0m0 3h0m1 -350h0m0 197h0m0 38h0m0 9h0m0 4h0m0 0h0m0 9h0m0 36h0m0 20h0m0 7h0m0 22h0m0 10h0m0 3h0m1 -156h0m0 12h0m0 42h0m0 22h0m0 9h0m0 5h0m0 5h0m0 5h0m0 17h0m0 15h0m0 1h0m0 20h0m0 13h0m1 -221h0m0 104h0m0 4h0m0 4h0m0 2h0m0 5h0m0 19h0m0 10h0m0 31h0m0 21h0m0 17h0m1 -105h0m0 16h0m0 14h0m0 2h0m0 8h0m0 10h0m0 5h0m0 2h0m0 15h0m0 35h0m1 -134h0m0 26h0m0 27h0m0 19h0m0 12h0m0 0h0m0 18h0m0 32h0m1 -122h0m0 12h0m0 48h0m0 30h0m0 0h0m0 8h0m0 22h0m0 2h0m1 -133h0m0 36h0m0 3h0m0 0h0m0 2h0m0 1h0m0 0h0m0 20h0m0 2h0m0 1h0m0 16h0m0 10h0m0 19h0m0 0h0m1 -281h0m0 177h0m0 10h0m0 13h0m0 11h0m0 3h0m0 9h0m0 1h0m0 13h0m0 3h0m0 9h0m0 9h0m0 21h0m0 2h0m0 22h0m1 -243h0m0 97h0m0 8h0m0 12h0m0 9h0m0 15h0m0 6h0m0 1h0m0 14h0m0 4h0m0 19h0m0 9h0m0 4h0m0 7h0m0 30h0m1 -83h0m0 3h0m0 6h0m0 11h0m0 14h0m0 2h0m0 13h0m0 3h0m0 22h0m0 8h0m1 -232h0m0 41h0m0 77h0m0 5h0m0 6h0m0 0h0m0 12h0m0 14h0m0 2h0m0 10h0m0 7h0m0 1h0m0 40h0m0 7h0m1 -139h0m0 29h0m0 22h0m0 8h0m0 0h0m0 10h0m0 7h0m0 6h0m0 4h0m0 15h0m0 1h0m0 8h0m0 12h0m1 -343h0m0 282h0m0 4h0m0 3h0m0 0h0m0 11h0m0 56h0m1 -89h0m0 10h0m0 3h0m0 26h0m0 0h0m0 31h0m0 2h0m0 14h0m1 -262h0m0 97h0m0 72h0m0 23h0m0 4h0m0 1h0m0 22h0m0 1h0m0 16h0m0 6h0m0 2h0m0 13h0m0 2h0m1 -105h0m0 17h0m0 6h0m0 16h0m0 2h0m0 20h0m0 14h0m0 13h0m0 12h0m0 7h0m0 17h0m0 4h0m1 -128h0m0 11h0m0 16h0m0 0h0m0 1h0m0 4h0m0 8h0m0 26h0m0 14h0m0 12h0m0 8h0m0 5h0m0 4h0m0 8h0m0 17h0m1 -237h0m0 92h0m0 12h0m0 16h0m0 26h0m0 4h0m0 4h0m0 62h0m0 0h0m0 10h0m1 -257h0m0 34h0m0 103h0m0 5h0m0 2h0m0 25h0m0 6h0m0 42h0m0 5h0m0 5h0m0 6h0m0 5h0m0 18h0m0 9h0m1 -229h0m0 64h0m0 42h0m0 6h0m0 14h0m0 10h0m0 17h0m0 24h0m0 1h0m0 8h0m0 5h0m0 4h0m0 9h0m0 2h0m0 9h0m0 8h0m1 -172h0m0 38h0m0 3h0m0 9h0m0 11h0m0 27h0m0 7h0m0 17h0m0 17h0m0 2h0m0 12h0m0 3h0m0 13h0m0 1h0m0 11h0m0 2h0m1 -172h0m0 25h0m0 4h0m0 7h0m0 19h0m0 17h0m0 14h0m0 7h0m0 5h0m0 4h0m0 18h0m0 1h0m0 17h0m0 12h0m0 26h0m1 -139h0m0 25h0m0 5h0m0 24h0m0 7h0m0 9h0m0 1h0m0 5h0m0 9h0m0 51h0m1 -107h0m0 1h0m0 8h0m0 2h0m0 14h0m0 0h0m0 30h0m0 16h0m0 6h0m0 4h0m0 1h0m0 6h0m0 12h0m1 -130h0m0 37h0m0 1h0m0 8h0m0 2h0m0 26h0m0 8h0m0 1h0m0 3h0m0 18h0m0 0h0m0 0h0m0 1h0m1 -237h0m0 36h0m0 76h0m0 49h0m0 0h0m0 1h0m0 18h0m0 3h0m0 11h0m0 2h0m0 31h0m0 0h0m0 2h0m0 36h0m1 -151h0m0 15h0m0 49h0m0 3h0m0 28h0m0 6h0m0 11h0m0 11h0m0 8h0m1 -87h0m0 13h0m0 3h0m0 16h0m0 14h0m0 4h0m0 16h0m0 8h0m0 22h0m1 -128h0m0 16h0m0 52h0m0 6h0m0 16h0m0 2h0m0 2h0m0 0h0m0 1h0m0 13h0m0 37h0m1 -120h0m0 12h0m0 11h0m0 4h0m0 0h0m0 10h0m0 5h0m0 6h0m0 14h0m0 3h0m0 2h0m0 2h0m0 10h0m0 8h0m0 21h0m0 7h0m1 -187h0m0 40h0m0 16h0m0 15h0m0 0h0m0 11h0m0 3h0m0 0h0m0 9h0m0 3h0m0 41h0m0 3h0m0 0h0m0 6h0m0 8h0m0 13h0m0 23h0m0 9h0m1 -207h0m0 43h0m0 34h0m0 4h0m0 13h0m0 1h0m0 13h0m0 5h0m0 10h0m0 17h0m0 20h0m0 5h0m1 -79h0m0 30h0m0 1h0m0 6h0m0 7h0m0 16h0m0 7h0m0 2h0m0 30h0m0 17h0m1 -276h0m0 93h0m0 84h0m0 6h0m0 22h0m0 2h0m0 1h0m0 4h0m0 8h0m0 9h0m0 11h0m0 7h0m0 21h0m1 -215h0m0 130h0m0 13h0m0 13h0m0 8h0m0 7h0m0 5h0m0 11h0m0 17h0m0 5h0m0 4h0m0 0h0m0 11h0m1 -136h0m0 49h0m0 0h0m0 17h0m0 11h0m0 12h0m0 0h0m0 16h0m0 30h0m1 -147h0m0 7h0m0 32h0m0 1h0m0 15h0m0 4h0m0 5h0m0 8h0m0 2h0m0 11h0m0 4h0m0 1h0m0 0h0m0 5h0m0 2h0m0 1h0m0 10h0m0 9h0m0 23h0m1 -402h0m0 173h0m0 122h0m0 3h0m0 8h0m0 3h0m0 4h0m0 10h0m0 38h0m0 0h0m0 40h0m0 3h0m1 -161h0m0 29h0m0 28h0m0 13h0m0 5h0m0 5h0m0 4h0m0 14h0m0 14h0m0 5h0m0 33h0m0 3h0m1 -101h0m0 9h0m0 4h0m0 2h0m0 31h0m0 4h0m0 18h0m1 -128h0m0 33h0m0 42h0m0 18h0m0 12h0m0 16h0m0 0h0m0 4h0m0 2h0m0 1h0m0 21h0m0 9h0m0 10h0m1 -379h0m0 269h0m0 48h0m0 0h0m0 29h0m0 3h0m0 4h0m0 9h0m0 11h0m1 -129h0m0 34h0m0 13h0m0 4h0m0 18h0m0 5h0m0 15h0m0 23h0m0 13h0m0 5h0m0 13h0m1 -222h0m0 76h0m0 8h0m0 31h0m0 49h0m0 28h0m0 9h0m1 -142h0m0 25h0m0 15h0m0 1h0m0 15h0m0 21h0m0 4h0m0 15h0m0 0h0m0 1h0m0 25h0m0 16h0m0 4h0m1 -254h0m0 25h0m0 147h0m0 9h0m0 5h0m0 43h0m0 2h0m0 10h0m1 -103h0m0 12h0m0 5h0m0 9h0m0 10h0m0 1h0m0 1h0m0 0h0m0 0h0m0 11h0m0 3h0m0 3h0m0 10h0m0 8h0m0 11h0m0 6h0m0 13h0m0 22h0m0 5h0m1 -87h0m0 4h0m0 6h0m0 5h0m0 6h0m0 6h0m0 7h0m0 5h0m0 8h0m0 4h0m0 14h0m0 18h0m0 11h0m1 -191h0m0 38h0m0 3h0m0 35h0m0 0h0m0 9h0m0 4h0m0 25h0m0 35h0m0 14h0m0 8h0m0 1h0m0 15h0m1 -135h0m0 10h0m0 15h0m0 20h0m0 3h0m0 7h0m0 1h0m0 1h0m0 10h0m0 0h0m0 22h0m0 6h0m0 38h0m0 7h0m1 -117h0m0 20h0m0 72h0m0 1h0m0 2h0m0 5h0m1 -154h0m0 16h0m0 36h0m0 11h0m0 5h0m0 70h0m1 -129h0m0 38h0m0 38h0m0 14h0m0 19h0m0 0h0m0 3h0m0 1h0m0 20h0m0 11h0m0 17h0m1 -141h0m0 15h0m0 39h0m0 5h0m0 1h0m0 27h0m0 19h0m1 -274h0m0 151h0m0 7h0m0 17h0m0 19h0m0 22h0m0 27h0m0 22h0m0 46h0m1 -159h0m0 58h0m0 29h0m0 15h0m0 5h0m0 5h0m1 -152h0m0 75h0m0 11h0m0 1h0m0 0h0m0 4h0m0 2h0m0 11h0m0 10h0m0 15h0m0 6h0m0 19h0m0 13h0m0 1h0m0 26h0m1 -305h0m0 205h0m0 5h0m0 13h0m0 5h0m0 3h0m0 18h0m0 5h0m0 30h0m0 4h0m0 21h0m1 -243h0m0 68h0m0 60h0m0 20h0m0 10h0m0 27h0m0 32h0m0 3h0m1 -170h0m0 36h0m0 39h0m0 1h0m0 2h0m0 16h0m0 1h0m0 12h0m0 5h0m0 2h0m0 2h0m0 3h0m0 37h0m0 17h0m0 3h0m0 16h0m1 -136h0m0 8h0m0 1h0m0 20h0m0 4h0m0 30h0m0 4h0m0 2h0m0 10h0m0 6h0m0 17h0m0 7h0m0 3h0m0 1h0m0 10h0m0 4h0m0 6h0m0 5h0m1 -145h0m0 22h0m0 15h0m0 5h0m0 1h0m0 3h0m0 34h0m0 7h0m0 3h0m0 14h0m0 15h0m1 -80h0m0 8h0m0 19h0m0 2h0m0 14h0m0 47h0m1 -124h0m0 1h0m0 23h0m0 10h0m0 5h0m0 16h0m0 5h0m0 11h0m0 2h0m0 5h0m0 35h0m0 5h0m0 22h0m1 -268h0m0 88h0m0 24h0m0 35h0m0 4h0m0 2h0m0 3h0m0 14h0m0 0h0m0 25h0m0 35h0m0 28h0m0 7h0m1 -135h0m0 35h0m0 11h0m0 15h0m0 2h0m0 17h0m0 26h0m0 16h0m0 6h0m0 8h0m1 -142h0m0 2h0m0 20h0m0 81h0m0 26h0m0 1h0m1 -117h0m0 14h0m0 2h0m0 16h0m0 23h0m0 24h0m0 38h0m1 -105h0m0 27h0m0 10h0m0 9h0m0 18h0m0 12h0m0 13h0m0 5h0m0 2h0m0 7h0m0 16h0m1 -430h0m0 250h0m0 3h0m0 28h0m0 20h0m0 34h0m0 19h0m0 2h0m0 14h0m0 4h0m0 7h0m0 4h0m0 15h0m0 1h0m1 -120h0m0 7h0m0 40h0m0 2h0m0 2h0m0 5h0m0 3h0m0 10h0m0 7h0m0 7h0m0 18h0m0 19h0m0 17h0m0 12h0m1 -170h0m0 25h0m0 9h0m0 4h0m0 2h0m0 17h0m0 0h0m0 5h0m0 8h0m0 30h0m0 11h0m0 1h0m0 0h0m0 5h0m0 6h0m0 1h0m0 10h0m0 28h0m0 5h0m1 -104h0m0 13h0m0 2h0m0 19h0m0 2h0m0 8h0m0 6h0m0 35h0m0 11h0m1 -180h0m0 14h0m0 28h0m0 32h0m0 2h0m0 0h0m0 4h0m0 6h0m0 12h0m0 37h0m0 14h0m0 24h0m0 6h0m1 -215h0m0 69h0m0 5h0m0 35h0m0 13h0m0 15h0m0 10h0m0 7h0m0 13h0m0 41h0m0 1h0m1 -160h0m0 20h0m0 50h0m0 5h0m0 5h0m0 28h0m0 5h0m0 17h0m0 0h0m0 3h0m0 10h0m0 8h0m1 -98h0m0 17h0m0 9h0m0 30h0m0 9h0m0 2h0m0 3h0m0 27h0m0 3h0m0 9h0m0 3h0m1 -117h0m0 30h0m0 18h0m0 11h0m0 3h0m0 3h0m0 5h0m0 12h0m0 3h0m0 11h0m0 11h0m0 4h0m1 -102h0m0 14h0m0 7h0m0 8h0m0 19h0m0 29h0m0 1h0m0 1h0m0 5h0m0 2h0m0 20h0m1 -185h0m0 28h0m0 22h0m0 29h0m0 0h0m0 1h0m0 26h0m0 8h0m0 14h0m0 10h0m0 8h0m0 27h0m0 1h0m1 -215h0m0 57h0m0 71h0m0 15h0m0 3h0m0 3h0m0 5h0m0 0h0m0 8h0m0 5h0m0 43h0m1 -127h0m0 28h0m0 6h0m0 15h0m0 9h0m0 22h0m0 22h0m0 3h0m0 1h0m0 5h0m0 6h0m0 12h0m0 11h0m0 4h0m1 -75h0m0 18h0m0 4h0m0 5h0m0 7h0m0 13h0m0 1h0m0 36h0m0 6h0m1 -153h0m0 4h0m0 47h0m0 12h0m0 6h0m0 10h0m0 10h0m0 0h0m0 9h0m1 -87h0m0 13h0m0 36h0m0 13h0m0 6h0m0 13h0m0 4h0m0 7h0m0 23h0m0 11h0m1 -355h0m0 150h0m0 5h0m0 82h0m0 24h0m0 10h0m0 17h0m0 12h0m0 18h0m0 3h0m0 19h0m0 4h0m0 2h0m0 10h0m1 -95h0m0 0h0m0 3h0m0 5h0m0 13h0m0 5h0m0 5h0m0 25h0m0 23h0m0 27h0m0 1h0m1 -464h0m0 355h0m0 30h0m0 3h0m0 18h0m0 7h0m0 3h0m0 1h0m0 3h0m0 5h0m0 3h0m0 2h0m0 4h0m0 15h0m0 6h0m1 -130h0m0 39h0m0 12h0m0 7h0m0 17h0m0 39h0m0 1h0m0 3h0m0 4h0m1 -362h0m0 237h0m0 36h0m0 13h0m0 29h0m0 15h0m0 8h0m0 6h0m0 1h0m0 1h0m0 35h0m0 1h0m1 -180h0m0 25h0m0 12h0m0 14h0m0 5h0m0 3h0m0 9h0m0 11h0m0 13h0m0 14h0m0 7h0m0 30h0m0 6h0m0 18h0m0 11h0m1 -142h0m0 34h0m0 7h0m0 4h0m0 16h0m0 1h0m0 9h0m0 14h0m0 0h0m0 6h0m0 28h0m0 7h0m0 2h0m1 -288h0m0 173h0m0 2h0m0 6h0m0 6h0m0 40h0m0 6h0m0 3h0m0 19h0m0 19h0m0 15h0m0 4h0m0 1h0m1 -115h0m0 34h0m0 26h0m0 4h0m0 17h0m0 8h0m1 -213h0m0 111h0m0 23h0m0 5h0m0 6h0m0 17h0m0 8h0m0 6h0m0 4h0m0 11h0m0 2h0m0 9h0m0 19h0m0 15h0m0 12h0m1 -172h0m0 57h0m0 2h0m0 10h0m0 16h0m0 14h0m0 2h0m0 12h0m0 4h0m0 6h0m0 3h0m0 1h0m0 1h0m0 7h0m0 7h0m0 10h0m0 6h0m0 4h0m1 -124h0m0 29h0m0 4h0m0 4h0m0 19h0m0 9h0m0 5h0m0 24h0m0 2h0m0 1h0m1 -165h0m0 49h0m0 21h0m0 11h0m0 11h0m0 1h0m0 1h0m0 12h0m0 7h0m0 3h0m0 7h0m0 16h0m0 1h0m0 17h0m0 41h0m1 -385h0m0 277h0m0 22h0m0 10h0m0 16h0m0 5h0m0 9h0m0 1h0m0 0h0m0 3h0m0 45h0m0 1h0m1 -148h0m0 36h0m0 4h0m0 4h0m0 1h0m0 4h0m0 10h0m0 30h0m0 10h0m0 3h0m0 19h0m0 5h0m0 17h0m1 -129h0m0 30h0m0 1h0m0 36h0m0 21h0m0 3h0m1 -198h0m0 129h0m0 7h0m0 7h0m0 11h0m0 0h0m0 25h0m0 44h0m0 1h0m1 -290h0m0 182h0m0 4h0m0 1h0m0 18h0m0 11h0m0 9h0m0 39h0m0 16h0m0 20h0m1 -369h0m0 230h0m0 50h0m0 10h0m0 10h0m0 5h0m0 14h0m1 -114h0m0 51h0m0 2h0m0 1h0m0 46h0m0 12h0m0 11h0m0 12h0m0 2h0m0 4h0m0 10h0m0 20h0m1 -364h0m0 174h0m0 11h0m0 66h0m0 4h0m0 58h0m0 2h0m0 24h0m1 -122h0m0 20h0m0 17h0m0 54h0m0 6h0m0 1h0m0 22h0m0 12h0m0 7h0m1 -118h0m0 0h0m0 12h0m0 29h0m0 7h0m0 19h0m0 1h0m0 17h0m0 4h0m0 3h0m0 0h0m0 5h0m0 1h0m0 17h0m0 6h0m1 -140h0m0 11h0m0 17h0m0 8h0m0 13h0m0 21h0m0 2h0m0 1h0m0 5h0m0 3h0m0 46h0m1 -113h0m0 22h0m0 3h0m0 5h0m0 26h0m0 10h0m0 12h0m0 2h0m0 1h0m0 2h0m0 35h0m1 -182h0m0 31h0m0 36h0m0 19h0m0 18h0m0 2h0m0 27h0m0 0h0m0 7h0m0 0h0m0 3h0m0 6h0m0 3h0m0 6h0m0 13h0m1 -123h0m0 37h0m0 17h0m0 33h0m0 2h0m0 4h0m0 3h0m0 41h0m0 10h0m1 -207h0m0 4h0m0 31h0m0 52h0m0 26h0m0 25h0m0 11h0m0 20h0m0 9h0m0 5h0m1 -119h0m0 22h0m0 27h0m0 41h0m0 9h0m0 18h0m0 13h0m0 5h0m1 -155h0m0 56h0m0 8h0m0 5h0m0 9h0m0 21h0m0 3h0m0 0h0m0 22h0m0 29h0m0 2h0m1 -180h0m0 0h0m0 36h0m0 2h0m0 5h0m0 5h0m0 30h0m0 0h0m0 10h0m0 4h0m0 12h0m0 29h0m0 8h0m0 5h0m0 15h0m1 -384h0m0 205h0m0 55h0m0 22h0m0 15h0m0 9h0m0 9h0m0 29h0m0 10h0m0 3h0m0 7h0m0 26h0m0 4h0m0 13h0m1 -133h0m0 4h0m0 11h0m0 20h0m0 5h0m0 5h0m0 15h0m0 2h0m0 8h0m0 10h0m0 0h0m0 9h0m0 27h0m0 0h0m1 -51h0m0 17h0m0 1h0m0 6h0m0 14h0m1 -275h0m0 52h0m0 4h0m0 18h0m0 28h0m0 4h0m0 63h0m0 19h0m0 3h0m0 9h0m0 6h0m0 7h0m0 5h0m0 25h0m0 10h0m0 13h0m0 1h0m0 7h0m1 -73h0m0 4h0m0 9h0m0 13h0m0 2h0m0 7h0m0 14h0m0 5h0m0 0h0m0 20h0m0 8h0m0 19h0m1 -395h0m0 258h0m0 0h0m0 39h0m0 14h0m0 2h0m0 0h0m0 7h0m0 2h0m0 14h0m0 2h0m0 1h0m0 5h0m0 5h0m0 2h0m0 3h0m0 1h0m0 28h0m1 -324h0m0 181h0m0 34h0m0 15h0m0 14h0m0 21h0m0 14h0m0 10h0m0 2h0m0 9h0m0 27h0m0 2h0m0 3h0m1 -111h0m0 4h0m0 30h0m0 19h0m0 13h0m0 26h0m0 0h0m1 -109h0m0 9h0m0 52h0m0 5h0m0 18h0m0 9h0m0 2h0m0 41h0m1 -300h0m0 189h0m0 3h0m0 8h0m0 24h0m0 20h0m0 5h0m0 13h0m0 5h0m0 1h0m0 22h0m1 -143h0m0 29h0m0 9h0m0 9h0m0 1h0m0 17h0m0 4h0m0 3h0m0 6h0m0 12h0m0 4h0m0 30h0m0 20h0m1 -128h0m0 23h0m0 5h0m0 2h0m0 8h0m0 23h0m0 10h0m0 3h0m0 11h0m0 11h0m0 9h0m1 -160h0m0 20h0m0 53h0m0 8h0m0 8h0m0 3h0m0 12h0m0 0h0m0 9h0m0 0h0m0 11h0m0 13h0m0 2h0m0 5h0m0 6h0m0 1h0m0 24h0m0 2h0m0 3h0m1 -98h0m0 23h0m0 1h0m0 21h0m0 4h0m0 5h0m0 8h0m1 -167h0m0 98h0m0 33h0m0 46h0m0 21h0m1 -195h0m0 104h0m0 0h0m0 9h0m0 5h0m0 2h0m0 17h0m0 3h0m0 2h0m0 9h0m1 -83h0m0 44h0m0 15h0m0 3h0m0 1h0m0 4h0m0 19h0m0 4h0m0 12h0m0 17h0m0 10h0m0 2h0m1 -100h0m0 10h0m0 8h0m0 8h0m0 13h0m0 21h0m0 9h0m0 29h0m0 17h0m1 -98h0m0 13h0m0 6h0m0 10h0m0 2h0m0 10h0m0 5h0m0 4h0m0 13h0m1 -114h0m0 32h0m0 2h0m0 34h0m0 18h0m0 52h0m0 2h0m0 1h0m0 0h0m1 -119h0m0 21h0m0 7h0m0 1h0m0 4h0m0 17h0m0 7h0m0 7h0m0 6h0m0 8h0m0 3h0m0 9h0m0 27h0m0 1h0m0 5h0m1 -224h0m0 84h0m0 1h0m0 10h0m0 35h0m0 14h0m0 11h0m0 20h0m0 6h0m0 6h0m0 3h0m1 -98h0m0 25h0m0 25h0m0 33h0m0 15h0m0 1h0m0 7h0m0 28h0m1 -187h0m0 32h0m0 27h0m0 31h0m0 2h0m0 16h0m0 19h0m0 4h0m0 9h0m0 8h0m0 8h0m0 11h0m0 11h0m1 -112h0m0 3h0m0 7h0m0 4h0m0 0h0m0 23h0m0 3h0m0 30h0m0 3h0m0 1h0m0 15h0m1 -31h0m0 10h0m0 6h0m0 10h0m0 2h0m0 4h0m0 4h0m0 6h0m0 11h0m0 14h0m1 -217h0m0 93h0m0 2h0m0 6h0m0 7h0m0 2h0m0 1h0m0 1h0m0 10h0m0 11h0m0 26h0m0 10h0m0 0h0m0 27h0m0 11h0m1 -159h0m0 41h0m0 17h0m0 34h0m0 10h0m0 18h0m0 16h0m0 0h0m0 5h0m0 7h0m1 -128h0m0 41h0m0 2h0m0 3h0m0 17h0m0 15h0m0 11h0m0 6h0m0 31h0m1 -118h0m0 6h0m0 15h0m0 11h0m0 18h0m0 16h0m0 4h0m0 12h0m0 8h0m0 18h0m0 5h0m0 11h0m0 10h0m1 -119h0m0 1h0m0 15h0m0 21h0m0 31h0m0 7h0m0 14h0m0 7h0m0 4h0m0 20h0m1 -116h0m0 66h0m0 6h0m0 8h0m0 5h0m0 13h0m0 15h0m1 -115h0m0 7h0m0 0h0m0 8h0m0 3h0m0 2h0m0 0h0m0 7h0m0 4h0m0 3h0m0 14h0m0 1h0m0 17h0m0 35h0m0 18h0m1 -87h0m0 7h0m0 1h0m0 18h0m0 12h0m0 12h0m0 14h0m0 16h0m1 -120h0m0 17h0m0 9h0m0 30h0m0 5h0m0 5h0m0 18h0m0 8h0m0 2h0m0 7h0m1 -117h0m0 33h0m0 1h0m0 1h0m0 2h0m0 7h0m0 15h0m0 8h0m0 0h0m0 5h0m0 1h0m0 41h0m0 2h0m0 17h0m0 2h0m0 1h0m1 -299h0m0 200h0m0 0h0m0 4h0m0 17h0m0 11h0m0 11h0m0 21h0m0 17h0m0 5h0m0 15h0m1 -143h0m0 7h0m0 39h0m0 12h0m0 7h0m0 11h0m0 2h0m0 8h0m0 15h0m0 4h0m0 2h0m0 23h0m0 6h0m1 -118h0m0 25h0m0 2h0m0 5h0m0 47h0m0 4h0m0 10h0m0 8h0m0 20h0m1 -144h0m0 47h0m0 7h0m0 19h0m0 28h0m0 1h0m0 4h0m0 4h0m1 -164h0m0 69h0m0 19h0m0 19h0m0 3h0m0 23h0m0 15h0m0 17h0m0 15h0m1 -109h0m0 12h0m0 21h0m0 2h0m0 1h0m0 18h0m0 6h0m0 7h0m0 2h0m0 16h0m0 26h0m0 17h0m1 -158h0m0 41h0m0 29h0m0 2h0m0 50h0m0 22h0m0 4h0m0 20h0m1 -198h0m0 42h0m0 8h0m0 23h0m0 23h0m0 1h0m0 3h0m0 6h0m0 6h0m0 9h0m0 7h0m0 12h0m0 1h0m0 17h0m0 19h0m0 23h0m1 -426h0m0 262h0m0 59h0m0 22h0m0 14h0m0 9h0m0 8h0m0 2h0m0 2h0m0 16h0m0 27h0m0 1h0m1 -387h0m0 217h0m0 2h0m0 4h0m0 86h0m0 2h0m0 3h0m0 1h0m0 18h0m0 14h0m0 8h0m0 14h0m0 14h0m0 8h0m1 -309h0m0 143h0m0 54h0m0 4h0m0 1h0m0 26h0m0 3h0m0 10h0m0 38h0m0 4h0m0 0h0m0 12h0m1 -131h0m0 0h0m0 3h0m0 3h0m0 39h0m0 3h0m0 43h0m0 9h0m0 3h0m0 5h0m0 4h0m0 16h0m1 -90h0m0 6h0m0 3h0m0 15h0m0 6h0m0 11h0m0 7h0m0 7h0m0 41h0m1 -73h0m0 19h0m0 10h0m0 4h0m0 3h0m0 9h0m0 36h0m1 -293h0m0 140h0m0 28h0m0 2h0m0 11h0m0 1h0m0 45h0m0 47h0m0 0h0m1 -180h0m0 1h0m0 73h0m0 10h0m0 0h0m0 5h0m0 11h0m0 17h0m0 11h0m0 1h0m0 16h0m1 -373h0m0 265h0m0 15h0m0 42h0m0 13h0m0 4h0m0 4h0m0 12h0m0 7h0m0 12h0m0 1h0m0 39h0m1 -186h0m0 39h0m0 51h0m0 20h0m0 17h0m0 9h0m0 29h0m0 5h0m0 6h0m1 -172h0m0 57h0m0 7h0m0 10h0m0 36h0m0 7h0m0 14h0m0 10h0m0 1h0m0 1h0m0 21h0m0 5h0m0 29h0m1 -161h0m0 19h0m0 26h0m0 3h0m0 6h0m0 9h0m0 24h0m0 23h0m0 1h0m0 4h0m0 20h0m1 -102h0m0 10h0m0 2h0m0 41h0m0 31h0m0 3h0m0 37h0m1 -150h0m0 44h0m0 2h0m0 18h0m0 3h0m0 1h0m0 2h0m0 5h0m0 7h0m0 21h0m0 1h0m0 2h0m0 8h0m0 12h0m0 8h0m1 -121h0m0 3h0m0 32h0m0 3h0m0 2h0m0 26h0m0 0h0m0 38h0m0 25h0m1 -203h0m0 85h0m0 18h0m0 9h0m0 11h0m0 1h0m0 10h0m0 1h0m0 9h0m0 3h0m0 11h0m0 13h0m0 3h0m0 28h0m0 2h0m0 2h0m1 -149h0m0 11h0m0 29h0m0 44h0m0 7h0m0 9h0m0 3h0m0 4h0m0 4h0m0 2h0m0 0h0m0 4h0m0 15h0m0 9h0m1 -129h0m0 11h0m0 6h0m0 20h0m0 8h0m0 3h0m0 21h0m0 1h0m0 3h0m0 0h0m0 5h0m0 14h0m0 8h0m0 1h0m0 31h0m0 12h0m1 -241h0m0 115h0m0 1h0m0 9h0m0 10h0m0 1h0m0 6h0m0 5h0m0 3h0m0 2h0m0 5h0m0 8h0m0 17h0m0 1h0m0 57h0m1 -123h0m0 5h0m0 14h0m0 11h0m0 19h0m0 3h0m0 1h0m0 0h0m0 22h0m0 29h0m0 21h0m1 -130h0m0 13h0m0 7h0m0 1h0m0 20h0m0 26h0m0 3h0m0 1h0m0 3h0m0 15h0m0 2h0m0 35h0m1 -124h0m0 22h0m0 2h0m0 27h0m0 16h0m0 10h0m0 6h0m0 6h0m0 2h0m1 -139h0m0 12h0m0 25h0m0 51h0m0 3h0m0 1h0m0 19h0m0 6h0m0 4h0m0 8h0m0 20h0m1 -412h0m0 273h0m0 28h0m0 11h0m0 2h0m0 25h0m0 57h0m0 10h0m0 2h0m0 4h0m0 6h0m0 13h0m1 -155h0m0 50h0m0 6h0m0 45h0m0 4h0m0 7h0m0 14h0m1 -94h0m0 85h0m0 8h0m0 18h0m0 8h0m1 -117h0m0 9h0m0 11h0m0 7h0m0 13h0m0 7h0m0 11h0m0 15h0m0 3h0m0 3h0m0 4h0m0 7h0m0 12h0m0 19h0m1 -146h0m0 7h0m0 12h0m0 19h0m0 20h0m0 3h0m0 9h0m0 7h0m0 14h0m0 5h0m0 11h0m0 0h0m0 2h0m0 31h0m0 9h0m0 3h0m1 -210h0m0 49h0m0 46h0m0 6h0m0 9h0m0 24h0m0 13h0m0 1h0m0 15h0m0 3h0m0 4h0m0 1h0m1 -95h0m0 16h0m0 7h0m0 0h0m0 6h0m0 2h0m0 21h0m0 8h0m0 2h0m0 7h0m0 2h0m0 3h0m0 3h0m0 20h0m0 10h0m0 0h0m0 9h0m1 -190h0m0 30h0m0 46h0m0 5h0m0 24h0m0 8h0m0 0h0m0 23h0m0 10h0m0 36h0m0 6h0m0 21h0m1 -161h0m0 32h0m0 30h0m0 14h0m0 0h0m0 34h0m0 18h0m0 2h0m0 7h0m1 -148h0m0 45h0m0 4h0m0 9h0m0 10h0m0 9h0m0 28h0m0 35h0m0 25h0m1 -274h0m0 135h0m0 33h0m0 14h0m0 3h0m0 1h0m0 2h0m0 6h0m0 11h0m0 0h0m0 3h0m0 1h0m0 7h0m0 5h0m0 7h0m0 23h0m0 2h0m0 28h0m1 -135h0m0 18h0m0 19h0m0 1h0m0 67h0m0 30h0m1 -154h0m0 2h0m0 46h0m0 12h0m0 9h0m0 1h0m0 5h0m0 13h0m0 0h0m0 10h0m0 30h0m0 2h0m0 20h0m1 -206h0m0 66h0m0 20h0m0 15h0m0 7h0m0 3h0m0 1h0m0 24h0m0 11h0m0 1h0m0 9h0m0 41h0m0 3h0m0 1h0m1 -180h0m0 76h0m0 0h0m0 3h0m0 4h0m0 1h0m0 5h0m0 3h0m0 41h0m0 7h0m0 9h0m0 2h0m0 21h0m0 5h0m1 -206h0m0 21h0m0 81h0m0 1h0m0 5h0m0 19h0m0 5h0m0 8h0m0 1h0m0 1h0m0 7h0m0 0h0m0 6h0m0 6h0m0 2h0m0 26h0m0 26h0m0 4h0m1 -137h0m0 5h0m0 21h0m0 6h0m0 4h0m0 8h0m0 14h0m0 5h0m0 3h0m0 20h0m0 11h0m0 1h0m0 7h0m1 -162h0m0 35h0m0 32h0m0 24h0m0 11h0m0 16h0m0 25h0m0 19h0m0 15h0m0 1h0m0 0h0m0 8h0m0 9h0m1 -148h0m0 25h0m0 10h0m0 1h0m0 1h0m0 2h0m0 20h0m0 17h0m0 12h0m0 8h0m0 4h0m0 33h0m0 6h0m1 -129h0m0 1h0m0 18h0m0 2h0m0 8h0m0 12h0m0 13h0m0 3h0m0 8h0m0 1h0m0 9h0m0 3h0m0 4h0m0 0h0m0 7h0m0 15h0m0 17h0m1 -103h0m0 18h0m0 23h0m0 5h0m0 3h0m0 5h0m0 0h0m0 3h0m0 5h0m0 5h0m0 2h0m0 6h0m0 0h0m0 8h0m0 33h0m0 0h0m1 -134h0m0 7h0m0 24h0m0 20h0m0 31h0m0 6h0m0 9h0m0 24h0m1 -163h0m0 100h0m0 4h0m0 10h0m0 5h0m0 0h0m0 29h0m0 15h0m1 -117h0m0 3h0m0 7h0m0 2h0m0 14h0m0 5h0m0 11h0m0 4h0m0 11h0m0 11h0m0 7h0m0 7h0m0 0h0m0 2h0m0 6h0m0 21h0m0 1h0m0 12h0m1 -195h0m0 4h0m0 75h0m0 7h0m0 7h0m0 1h0m0 10h0m0 5h0m0 30h0m0 6h0m0 5h0m0 6h0m0 3h0m0 2h0m0 4h0m0 23h0m1 -191h0m0 77h0m0 7h0m0 2h0m0 6h0m0 5h0m0 5h0m0 19h0m0 14h0m1 -105h0m0 32h0m0 23h0m0 20h0m0 31h0m0 11h0m0 26h0m0 4h0m0 4h0m0 6h0m0 20h0m1 -217h0m0 70h0m0 6h0m0 6h0m0 12h0m0 3h0m0 30h0m0 23h0m0 16h0m0 4h0m0 9h0m0 9h0m0 12h0m0 13h0m1 -187h0m0 55h0m0 14h0m0 6h0m0 20h0m0 7h0m0 6h0m0 39h0m0 29h0m1 -294h0m0 69h0m0 77h0m0 12h0m0 32h0m0 18h0m0 1h0m0 2h0m0 24h0m0 7h0m0 10h0m0 9h0m0 1h0m0 1h0m0 6h0m0 16h0m0 4h0m1 -139h0m0 32h0m0 4h0m0 6h0m0 5h0m0 46h0m0 2h0m0 8h0m0 22h0m0 9h0m0 3h0m0 17h0m1 -161h0m0 24h0m0 53h0m0 1h0m0 19h0m0 25h0m0 4h0m0 3h0m0 14h0m1 -360h0m0 254h0m0 40h0m0 0h0m0 7h0m0 2h0m0 3h0m0 3h0m0 11h0m0 13h0m0 2h0m0 21h0m0 3h0m0 1h0m1 -117h0m0 23h0m0 14h0m0 11h0m0 26h0m0 3h0m0 5h0m0 5h0m0 34h0m0 17h0m1 -191h0m0 15h0m0 55h0m0 17h0m0 36h0m0 1h0m0 4h0m0 1h0m0 9h0m0 1h0m0 4h0m0 1h0m1 -48h0m0 8h0m0 1h0m0 2h0m0 8h0m0 6h0m0 23h0m0 5h0m0 1h0m0 1h0m0 14h0m0 2h0m0 5h0m0 14h0m0 5h0m1 -211h0m0 78h0m0 14h0m0 2h0m0 6h0m0 8h0m0 15h0m0 4h0m0 17h0m0 8h0m0 3h0m0 2h0m0 9h0m0 0h0m0 4h0m0 25h0m1 -133h0m0 16h0m0 7h0m0 23h0m0 13h0m0 4h0m0 0h0m0 9h0m0 0h0m0 47h0m0 1h0m0 1h0m0 1h0m0 13h0m0 1h0m1 -160h0m0 17h0m0 27h0m0 3h0m0 18h0m0 18h0m0 8h0m0 5h0m0 8h0m0 14h0m0 4h0m0 14h0m0 8h0m0 17h0m0 13h0m1 -111h0m0 1h0m0 16h0m0 8h0m0 17h0m0 13h0m0 21h0m0 11h0m0 7h0m0 3h0m0 11h0m1 -109h0m0 2h0m0 2h0m0 7h0m0 21h0m0 1h0m0 7h0m0 3h0m0 20h0m0 6h0m0 9h0m0 6h0m1 -407h0m0 267h0m0 23h0m0 27h0m0 3h0m0 17h0m0 3h0m0 9h0m0 28h0m0 15h0m0 1h0m0 1h0m0 2h0m0 6h0m0 8h0m1 -94h0m0 3h0m0 7h0m0 9h0m0 4h0m0 2h0m0 38h0m0 14h0m0 23h0m0 9h0m1 -394h0m0 165h0m0 98h0m0 19h0m0 5h0m0 11h0m0 42h0m0 0h0m0 1h0m0 0h0m0 3h0m0 7h0m0 4h0m0 10h0m0 20h0m1 -100h0m0 1h0m0 19h0m0 11h0m0 4h0m0 5h0m0 7h0m0 38h0m0 23h0m1 -447h0m0 182h0m0 16h0m0 41h0m0 93h0m0 25h0m0 20h0m0 7h0m0 1h0m0 10h0m0 15h0m0 32h0m0 1h0m0 1h0m1 -373h0m0 234h0m0 4h0m0 19h0m0 17h0m0 37h0m0 21h0m0 2h0m0 10h0m0 15h0m0 10h0m0 14h0m0 3h0m0 2h0m1 -127h0m0 6h0m0 16h0m0 1h0m0 3h0m0 83h0m0 10h0m1 -119h0m0 16h0m0 2h0m0 1h0m0 5h0m0 18h0m0 17h0m0 4h0m0 9h0m0 9h0m0 6h0m0 10h0m0 18h0m1 -135h0m0 11h0m0 14h0m0 7h0m0 31h0m0 7h0m0 7h0m0 5h0m0 9h0m0 6h0m0 18h0m0 2h0m0 0h0m0 3h0m0 6h0m1 -226h0m0 123h0m0 7h0m0 1h0m0 27h0m0 10h0m0 9h0m0 1h0m0 3h0m0 42h0m0 15h0m0 6h0m0 1h0m1 -180h0m0 43h0m0 2h0m0 0h0m0 7h0m0 15h0m0 49h0m0 18h0m0 9h0m0 9h0m0 31h0m1 -145h0m0 51h0m0 9h0m0 8h0m0 11h0m0 6h0m0 2h0m0 1h0m0 19h0m0 2h0m0 17h0m1 -155h0m0 60h0m0 5h0m0 36h0m0 0h0m0 0h0m0 0h0m0 12h0m0 14h0m0 1h0m1 -406h0m0 344h0m0 5h0m0 14h0m0 1h0m0 12h0m0 13h0m0 18h0m0 9h0m0 13h0m0 18h0m1 -134h0m0 22h0m0 8h0m0 5h0m0 1h0m0 7h0m0 4h0m0 10h0m0 7h0m0 26h0m0 11h0m0 9h0m1 -105h0m0 9h0m0 30h0m0 3h0m0 11h0m0 0h0m0 23h0m0 20h0m0 0h0m0 24h0m1 -197h0m0 1h0m0 86h0m0 19h0m0 3h0m0 2h0m0 25h0m0 4h0m0 14h0m0 8h0m0 6h0m1 -134h0m0 48h0m0 9h0m0 2h0m0 11h0m0 2h0m0 2h0m0 25h0m0 7h0m0 5h0m0 58h0m1 -146h0m0 34h0m0 2h0m0 8h0m0 1h0m0 6h0m0 9h0m0 12h0m0 50h0m0 10h0m0 2h0m0 2h0m0 1h0m0 7h0m0 2h0m1 -162h0m0 6h0m0 17h0m0 14h0m0 28h0m0 3h0m0 14h0m0 3h0m0 6h0m0 7h0m0 18h0m0 51h0m0 2h0m1 -202h0m0 66h0m0 17h0m0 27h0m0 4h0m0 21h0m1 -102h0m0 13h0m0 51h0m0 23h0m0 29h0m0 4h0m0 1h0m0 1h0m1 -95h0m0 37h0m0 43h0m0 7h0m0 8h0m0 6h0m0 20h0m0 10h0m1 -189h0m0 30h0m0 52h0m0 11h0m0 2h0m0 26h0m0 3h0m0 4h0m0 9h0m0 6h0m0 9h0m0 9h0m0 6h0m0 19h0m1 -132h0m0 50h0m0 23h0m0 38h0m0 10h0m1 -96h0m0 35h0m0 28h0m0 10h0m0 3h0m0 8h0m0 15h0m0 5h0m0 1h0m1 -193h0m0 53h0m0 39h0m0 7h0m0 2h0m0 1h0m0 1h0m0 14h0m0 1h0m0 2h0m0 8h0m0 1h0m0 0h0m0 21h0m0 15h0m0 40h0m1 -137h0m0 18h0m0 12h0m0 1h0m0 1h0m0 19h0m0 24h0m0 1h0m0 0h0m0 14h0m0 11h0m0 16h0m1 -444h0m0 245h0m0 39h0m0 57h0m0 10h0m0 2h0m0 1h0m0 1h0m0 8h0m0 4h0m0 14h0m0 4h0m0 13h0m0 6h0m0 10h0m0 8h0m0 5h0m0 35h0m1 -170h0m0 58h0m0 2h0m0 5h0m0 10h0m0 1h0m0 3h0m0 3h0m0 4h0m0 30h0m0 7h0m0 1h0m0 1h0m0 14h0m0 24h0m0 1h0m0 8h0m1 -145h0m0 3h0m0 8h0m0 32h0m0 3h0m0 19h0m0 0h0m0 1h0m0 13h0m0 3h0m0 6h0m0 23h0m0 0h0m0 17h0m1 -190h0m0 32h0m0 36h0m0 5h0m0 0h0m0 7h0m0 3h0m0 9h0m0 18h0m0 35h0m0 42h0m1 -147h0m0 18h0m0 5h0m0 26h0m0 10h0m0 12h0m0 6h0m0 5h0m0 3h0m0 3h0m0 7h0m0 21h0m0 2h0m0 5h0m0 8h0m1 -186h0m0 102h0m0 38h0m0 10h0m0 13h0m0 7h0m0 16h0m0 4h0m0 9h0m0 2h0m1 -97h0m0 32h0m0 4h0m0 19h0m0 17h0m0 1h0m0 5h0m0 1h0m0 15h0m1 -209h0m0 120h0m0 14h0m0 9h0m0 23h0m0 35h0m0 13h0m0 7h0m0 2h0m0 5h0m0 2h0m0 2h0m1 -204h0m0 38h0m0 63h0m0 21h0m0 1h0m0 0h0m0 2h0m0 29h0m0 25h0m0 18h0m0 4h0m0 3h0m1 -129h0m0 20h0m0 39h0m0 9h0m0 14h0m0 36h0m1 -169h0m0 47h0m0 4h0m0 29h0m0 13h0m0 5h0m0 28h0m1 -165h0m0 32h0m0 54h0m0 17h0m0 4h0m0 64h0m0 13h0m1 -157h0m0 71h0m0 12h0m0 6h0m0 8h0m0 5h0m0 5h0m0 36h0m0 2h0m0 12h0m0 11h0m0 7h0m0 10h0m1 -190h0m0 85h0m0 0h0m0 8h0m0 64h0m0 40h0m1 -138h0m0 40h0m0 7h0m0 20h0m0 12h0m0 9h0m0 27h0m1 -132h0m0 29h0m0 5h0m0 11h0m0 5h0m0 5h0m0 3h0m0 5h0m0 5h0m0 14h0m0 4h0m0 8h0m0 2h0m0 14h0m0 8h0m0 10h0m0 20h0m1 -405h0m0 268h0m0 35h0m0 4h0m0 5h0m0 36h0m0 12h0m0 8h0m0 4h0m0 9h0m0 12h0m1 -159h0m0 54h0m0 6h0m0 15h0m0 0h0m0 34h0m0 1h0m0 16h0m0 11h0m0 17h0m0 4h0m0 14h0m1 -150h0m0 19h0m0 9h0m0 6h0m0 33h0m0 7h0m0 32h0m0 36h0m0 4h0m0 2h0m1 -161h0m0 35h0m0 6h0m0 13h0m0 12h0m0 43h0m0 1h0m0 15h0m0 5h0m0 17h0m0 16h0m0 4h0m1 -126h0m0 3h0m0 8h0m0 3h0m0 11h0m0 6h0m0 10h0m0 5h0m0 1h0m0 16h0m0 8h0m0 4h0m0 21h0m0 1h0m0 1h0m1 -458h0m0 281h0m0 17h0m0 39h0m0 33h0m0 18h0m0 9h0m0 2h0m0 11h0m0 1h0m0 15h0m0 4h0m0 20h0m0 0h0m0 9h0m0 8h0m1 -176h0m0 7h0m0 20h0m0 9h0m0 14h0m0 15h0m0 29h0m0 15h0m0 12h0m0 9h0m0 0h0m0 22h0m0 17h0m0 5h0m0 26h0m1 -231h0m0 26h0m0 36h0m0 50h0m0 31h0m0 37h0m1 -126h0m0 49h0m0 3h0m0 16h0m0 5h0m0 5h0m0 7h0m0 5h0m0 30h0m0 3h0m0 1h0m0 11h0m0 3h0m0 14h0m0 8h0m1 -185h0m0 33h0m0 28h0m0 7h0m0 20h0m0 1h0m0 14h0m0 19h0m0 0h0m0 8h0m0 10h0m0 16h0m0 14h0m0 9h0m0 22h0m1 -103h0m0 26h0m0 1h0m0 14h0m0 33h0m0 12h0m0 7h0m1 -141h0m0 46h0m0 4h0m0 1h0m0 2h0m0 9h0m0 18h0m0 5h0m0 11h0m0 28h0m0 23h0m0 5h0m1 -121h0m0 2h0m0 16h0m0 5h0m0 9h0m0 1h0m0 3h0m0 13h0m0 5h0m0 6h0m0 18h0m0 2h0m0 6h0m0 1h0m0 8h0m0 15h0m0 3h0m1 -151h0m0 27h0m0 11h0m0 12h0m0 5h0m0 25h0m0 1h0m0 8h0m0 8h0m0 1h0m0 14h0m0 1h0m0 8h0m0 0h0m0 2h0m0 4h0m1 -86h0m0 13h0m0 0h0m0 0h0m0 57h0m0 17h0m0 10h0m0 14h0m1 -373h0m0 244h0m0 16h0m0 6h0m0 10h0m0 2h0m0 10h0m0 0h0m0 7h0m0 6h0m0 1h0m0 5h0m0 7h0m0 15h0m0 5h0m0 10h0m0 4h0m0 10h0m0 18h0m1 -248h0m0 96h0m0 27h0m0 10h0m0 21h0m0 17h0m0 2h0m0 3h0m0 2h0m0 0h0m0 19h0m0 9h0m0 6h0m0 7h0m1 -286h0m0 112h0m0 27h0m0 53h0m0 12h0m0 3h0m0 1h0m0 7h0m0 14h0m0 12h0m0 2h0m0 7h0m0 1h0m0 5h0m0 4h0m0 52h0m1 -320h0m0 214h0m0 3h0m0 3h0m0 1h0m0 5h0m0 18h0m0 5h0m0 3h0m0 15h0m0 10h0m0 36h0m0 13h0m1 -148h0m0 39h0m0 7h0m0 6h0m0 5h0m0 16h0m0 13h0m0 7h0m0 7h0m0 6h0m0 3h0m0 29h0m1 -64h0m0 5h0m0 7h0m0 37h0m0 26h0m1 -137h0m0 2h0m0 13h0m0 10h0m0 2h0m0 2h0m0 0h0m0 8h0m0 9h0m0 26h0m0 14h0m0 6h0m0 12h0m1 -95h0m0 14h0m0 2h0m0 12h0m0 17h0m0 5h0m0 7h0m0 5h0m0 2h0m0 3h0m0 14h0m0 2h0m0 9h0m0 1h0m0 15h0m0 1h0m0 5h0m1 -126h0m0 29h0m0 6h0m0 4h0m0 40h0m0 24h0m0 8h0m0 10h0m0 7h0m0 4h0m1 -128h0m0 16h0m0 14h0m0 23h0m0 6h0m0 32h0m0 3h0m0 1h0m0 6h0m0 10h0m0 8h0m0 0h0m0 8h0m1 -123h0m0 25h0m0 35h0m0 19h0m0 14h0m0 31h0m1 -160h0m0 35h0m0 52h0m0 19h0m0 5h0m0 59h0m1 -122h0m0 3h0m0 18h0m0 11h0m0 7h0m0 0h0m0 1h0m0 8h0m0 16h0m0 23h0m0 13h0m1 -140h0m0 49h0m0 8h0m0 10h0m0 14h0m0 3h0m0 7h0m0 19h0m0 12h0m0 30h0m1 -170h0m0 61h0m0 17h0m0 0h0m0 2h0m0 2h0m0 11h0m0 11h0m0 31h0m0 9h0m0 11h0m1 -230h0m0 108h0m0 55h0m0 37h0m0 19h0m0 1h0m0 36h0m1 -216h0m0 11h0m0 42h0m0 47h0m0 6h0m0 28h0m0 37h0m0 7h0m1 -94h0m0 6h0m0 12h0m0 2h0m0 0h0m0 69h0m0 12h0m0 1h0m0 1h0m1 -438h0m0 315h0m0 23h0m0 16h0m0 8h0m0 9h0m0 18h0m0 1h0m0 12h0m0 3h0m0 14h0m0 5h0m0 14h0m0 4h0m0 2h0m1 -140h0m0 38h0m0 19h0m0 17h0m0 2h0m0 8h0m0 12h0m0 29h0m1 -188h0m0 97h0m0 5h0m0 7h0m0 2h0m0 9h0m0 5h0m0 10h0m0 57h0m0 2h0m0 5h0m0 18h0m0 1h0m1 -125h0m0 7h0m0 8h0m0 2h0m0 2h0m0 17h0m0 25h0m0 2h0m0 2h0m0 1h0m0 6h0m0 0h0m0 3h0m0 42h0m0 12h0m1 -241h0m0 89h0m0 16h0m0 46h0m0 8h0m0 7h0m0 3h0m0 16h0m0 14h0m0 1h0m0 10h0m0 2h0m1 -184h0m0 136h0m0 15h0m0 1h0m0 26h0m0 3h0m0 1h0m0 4h0m0 0h0m0 15h0m1 -130h0m0 13h0m0 6h0m0 15h0m0 17h0m0 4h0m0 6h0m0 12h0m0 13h0m0 5h0m0 30h0m0 3h0m0 2h0m1 -87h0m0 5h0m0 35h0m0 8h0m0 2h0m1 -138h0m0 23h0m0 46h0m0 2h0m0 5h0m0 2h0m0 28h0m0 8h0m0 15h0m0 6h0m0 1h0m0 21h0m1 -62h0m0 8h0m0 0h0m0 15h0m0 1h0m0 11h0m0 1h0m0 1h0m0 4h0m0 7h0m0 15h0m0 4h0m0 31h0m1 -123h0m0 8h0m0 12h0m0 10h0m0 3h0m0 9h0m0 3h0m0 7h0m0 16h0m0 4h0m0 1h0m0 13h0m0 9h0m0 1h0m1 -390h0m0 318h0m0 17h0m0 9h0m0 0h0m0 16h0m0 22h0m0 15h0m1 -96h0m0 11h0m0 22h0m0 8h0m0 6h0m0 2h0m0 3h0m0 14h0m0 0h0m0 3h0m0 5h0m0 1h0m0 2h0m0 34h0m1 -143h0m0 25h0m0 6h0m0 6h0m0 7h0m0 2h0m0 35h0m0 2h0m0 11h0m0 2h0m0 13h0m0 37h0m1 -427h0m0 282h0m0 25h0m0 25h0m0 21h0m0 16h0m0 2h0m0 3h0m0 11h0m0 13h0m0 21h0m0 1h0m1 -208h0m0 83h0m0 22h0m0 10h0m0 2h0m0 1h0m0 22h0m0 8h0m0 1h0m0 16h0m0 7h0m0 10h0m0 21h0m0 5h0m0 2h0m0 0h0m0 3h0m0 3h0m1 -146h0m0 9h0m0 1h0m0 1h0m0 6h0m0 18h0m0 5h0m0 4h0m0 9h0m0 2h0m0 32h0m0 19h0m0 3h0m0 6h0m0 17h0m0 2h0m1 -172h0m0 52h0m0 8h0m0 10h0m0 8h0m0 18h0m0 5h0m0 3h0m0 6h0m0 2h0m0 4h0m0 16h0m0 8h0m0 12h0m0 2h0m0 10h0m1 -135h0m0 16h0m0 17h0m0 24h0m0 12h0m0 19h0m0 14h0m0 4h0m0 1h0m0 7h0m0 12h0m0 6h0m1 -100h0m0 6h0m0 25h0m0 14h0m0 2h0m0 2h0m0 8h0m0 27h0m0 2h0m1 -154h0m0 7h0m0 66h0m0 0h0m0 24h0m0 2h0m0 45h0m0 8h0m0 16h0m0 11h0m1 -142h0m0 33h0m0 14h0m0 4h0m0 30h0m0 0h0m0 20h0m0 11h0m0 18h0m0 7h0m0 12h0m1 -152h0m0 15h0m0 38h0m0 13h0m0 0h0m0 40h0m0 4h0m0 12h0m0 18h0m1 -173h0m0 69h0m0 1h0m0 5h0m0 42h0m0 1h0m0 10h0m0 50h0m0 7h0m1 -82h0m0 47h0m0 2h0m0 10h0m0 29h0" fill="none" stroke="#55a688" stroke-width="2.2" stroke-linecap="round" stroke-opacity="0.62"/><path transform="scale(.5)" d="M0 0m5158 2882h0m0 41h0m0 16h0m0 29h0m0 5h0m0 19h0m1 -121h0m0 35h0m0 47h0m0 40h0m1 -59h0m0 11h0m1 -77h0m0 51h0m0 40h0m1 -92h0m0 33h0m0 16h0m0 20h0m0 7h0m0 2h0m2 61h0m2 -122h0m0 11h0m0 27h0m0 4h0m0 10h0m1 -65h0m0 81h0m0 7h0m1 -75h0m0 3h0m0 19h0m0 4h0m1 -30h0m0 29h0m0 22h0m0 3h0m0 18h0m0 5h0m1 -89h0m0 43h0m0 24h0m1 20h0m0 16h0m0 30h0m0 15h0m1 -83h0m0 14h0m1 -36h0m0 29h0m1 -13h0m0 5h0m0 0h0m0 9h0m0 11h0m0 12h0m0 14h0m0 18h0m0 11h0m1 -73h0m1 -52h0m0 99h0m1 -113h0m0 14h0m0 34h0m0 17h0m1 -4h0m0 65h0m0 4h0m0 3h0m1 -108h0m0 39h0m0 64h0m1 -78h0m0 78h0m0 21h0m1 -125h0m0 10h0m0 8h0m0 14h0m0 1h0m0 22h0m0 10h0m0 42h0m1 -112h0m0 0h0m0 1h0m0 108h0m0 20h0m1 -141h0m0 4h0m0 12h0m0 1h0m0 7h0m0 33h0m0 3h0m0 8h0m0 1h0m0 43h0m1 -55h0m0 4h0m0 58h0m1 -100h0m0 44h0m0 76h0m1 -142h0m0 3h0m0 127h0m0 5h0m1 -136h0m0 24h0m0 5h0m0 4h0m0 34h0m1 -5h0m0 2h0m1 -66h0m0 109h0m1 -91h0m0 2h0m0 20h0m0 22h0m0 19h0m0 33h0m1 -102h0m0 21h0m0 1h0m0 3h0m0 7h0m0 30h0m0 0h0m0 4h0m0 59h0m1 -134h0m0 12h0m0 18h0m0 5h0m0 4h0m0 13h0m1 -53h0m0 2h0m0 2h0m0 61h0m0 40h0m0 10h0m0 3h0m1 -85h0m0 2h0m0 63h0m0 1h0m0 42h0m1 -67h0m0 8h0m0 51h0m0 11h0m1 -138h0m0 2h0m0 72h0m0 12h0m1 -94h0m0 82h0m0 3h0m0 18h0m0 0h0m1 -87h0m0 11h0m0 75h0m0 4h0m0 9h0m0 4h0m1 -114h0m0 124h0m1 -121h0m0 30h0m0 9h0m1 -37h0m0 28h0m0 2h0m0 25h0m0 18h0m0 17h0m1 -102h0m0 4h0m0 34h0m0 3h0m0 6h0m0 14h0m0 71h0m0 0h0m0 5h0m1 -111h0m0 35h0m0 10h0m0 34h0m0 3h0m0 4h0m1 -4h0m0 21h0m1 -110h0m0 10h0m0 12h0m0 19h0m0 36h0m0 54h0m1 -150h0m0 73h0m0 8h0m1 -74h0m0 20h0m0 19h0m0 51h0m0 15h0m0 10h0m0 7h0m1 -128h0m0 8h0m0 18h0m0 10h0m0 25h0m1 -61h0m0 7h0m0 23h0m0 45h0m0 34h0m0 2h0m1 -90h0m0 1h0m0 6h0m0 46h0m0 8h0m0 2h0m1 -65h0m0 21h0m0 30h0m0 5h0m0 4h0m0 5h0m0 5h0m0 1h0m0 29h0m1 -120h0m0 9h0m0 27h0m0 29h0m0 13h0m0 53h0m1 -122h0m0 1h0m0 8h0m0 3h0m0 2h0m0 9h0m0 4h0m0 11h0m0 50h0m0 5h0m0 1h0m1 -100h0m0 24h0m1 -25h0m0 18h0m0 5h0m0 33h0m0 19h0m1 -15h0m0 67h0m0 10h0m1 -133h0m0 28h0m0 55h0m0 39h0m1 -4h0m1 -118h0m0 51h0m0 78h0m0 7h0m1 -122h0m0 8h0m0 39h0m0 45h0m1 -105h0m0 32h0m0 61h0m0 47h0m1 -87h0m0 34h0m1 40h0m1 -126h0m0 34h0m0 9h0m0 15h0m0 18h0m0 9h0m0 5h0m0 12h0m0 10h0m1 -96h0m0 34h0m0 12h0m0 8h0m0 2h0m0 8h0m1 -40h0m0 14h0m0 5h0m0 11h0m0 2h0m0 17h0m0 10h0m1 -93h0m0 43h0m0 41h0m1 -58h0m0 2h0m0 37h0m0 43h0m1 -115h0m0 82h0m1 -68h0m0 7h0m0 3h0m0 30h0m0 27h0m1 -63h0m0 32h0m0 41h0m0 2h0m1 -30h0m0 10h0m0 12h0m0 9h0m0 1h0m1 -97h0m1 3h0m0 50h0m0 15h0m0 14h0m0 45h0m0 6h0m0 5h0m2 -137h0m0 82h0m0 12h0m0 17h0m0 6h0m1 -26h0m1 -63h0m0 32h0m0 22h0m1 -43h0m0 68h0m0 21h0m0 14h0m1 -148h0m0 10h0m0 85h0m0 16h0m0 1h0m1 -5h0m0 2h0m0 22h0m1 -111h0m0 14h0m0 4h0m0 28h0m0 7h0m0 20h0m1 -36h0m0 1h0m1 -26h0m0 4h0m0 9h0m0 5h0m0 6h0m0 37h0m0 27h0m0 29h0m1 -147h0m0 17h0m0 9h0m0 44h0m0 17h0m0 13h0m0 0h0m1 -36h0m0 33h0m0 19h0m1 -65h0m0 17h0m0 31h0m0 11h0m0 1h0m0 32h0m1 -132h0m0 91h0m0 5h0m0 5h0m1 -111h0m0 44h0m1 -38h0m0 5h0m0 34h0m0 30h0m1 -72h0m0 15h0m0 21h0m0 9h0m0 55h0m1 -75h0m0 47h0m0 21h0m0 1h0m0 42h0m0 1h0m2 -106h0m0 23h0m0 1h0m0 36h0m1 -85h0m0 41h0m0 11h0m0 14h0m0 6h0m0 3h0m0 8h0m0 43h0m1 -133h0m0 40h0m0 15h0m0 52h0m1 21h0m0 7h0m1 -122h0m0 3h0m0 7h0m0 12h0m0 7h0m0 5h0m0 12h0m1 -49h0m0 64h0m0 5h0m0 65h0m1 -125h0m0 11h0m0 23h0m0 30h0m0 55h0m1 -73h0m0 29h0m0 43h0m1 -133h0m0 0h0m0 2h0m0 30h0m0 35h0m0 47h0m1 -101h0m0 40h0m0 45h0m0 14h0m1 -89h0m0 21h0m1 -28h0m1 -19h0m0 41h0m0 28h0m0 16h0m0 51h0m1 -142h0m0 41h0m0 2h0m0 8h0m1 -21h0m0 7h0m0 11h0m0 7h0m0 20h0m0 9h0m0 17h0m1 -56h0m0 35h0m1 -67h0m0 23h0m0 56h0m1 -8h0m0 29h0m0 13h0m1 -90h0m0 5h0m0 9h0m0 7h0m1 -49h0m0 54h0m0 20h0m0 27h0m0 18h0m1 -75h0m0 8h0m0 20h0m0 1h0m0 59h0m1 -46h0m0 3h0m0 31h0m1 -89h0m1 -31h0m0 32h0m0 61h0m1 -83h0m0 7h0m0 39h0m0 5h0m0 37h0m0 24h0m1 -122h0m0 7h0m0 32h0m0 1h0m0 40h0m0 23h0m0 28h0m1 -119h0m1 0h0m0 40h0m0 16h0m1 -2h0m0 4h0m0 18h0m1 -89h0m0 12h0m0 5h0m0 43h0m0 32h0m0 19h0m1 -112h0m0 20h0m0 75h0m0 14h0m1 -104h0m0 8h0m0 57h0m0 59h0m0 12h0m1 -144h0m0 44h0m1 1h0m0 7h0m0 28h0m0 29h0m1 -38h0m0 5h0m0 20h0m0 0h0m0 14h0m0 1h0m1 -92h0m0 83h0m1 -82h0m0 10h0m1 -19h0m0 66h0m0 6h0m0 22h0m0 1h0m0 13h0m0 9h0m1 -95h0m0 9h0m0 65h0m0 19h0m0 14h0m1 -129h0m0 7h0m0 22h0m0 13h0m0 15h0m0 28h0m1 -97h0m0 48h0m0 21h0m1 -22h0m0 21h0m0 52h0m1 -99h0m0 15h0m0 10h0m0 10h0m0 40h0m0 26h0m0 5h0m1 -119h0m0 83h0m1 -75h0m0 36h0m1 -22h0m0 42h0m0 4h0m0 1h0m0 46h0m0 13h0m1 -129h0m0 7h0m0 11h0m0 4h0m0 33h0m0 12h0m0 14h0m1 -76h0m0 23h0m0 11h0m0 5h0m0 1h0m1 -31h0m1 -16h0m0 33h0m0 42h0m0 1h0m0 41h0m1 -95h0m0 73h0m0 18h0m1 -109h0m0 30h0m0 2h0m1 -34h0m0 2h0m0 70h0m0 3h0m0 29h0m1 -98h0m0 5h0m0 5h0m0 49h0m0 1h0m0 14h0m0 4h0m0 48h0m1 -140h0m0 21h0m0 60h0m0 5h0m0 15h0m0 5h0m0 9h0m1 -95h0m0 61h0m0 46h0m1 -115h0m0 21h0m0 23h0m0 20h0m0 13h0m0 37h0m1 -119h0m0 4h0m0 15h0m0 61h0m1 -30h0m0 91h0m1 -136h0m0 31h0m0 38h0m0 8h0m1 -84h0m0 4h0m0 16h0m0 43h0m0 20h0m0 3h0m0 14h0m1 -103h0m0 83h0m0 28h0m1 -107h0m0 6h0m0 90h0m0 23h0m0 10h0m0 3h0m1 -134h0m0 27h0m0 80h0m0 18h0m1 11h0m2 -83h0m0 7h0m0 25h0m0 28h0m0 6h0m1 -97h0m0 43h0m0 13h0m1 -81h0m0 59h0m1 -50h0m0 9h0m0 10h0m0 110h0m1 -106h0m0 6h0m0 34h0m0 28h0m0 8h0m1 -80h0m0 67h0m0 28h0m1 -119h0m0 9h0m0 5h0m0 12h0m0 10h0m1 -3h0m0 54h0m1 -90h0m1 15h0m0 14h0m0 3h0m0 10h0m0 46h0m1 -88h0m0 6h0m0 44h0m0 27h0m0 23h0m0 46h0m1 -132h0m0 5h0m0 40h0m0 35h0m1 -91h0m0 42h0m0 7h0m1 59h0m1 -100h0m0 50h0m0 14h0m0 2h0m0 46h0m1 -102h0m0 33h0m0 53h0m1 -13h0m0 30h0m0 14h0m1 -139h0m0 21h0m0 13h0m0 13h0m0 35h0m0 56h0m1 -104h0m0 3h0m1 -20h0m0 79h0m0 13h0m1 -101h0m0 21h0m0 6h0m0 37h0m0 61h0m1 -85h0m0 23h0m0 4h0m0 15h0m0 11h0m0 3h0m0 9h0m0 16h0m0 3h0m1 -84h0m0 40h0m0 15h0m0 34h0m0 2h0m1 -120h0m0 23h0m0 16h0m0 29h0m0 16h0m0 6h0m0 10h0m0 14h0m0 3h0m1 -138h0m0 45h0m0 1h0m0 19h0m1 -57h0m0 28h0m0 39h0m1 -50h0m0 20h0m0 103h0m1 -143h0m0 58h0m0 4h0m0 11h0m1 -43h0m0 22h0m0 32h0m0 39h0m0 2h0m1 -126h0m0 68h0m0 42h0m1 -112h0m0 19h0m0 1h0m0 13h0m0 70h0m1 -67h0m0 8h0m0 28h0m0 59h0m0 14h0m1 -80h0m0 2h0m0 27h0m1 -90h0m0 70h0m0 8h0m0 3h0m0 33h0m0 11h0m1 -122h0m0 2h0m0 1h0m0 6h0m0 30h0m0 19h0m0 41h0m0 14h0m1 -121h0m0 122h0m1 -122h0m0 118h0m0 10h0m1 -95h0m0 11h0m0 37h0m1 -78h0m0 5h0m0 7h0m1 5h0m1 -10h0m0 20h0m0 10h0m0 21h0m0 45h0m0 7h0m0 33h0m1 -130h0m0 3h0m0 2h0m0 22h0m0 14h0m0 15h0m0 55h0m1 -98h0m0 0h0m0 2h0m0 73h0m0 7h0m1 -71h0m0 19h0m0 78h0m1 -63h0m1 -72h0m0 0h0m0 9h0m0 37h0m0 83h0m1 -94h0m0 1h0m0 44h0m0 55h0m1 -127h0m0 3h0m0 3h0m0 6h0m0 48h0m1 -53h0m0 24h0m0 51h0m1 -50h0m0 12h0m0 25h0m0 34h0m0 2h0m1 -111h0m0 53h0m0 11h0m0 11h0m1 -48h0m0 85h0m0 6h0m0 17h0m1 -121h0m0 19h0m0 65h0m0 3h0m0 16h0m0 3h0m0 1h0m1 -83h0m0 75h0m1 -105h0m0 67h0m0 8h0m1 -78h0m0 4h0m0 66h0m0 1h0m0 33h0m0 26h0m1 -100h0m1 -15h0m0 20h0m0 15h0m0 26h0m0 10h0m0 32h0m1 -96h0m0 24h0m0 5h0m0 12h0m0 49h0m1 -55h0m1 -41h0m0 61h0m0 17h0m1 -90h0m0 68h0m0 28h0m1 -100h0m0 6h0m0 27h0m0 16h0m0 17h0m0 46h0m0 8h0m1 -83h0m0 102h0m1 -128h0m0 7h0m0 27h0m0 8h0m0 8h0m0 48h0m1 -90h0m0 36h0m0 54h0m1 -105h0m0 15h0m0 22h0m0 13h0m0 1h0m0 12h0m0 8h0m1 -72h0m0 38h0m0 14h0m0 6h0m0 8h0m0 32h0m0 3h0m0 16h0m0 10h0m1 -138h0m0 4h0m0 88h0m0 1h0m0 21h0m1 -90h0m0 75h0m0 14h0m1 -102h0m0 113h0m0 20h0m1 -136h0m0 13h0m0 36h0m0 30h0m0 48h0m1 -95h0m0 63h0m0 14h0m0 6h0m1 -122h0m0 17h0m0 4h0m0 42h0m1 -60h0m0 3h0m0 23h0m0 21h0m0 4h0m1 -18h0m0 25h0m0 39h0m1 -93h0m0 2h0m0 3h0m0 80h0m0 9h0m0 27h0m0 3h0m0 6h0m1 -133h0m0 25h0m0 31h0m0 23h0m0 11h0m0 2h0m0 2h0m0 34h0m1 -119h0m0 22h0m0 6h0m0 3h0m0 35h0m0 19h0m1 -9h0m0 0h0m0 22h0m0 29h0m1 -142h0m0 16h0m0 9h0m0 35h0m1 -12h0m0 12h0m0 14h0m0 7h0m0 18h0m0 30h0m0 18h0m1 -144h0m0 0h0m0 60h0m0 6h0m1 -50h0m0 8h0m0 9h0m0 12h0m0 6h0m0 33h0m0 58h0m1 -126h0m0 84h0m0 9h0m1 -105h0m0 87h0m0 18h0m1 -103h0m0 41h0m0 26h0m0 52h0m1 -60h0m0 4h0m0 42h0m1 -74h0m0 81h0m1 -37h0m1 -62h0m0 2h0m0 12h0m0 28h0m0 6h0m0 25h0m0 7h0m1 -77h0m0 21h0m1 -7h0m0 1h0m0 25h0m0 33h0m0 16h0m1 -114h0m0 50h0m0 36h0m1 -48h0m0 38h0m1 -71h0m0 43h0m0 34h0m0 20h0m0 9h0m1 -111h0m0 59h0m0 11h0m0 14h0m1 -84h0m0 7h0m0 60h0m0 10h0m0 32h0m0 17h0m0 15h0m1 -126h0m0 39h0m0 2h0m1 -57h0m0 5h0m0 6h0m0 36h0m0 24h0m1 -65h0m0 1h0m1 5h0m0 3h0m0 6h0m0 18h0m0 11h0m0 22h0m1 -51h0m0 19h0m0 21h0m0 16h0m0 13h0m0 1h0m1 -46h0m0 30h0m0 1h0m1 -75h0m0 6h0m0 5h0m0 33h0m0 5h0m1 -28h0m0 20h0m0 2h0m0 3h0m0 3h0m0 57h0m1 -81h0m0 95h0m0 8h0m1 -126h0m0 16h0m0 51h0m0 27h0m0 6h0m0 46h0m1 -128h0m0 74h0m0 3h0m1 -78h0m0 17h0m0 27h0m0 13h0m0 15h0m0 30h0m1 -120h0m0 1h0m0 50h0m0 20h0m1 -67h0m0 92h0m0 25h0m0 20h0m1 -139h0m0 35h0m0 44h0m1 -61h0m1 41h0m0 32h0m0 21h0m0 5h0m0 16h0m1 -126h0m0 0h0m0 52h0m0 54h0m1 -116h0m0 104h0m1 -88h0m0 30h0m1 -39h0m0 6h0m0 64h0m0 31h0m0 0h0m0 35h0m1 -123h0m0 25h0m0 25h0m0 40h0m0 14h0m1 -102h0m0 1h0m0 33h0m0 57h0m0 2h0m0 20h0m0 12h0m1 -138h0m0 53h0m0 38h0m0 6h0m1 -22h0m1 -77h0m0 10h0m0 12h0m1 2h0m0 8h0m0 50h0m0 8h0m0 3h0m1 -83h0m0 32h0m0 11h0m0 18h0m0 46h0m1 -96h0m0 61h0m1 -58h0m0 12h0m0 11h0m1 -54h0m0 2h0m0 11h0m0 26h0m1 -30h0m0 39h0m0 92h0m0 8h0m1 -113h0m0 42h0m0 6h0m0 12h0m1 -92h0m0 6h0m0 6h0m0 13h0m0 91h0m0 22h0m1 -102h0m0 5h0m0 45h0m0 8h0m0 10h0m0 4h0m0 5h0m1 -112h0m0 64h0m0 31h0m1 -97h0m0 10h0m0 27h0m0 11h0m0 18h0m0 31h0m1 -86h0m0 30h0m0 12h0m0 52h0m0 12h0m1 -104h0m0 64h0m1 -64h0m0 63h0m0 18h0m1 -47h0m0 71h0m1 -111h0m0 18h0m0 16h0m1 -39h0m1 9h0m0 34h0m0 4h0m0 66h0m1 -99h0m0 16h0m0 81h0m1 -64h0m0 83h0m1 -121h0m0 130h0m1 -144h0m1 108h0m0 18h0m0 3h0m1 -111h0m0 4h0m0 7h0m0 53h0m0 16h0m0 43h0m1 -136h0m0 25h0m0 52h0m0 3h0m0 7h0m0 25h0m0 15h0m1 -132h0m0 76h0m0 59h0m1 -80h0m0 18h0m0 29h0m1 -93h0m0 63h0m0 8h0m0 24h0m0 5h0m1 -81h0m1 2h0m0 18h0m0 77h0m1 -93h0m1 -2h0m0 22h0m0 39h0m0 28h0m0 8h0m1 -86h0m0 10h0m0 11h0m0 30h0m1 -72h0m0 16h0m0 25h0m0 5h0m0 36h0m0 23h0m0 4h0m1 -87h0m0 26h0m1 -50h0m0 45h0m0 35h0m0 20h0m0 19h0m1 -103h0m0 30h0m0 21h0m0 32h0m1 -26h0m0 21h0m0 10h0m0 4h0m1 -43h0m0 8h0m0 23h0m0 4h0m1 -100h0m0 10h0m0 87h0m1 -88h0m0 69h0m0 12h0m0 15h0m1 -100h0m0 126h0m1 -50h0m0 35h0m0 6h0m1 -141h0m0 3h0m0 10h0m0 36h0m0 38h0m0 15h0m0 2h0m1 -63h0m0 69h0m0 22h0m0 11h0m1 -101h0m0 19h0m0 19h0m0 32h0m0 12h0m1 -110h0m0 1h0m0 57h0m0 12h0m1 -56h0m0 33h0m0 31h0m0 46h0m1 -133h0m0 30h0m0 44h0m0 35h0m0 18h0m0 5h0m1 -126h0m0 19h0m0 29h0m0 16h0m0 6h0m0 10h0m0 5h0m1 -64h0m0 5h0m0 85h0m1 -115h0m0 5h0m0 11h0m0 64h0m0 19h0m1 -4h0m0 17h0m1 -119h0m0 22h0m0 6h0m0 1h0m0 55h0m0 11h0m1 -89h0m0 15h0m0 77h0m1 -72h0m0 7h0m0 17h0m0 53h0m0 32h0m1 -103h0m0 21h0m0 21h0m0 3h0m0 4h0m0 53h0m1 -105h0m0 21h0m0 29h0m0 22h0m1 -34h0m1 -51h0m0 16h0m0 11h0m0 1h0m0 49h0m0 22h0m0 12h0m0 23h0m1 -123h0m1 -25h0m1 41h0m0 12h0m0 22h0m0 3h0m2 -13h0m0 2h0m0 27h0m0 3h0m1 -91h0m0 26h0m0 62h0m0 2h0m0 25h0m1 -119h0m0 133h0m1 -120h0m0 90h0m1 -106h0m0 37h0m0 71h0m0 39h0m1 -123h0m0 3h0m0 44h0m0 6h0m1 13h0m0 39h0m0 1h0m1 -112h0m0 33h0m0 13h0m0 60h0m1 -111h0m0 7h0m0 52h0m0 11h0m0 9h0m0 7h0m0 44h0m1 -136h0m0 28h0m0 10h0m0 1h0m0 11h0m0 23h0m0 62h0m0 0h0m1 -111h0m0 33h0m0 5h0m0 49h0m1 -98h0m0 19h0m0 35h0m1 -34h0m0 34h0m0 15h0m0 9h0m1 9h0m0 16h0m0 13h0m1 -131h0m0 1h0m0 51h0m1 -43h0m0 15h0m0 23h0m0 29h0m0 2h0m0 49h0m1 -123h0m0 8h0m0 7h0m0 4h0m0 30h0m0 23h0m1 -68h0m0 6h0m0 93h0m1 -82h0m0 41h0m0 44h0m0 21h0m1 -52h0m0 43h0m1 -127h0m0 71h0m0 9h0m0 32h0m1 -70h0m0 5h0m0 59h0m0 22h0m1 -42h0m1 -68h0m0 71h0m0 32h0m0 14h0m1 -96h0m0 40h0m0 52h0m0 12h0m1 -126h0m0 48h0m0 64h0m1 -93h0m1 -25h0m0 10h0m0 0h0m0 35h0m1 -47h0m0 9h0m0 20h0m0 21h0m0 14h0m0 5h0m0 19h0m0 22h0m1 -94h0m1 -21h0m0 20h0m0 58h0m1 -72h0m0 25h0m0 38h0m0 17h0m0 29h0m0 8h0m1 -108h0m0 89h0m1 -26h0m0 9h0m0 6h0m1 -82h0m0 42h0m0 29h0m0 13h0m0 33h0m1 -126h0m0 14h0m0 17h0m0 5h0m0 49h0m0 22h0m1 -91h0m0 59h0m0 29h0m1 -100h0m0 29h0m0 27h0m0 14h0m1 -64h0m0 65h0m1 -1h0m0 1h0m0 7h0m0 29h0m1 -85h0m0 27h0m0 14h0m0 0h0m0 23h0m0 23h0m1 -99h0m0 16h0m0 33h0m0 49h0m1 -106h0m0 24h0m0 30h0m0 4h0m0 1h0m1 -60h0m0 9h0m0 16h0m0 29h0m0 32h0m0 32h0m1 -117h0m0 41h0m1 -18h0m0 12h0m0 62h0m1 -95h0m0 26h0m0 14h0m0 57h0m0 28h0m1 -20h0m0 30h0m1 -120h0m1 -26h0m0 31h0m0 4h0m0 17h0m0 41h0m0 21h0m1 -70h0m1 -32h0m0 10h0m0 18h0m0 33h0m0 11h0m1 -76h0m0 32h0m0 65h0m0 14h0m1 -97h0m0 21h0m0 44h0m0 36h0m1 -112h0m0 49h0m1 -58h0m0 12h0m0 5h0m0 4h0m0 71h0m0 38h0m1 -130h0m0 14h0m0 23h0m0 45h0m0 10h0m0 12h0m0 2h0m0 24h0m1 -126h0m0 13h0m0 14h0m0 17h0m1 -20h0m0 36h0m0 29h0m1 -92h0m0 40h0m0 94h0m1 -126h0m0 31h0m0 1h0m0 44h0m0 6h0m1 -64h0m0 16h0m1 -6h0m1 -17h0m1 30h0m0 9h0m0 21h0m0 39h0m1 -124h0m0 82h0m0 55h0m1 -103h0m0 99h0m0 13h0m1 -131h0m0 14h0m1 33h0m0 22h0m1 -73h0m0 18h0m0 5h0m0 33h0m0 49h0m1 -107h0m0 9h0m0 77h0m0 49h0m1 -108h0m0 18h0m0 12h0m0 3h0m0 76h0m1 -136h0m0 66h0m1 59h0m0 8h0m0 6h0m1 -139h0m0 24h0m0 15h0m1 -40h0m0 59h0m0 10h0m0 13h0m0 8h0m0 2h0m0 41h0m1 -141h0m0 2h0m0 3h0m0 49h0m0 2h0m0 13h0m0 27h0m0 4h0m0 26h0m1 -113h0m0 48h0m0 13h0m0 23h0m0 31h0m1 -25h0m0 24h0m0 16h0m0 4h0m1 -136h0m0 11h0m0 14h0m0 52h0m1 -73h0m0 5h0m0 8h0m0 48h0m0 2h0m0 23h0m0 8h0m0 35h0m1 -131h0m0 2h0m0 64h0m0 28h0m0 8h0m0 8h0m0 14h0m1 -135h0m0 1h0m0 118h0m1 -119h0m0 25h0m0 34h0m0 31h0m0 14h0m0 7h0m0 16h0m0 2h0m1 -76h0m0 53h0m0 15h0m1 -89h0m0 0h0m0 19h0m0 11h0m0 62h0m0 9h0m0 4h0m1 -116h0m0 23h0m0 13h0m0 55h0m1 -93h0m0 55h0m0 35h0m0 1h0m0 12h0m0 9h0m1 -126h0m0 1h0m0 9h0m0 31h0m0 15h0m0 13h0m0 36h0m1 -85h0m0 15h0m0 24h0m1 -60h0m0 10h0m0 12h0m0 13h0m0 54h0m0 2h0m1 11h0m1 -82h0m0 42h0m0 22h0m1 -67h0m0 7h0m0 42h0m0 37h0m1 -96h0m0 31h0m0 75h0m1 -68h0m0 7h0m0 55h0m1 -98h0m0 18h0m0 22h0m0 51h0m1 -105h0m0 9h0m0 33h0m0 12h0m0 5h0m0 24h0m0 37h0m0 7h0m1 -127h0m0 30h0m0 44h0m0 40h0m0 25h0m0 8h0m1 -144h0m0 56h0m0 57h0m0 6h0m1 -73h0m0 23h0m0 16h0m2 -66h0m0 79h0m1 -83h0m0 22h0m0 4h0m0 42h0m0 13h0m1 -97h0m0 15h0m0 54h0m0 70h0m1 -139h0m0 14h0m0 3h0m0 13h0m0 24h0m0 10h0m0 59h0m1 -93h0m0 15h0m1 7h0m0 30h0m0 30h0m1 -113h0m0 26h0m0 12h0m0 29h0m0 27h0m0 4h0m0 1h0m1 -58h0m0 13h0m0 18h0m0 29h0m0 4h0m0 1h0m0 39h0m1 -108h0m0 41h0m0 13h0m1 -78h0m0 24h0m0 5h0m0 2h0m0 2h0m0 6h0m0 7h0m0 34h0m0 5h0m0 40h0m1 -86h0m0 5h0m0 21h0m1 52h0m1 -122h0m0 21h0m0 13h0m0 82h0m1 -106h0m0 16h0m0 45h0m0 24h0m0 7h0m0 0h0m0 26h0m1 -83h0m0 55h0m1 -95h0m0 35h0m0 68h0m0 8h0m0 4h0m1 -14h0m1 -94h0m0 2h0m0 5h0m0 23h0m0 1h0m0 8h0m0 5h0m0 28h0m0 2h0m0 19h0m1 -106h0m0 53h0m0 26h0m0 9h0m0 31h0m0 10h0m1 -136h0m0 44h0m0 11h0m0 51h0m0 40h0m1 -147h0m0 97h0m1 -54h0m0 3h0m0 48h0m0 8h0m0 6h0m1 -66h0m0 76h0m0 1h0m0 5h0m0 22h0m1 -122h0m0 62h0m0 22h0m0 23h0m0 6h0m1 11h0m1 -44h0m1 -79h0m0 28h0m0 68h0m1 -112h0m0 18h0m0 81h0m0 1h0m1 -110h0m0 21h0m0 8h0m0 6h0m0 7h0m0 40h0m0 17h0m1 -96h0m0 22h0m0 6h0m0 53h0m0 15h0m0 30h0m1 -113h0m1 36h0m0 37h0m1 -72h0m0 28h0m0 27h0m1 -45h0m0 26h0m0 16h0m0 27h0m0 35h0m1 -104h0m0 12h0m0 14h0m0 75h0m0 8h0m1 -90h0m0 78h0m1 -108h0m0 7h0m0 7h0m0 2h0m0 83h0m1 -69h0m0 5h0m0 4h0m0 47h0m0 2h0m0 30h0m1 -56h0m0 38h0m0 5h0m0 2h0m1 -117h0m0 54h0m0 8h0m0 29h0m0 11h0m0 10h0m0 10h0m1 -122h0m0 9h0m0 11h0m0 24h0m0 4h0m0 34h0m0 17h0m0 41h0m1 -127h0m0 34h0m0 18h0m0 22h0m1 -52h0m1 -16h0m0 22h0m0 6h0m0 12h0m0 1h0m0 9h0m0 11h0m0 8h0m1 -60h0m0 86h0m1 -118h0m0 36h0m0 14h0m0 16h0m0 64h0m1 -102h0m0 24h0m0 8h0m0 3h0m0 54h0m0 30h0m1 -112h0m0 84h0m1 -122h0m0 2h0m0 39h0m1 54h0m0 4h0m1 -97h0m0 13h0m1 51h0m0 39h0m0 17h0m1 -116h0m0 44h0m0 21h0m0 55h0m0 3h0m0 4h0m1 -109h0m0 7h0m0 43h0m0 8h0m1 -66h0m0 4h0m0 20h0m0 14h0m0 14h0m0 63h0m1 -109h0m0 12h0m0 18h0m0 17h0m0 10h0m0 14h0m1 -83h0m0 61h0m0 20h0m0 23h0m0 30h0m1 -127h0m0 46h0m1 -1h0m0 9h0m0 73h0m1 -135h0m0 33h0m0 40h0m0 40h0m0 6h0m0 22h0m1 -149h0m0 2h0m0 13h0m0 55h0m0 14h0m0 8h0m0 34h0m0 7h0m1 -113h0m0 9h0m0 12h0m0 68h0m0 19h0m0 10h0m1 -104h0m0 4h0m0 10h0m0 27h0m0 34h0m1 -90h0m0 71h0m0 24h0m0 23h0m0 2h0m1 -135h0m0 78h0m0 5h0m0 57h0m1 -123h0m0 1h0m0 8h0m0 11h0m0 15h0m0 6h0m0 19h0m0 12h0m0 9h0m1 -35h0m0 11h0m0 50h0m0 17h0m1 -136h0m0 69h0m0 2h0m0 2h0m0 5h0m0 9h0m0 14h0m0 11h0m1 -116h0m0 0h0m0 9h0m0 57h0m0 19h0m0 44h0m1 -45h0m0 17h0m0 6h0m0 0h0m1 -95h0m0 6h0m0 24h0m0 12h0m0 3h0m0 36h0m1 -84h0m1 36h0m0 32h0m0 52h0m1 -128h0m0 23h0m0 8h0m0 27h0m1 -42h0m0 41h0m1 -19h0m0 42h0m0 4h0m0 16h0m1 -102h0m0 11h0m0 32h0m0 18h0m0 11h0m0 1h0m0 64h0m1 -126h0m0 55h0m0 22h0m0 6h0m0 6h0m0 43h0m1 -117h0m0 12h0m0 29h0m1 -68h0m0 23h0m0 10h0m0 2h0m0 25h0m0 8h0m0 45h0m1 -113h0m0 32h0m0 24h0m0 70h0m0 12h0m1 -141h0m0 26h0m0 12h0m0 6h0m0 6h0m0 8h0m0 18h0m0 2h0m0 1h0m1 -64h0m0 2h0m0 1h0m0 3h0m0 2h0m0 51h0m0 14h0m0 12h0m0 5h0m0 9h0m0 19h0m1 -72h0m0 63h0m1 -103h0m0 4h0m0 29h0m1 -54h0m0 1h0m0 8h0m0 1h0m0 9h0m0 10h0m0 23h0m0 26h0m0 3h0m0 17h0m0 28h0m1 -107h0m0 3h0m0 58h0m0 18h0m0 20h0m1 -106h0m0 29h0m0 56h0m0 19h0m1 -110h0m0 1h0m0 16h0m0 30h0m0 33h0m0 19h0m1 -84h0m0 23h0m0 4h0m0 16h0m0 5h0m1 -64h0m0 13h0m0 25h0m0 24h0m1 -65h0m0 8h0m0 12h0m0 8h0m0 21h0m0 11h0m1 -18h0m0 26h0m0 11h0m0 10h0m0 9h0m0 19h0m1 -107h0m0 66h0m0 30h0m0 27h0m1 -126h0m0 109h0m0 17h0m0 3h0m1 -138h0m0 93h0m0 12h0m1 -62h0m0 10h0m0 10h0m0 1h0m0 13h0m0 12h0m1 -48h0m0 2h0m0 4h0m0 76h0m1 -60h0m0 17h0m0 50h0m1 -48h0m1 -67h0m1 12h0m0 14h0m0 12h0m0 25h0m0 2h0m1 -72h0m0 0h0m0 13h0m0 2h0m0 27h0m1 49h0m0 16h0m0 12h0m1 -102h0m0 59h0m1 -78h0m0 102h0m0 25h0m1 -132h0m0 11h0m0 10h0m0 1h0m0 18h0m0 4h0m0 25h0m0 18h0m1 -3h0m0 7h0m1 -90h0m0 5h0m0 88h0m0 44h0m1 -136h0m0 1h0m0 32h0m0 2h0m1 5h0m0 69h0m0 4h0m1 -92h0m0 16h0m0 36h0m0 13h0m0 37h0m0 8h0m1 -108h0m0 8h0m0 16h0m0 4h0m0 19h0m0 47h0m1 -105h0m0 56h0m0 39h0m0 9h0m0 2h0m0 8h0m1 -112h0m0 7h0m0 65h0m0 6h0m0 16h0m0 13h0m1 -100h0m0 74h0m0 25h0m0 16h0m0 2h0m1 -121h0m0 13h0m0 31h0m0 28h0m0 11h0m0 30h0m0 4h0m1 -105h0m0 104h0m1 -109h0m0 47h0m0 47h0m0 5h0m0 1h0m1 -106h0m0 50h0m1 -40h0m0 4h0m0 36h0m0 17h0m0 26h0m1 -109h0m0 16h0m0 47h0m0 2h0m0 16h0m0 12h0m1 -60h0m0 1h0m0 36h0m0 30h0m1 -82h0m0 27h0m0 0h0m0 33h0m1 -11h0m0 11h0m0 2h0m0 35h0m1 -91h0m0 64h0m0 11h0m1 -99h0m0 14h0m0 27h0m0 1h0m0 27h0m1 -50h0m0 15h0m0 22h0m0 15h0m0 56h0m0 6h0m1 -113h0m0 25h0m0 40h0m0 17h0m1 -56h0m0 63h0m1 -106h0m0 119h0m1 -92h0m0 3h0m0 27h0m0 10h0m0 8h0m0 5h0m0 7h0m0 12h0m0 21h0m0 15h0m1 -110h0m0 13h0m0 104h0m1 -136h0m0 7h0m0 37h0m0 37h0m0 23h0m0 0h0m0 22h0m1 -123h0m0 18h0m0 28h0m0 19h0m0 7h0m0 29h0m0 15h0m0 1h0m1 -116h0m0 6h0m0 101h0m1 10h0m0 2h0m1 -125h0m0 31h0m0 91h0m1 -127h0m0 24h0m0 46h0m1 -71h0m0 57h0m0 3h0m0 22h0m0 12h0m0 31h0m0 13h0m1 -135h0m0 32h0m0 46h0m1 -43h0m0 0h0m0 4h0m0 19h0m1 -61h0m0 35h0m0 3h0m0 21h0m0 29h0m1 -55h0m0 0h0m0 1h0m0 35h0m1 -71h0m0 23h0m0 3h0m0 58h0m0 12h0m1 -65h0m0 36h0m0 53h0m1 -63h0m1 -59h0m0 55h0m0 14h0m0 11h0m0 23h0m1 -80h0m0 57h0m0 11h0m0 6h0m1 3h0m0 12h0m0 18h0m1 -115h0m0 16h0m0 58h0m0 5h0m0 10h0m0 2h0m1 5h0m0 10h0m1 -103h0m0 27h0m0 37h0m0 6h0m0 2h0m1 -73h0m0 8h0m0 12h0m0 12h0m0 66h0m1 -93h0m0 50h0m0 34h0m1 -103h0m0 6h0m0 34h0m0 5h0m0 2h0m0 16h0m0 50h0m1 -76h0m0 41h0m0 62h0m1 -137h0m0 16h0m0 3h0m0 17h0m0 76h0m1 -106h0m0 22h0m0 3h0m0 26h0m0 9h0m0 16h0m0 10h0m0 18h0m1 -90h0m0 37h0m0 16h0m0 0h0m0 8h0m0 6h0m0 45h0m1 -140h0m0 12h0m0 53h0m0 0h0m0 25h0m0 1h0m0 45h0m1 -70h0m0 9h0m1 -58h0m0 33h0m0 8h0m0 22h0m0 60h0m1 -140h0m0 52h0m0 35h0m0 26h0m1 -113h0m0 58h0m0 28h0m0 24h0m1 10h0m1 -68h0m0 81h0m1 -80h0m0 68h0m0 20h0m1 -140h0m0 4h0m0 7h0m0 33h0m0 10h0m0 81h0m1 -112h0m0 23h0m0 64h0m0 10h0m0 19h0m1 -110h0m0 23h0m0 2h0m0 1h0m0 29h0m1 -57h0m1 -20h0m0 19h0m0 17h0m0 13h0m0 19h0m1 -69h0m0 38h0m0 25h0m0 54h0m1 -94h0m0 2h0m0 8h0m0 18h0m0 22h0m0 12h0m0 10h0m0 48h0m1 -143h0m0 9h0m0 26h0m0 15h0m0 16h0m0 67h0m1 -141h0m0 5h0m1 17h0m0 38h0m0 8h0m0 7h0m0 27h0m0 30h0m0 11h0m1 -110h0m0 23h0m0 30h0m0 19h0m0 12h0m0 0h0m0 29h0m1 -91h0m0 14h0m0 72h0m1 -124h0m0 9h0m0 9h0m0 67h0m0 29h0m0 12h0m1 -129h0m0 48h0m0 3h0m0 65h0m0 14h0m1 -139h0m0 38h0m0 0h0m0 21h0m0 40h0m1 -101h0m0 7h0m0 34h0m0 15h0m0 42h0m0 36h0m1 -82h0m1 -33h0m0 13h0m0 22h0m0 62h0m0 4h0m0 14h0m1 -131h0m0 8h0m1 11h0m0 28h0m0 70h0m1 -33h0m0 26h0m0 4h0m0 21h0m1 -118h0m0 53h0m0 29h0m1 -93h0m0 19h0m0 2h0m0 13h0m0 15h0m0 14h0m0 4h0m0 6h0m1 -66h0m0 35h0m0 17h0m0 65h0m1 -109h0m0 6h0m0 12h0m0 0h0m0 8h0m0 24h0m0 4h0m0 6h0m0 57h0m1 -72h0m1 -44h0m0 13h0m0 17h0m0 17h0m0 14h0m0 5h0m0 33h0m1 -45h0m0 25h0m1 -106h0m0 4h0m0 54h0m0 26h0m0 27h0m1 -109h0m0 39h0m0 41h0m0 11h0m0 7h0m0 41h0m0 7h0m1 -146h0m0 34h0m0 33h0m0 76h0m0 3h0m1 -130h0m0 49h0m1 -42h0m0 23h0m0 30h0m0 4h0m0 17h0m0 14h0m1 -103h0m0 27h0m0 1h0m0 4h0m0 8h0m0 3h0m0 1h0m0 12h0m0 5h0m0 17h0m0 15h0m0 19h0m1 -114h0m0 20h0m0 5h0m0 16h0m0 14h0m0 8h0m0 31h0m1 -74h0m0 76h0m0 10h0m1 -52h0m0 59h0m0 10h0m1 -95h0m0 1h0m0 3h0m1 -15h0m0 42h0m0 0h0m0 11h0m0 16h0m1 -92h0m0 24h0m0 1h0m0 91h0m1 -69h0m0 46h0m0 14h0m0 37h0m1 -131h0m0 17h0m0 50h0m0 61h0m0 1h0m1 -142h0m0 9h0m0 9h0m0 27h0m0 8h0m0 53h0m0 4h0m0 7h0m0 23h0m1 -126h0m0 4h0m1 -15h0m0 5h0m0 6h0m0 3h0m0 70h0m1 9h0m0 5h0m0 11h0m0 7h0m1 -115h0m0 108h0m0 1h0m0 18h0m1 -57h0m0 6h0m1 -80h0m0 69h0m1 -71h0m0 36h0m0 51h0m0 49h0m1 4h0m1 -139h0m0 46h0m0 4h0m0 4h0m0 54h0m1 -108h0m0 102h0m1 -88h0m0 64h0m0 13h0m0 20h0m1 -94h0m0 38h0m1 23h0m0 66h0m1 -127h0m0 50h0m0 16h0m1 -61h0m0 28h0m0 3h0m0 60h0m0 28h0m1 2h0m1 -135h0m0 50h0m0 6h0m0 73h0m1 -127h0m0 38h0m0 99h0m1 -125h0m0 26h0m0 32h0m1 -63h0m0 15h0m0 50h0m0 5h0m1 -72h0m0 30h0m0 7h0m0 16h0m0 22h0m1 -71h0m0 63h0m1 -14h0m0 6h0m0 16h0m0 44h0m1 -135h0m0 25h0m0 7h0m0 10h0m0 45h0m1 -87h0m0 1h0m0 78h0m0 3h0m1 -3h0m0 28h0m1 -67h0m0 6h0m0 12h0m0 6h0m0 11h0m1 -68h0m0 36h0m0 100h0m1 -99h0m0 3h0m0 3h0m0 5h0m2 -36h0m0 95h0m1 -96h0m0 12h0m0 10h0m0 7h0m0 43h0m0 16h0m1 -81h0m0 24h0m0 4h0m0 64h0m1 -56h0m0 22h0m0 4h0m0 19h0m1 -106h0m0 11h0m0 3h0m0 49h0m0 24h0m0 19h0m0 3h0m1 -98h0m0 10h0m0 11h0m0 52h0m1 -74h0m0 34h0m0 11h0m0 7h0m0 3h0m1 -46h0m0 12h0m0 1h0m0 5h0m0 13h0m0 12h0m0 13h0m0 9h0m0 41h0m0 5h0m1 -114h0m0 62h0m0 16h0m1 -30h0m0 11h0m0 20h0m0 36h0m0 10h0m1 -122h0m0 9h0m0 13h0m0 14h0m0 6h0m0 1h0m0 9h0m0 6h0m0 4h0m0 1h0m0 5h0m0 33h0m2 -110h0m0 2h0m1 -12h0m0 32h0m0 39h0m0 13h0m1 -37h0m0 34h0m0 15h0m0 46h0m1 -135h0m0 7h0m0 58h0m0 45h0m1 -110h0m0 1h0m0 9h0m0 1h0m0 12h0m0 15h0m0 22h0m0 20h0m0 7h0m0 17h0m0 28h0m1 -99h0m0 76h0m0 16h0m0 6h0m1 -97h0m0 9h0m0 11h0m0 36h0m0 35h0m1 -79h0m0 63h0m0 11h0m0 20h0m1 -116h0m0 5h0m0 42h0m0 5h0m0 49h0m0 10h0m1 -113h0m0 25h0m0 21h0m1 -73h0m0 36h0m0 3h0m0 40h0m1 -63h0m0 109h0m1 -83h0m0 37h0m2 -76h0m0 45h0m0 10h0m0 13h0m0 7h0m1 -40h0m0 4h0m1 69h0m1 -106h0m0 28h0m0 52h0m0 2h0m0 4h0m0 22h0m0 15h0m0 6h0m1 -113h0m0 27h0m0 40h0m0 45h0m1 -135h0m0 36h0m0 32h0m0 1h0m1 -56h0m0 14h0m0 1h0m0 10h0m0 55h0m0 16h0m0 17h0m0 2h0m0 8h0m1 -136h0m0 9h0m0 85h0m0 49h0m0 3h0m1 -145h0m0 9h0m0 29h0m0 15h0m0 7h0m0 22h0m0 28h0m0 13h0m0 10h0m1 -132h0m0 25h0m0 22h0m0 23h0m0 14h0m0 58h0m1 -141h0m0 11h0m0 28h0m0 22h0m0 44h0m0 20h0m0 16h0m1 -119h0m0 27h0m0 32h0m1 7h0m0 1h0m0 25h0m1 -98h0m0 30h0m0 7h0m0 30h0m0 18h0m1 -84h0m0 72h0m0 1h0m0 13h0m1 -71h0m0 11h0m0 19h0m0 5h0m0 16h0m0 39h0m1 -110h0m0 49h0m1 -56h0m0 41h0m0 45h0m0 10h0m1 -95h0m0 16h0m0 47h0m0 44h0m0 19h0m1 -131h0m0 13h0m0 14h0m0 3h0m0 16h0m0 31h0m0 33h0m0 6h0m1 -58h0m0 63h0m0 10h0m1 -115h0m0 20h0m0 54h0m0 46h0m0 6h0m1 -142h0m0 65h0m0 20h0m0 1h0m0 4h0m1 -80h0m0 18h0m0 95h0m0 9h0m1 -119h0m0 7h0m0 2h0m0 9h0m0 5h0m0 1h0m1 -3h0m0 39h0m0 19h0m0 4h0m0 15h0m0 31h0m1 -128h0m0 8h0m0 31h0m0 9h0m0 4h0m0 28h0m0 2h0m1 -91h0m0 106h0m0 23h0m1 -119h0m0 42h0m0 18h0m0 55h0m0 7h0m1 -91h0m0 97h0m1 -68h0m1 -44h0m0 2h0m0 53h0m0 34h0m1 -115h0m0 7h0m0 66h0m0 25h0m0 31h0m1 -130h0m0 23h0m0 13h0m0 77h0m1 -104h0m1 -12h0m0 1h0m0 23h0m0 14h0m0 0h0m0 20h0m0 59h0m1 -112h0m0 47h0m0 45h0m0 17h0m0 11h0m1 -100h0m0 17h0m0 76h0m0 24h0m1 -97h0m0 42h0m0 56h0m1 -136h0m0 7h0m0 2h0m0 44h0m0 16h0m0 12h0m0 8h0m1 -38h0m0 44h0m0 24h0m0 2h0m1 -102h0m0 65h0m0 9h0m0 8h0m1 -103h0m0 21h0m0 4h0m0 9h0m0 5h0m0 4h0m0 91h0m1 -129h0m0 34h0m0 78h0m0 1h0m1 -111h0m0 22h0m0 2h0m0 30h0m1 -57h0m1 -11h0m0 24h0m0 53h0m0 13h0m0 46h0m1 -129h0m0 33h0m0 0h0m0 45h0m0 32h0m0 28h0m1 -147h0m0 93h0m0 25h0m1 -118h0m0 4h0m0 32h0m0 47h0m0 8h0m0 43h0m1 -79h0m0 91h0m1 -129h0m0 12h0m0 23h0m0 2h0m0 30h0m0 49h0m1 -64h0m0 4h0m0 7h0m0 22h0m0 28h0m0 12h0m1 -119h0m0 31h0m0 14h0m0 33h0m1 -52h0m0 9h0m0 26h0m1 -51h0m0 31h0m0 20h0m1 -61h0m0 55h0m0 55h0m1 -132h0m0 15h0m0 46h0m0 29h0m1 -90h0m0 4h0m0 2h0m0 7h0m0 1h0m0 28h0m0 56h0m1 -98h0m0 19h0m0 2h0m0 35h0m0 4h0m0 21h0m1 -65h0m0 54h0m0 27h0m1 -98h0m0 4h0m0 5h0m0 18h0m1 -4h0m0 56h0m0 14h0m1 -72h0m0 6h0m0 7h0m0 5h0m0 103h0m1 -131h0m0 75h0m0 12h0m1 -42h0m0 34h0m0 19h0m0 21h0m1 -21h0m1 -76h0m0 21h0m0 37h0m1 -29h0m0 76h0m1 -101h0m0 1h0m0 11h0m0 31h0m0 22h0m0 40h0m0 2h0m1 -93h0m0 9h0m1 -48h0m0 12h0m0 25h0m0 24h0m0 45h0m0 6h0m0 19h0m1 -137h0m0 3h0m0 7h0m0 12h0m0 57h0m0 4h0m1 -75h0m0 20h0m0 7h0m0 1h0m0 32h0m0 39h0m0 1h0m0 2h0m0 13h0m1 -128h0m0 25h0m0 53h0m1 -78h0m0 4h0m0 22h0m0 22h0m0 3h0m0 11h0m0 56h0m1 -70h0m0 25h0m0 10h0m0 27h0m1 -96h0m0 15h0m1 5h0m1 -20h0" fill="none" stroke="#faf2e9" stroke-width="2.8" stroke-linecap="round" stroke-opacity="0.7"/><path d="M2578.7,1515.6L2582.7,1483.4L2586.6,1479.8L2590.6,1477.7L2594.6,1476.2L2598.6,1475.1L2602.5,1474.1L2606.5,1473.3L2610.5,1472.6L2618.4,1471.5L2626.4,1470.5L2642.3,1469L2658.1,1467.9L2682,1466.5L2705.8,1465.5L2737.6,1464.3L2777.3,1463.1L2817,1462.2L2856.7,1461.4L2896.5,1460.7L2936.2,1460.1L2977.9,1459.5" fill="none" stroke="#4f9e7c" stroke-width="2.7" stroke-linejoin="round" stroke-opacity="0.93"/><rect x="2559.0" y="1258.1" width="439.9" height="269.6" fill="none" stroke="#3a3a3a" stroke-width="1.1"/><text x="2578.7" y="1545.2" font-size="11.26">0</text><text x="2658.1" y="1545.2" font-size="11.26">10000</text><text x="2737.6" y="1545.2" font-size="11.26">20000</text><text x="2817.0" y="1545.2" font-size="11.26">30000</text><text x="2896.5" y="1545.2" font-size="11.26">40000</text><text x="2975.9" y="1545.2" font-size="11.26">50000</text><text x="2550.5" y="1509.7" font-size="11.26" transform="rotate(-90 2550.5 1509.7)">0</text><text x="2550.5" y="1450.9" font-size="11.26" transform="rotate(-90 2550.5 1450.9)">5</text><text x="2550.5" y="1392.0" font-size="11.26" transform="rotate(-90 2550.5 1392.0)">10</text><text x="2550.5" y="1333.2" font-size="11.26" transform="rotate(-90 2550.5 1333.2)">15</text><text x="2550.5" y="1274.3" font-size="11.26" transform="rotate(-90 2550.5 1274.3)">20</text><rect x="2730.3" y="1264.5" width="96.4" height="141.5" fill="#faf2e9"/><path transform="scale(.5)" d="M0 0m5461 2593h0m0 63h0m0 13h0m0 27h0m0 14h0m0 9h0m0 23h0m0 14h0m0 20h0m0 19h0m1 -128h0m0 9h0m0 31h0m0 4h0m0 19h0m0 20h0m0 6h0m0 4h0m1 -107h0m0 15h0m0 48h0m0 7h0m0 16h0m0 10h0m0 6h0m0 5h0m0 8h0m0 16h0m0 19h0m0 2h0m1 -142h0m0 2h0m0 2h0m0 22h0m0 7h0m0 4h0m0 0h0m0 1h0m0 2h0m0 50h0m0 0h0m0 3h0m0 6h0m0 15h0m0 32h0m1 -135h0m0 8h0m0 20h0m0 14h0m0 8h0m0 3h0m0 4h0m0 24h0m0 19h0m0 3h0m0 4h0m1 -213h0m0 98h0m0 6h0m0 27h0m0 25h0m0 29h0m1 -117h0m0 15h0m0 9h0m0 26h0m0 51h0m0 6h0m0 3h0m0 16h0m0 23h0m0 0h0m1 -163h0m0 40h0m0 27h0m0 24h0m0 23h0m0 11h0m0 47h0m1 -198h0m0 53h0m0 13h0m0 27h0m0 5h0m0 29h0m0 5h0m0 8h0m0 14h0m0 15h0m0 3h0m0 1h0m1 -65h0m0 26h0m0 6h0m0 7h0m0 5h0m0 16h0m0 8h0m0 2h0m0 36h0m1 -224h0m0 77h0m0 25h0m0 9h0m0 48h0m0 3h0m1 -118h0m0 39h0m0 19h0m0 11h0m0 39h0m0 1h0m0 37h0m0 8h0m1 -180h0m0 21h0m0 32h0m0 10h0m0 41h0m0 12h0m0 36h0m0 9h0m0 26h0m0 17h0m1 -172h0m0 4h0m0 14h0m0 26h0m0 7h0m0 12h0m0 2h0m0 4h0m0 4h0m0 17h0m0 5h0m0 40h0m0 6h0m0 19h0m1 -146h0m0 13h0m0 11h0m0 5h0m0 13h0m0 35h0m0 4h0m0 1h0m0 5h0m0 0h0m0 26h0m0 28h0m1 -140h0m0 0h0m0 22h0m0 7h0m0 5h0m0 12h0m0 83h0m0 4h0m0 0h0m0 19h0m1 -167h0m0 16h0m0 0h0m0 21h0m0 12h0m0 12h0m0 8h0m0 3h0m0 16h0m0 48h0m0 3h0m0 33h0m1 -175h0m0 25h0m0 28h0m0 17h0m0 3h0m0 19h0m0 26h0m0 25h0m0 16h0m0 16h0m1 -204h0m0 27h0m0 6h0m0 31h0m0 12h0m0 32h0m0 3h0m0 3h0m0 8h0m0 4h0m0 8h0m0 36h0m0 1h0m1 -126h0m0 22h0m0 31h0m0 29h0m0 28h0m0 13h0m0 34h0m1 -227h0m0 57h0m0 22h0m0 15h0m0 17h0m0 8h0m0 28h0m0 6h0m0 29h0m1 -222h0m0 65h0m0 8h0m0 5h0m0 6h0m0 26h0m0 3h0m0 9h0m0 30h0m0 19h0m0 17h0m0 5h0m0 4h0m0 19h0m0 3h0m0 51h0m1 -252h0m0 73h0m0 8h0m0 7h0m0 62h0m0 14h0m0 0h0m0 21h0m0 21h0m0 2h0m1 -165h0m0 35h0m0 29h0m0 5h0m0 10h0m0 44h0m0 8h0m0 24h0m0 8h0m0 28h0m1 -153h0m0 22h0m0 18h0m0 39h0m0 70h0m0 13h0m0 3h0m1 -197h0m0 7h0m0 21h0m0 13h0m0 1h0m0 6h0m0 36h0m0 29h0m0 12h0m0 19h0m0 4h0m0 20h0m0 14h0m0 2h0m0 3h0m1 -237h0m0 20h0m0 16h0m0 19h0m0 7h0m0 53h0m0 14h0m0 21h0m0 4h0m0 11h0m0 11h0m0 7h0m0 2h0m0 15h0m0 49h0m1 -182h0m0 1h0m0 15h0m0 51h0m0 0h0m0 24h0m0 8h0m0 3h0m0 1h0m0 55h0m1 -166h0m0 14h0m0 25h0m0 9h0m0 6h0m0 15h0m0 15h0m0 71h0m0 7h0m1 -219h0m0 63h0m0 6h0m0 6h0m0 2h0m0 4h0m0 3h0m0 2h0m0 7h0m0 8h0m0 25h0m0 45h0m0 16h0m1 -119h0m0 10h0m0 25h0m0 6h0m0 43h0m0 10h0m0 2h0m0 0h0m0 0h0m0 29h0m0 11h0m0 27h0m0 19h0m1 -149h0m0 21h0m0 20h0m0 0h0m0 10h0m0 6h0m0 49h0m0 22h0m1 -141h0m0 14h0m0 4h0m0 2h0m0 16h0m0 4h0m0 8h0m0 0h0m0 5h0m0 17h0m0 9h0m0 7h0m0 5h0m0 55h0m1 -250h0m0 79h0m0 82h0m0 18h0m0 21h0m0 33h0m0 17h0m1 -226h0m0 42h0m0 1h0m0 16h0m0 16h0m0 3h0m0 22h0m0 28h0m0 67h0m0 16h0m0 31h0m1 -214h0m0 45h0m0 24h0m0 41h0m0 6h0m0 7h0m0 1h0m0 9h0m0 16h0m1 -144h0m0 12h0m0 61h0m0 29h0m0 9h0m0 9h0m0 5h0m0 9h0m0 21h0m0 13h0m1 -170h0m0 5h0m0 12h0m0 64h0m0 36h0m0 57h0m1 -163h0m0 30h0m0 1h0m0 3h0m0 30h0m0 15h0m0 25h0m0 1h0m0 3h0m0 4h0m0 1h0m0 7h0m0 6h0m1 -169h0m0 70h0m0 16h0m0 27h0m0 2h0m0 15h0m0 1h0m0 6h0m0 24h0m0 38h0m0 2h0m0 2h0m0 0h0m0 2h0m1 -175h0m0 3h0m0 19h0m0 22h0m0 7h0m0 26h0m0 7h0m0 36h0m0 1h0m0 32h0m1 -177h0m0 34h0m0 24h0m0 2h0m0 2h0m0 7h0m0 94h0m0 20h0m0 15h0m0 40h0m1 -235h0m0 51h0m0 16h0m0 12h0m0 4h0m0 65h0m0 8h0m0 19h0m1 -194h0m0 23h0m0 5h0m0 54h0m0 59h0m0 65h0m1 -111h0m0 0h0m0 8h0m0 11h0m0 4h0m0 42h0m1 -185h0m0 45h0m0 55h0m0 23h0m0 26h0m0 2h0m0 7h0m0 3h0m0 10h0m0 8h0m0 5h0m0 27h0m0 16h0m0 13h0m0 27h0m1 -185h0m0 42h0m0 4h0m0 0h0m0 9h0m0 2h0m0 5h0m0 2h0m0 23h0m0 18h0m0 7h0m0 25h0m1 -165h0m0 32h0m0 1h0m0 76h0m0 21h0m0 9h0m0 21h0m0 15h0m0 18h0m0 12h0m0 10h0m1 -175h0m0 15h0m0 43h0m0 32h0m0 6h0m0 37h0m1 -196h0m0 69h0m0 42h0m0 27h0m0 12h0m0 70h0m1 -146h0m0 36h0m0 3h0m0 1h0m0 19h0m0 33h0m0 10h0m0 21h0m1 -184h0m0 5h0m0 53h0m0 72h0m0 10h0m0 15h0m0 51h0m1 -248h0m0 48h0m0 40h0m0 62h0m0 6h0m0 5h0m0 1h0m0 54h0m0 38h0m1 -222h0m0 18h0m0 21h0m0 72h0m0 43h0m0 32h0m0 31h0m0 5h0m1 -240h0m0 53h0m0 3h0m0 10h0m0 20h0m0 8h0m0 34h0m0 47h0m0 8h0m0 21h0m0 2h0m1 -174h0m0 4h0m0 26h0m0 4h0m0 20h0m0 3h0m0 29h0m0 4h0m0 1h0m0 29h0m0 11h0m1 -100h0m0 22h0m0 36h0m0 47h0m0 2h0m0 10h0m0 10h0m0 5h0m0 2h0m0 8h0m0 18h0m0 18h0m1 -239h0m0 45h0m0 8h0m0 71h0m0 52h0m0 14h0m0 8h0m1 -166h0m0 26h0m0 10h0m0 45h0m0 11h0m0 15h0m0 32h0m0 6h0m0 4h0m0 11h0m0 28h0m0 14h0m1 -139h0m0 1h0m0 50h0m0 3h0m0 14h0m0 33h0m0 51h0m1 -194h0m0 54h0m0 2h0m0 83h0m0 6h0m1 -189h0m0 100h0m0 7h0m0 36h0m0 19h0m0 6h0m0 9h0m0 68h0m1 -257h0m0 37h0m0 21h0m0 19h0m0 1h0m0 6h0m0 77h0m0 0h0m0 9h0m0 9h0m0 4h0m0 8h0m0 57h0m1 -209h0m0 115h0m0 5h0m0 5h0m0 51h0m0 3h0m0 10h0m1 -165h0m0 64h0m0 7h0m0 2h0m0 39h0m0 2h0m0 2h0m1 -160h0m0 51h0m0 2h0m0 37h0m0 34h0m0 0h0m0 59h0m0 6h0m0 14h0m0 1h0m1 -194h0m0 7h0m0 36h0m0 1h0m0 11h0m0 9h0m0 2h0m0 17h0m0 7h0m0 13h0m0 25h0m0 16h0m0 74h0m1 -196h0m0 22h0m0 2h0m0 9h0m0 18h0m0 15h0m0 19h0m0 2h0m0 7h0m0 15h0m0 14h0m0 33h0m1 -189h0m0 66h0m0 25h0m0 1h0m0 38h0m0 15h0m0 9h0m0 20h0m0 11h0m0 57h0m1 -193h0m0 43h0m0 44h0m0 1h0m0 4h0m0 41h0m0 18h0m1 -199h0m0 29h0m0 1h0m0 27h0m0 3h0m0 25h0m0 19h0m0 12h0m0 0h0m0 47h0m0 10h0m1 -126h0m0 20h0m0 61h0m0 10h0m0 1h0m0 34h0m0 12h0m0 61h0m1 -262h0m0 33h0m0 0h0m0 7h0m0 39h0m0 1h0m0 8h0m0 24h0m0 1h0m0 22h0m0 12h0m0 4h0m0 52h0m1 -170h0m0 11h0m0 2h0m0 4h0m0 1h0m0 27h0m0 11h0m0 25h0m0 21h0m0 15h0m0 23h0m0 0h0m0 15h0m1 -172h0m0 17h0m0 7h0m0 15h0m0 7h0m0 45h0m0 2h0m0 2h0m0 23h0m0 29h0m1 -125h0m0 6h0m0 16h0m0 9h0m0 46h0m0 16h0m0 63h0m0 2h0m0 4h0m1 -198h0m0 2h0m0 66h0m0 0h0m0 15h0m0 65h0m0 5h0m0 1h0m0 9h0m0 2h0m0 18h0m0 2h0m0 9h0m0 46h0m1 -215h0m0 8h0m0 20h0m0 56h0m0 17h0m0 13h0m0 10h0m0 13h0m0 50h0m0 15h0m0 33h0m1 -261h0m0 51h0m0 32h0m0 28h0m0 1h0m0 74h0m0 22h0m0 21h0m1 -166h0m0 22h0m0 6h0m0 22h0m0 33h0m1 -87h0m0 13h0m0 35h0m0 55h0m0 6h0m1 -149h0m0 88h0m0 2h0m0 6h0m0 12h0m0 3h0m0 58h0m0 72h0m1 -260h0m0 11h0m0 10h0m0 18h0m0 85h0m0 7h0m0 18h0m0 0h0m0 2h0m0 24h0m0 0h0m0 4h0m0 44h0m0 10h0m0 14h0m0 10h0m1 -235h0m0 21h0m0 92h0m0 16h0m0 2h0m0 9h0m0 6h0m0 1h0m0 7h0m0 25h0m0 35h0m1 -168h0m0 41h0m0 33h0m0 17h0m0 2h0m0 25h0m0 15h0m0 38h0m0 8h0m0 5h0m1 -265h0m0 9h0m0 54h0m0 16h0m0 22h0m0 15h0m0 96h0m0 33h0m1 -246h0m0 3h0m0 28h0m0 36h0m0 29h0m0 7h0m0 32h0m0 11h0m0 15h0m0 2h0m0 7h0m0 6h0m0 12h0m0 25h0m0 48h0m1 -232h0m0 8h0m0 47h0m0 3h0m0 7h0m0 7h0m0 17h0m0 28h0m0 13h0m0 48h0m0 22h0m0 26h0m1 -250h0m0 51h0m0 53h0m0 6h0m0 40h0m0 13h0m0 79h0m1 -243h0m0 80h0m0 16h0m0 25h0m0 72h0m0 3h0m0 30h0m1 -230h0m0 4h0m0 22h0m0 24h0m0 8h0m0 16h0m0 20h0m0 19h0m0 3h0m0 14h0m0 41h0m0 24h0m0 1h0m0 1h0m0 1h0m0 23h0m0 18h0m0 14h0m1 -241h0m0 6h0m0 8h0m0 34h0m0 12h0m0 11h0m0 16h0m0 0h0m0 45h0m0 0h0m0 0h0m0 7h0m0 7h0m0 26h0m0 46h0m0 8h0m1 -223h0m0 85h0m0 38h0m0 7h0m0 11h0m0 1h0m0 15h0m0 10h0m0 18h0m0 2h0m0 2h0m0 37h0m0 15h0m1 -239h0m0 9h0m0 21h0m0 2h0m0 23h0m0 14h0m0 2h0m0 76h0m0 10h0m0 7h0m0 14h0m0 24h0m0 19h0m0 37h0m1 -255h0m0 12h0m0 34h0m0 11h0m0 23h0m0 7h0m0 4h0m0 0h0m0 31h0m0 47h0m0 17h0m0 25h0m0 10h0m1 -190h0m0 82h0m0 24h0m0 13h0m0 30h0m0 14h0m0 8h0m1 -215h0m0 23h0m0 1h0m0 6h0m0 1h0m0 31h0m0 17h0m0 29h0m0 2h0m0 28h0m0 13h0m0 12h0m0 4h0m0 4h0m0 29h0m1 -76h0m0 27h0m0 37h0m1 -180h0m0 30h0m0 27h0m0 35h0m0 52h0m0 12h0m1 -121h0m0 2h0m0 1h0m0 2h0m0 5h0m0 40h0m0 6h0m0 11h0m0 0h0m0 21h0m0 3h0m0 41h0m0 14h0m1 -184h0m0 69h0m0 15h0m0 8h0m0 21h0m0 2h0m0 30h0m0 33h0m0 37h0m1 -161h0m0 25h0m0 12h0m0 5h0m0 9h0m0 2h0m0 16h0m0 10h0m0 3h0m0 6h0m0 3h0m0 13h0m0 5h0m0 52h0m0 19h0m0 3h0m1 -214h0m0 26h0m0 87h0m0 35h0m0 16h0m0 44h0m0 23h0m0 2h0m1 -243h0m0 0h0m0 3h0m0 3h0m0 40h0m0 48h0m0 10h0m0 47h0m0 13h0m0 18h0m0 26h0m1 -160h0m0 11h0m0 128h0m0 7h0m0 7h0m1 -220h0m0 34h0m0 16h0m0 4h0m0 3h0m0 4h0m0 2h0m0 6h0m0 10h0m0 20h0m0 8h0m0 4h0m0 36h0m1 -142h0m0 14h0m0 0h0m0 26h0m0 41h0m0 73h0m0 17h0m0 27h0m0 16h0m0 29h0m1 -241h0m0 2h0m0 2h0m0 74h0m0 43h0m0 13h0m0 58h0m0 14h0m0 45h0m1 -218h0m0 40h0m0 47h0m0 20h0m0 2h0m0 25h0m0 25h0m0 6h0m0 51h0m1 -251h0m0 3h0m0 10h0m0 4h0m0 50h0m0 12h0m0 16h0m0 24h0m0 3h0m0 6h0m0 1h0m0 31h0m0 47h0m0 9h0m0 4h0m0 6h0m0 2h0m0 8h0m1 -248h0m0 29h0m0 6h0m0 5h0m0 28h0m0 0h0m0 2h0m0 47h0m0 5h0m0 8h0m0 18h0m0 24h0m0 0h0m0 13h0m0 9h0m0 16h0m0 65h0m1 -226h0m0 1h0m0 3h0m0 60h0m0 0h0m0 2h0m0 4h0m0 45h0m1 -147h0m0 8h0m0 27h0m0 22h0m0 8h0m0 0h0m0 4h0m0 8h0m0 3h0m0 5h0m0 1h0m0 13h0m0 45h0m0 3h0m0 12h0m0 69h0m0 17h0m0 15h0m1 -227h0m0 44h0m0 22h0m0 14h0m0 12h0m0 25h0m0 0h0m0 1h0m0 54h0m1 -147h0m0 12h0m0 14h0m0 29h0m0 6h0m0 20h0m0 9h0m0 6h0m0 17h0m0 30h0m1 -135h0m0 19h0m0 1h0m0 55h0m0 1h0m0 6h0m0 28h0m1 -140h0m0 11h0m0 7h0m0 17h0m0 30h0m0 5h0m0 8h0m0 31h0m0 97h0m1 -183h0m0 71h0m0 17h0m0 9h0m0 29h0m0 56h0m1 -258h0m0 18h0m0 4h0m0 23h0m0 18h0m0 42h0m0 91h0m0 4h0m0 45h0m0 18h0m0 0h0m1 -122h0m0 10h0m0 2h0m0 1h0m0 2h0m0 3h0m0 8h0m0 48h0m0 0h0m0 9h0m0 31h0m0 15h0m1 -220h0m0 12h0m0 0h0m0 1h0m0 18h0m0 31h0m0 5h0m0 53h0m0 8h0m0 95h0m0 1h0m1 -245h0m0 2h0m0 5h0m0 19h0m0 17h0m0 41h0m0 37h0m0 12h0m0 30h0m0 14h0m0 42h0m1 -164h0m0 6h0m0 44h0m0 6h0m0 2h0m0 32h0m0 16h0m1 -194h0m0 7h0m0 17h0m0 11h0m0 32h0m0 1h0m0 85h0m0 21h0m0 3h0m0 24h0m0 4h0m0 2h0m0 33h0m0 8h0m0 28h0m1 -268h0m0 14h0m0 59h0m0 90h0m0 10h0m0 17h0m0 44h0m0 6h0m1 -246h0m0 49h0m0 3h0m0 14h0m0 42h0m0 4h0m0 26h0m0 8h0m0 34h0m0 4h0m0 19h0m0 9h0m1 -209h0m0 22h0m0 11h0m0 9h0m0 45h0m0 60h0m0 17h0m0 5h0m0 8h0m0 22h0m0 65h0m1 -261h0m0 30h0m0 23h0m0 48h0m0 38h0m0 26h0m0 3h0m0 26h0m0 26h0m0 4h0m0 49h0m1 -275h0m0 77h0m0 88h0m0 58h0m1 -217h0m0 31h0m0 24h0m0 42h0m0 3h0m0 22h0m0 21h0m0 33h0m0 8h0m0 4h0m0 70h0m1 -222h0m0 75h0m0 0h0m0 3h0m0 17h0m0 25h0m0 16h0m0 3h0m0 17h0m0 24h0m1 -204h0m0 18h0m0 12h0m0 14h0m0 25h0m0 59h0m0 39h0m0 6h0m0 17h0m0 2h0m0 27h0m0 2h0m0 26h0m1 -242h0m0 36h0m0 42h0m0 30h0m0 11h0m0 4h0m0 13h0m0 0h0m0 46h0m1 -153h0m0 32h0m0 29h0m0 5h0m0 12h0m0 15h0m0 7h0m0 11h0m0 14h0m0 4h0m0 8h0m0 9h0m0 4h0m0 22h0m0 29h0m1 -231h0m0 9h0m0 21h0m0 4h0m0 37h0m0 20h0m0 7h0m0 3h0m0 28h0m0 33h0m0 4h0m0 75h0m1 -236h0m0 22h0m0 100h0m0 3h0m1 -103h0m0 3h0m0 4h0m0 1h0m0 10h0m0 76h0m0 51h0m0 10h0m0 27h0m0 31h0m1 -253h0m0 26h0m0 6h0m0 15h0m0 31h0m0 34h0m0 36h0m0 18h0m0 19h0m0 4h0m0 13h0m0 8h0m0 51h0m1 -193h0m0 20h0m0 4h0m0 8h0m0 10h0m0 3h0m0 24h0m0 3h0m0 11h0m0 9h0m0 13h0m0 25h0m0 9h0m1 -196h0m0 21h0m0 34h0m0 34h0m0 7h0m0 27h0m0 18h0m0 79h0m0 7h0m0 23h0m1 -242h0m0 17h0m0 45h0m0 12h0m0 55h0m0 17h0m0 5h0m0 9h0m1 -178h0m0 80h0m0 15h0m0 5h0m0 1h0m0 36h0m0 19h0m0 22h0m0 26h0m0 20h0m1 -201h0m0 22h0m0 30h0m0 68h0m0 39h0m0 4h0m0 3h0m0 1h0m0 25h0m1 -79h0m0 16h0m0 8h0m0 9h0m0 1h0m0 10h0m0 4h0m0 12h0m0 39h0m1 -198h0m0 3h0m0 28h0m0 10h0m0 11h0m0 81h0m0 11h0m0 20h0m0 2h0m0 28h0m1 -242h0m0 12h0m0 35h0m0 50h0m0 0h0m0 24h0m0 51h0m0 3h0m0 75h0m0 5h0m1 -230h0m0 28h0m0 24h0m0 18h0m0 52h0m0 13h0m0 11h0m1 -154h0m0 25h0m0 7h0m0 4h0m0 31h0m0 14h0m0 52h0m0 20h0m0 2h0m0 13h0m0 20h0m0 42h0m1 -169h0m0 0h0m0 67h0m0 7h0m0 25h0m0 34h0m1 -147h0m0 26h0m0 8h0m0 10h0m0 1h0m0 10h0m0 71h0m0 2h0m0 11h0m0 16h0m0 36h0m1 -228h0m0 20h0m0 9h0m0 31h0m0 10h0m0 4h0m0 51h0m0 0h0m0 13h0m0 24h0m0 2h0m1 -193h0m0 16h0m0 16h0m0 16h0m0 35h0m0 22h0m0 3h0m0 0h0m0 12h0m0 13h0m0 8h0m0 3h0m0 16h0m0 10h0m0 21h0m0 35h0m1 -219h0m0 23h0m0 7h0m0 27h0m0 8h0m0 58h0m0 24h0m0 13h0m0 6h0m0 10h0m0 25h0m0 2h0m0 16h0m0 0h0m1 -228h0m0 0h0m0 5h0m0 3h0m0 13h0m0 64h0m0 22h0m0 36h0m0 20h0m0 11h0m0 23h0m0 4h0m0 23h0m0 34h0m1 -240h0m0 6h0m0 26h0m0 22h0m0 9h0m0 21h0m0 14h0m0 12h0m0 13h0m0 25h0m0 6h0m0 51h0m1 -213h0m0 12h0m0 43h0m0 58h0m0 30h0m0 24h0m0 82h0m1 -211h0m0 12h0m0 21h0m0 40h0m0 15h0m0 3h0m0 4h0m0 14h0m0 26h0m0 58h0m0 11h0m0 14h0m1 -262h0m0 26h0m0 36h0m0 91h0m0 0h0m1 -152h0m0 37h0m0 11h0m0 3h0m0 52h0m0 64h0m0 47h0m0 6h0m0 24h0m0 19h0m1 -264h0m0 3h0m0 8h0m0 3h0m0 82h0m0 0h0m0 4h0m0 3h0m0 13h0m0 14h0m0 15h0m0 10h0m0 17h0m0 10h0m1 -185h0m0 2h0m0 39h0m0 22h0m0 15h0m0 4h0m0 95h0m0 0h0m0 45h0m0 21h0m0 25h0m1 -232h0m0 14h0m0 156h0m0 17h0m0 50h0m1 -258h0m0 96h0m0 14h0m0 23h0m0 25h0m0 45h0m0 40h0m0 19h0m1 -277h0m0 1h0m0 11h0m0 75h0m0 10h0m0 3h0m0 23h0m0 15h0m0 7h0m0 37h0m0 24h0m0 3h0m0 14h0m0 12h0m0 3h0m1 -160h0m0 63h0m0 23h0m0 18h0m0 15h0m0 47h0m1 -227h0m0 6h0m0 48h0m0 34h0m0 14h0m0 93h0m0 34h0m0 15h0m1 -201h0m0 118h0m0 8h0m0 16h0m0 2h0m0 64h0m1 -266h0m0 66h0m0 25h0m0 6h0m0 32h0m0 33h0m0 21h0m0 3h0m0 50h0m1 -241h0m0 46h0m0 15h0m0 22h0m0 55h0m0 17h0m0 7h0m0 61h0m0 22h0m0 2h0m0 7h0m0 22h0m1 -263h0m0 9h0m0 19h0m0 1h0m0 35h0m0 22h0m0 3h0m0 57h0m0 58h0m0 8h0m0 22h0m1 -228h0m0 61h0m0 74h0m0 3h0m0 1h0m0 0h0m0 1h0m0 8h0m0 20h0m0 40h0m0 10h0m0 13h0m1 -225h0m0 7h0m0 8h0m0 9h0m0 64h0m0 3h0m0 34h0m0 14h0m0 45h0m0 11h0m1 -189h0m0 8h0m0 8h0m0 8h0m0 26h0m0 33h0m0 5h0m0 25h0m0 1h0m0 14h0m0 9h0m0 2h0m0 93h0m0 4h0m1 -238h0m0 15h0m0 31h0m0 3h0m0 5h0m0 14h0m0 32h0m0 23h0m0 14h0m0 35h0m0 17h0m0 32h0m1 -148h0m0 3h0m0 15h0m0 12h0m0 16h0m0 61h0m0 21h0m1 -207h0m0 24h0m0 32h0m0 111h0m0 8h0m0 2h0m0 27h0m0 38h0m0 9h0m0 2h0m1 -243h0m0 38h0m0 128h0m0 14h0m0 5h0m0 18h0m1 -223h0m0 34h0m0 30h0m0 33h0m0 36h0m0 6h0m0 27h0m0 86h0m1 -186h0m0 1h0m0 6h0m0 22h0m0 34h0m0 14h0m0 4h0m0 0h0m0 44h0m0 7h0m0 10h0m0 22h0m0 0h0m0 0h0m1 -217h0m0 23h0m0 9h0m0 16h0m0 39h0m0 47h0m0 5h0m0 13h0m1 -152h0m0 10h0m0 30h0m0 20h0m0 16h0m0 59h0m0 4h0m0 6h0m0 8h0m0 23h0m0 68h0m1 -240h0m0 29h0m0 3h0m0 19h0m0 6h0m0 1h0m0 26h0m0 37h0m0 3h0m0 36h0m0 31h0m0 59h0m0 3h0m1 -249h0m0 9h0m0 10h0m0 43h0m0 29h0m0 15h0m0 5h0m0 89h0m0 36h0m1 -255h0m0 35h0m0 45h0m0 21h0m0 59h0m0 16h0m0 14h0m0 8h0m0 7h0m0 57h0m1 -245h0m0 11h0m0 16h0m0 29h0m0 10h0m0 15h0m0 1h0m0 116h0m1 -128h0m0 46h0m0 1h0m0 0h0m0 42h0m0 3h0m1 -191h0m0 5h0m0 12h0m0 5h0m0 11h0m0 41h0m0 5h0m0 60h0m0 64h0m0 1h0m0 21h0m0 11h0m1 -217h0m0 32h0m0 2h0m0 8h0m0 3h0m0 32h0m0 6h0m0 3h0m0 18h0m0 0h0m0 72h0m1 -170h0m0 4h0m0 26h0m0 9h0m0 7h0m0 50h0m0 7h0m0 9h0m0 69h0m0 14h0m0 0h0m1 -209h0m0 1h0m0 63h0m0 2h0m0 7h0m0 9h0m0 33h0m0 21h0m0 71h0m0 3h0m0 19h0m0 21h0m1 -224h0m0 18h0m0 17h0m0 31h0m0 16h0m0 6h0m0 1h0m0 59h0m0 21h0m0 3h0m0 1h0m0 35h0m1 -248h0m0 56h0m0 80h0m0 19h0m0 7h0m0 4h0m0 5h0m0 15h0m0 1h0m0 15h0m0 63h0m1 -248h0m0 24h0m0 6h0m0 10h0m0 28h0m0 1h0m0 51h0m0 23h0m0 3h0" fill="none" stroke="#55a688" stroke-width="1.9" stroke-linecap="round" stroke-opacity="0.4"/><path d="M2730.3,1406.7L2742.4,1326.9L2754.4,1316.2L2766.4,1309.8L2778.5,1305.4L2790.6,1301.9L2802.6,1299.1L2814.6,1296.7L2826.7,1294.6" fill="none" stroke="#4f9e7c" stroke-width="2.7" stroke-linejoin="round" stroke-opacity="0.93"/><rect x="2730.3" y="1264.5" width="96.4" height="141.5" fill="none" stroke="#3a3a3a" stroke-width="1.1"/><rect x="2578.7" y="1462.4" width="32.2" height="47.3" fill="none" stroke="#858585" stroke-width="1"/><path d="M2578.7,1462.4L2730.3,1264.5M2610.9,1509.7L2826.7,1406.0" stroke="#858585" stroke-width="1" fill="none"/><text x="2778.5" y="1566.8" font-size="18.7">Type ID</text><text x="2531.5" y="1393.6" font-size="18.5" transform="rotate(-90 2531.5 1393.6)">Mean loss</text><rect x="3078.3" y="1258.1" width="417.4" height="269.6" fill="none" stroke="#3a3a3a" stroke-width="1.1"/><text x="3096.2" y="1545.2" font-size="11.26">0</text><text x="3171.8" y="1545.2" font-size="11.26">10000</text><text x="3247.4" y="1545.2" font-size="11.26">20000</text><text x="3322.9" y="1545.2" font-size="11.26">30000</text><text x="3398.5" y="1545.2" font-size="11.26">40000</text><text x="3474.1" y="1545.2" font-size="11.26">50000</text><text x="3069.8" y="1516.2" font-size="11.26" transform="rotate(-90 3069.8 1516.2)">0.0</text><text x="3069.8" y="1467.0" font-size="11.26" transform="rotate(-90 3069.8 1467.0)">0.2</text><text x="3069.8" y="1417.8" font-size="11.26" transform="rotate(-90 3069.8 1417.8)">0.4</text><text x="3069.8" y="1368.5" font-size="11.26" transform="rotate(-90 3069.8 1368.5)">0.6</text><text x="3069.8" y="1319.3" font-size="11.26" transform="rotate(-90 3069.8 1319.3)">0.8</text><text x="3069.8" y="1270.1" font-size="11.26" transform="rotate(-90 3069.8 1270.1)">1.0</text><path d="M3096.2,1516.2L3096.4,1503.8L3097.1,1502.9L3097.4,1490.9L3099,1463.4L3102.2,1435.8L3106.8,1412.9L3115,1392.2L3122.9,1378.4L3136.6,1357.8L3155,1339.4L3178,1324.7L3214.7,1308.6L3260.6,1295.8L3306.5,1286.6L3352.4,1280.2L3398.4,1276L3444.3,1271.9L3476.4,1269.6" fill="none" stroke="#4f9e7c" stroke-width="1.9" stroke-linejoin="round"/><path d="M3109.6,1392.6h11M3115.1,1387.1v11" stroke="#d62728" stroke-width="1.3"/><text x="3127.4" y="1389.0" font-size="11.8" text-anchor="start">50% of loss with 5% of types</text><text x="3027.6" y="1392.7" font-size="18.7" transform="rotate(-90 3027.6 1392.7)">Cumulative proportion</text><text x="3049.6" y="1392.7" font-size="18.7" transform="rotate(-90 3049.6 1392.7)">of total loss</text><text x="3286.8" y="1566.8" font-size="18.7">Type ID</text><path d="M2578.7,1527.7v4M2658.1,1527.7v4M2737.6,1527.7v4M2817.0,1527.7v4M2896.5,1527.7v4M2975.9,1527.7v4M2559.0,1509.7h-4M2559.0,1450.9h-4M2559.0,1392.0h-4M2559.0,1333.2h-4M2559.0,1274.3h-4M2730.3,1264.5h-3M2730.3,1299.9h-3M2730.3,1335.2h-3M2730.3,1370.6h-3M2730.3,1406.0h-3M2730.3,1406.0v3M2778.5,1406.0v3M2826.7,1406.0v3M3096.2,1527.7v4M3171.8,1527.7v4M3247.4,1527.7v4M3322.9,1527.7v4M3398.5,1527.7v4M3474.1,1527.7v4M3078.3,1516.2h-4M3078.3,1467.0h-4M3078.3,1417.8h-4M3078.3,1368.5h-4M3078.3,1319.3h-4M3078.3,1270.1h-4" stroke="#3a3a3a" stroke-width="0.95"/><g font-family="Liberation Sans, Arial, sans-serif"><text x="2778.5" y="1598.8" font-size="23.3">(a)</text><text x="3284.5" y="1598.8" font-size="23.3">(b)</text></g></svg>
<div class="abs p" id="p8" style="left:2526.4px;top:1640.82px;line-height:40.55px"><b>Strings:</b> Above are mean and total loss per vocabulary type, i.e., specific<br>strings in the vocabulary. While high-frequency types (which have low IDs)<br>tend to have a low <i>average</i> loss as shown by a log-linear regression (a),<br>they contribute a substantial part of the <i>total</i> loss, simply by virtue of their<br>frequent occurrence in the data (b). The figure shows the distributions for<br>Pythia-7B on C4-100-domains, but the overall picture is consistent for<br>different models and sources.</div>
<div class="ftr"></div>
<div class="abs big" id="big1" style="left:2504px;top:2020px;letter-spacing:1.8px">more details</div>
<div class="abs big" id="big2" style="left:2525.5px;top:2152px;letter-spacing:0.45px">in our paper</div>
<svg style="position:absolute;left:3210px;top:2018px;overflow:visible" width="280" height="280" viewBox="3210 2018 280 280" shape-rendering="crispEdges"><path d="M3218.0,2025.2h56.29v8.17h-56.29zM3290.2,2025.2h24.21v8.17h-24.21zM3330.3,2025.2h8.17v8.17h-8.17zM3346.3,2025.2h16.19v8.17h-16.19zM3378.4,2025.2h24.21v8.17h-24.21zM3410.5,2025.2h8.17v8.17h-8.17zM3426.5,2025.2h8.17v8.17h-8.17zM3458.6,2025.2h16.19v8.17h-16.19zM3218.0,2033.2h8.17v8.17h-8.17zM3266.1,2033.2h8.17v8.17h-8.17zM3290.2,2033.2h40.25v8.17h-40.25zM3338.3,2033.2h8.17v8.17h-8.17zM3394.4,2033.2h8.17v8.17h-8.17zM3418.5,2033.2h8.17v8.17h-8.17zM3218.0,2041.2h8.17v8.17h-8.17zM3234.0,2041.2h24.21v8.17h-24.21zM3266.1,2041.2h8.17v8.17h-8.17zM3290.2,2041.2h8.17v8.17h-8.17zM3314.2,2041.2h16.19v8.17h-16.19zM3338.3,2041.2h8.17v8.17h-8.17zM3354.3,2041.2h8.17v8.17h-8.17zM3402.5,2041.2h16.19v8.17h-16.19zM3442.6,2041.2h16.19v8.17h-16.19zM3466.6,2041.2h16.19v8.17h-16.19zM3218.0,2049.3h8.17v8.17h-8.17zM3234.0,2049.3h24.21v8.17h-24.21zM3266.1,2049.3h8.17v8.17h-8.17zM3298.2,2049.3h16.19v8.17h-16.19zM3330.3,2049.3h8.17v8.17h-8.17zM3362.4,2049.3h8.17v8.17h-8.17zM3378.4,2049.3h8.17v8.17h-8.17zM3410.5,2049.3h16.19v8.17h-16.19zM3434.5,2049.3h40.25v8.17h-40.25zM3218.0,2057.3h8.17v8.17h-8.17zM3234.0,2057.3h24.21v8.17h-24.21zM3266.1,2057.3h8.17v8.17h-8.17zM3290.2,2057.3h8.17v8.17h-8.17zM3306.2,2057.3h16.19v8.17h-16.19zM3330.3,2057.3h8.17v8.17h-8.17zM3346.3,2057.3h56.29v8.17h-56.29zM3410.5,2057.3h40.25v8.17h-40.25zM3466.6,2057.3h16.19v8.17h-16.19zM3218.0,2065.3h8.17v8.17h-8.17zM3266.1,2065.3h8.17v8.17h-8.17zM3282.2,2065.3h40.25v8.17h-40.25zM3330.3,2065.3h8.17v8.17h-8.17zM3346.3,2065.3h16.19v8.17h-16.19zM3370.4,2065.3h8.17v8.17h-8.17zM3386.4,2065.3h32.23v8.17h-32.23zM3442.6,2065.3h32.23v8.17h-32.23zM3218.0,2073.3h56.29v8.17h-56.29zM3290.2,2073.3h8.17v8.17h-8.17zM3314.2,2073.3h8.17v8.17h-8.17zM3330.3,2073.3h16.19v8.17h-16.19zM3354.3,2073.3h16.19v8.17h-16.19zM3378.4,2073.3h8.17v8.17h-8.17zM3394.4,2073.3h8.17v8.17h-8.17zM3410.5,2073.3h8.17v8.17h-8.17zM3426.5,2073.3h8.17v8.17h-8.17zM3442.6,2073.3h32.23v8.17h-32.23zM3282.2,2081.3h16.19v8.17h-16.19zM3322.3,2081.3h8.17v8.17h-8.17zM3354.3,2081.3h16.19v8.17h-16.19zM3386.4,2081.3h8.17v8.17h-8.17zM3402.5,2081.3h16.19v8.17h-16.19zM3442.6,2081.3h8.17v8.17h-8.17zM3458.6,2081.3h8.17v8.17h-8.17zM3474.6,2081.3h8.17v8.17h-8.17zM3218.0,2089.4h24.21v8.17h-24.21zM3250.1,2089.4h8.17v8.17h-8.17zM3266.1,2089.4h16.19v8.17h-16.19zM3314.2,2089.4h32.23v8.17h-32.23zM3362.4,2089.4h88.37v8.17h-88.37zM3474.6,2089.4h8.17v8.17h-8.17zM3218.0,2097.4h8.17v8.17h-8.17zM3242.1,2097.4h8.17v8.17h-8.17zM3258.1,2097.4h8.17v8.17h-8.17zM3274.1,2097.4h24.21v8.17h-24.21zM3322.3,2097.4h8.17v8.17h-8.17zM3346.3,2097.4h24.21v8.17h-24.21zM3394.4,2097.4h8.17v8.17h-8.17zM3410.5,2097.4h8.17v8.17h-8.17zM3442.6,2097.4h40.25v8.17h-40.25zM3218.0,2105.4h8.17v8.17h-8.17zM3242.1,2105.4h16.19v8.17h-16.19zM3266.1,2105.4h16.19v8.17h-16.19zM3298.2,2105.4h8.17v8.17h-8.17zM3314.2,2105.4h8.17v8.17h-8.17zM3338.3,2105.4h24.21v8.17h-24.21zM3370.4,2105.4h24.21v8.17h-24.21zM3410.5,2105.4h8.17v8.17h-8.17zM3434.5,2105.4h8.17v8.17h-8.17zM3218.0,2113.4h8.17v8.17h-8.17zM3234.0,2113.4h16.19v8.17h-16.19zM3306.2,2113.4h8.17v8.17h-8.17zM3322.3,2113.4h8.17v8.17h-8.17zM3338.3,2113.4h8.17v8.17h-8.17zM3354.3,2113.4h16.19v8.17h-16.19zM3394.4,2113.4h8.17v8.17h-8.17zM3410.5,2113.4h8.17v8.17h-8.17zM3426.5,2113.4h24.21v8.17h-24.21zM3458.6,2113.4h8.17v8.17h-8.17zM3218.0,2121.4h8.17v8.17h-8.17zM3250.1,2121.4h24.21v8.17h-24.21zM3282.2,2121.4h16.19v8.17h-16.19zM3314.2,2121.4h8.17v8.17h-8.17zM3330.3,2121.4h8.17v8.17h-8.17zM3370.4,2121.4h16.19v8.17h-16.19zM3394.4,2121.4h8.17v8.17h-8.17zM3410.5,2121.4h48.27v8.17h-48.27zM3242.1,2129.5h24.21v8.17h-24.21zM3290.2,2129.5h16.19v8.17h-16.19zM3338.3,2129.5h8.17v8.17h-8.17zM3354.3,2129.5h16.19v8.17h-16.19zM3402.5,2129.5h16.19v8.17h-16.19zM3450.6,2129.5h16.19v8.17h-16.19zM3474.6,2129.5h8.17v8.17h-8.17zM3218.0,2137.5h32.23v8.17h-32.23zM3258.1,2137.5h32.23v8.17h-32.23zM3306.2,2137.5h8.17v8.17h-8.17zM3330.3,2137.5h8.17v8.17h-8.17zM3354.3,2137.5h16.19v8.17h-16.19zM3394.4,2137.5h16.19v8.17h-16.19zM3418.5,2137.5h24.21v8.17h-24.21zM3450.6,2137.5h32.23v8.17h-32.23zM3218.0,2145.5h8.17v8.17h-8.17zM3282.2,2145.5h8.17v8.17h-8.17zM3354.3,2145.5h24.21v8.17h-24.21zM3402.5,2145.5h16.19v8.17h-16.19zM3426.5,2145.5h16.19v8.17h-16.19zM3466.6,2145.5h8.17v8.17h-8.17zM3250.1,2153.5h56.29v8.17h-56.29zM3322.3,2153.5h8.17v8.17h-8.17zM3338.3,2153.5h16.19v8.17h-16.19zM3378.4,2153.5h8.17v8.17h-8.17zM3402.5,2153.5h8.17v8.17h-8.17zM3442.6,2153.5h32.23v8.17h-32.23zM3242.1,2161.5h16.19v8.17h-16.19zM3314.2,2161.5h48.27v8.17h-48.27zM3378.4,2161.5h8.17v8.17h-8.17zM3402.5,2161.5h8.17v8.17h-8.17zM3418.5,2161.5h8.17v8.17h-8.17zM3434.5,2161.5h8.17v8.17h-8.17zM3458.6,2161.5h24.21v8.17h-24.21zM3218.0,2169.6h8.17v8.17h-8.17zM3234.0,2169.6h48.27v8.17h-48.27zM3298.2,2169.6h40.25v8.17h-40.25zM3346.3,2169.6h24.21v8.17h-24.21zM3378.4,2169.6h8.17v8.17h-8.17zM3394.4,2169.6h8.17v8.17h-8.17zM3410.5,2169.6h8.17v8.17h-8.17zM3434.5,2169.6h16.19v8.17h-16.19zM3458.6,2169.6h16.19v8.17h-16.19zM3226.0,2177.6h16.19v8.17h-16.19zM3282.2,2177.6h8.17v8.17h-8.17zM3298.2,2177.6h8.17v8.17h-8.17zM3322.3,2177.6h8.17v8.17h-8.17zM3354.3,2177.6h8.17v8.17h-8.17zM3370.4,2177.6h40.25v8.17h-40.25zM3418.5,2177.6h16.19v8.17h-16.19zM3458.6,2177.6h8.17v8.17h-8.17zM3474.6,2177.6h8.17v8.17h-8.17zM3218.0,2185.6h8.17v8.17h-8.17zM3242.1,2185.6h8.17v8.17h-8.17zM3258.1,2185.6h16.19v8.17h-16.19zM3282.2,2185.6h16.19v8.17h-16.19zM3314.2,2185.6h32.23v8.17h-32.23zM3362.4,2185.6h8.17v8.17h-8.17zM3386.4,2185.6h16.19v8.17h-16.19zM3410.5,2185.6h8.17v8.17h-8.17zM3426.5,2185.6h8.17v8.17h-8.17zM3450.6,2185.6h8.17v8.17h-8.17zM3466.6,2185.6h16.19v8.17h-16.19zM3226.0,2193.6h8.17v8.17h-8.17zM3250.1,2193.6h16.19v8.17h-16.19zM3282.2,2193.6h8.17v8.17h-8.17zM3298.2,2193.6h24.21v8.17h-24.21zM3330.3,2193.6h8.17v8.17h-8.17zM3354.3,2193.6h8.17v8.17h-8.17zM3394.4,2193.6h16.19v8.17h-16.19zM3418.5,2193.6h8.17v8.17h-8.17zM3434.5,2193.6h8.17v8.17h-8.17zM3450.6,2193.6h24.21v8.17h-24.21zM3242.1,2201.6h8.17v8.17h-8.17zM3266.1,2201.6h16.19v8.17h-16.19zM3306.2,2201.6h16.19v8.17h-16.19zM3338.3,2201.6h8.17v8.17h-8.17zM3354.3,2201.6h8.17v8.17h-8.17zM3370.4,2201.6h8.17v8.17h-8.17zM3386.4,2201.6h8.17v8.17h-8.17zM3402.5,2201.6h8.17v8.17h-8.17zM3426.5,2201.6h16.19v8.17h-16.19zM3450.6,2201.6h8.17v8.17h-8.17zM3466.6,2201.6h8.17v8.17h-8.17zM3218.0,2209.7h8.17v8.17h-8.17zM3234.0,2209.7h8.17v8.17h-8.17zM3250.1,2209.7h8.17v8.17h-8.17zM3290.2,2209.7h8.17v8.17h-8.17zM3314.2,2209.7h16.19v8.17h-16.19zM3346.3,2209.7h16.19v8.17h-16.19zM3370.4,2209.7h16.19v8.17h-16.19zM3410.5,2209.7h16.19v8.17h-16.19zM3434.5,2209.7h24.21v8.17h-24.21zM3466.6,2209.7h8.17v8.17h-8.17zM3258.1,2217.7h16.19v8.17h-16.19zM3306.2,2217.7h48.27v8.17h-48.27zM3378.4,2217.7h16.19v8.17h-16.19zM3402.5,2217.7h8.17v8.17h-8.17zM3426.5,2217.7h8.17v8.17h-8.17zM3442.6,2217.7h8.17v8.17h-8.17zM3458.6,2217.7h8.17v8.17h-8.17zM3474.6,2217.7h8.17v8.17h-8.17zM3282.2,2225.7h16.19v8.17h-16.19zM3314.2,2225.7h24.21v8.17h-24.21zM3346.3,2225.7h16.19v8.17h-16.19zM3378.4,2225.7h8.17v8.17h-8.17zM3394.4,2225.7h16.19v8.17h-16.19zM3218.0,2233.7h56.29v8.17h-56.29zM3282.2,2233.7h8.17v8.17h-8.17zM3298.2,2233.7h8.17v8.17h-8.17zM3314.2,2233.7h8.17v8.17h-8.17zM3330.3,2233.7h8.17v8.17h-8.17zM3346.3,2233.7h8.17v8.17h-8.17zM3362.4,2233.7h8.17v8.17h-8.17zM3378.4,2233.7h8.17v8.17h-8.17zM3394.4,2233.7h8.17v8.17h-8.17zM3410.5,2233.7h8.17v8.17h-8.17zM3426.5,2233.7h56.29v8.17h-56.29zM3218.0,2241.7h8.17v8.17h-8.17zM3266.1,2241.7h8.17v8.17h-8.17zM3306.2,2241.7h16.19v8.17h-16.19zM3346.3,2241.7h40.25v8.17h-40.25zM3402.5,2241.7h16.19v8.17h-16.19zM3426.5,2241.7h8.17v8.17h-8.17zM3474.6,2241.7h8.17v8.17h-8.17zM3218.0,2249.8h8.17v8.17h-8.17zM3234.0,2249.8h24.21v8.17h-24.21zM3266.1,2249.8h8.17v8.17h-8.17zM3282.2,2249.8h16.19v8.17h-16.19zM3314.2,2249.8h8.17v8.17h-8.17zM3330.3,2249.8h24.21v8.17h-24.21zM3362.4,2249.8h40.25v8.17h-40.25zM3426.5,2249.8h8.17v8.17h-8.17zM3442.6,2249.8h24.21v8.17h-24.21zM3474.6,2249.8h8.17v8.17h-8.17zM3218.0,2257.8h8.17v8.17h-8.17zM3234.0,2257.8h24.21v8.17h-24.21zM3266.1,2257.8h8.17v8.17h-8.17zM3290.2,2257.8h8.17v8.17h-8.17zM3306.2,2257.8h8.17v8.17h-8.17zM3322.3,2257.8h16.19v8.17h-16.19zM3362.4,2257.8h16.19v8.17h-16.19zM3386.4,2257.8h8.17v8.17h-8.17zM3402.5,2257.8h16.19v8.17h-16.19zM3426.5,2257.8h8.17v8.17h-8.17zM3442.6,2257.8h24.21v8.17h-24.21zM3474.6,2257.8h8.17v8.17h-8.17zM3218.0,2265.8h8.17v8.17h-8.17zM3234.0,2265.8h24.21v8.17h-24.21zM3266.1,2265.8h8.17v8.17h-8.17zM3282.2,2265.8h16.19v8.17h-16.19zM3314.2,2265.8h16.19v8.17h-16.19zM3346.3,2265.8h8.17v8.17h-8.17zM3386.4,2265.8h32.23v8.17h-32.23zM3426.5,2265.8h8.17v8.17h-8.17zM3442.6,2265.8h24.21v8.17h-24.21zM3474.6,2265.8h8.17v8.17h-8.17zM3218.0,2273.8h8.17v8.17h-8.17zM3266.1,2273.8h8.17v8.17h-8.17zM3298.2,2273.8h8.17v8.17h-8.17zM3338.3,2273.8h8.17v8.17h-8.17zM3354.3,2273.8h16.19v8.17h-16.19zM3378.4,2273.8h24.21v8.17h-24.21zM3410.5,2273.8h8.17v8.17h-8.17zM3426.5,2273.8h8.17v8.17h-8.17zM3474.6,2273.8h8.17v8.17h-8.17zM3218.0,2281.8h56.29v8.17h-56.29zM3282.2,2281.8h16.19v8.17h-16.19zM3306.2,2281.8h8.17v8.17h-8.17zM3322.3,2281.8h8.17v8.17h-8.17zM3338.3,2281.8h32.23v8.17h-32.23zM3394.4,2281.8h8.17v8.17h-8.17zM3410.5,2281.8h8.17v8.17h-8.17zM3426.5,2281.8h56.29v8.17h-56.29z" fill="#d4569b"/></svg>
</body>
</html>
